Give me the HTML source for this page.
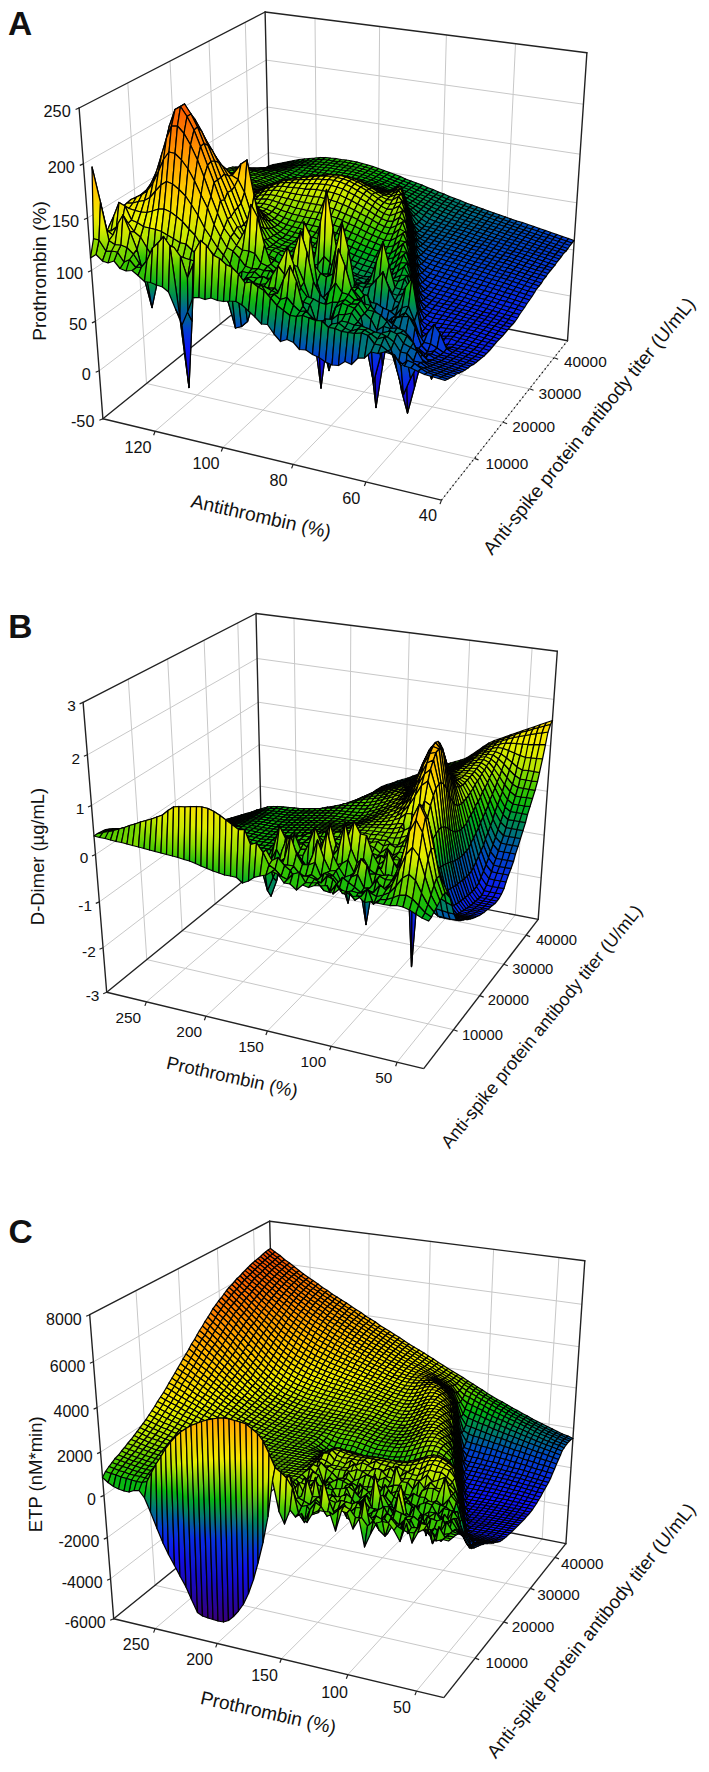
<!DOCTYPE html><html><head><meta charset="utf-8"><style>html,body{margin:0;padding:0;background:#fff;width:709px;height:1772px;overflow:hidden}svg{display:block}.au{fill:#120ed6}.av{fill:#120fd9}.aw{fill:#110fdd}.ax{fill:#1110e0}.ay{fill:#1110e3}.az{fill:#1111e6}.b0{fill:#1011e9}.b1{fill:#1012ec}.b2{fill:#1012ef}.b3{fill:#1013f3}.b4{fill:#0f13f6}.b5{fill:#0f14f9}.b6{fill:#0e16f8}.b7{fill:#0d1af4}.b8{fill:#0c1df1}.b9{fill:#0b21ed}.ba{fill:#0a24ea}.bb{fill:#0928e6}.bc{fill:#082be3}.bd{fill:#072fdf}.be{fill:#0632dc}.bf{fill:#0536d8}.bg{fill:#0439d5}.bh{fill:#033dd1}.bi{fill:#0240ce}.bj{fill:#0144ca}.bk{fill:#0048c4}.bl{fill:#004eba}.bm{fill:#0055af}.bn{fill:#005ba5}.bo{fill:#00619a}.bp{fill:#006890}.bq{fill:#006e85}.br{fill:#00747b}.bs{fill:#007b70}.bt{fill:#008166}.bu{fill:#00875c}.bv{fill:#008d52}.bw{fill:#009448}.bx{fill:#009a3e}.by{fill:#00a034}.bz{fill:#00a72a}.c0{fill:#00ad1f}.c1{fill:#00b315}.c2{fill:#08b711}.c3{fill:#12ba0e}.c4{fill:#1bbd0b}.c5{fill:#24c008}.c6{fill:#2ec305}.c7{fill:#37c602}.c8{fill:#43ca00}.c9{fill:#52cd00}.ca{fill:#60d100}.cb{fill:#6fd400}.cc{fill:#7dd800}.cd{fill:#8cdb00}.ce{fill:#9adf00}.cf{fill:#a8e200}.cg{fill:#b3e500}.ch{fill:#bae600}.ci{fill:#c0e700}.cj{fill:#c7e800}.ck{fill:#ceea00}.cl{fill:#d5eb00}.cm{fill:#dcec00}.cn{fill:#e2ed00}.co{fill:#e9ef00}.cp{fill:#f0f000}.cq{fill:#f1ed00}.cr{fill:#f2ea00}.cs{fill:#f3e800}.ct{fill:#f4e500}.cu{fill:#f5e200}.cv{fill:#f6df00}.cw{fill:#f7dc00}.cx{fill:#f8da00}.cy{fill:#f9d700}.cz{fill:#fad400}.d0{fill:#fcd100}.d1{fill:#fdce00}.d2{fill:#fecc00}.d3{fill:#ffc900}.d4{fill:#ffc600}.d5{fill:#ffc300}.d6{fill:#ffc000}.d7{fill:#ffbc00}.d8{fill:#ffb900}.d9{fill:#ffb600}.da{fill:#ffb300}.db{fill:#ffb000}.dc{fill:#ffad00}.dd{fill:#ffa900}.de{fill:#ffa600}.df{fill:#ffa300}.dg{fill:#ffa000}.dh{fill:#ff9d00}.di{fill:#ff9a00}.dj{fill:#ff9700}.dk{fill:#ff9300}.dl{fill:#ff9000}.dm{fill:#ff8d00}.dn{fill:#ff8a00}.do{fill:#ff8700}.dp{fill:#ff8400}.dq{fill:#fe8100}.dr{fill:#fe7e00}.ds{fill:#fe7b00}.dt{fill:#fd7800}.du{fill:#fd7500}.dv{fill:#fc7200}.dw{fill:#fc6f00}.dx{fill:#fc6c00}.dy{fill:#fb6900}.dz{fill:#fb6600}.e0{fill:#fb6300}.e1{fill:#fa6000}.e2{fill:#fa5d00}.e3{fill:#f95b00}.e4{fill:#f95800}.e5{fill:#f95500}.e6{fill:#f85200}.e7{fill:#f84f00}.e8{fill:#f84c00}</style></head><body><svg width="709" height="1772" viewBox="0 0 709 1772" font-family="Liberation Sans, sans-serif" fill="#111"><defs><linearGradient id="q17_20" x2="0" y2="1"><stop offset="0.00" stop-color="#3cc800"/><stop offset="1.00" stop-color="#00914c"/></linearGradient><linearGradient id="q18_21" x2="0" y2="1"><stop offset="0.00" stop-color="#76d600"/><stop offset="1.00" stop-color="#00aa24"/></linearGradient><linearGradient id="q16_19" x2="0" y2="1"><stop offset="0.00" stop-color="#16bb0d"/><stop offset="1.00" stop-color="#007875"/></linearGradient><linearGradient id="q19_22" x2="0" y2="1"><stop offset="0.00" stop-color="#afe400"/><stop offset="1.00" stop-color="#16bb0d"/></linearGradient><linearGradient id="q16_20" x2="0" y2="1"><stop offset="0.00" stop-color="#3cc800"/><stop offset="0.50" stop-color="#00aa24"/><stop offset="1.00" stop-color="#007875"/></linearGradient><linearGradient id="q17_22" x2="0" y2="1"><stop offset="0.00" stop-color="#afe400"/><stop offset="0.50" stop-color="#29c206"/><stop offset="1.00" stop-color="#00914c"/></linearGradient><linearGradient id="q15_19" x2="0" y2="1"><stop offset="0.00" stop-color="#16bb0d"/><stop offset="0.50" stop-color="#00914c"/><stop offset="1.00" stop-color="#005f9e"/></linearGradient><linearGradient id="q19_23" x2="0" y2="1"><stop offset="0.00" stop-color="#cae900"/><stop offset="0.50" stop-color="#75d600"/><stop offset="1.00" stop-color="#16bb0d"/></linearGradient><linearGradient id="q15_18" x2="0" y2="1"><stop offset="0.00" stop-color="#00aa24"/><stop offset="1.00" stop-color="#005f9e"/></linearGradient><linearGradient id="q18_22" x2="0" y2="1"><stop offset="0.00" stop-color="#afe400"/><stop offset="0.50" stop-color="#3cc800"/><stop offset="1.00" stop-color="#00aa24"/></linearGradient><linearGradient id="q15_20" x2="0" y2="1"><stop offset="0.00" stop-color="#3cc800"/><stop offset="0.50" stop-color="#009e38"/><stop offset="1.00" stop-color="#005f9e"/></linearGradient><linearGradient id="q22_26" x2="0" y2="1"><stop offset="0.00" stop-color="#f7de00"/><stop offset="0.50" stop-color="#e5ee00"/><stop offset="1.00" stop-color="#afe400"/></linearGradient><linearGradient id="q24_27" x2="0" y2="1"><stop offset="0.00" stop-color="#fbd300"/><stop offset="1.00" stop-color="#e5ee00"/></linearGradient><linearGradient id="q16_21" x2="0" y2="1"><stop offset="0.00" stop-color="#76d600"/><stop offset="0.50" stop-color="#04b513"/><stop offset="1.00" stop-color="#007875"/></linearGradient><linearGradient id="q14_18" x2="0" y2="1"><stop offset="0.00" stop-color="#00aa24"/><stop offset="0.50" stop-color="#007875"/><stop offset="1.00" stop-color="#0046c8"/></linearGradient><linearGradient id="q26_28" x2="0" y2="1"><stop offset="0.00" stop-color="#ffc800"/><stop offset="1.00" stop-color="#f7de00"/></linearGradient><linearGradient id="q27_31" x2="0" y2="1"><stop offset="0.00" stop-color="#ffa200"/><stop offset="0.50" stop-color="#ffbb00"/><stop offset="1.00" stop-color="#fbd300"/></linearGradient><linearGradient id="q26_30" x2="0" y2="1"><stop offset="0.00" stop-color="#ffaf00"/><stop offset="0.50" stop-color="#ffc800"/><stop offset="1.00" stop-color="#f7de00"/></linearGradient><linearGradient id="q29_32" x2="0" y2="1"><stop offset="0.00" stop-color="#ff9600"/><stop offset="1.00" stop-color="#ffbc00"/></linearGradient><linearGradient id="q25_28" x2="0" y2="1"><stop offset="0.00" stop-color="#ffc800"/><stop offset="1.00" stop-color="#f2e900"/></linearGradient><linearGradient id="q28_32" x2="0" y2="1"><stop offset="0.00" stop-color="#ff9600"/><stop offset="0.50" stop-color="#ffaf00"/><stop offset="1.00" stop-color="#ffc800"/></linearGradient><linearGradient id="q31_34" x2="0" y2="1"><stop offset="0.00" stop-color="#fe7e00"/><stop offset="1.00" stop-color="#ffa200"/></linearGradient><linearGradient id="q14_19" x2="0" y2="1"><stop offset="0.00" stop-color="#16bb0d"/><stop offset="0.50" stop-color="#008460"/><stop offset="1.00" stop-color="#0046c8"/></linearGradient><linearGradient id="q26_29" x2="0" y2="1"><stop offset="0.00" stop-color="#ffbc00"/><stop offset="1.00" stop-color="#f7de00"/></linearGradient><linearGradient id="q30_34" x2="0" y2="1"><stop offset="0.00" stop-color="#fe7e00"/><stop offset="0.50" stop-color="#ff9600"/><stop offset="1.00" stop-color="#ffaf00"/></linearGradient><linearGradient id="q32_36" x2="0" y2="1"><stop offset="0.00" stop-color="#fb6600"/><stop offset="0.50" stop-color="#fe7e00"/><stop offset="1.00" stop-color="#ff9600"/></linearGradient><linearGradient id="q31_35" x2="0" y2="1"><stop offset="0.00" stop-color="#fc7200"/><stop offset="0.50" stop-color="#ff8a00"/><stop offset="1.00" stop-color="#ffa200"/></linearGradient><linearGradient id="q13_17" x2="0" y2="1"><stop offset="0.00" stop-color="#00914c"/><stop offset="0.50" stop-color="#005f9e"/><stop offset="1.00" stop-color="#0438d6"/></linearGradient><linearGradient id="q23_30" x2="0" y2="1"><stop offset="0.00" stop-color="#ffaf00"/><stop offset="0.33" stop-color="#fecc00"/><stop offset="0.67" stop-color="#f4e600"/><stop offset="1.00" stop-color="#cae900"/></linearGradient><linearGradient id="q34_37" x2="0" y2="1"><stop offset="0.00" stop-color="#f95a00"/><stop offset="1.00" stop-color="#fe7e00"/></linearGradient><linearGradient id="q17_21" x2="0" y2="1"><stop offset="0.00" stop-color="#76d600"/><stop offset="0.50" stop-color="#16bb0d"/><stop offset="1.00" stop-color="#00914c"/></linearGradient><linearGradient id="q21_25" x2="0" y2="1"><stop offset="0.00" stop-color="#f2e900"/><stop offset="0.50" stop-color="#cae900"/><stop offset="1.00" stop-color="#76d600"/></linearGradient><linearGradient id="q32_35" x2="0" y2="1"><stop offset="0.00" stop-color="#fc7200"/><stop offset="1.00" stop-color="#ff9600"/></linearGradient><linearGradient id="q24_30" x2="0" y2="1"><stop offset="0.00" stop-color="#ffaf00"/><stop offset="0.50" stop-color="#fbd300"/><stop offset="1.00" stop-color="#e5ee00"/></linearGradient><linearGradient id="q28_31" x2="0" y2="1"><stop offset="0.00" stop-color="#ffa200"/><stop offset="1.00" stop-color="#ffc800"/></linearGradient><linearGradient id="q23_26" x2="0" y2="1"><stop offset="0.00" stop-color="#f7de00"/><stop offset="1.00" stop-color="#cae900"/></linearGradient><linearGradient id="q33_37" x2="0" y2="1"><stop offset="0.00" stop-color="#f95a00"/><stop offset="0.50" stop-color="#fc7200"/><stop offset="1.00" stop-color="#ff8a00"/></linearGradient><linearGradient id="q29_33" x2="0" y2="1"><stop offset="0.00" stop-color="#ff8a00"/><stop offset="0.50" stop-color="#ffa300"/><stop offset="1.00" stop-color="#ffbc00"/></linearGradient><linearGradient id="q33_36" x2="0" y2="1"><stop offset="0.00" stop-color="#fb6600"/><stop offset="1.00" stop-color="#ff8a00"/></linearGradient><linearGradient id="q23_31" x2="0" y2="1"><stop offset="0.00" stop-color="#ffa200"/><stop offset="0.33" stop-color="#ffc400"/><stop offset="0.67" stop-color="#f5e200"/><stop offset="1.00" stop-color="#cae900"/></linearGradient><linearGradient id="q22_27" x2="0" y2="1"><stop offset="0.00" stop-color="#fbd300"/><stop offset="0.50" stop-color="#f0ef00"/><stop offset="1.00" stop-color="#afe400"/></linearGradient><linearGradient id="q22_31" x2="0" y2="1"><stop offset="0.00" stop-color="#ffa200"/><stop offset="0.33" stop-color="#ffc800"/><stop offset="0.67" stop-color="#f2e900"/><stop offset="1.00" stop-color="#afe400"/></linearGradient><linearGradient id="q19_24" x2="0" y2="1"><stop offset="0.00" stop-color="#e5ee00"/><stop offset="0.50" stop-color="#92dd00"/><stop offset="1.00" stop-color="#16bb0d"/></linearGradient><linearGradient id="q27_30" x2="0" y2="1"><stop offset="0.00" stop-color="#ffaf00"/><stop offset="1.00" stop-color="#fbd300"/></linearGradient><linearGradient id="q25_29" x2="0" y2="1"><stop offset="0.00" stop-color="#ffbc00"/><stop offset="0.50" stop-color="#fbd300"/><stop offset="1.00" stop-color="#f2e900"/></linearGradient><linearGradient id="q21_27" x2="0" y2="1"><stop offset="0.00" stop-color="#fbd300"/><stop offset="0.50" stop-color="#e5ee00"/><stop offset="1.00" stop-color="#76d600"/></linearGradient><linearGradient id="q19_28" x2="0" y2="1"><stop offset="0.00" stop-color="#ffc800"/><stop offset="0.33" stop-color="#f2e900"/><stop offset="0.67" stop-color="#afe400"/><stop offset="1.00" stop-color="#16bb0d"/></linearGradient><linearGradient id="q22_25" x2="0" y2="1"><stop offset="0.00" stop-color="#f2e900"/><stop offset="1.00" stop-color="#afe400"/></linearGradient><linearGradient id="q18_24" x2="0" y2="1"><stop offset="0.00" stop-color="#e5ee00"/><stop offset="0.50" stop-color="#76d600"/><stop offset="1.00" stop-color="#00aa24"/></linearGradient><linearGradient id="q20_23" x2="0" y2="1"><stop offset="0.00" stop-color="#cae900"/><stop offset="1.00" stop-color="#3cc800"/></linearGradient><linearGradient id="q24_28" x2="0" y2="1"><stop offset="0.00" stop-color="#ffc800"/><stop offset="0.50" stop-color="#f7de00"/><stop offset="1.00" stop-color="#e5ee00"/></linearGradient><linearGradient id="q17_23" x2="0" y2="1"><stop offset="0.00" stop-color="#cae900"/><stop offset="0.50" stop-color="#3cc800"/><stop offset="1.00" stop-color="#00914c"/></linearGradient><linearGradient id="q23_25" x2="0" y2="1"><stop offset="0.00" stop-color="#f2e900"/><stop offset="1.00" stop-color="#cae900"/></linearGradient><linearGradient id="q13_16" x2="0" y2="1"><stop offset="0.00" stop-color="#007875"/><stop offset="1.00" stop-color="#0438d6"/></linearGradient><linearGradient id="q14_21" x2="0" y2="1"><stop offset="0.00" stop-color="#76d600"/><stop offset="0.33" stop-color="#0ab711"/><stop offset="0.67" stop-color="#008067"/><stop offset="1.00" stop-color="#0046c8"/></linearGradient><linearGradient id="q18_23" x2="0" y2="1"><stop offset="0.00" stop-color="#cae900"/><stop offset="0.50" stop-color="#59cf00"/><stop offset="1.00" stop-color="#00aa24"/></linearGradient><linearGradient id="q14_20" x2="0" y2="1"><stop offset="0.00" stop-color="#3cc800"/><stop offset="0.50" stop-color="#00914c"/><stop offset="1.00" stop-color="#0046c8"/></linearGradient><linearGradient id="q20_25" x2="0" y2="1"><stop offset="0.00" stop-color="#f2e900"/><stop offset="0.50" stop-color="#bde600"/><stop offset="1.00" stop-color="#3cc800"/></linearGradient><linearGradient id="q12_16" x2="0" y2="1"><stop offset="0.00" stop-color="#007875"/><stop offset="0.50" stop-color="#0046c8"/><stop offset="1.00" stop-color="#082ae4"/></linearGradient><linearGradient id="q20_22" x2="0" y2="1"><stop offset="0.00" stop-color="#afe400"/><stop offset="1.00" stop-color="#3cc800"/></linearGradient><linearGradient id="q17_25" x2="0" y2="1"><stop offset="0.00" stop-color="#f2e900"/><stop offset="0.33" stop-color="#b8e600"/><stop offset="0.67" stop-color="#30c404"/><stop offset="1.00" stop-color="#00914c"/></linearGradient><linearGradient id="q19_25" x2="0" y2="1"><stop offset="0.00" stop-color="#f2e900"/><stop offset="0.50" stop-color="#afe400"/><stop offset="1.00" stop-color="#16bb0d"/></linearGradient><linearGradient id="q13_20" x2="0" y2="1"><stop offset="0.00" stop-color="#3cc800"/><stop offset="0.33" stop-color="#00a231"/><stop offset="0.67" stop-color="#006790"/><stop offset="1.00" stop-color="#0438d6"/></linearGradient><linearGradient id="q18_25" x2="0" y2="1"><stop offset="0.00" stop-color="#f2e900"/><stop offset="0.33" stop-color="#c1e700"/><stop offset="0.67" stop-color="#4fcd00"/><stop offset="1.00" stop-color="#00aa24"/></linearGradient><linearGradient id="q13_19" x2="0" y2="1"><stop offset="0.00" stop-color="#16bb0d"/><stop offset="0.50" stop-color="#007875"/><stop offset="1.00" stop-color="#0438d6"/></linearGradient><linearGradient id="q11_15" x2="0" y2="1"><stop offset="0.00" stop-color="#005f9e"/><stop offset="0.50" stop-color="#0438d6"/><stop offset="1.00" stop-color="#0c1cf2"/></linearGradient><linearGradient id="q11_24" x2="0" y2="1"><stop offset="0.00" stop-color="#e5ee00"/><stop offset="0.20" stop-color="#8cdc00"/><stop offset="0.40" stop-color="#0fb90f"/><stop offset="0.60" stop-color="#007d6c"/><stop offset="0.80" stop-color="#0240ce"/><stop offset="1.00" stop-color="#0c1cf2"/></linearGradient><linearGradient id="q15_22" x2="0" y2="1"><stop offset="0.00" stop-color="#afe400"/><stop offset="0.33" stop-color="#30c404"/><stop offset="0.67" stop-color="#00993f"/><stop offset="1.00" stop-color="#005f9e"/></linearGradient><linearGradient id="q14_23" x2="0" y2="1"><stop offset="0.00" stop-color="#cae900"/><stop offset="0.33" stop-color="#3cc800"/><stop offset="0.67" stop-color="#00914c"/><stop offset="1.00" stop-color="#0046c8"/></linearGradient><linearGradient id="q5_18" x2="0" y2="1"><stop offset="0.00" stop-color="#00aa24"/><stop offset="0.20" stop-color="#00698e"/><stop offset="0.40" stop-color="#0535d9"/><stop offset="0.60" stop-color="#0f14f8"/><stop offset="0.80" stop-color="#120ed7"/><stop offset="1.00" stop-color="#1809b6"/></linearGradient><linearGradient id="q12_18" x2="0" y2="1"><stop offset="0.00" stop-color="#00aa24"/><stop offset="0.50" stop-color="#005f9e"/><stop offset="1.00" stop-color="#082ae4"/></linearGradient><linearGradient id="q5_22" x2="0" y2="1"><stop offset="0.00" stop-color="#afe400"/><stop offset="0.20" stop-color="#08b611"/><stop offset="0.40" stop-color="#006496"/><stop offset="0.60" stop-color="#0927e7"/><stop offset="0.80" stop-color="#1110e1"/><stop offset="1.00" stop-color="#1809b6"/></linearGradient><linearGradient id="q5_16" x2="0" y2="1"><stop offset="0.00" stop-color="#007875"/><stop offset="0.25" stop-color="#033cd2"/><stop offset="0.50" stop-color="#0f15f9"/><stop offset="0.75" stop-color="#120ed9"/><stop offset="1.00" stop-color="#1809b6"/></linearGradient><linearGradient id="q11_20" x2="0" y2="1"><stop offset="0.00" stop-color="#3cc800"/><stop offset="0.33" stop-color="#00914c"/><stop offset="0.67" stop-color="#0046c8"/><stop offset="1.00" stop-color="#0c1cf2"/></linearGradient><linearGradient id="q5_21" x2="0" y2="1"><stop offset="0.00" stop-color="#76d600"/><stop offset="0.20" stop-color="#00a52c"/><stop offset="0.40" stop-color="#0055af"/><stop offset="0.60" stop-color="#0b22ec"/><stop offset="0.80" stop-color="#110fde"/><stop offset="1.00" stop-color="#1809b6"/></linearGradient><linearGradient id="q11_18" x2="0" y2="1"><stop offset="0.00" stop-color="#00aa24"/><stop offset="0.33" stop-color="#007083"/><stop offset="0.67" stop-color="#033dd1"/><stop offset="1.00" stop-color="#0c1cf2"/></linearGradient><linearGradient id="q12_17" x2="0" y2="1"><stop offset="0.00" stop-color="#00914c"/><stop offset="0.50" stop-color="#0053b3"/><stop offset="1.00" stop-color="#082ae4"/></linearGradient><linearGradient id="q5_17" x2="0" y2="1"><stop offset="0.00" stop-color="#00914c"/><stop offset="0.25" stop-color="#0046c8"/><stop offset="0.50" stop-color="#0c1cf2"/><stop offset="0.75" stop-color="#120fdc"/><stop offset="1.00" stop-color="#1809b6"/></linearGradient><linearGradient id="q16_23" x2="0" y2="1"><stop offset="0.00" stop-color="#cae900"/><stop offset="0.33" stop-color="#62d100"/><stop offset="0.67" stop-color="#00b217"/><stop offset="1.00" stop-color="#007875"/></linearGradient><linearGradient id="q14_17" x2="0" y2="1"><stop offset="0.00" stop-color="#00914c"/><stop offset="1.00" stop-color="#0046c8"/></linearGradient><linearGradient id="q9_12" x2="0" y2="1"><stop offset="0.00" stop-color="#082ae4"/><stop offset="1.00" stop-color="#1011e8"/></linearGradient><linearGradient id="q7_11" x2="0" y2="1"><stop offset="0.00" stop-color="#0c1cf2"/><stop offset="0.50" stop-color="#1011e8"/><stop offset="1.00" stop-color="#130dd0"/></linearGradient><linearGradient id="q12_20" x2="0" y2="1"><stop offset="0.00" stop-color="#3cc800"/><stop offset="0.33" stop-color="#00993f"/><stop offset="0.67" stop-color="#0057ac"/><stop offset="1.00" stop-color="#082ae4"/></linearGradient><linearGradient id="q21_24" x2="0" y2="1"><stop offset="0.00" stop-color="#e5ee00"/><stop offset="1.00" stop-color="#76d600"/></linearGradient><linearGradient id="q9_16" x2="0" y2="1"><stop offset="0.00" stop-color="#007875"/><stop offset="0.33" stop-color="#0141cd"/><stop offset="0.67" stop-color="#0b21ed"/><stop offset="1.00" stop-color="#1011e8"/></linearGradient><linearGradient id="q10_18" x2="0" y2="1"><stop offset="0.00" stop-color="#00aa24"/><stop offset="0.33" stop-color="#006790"/><stop offset="0.67" stop-color="#0633db"/><stop offset="1.00" stop-color="#0f13f5"/></linearGradient><linearGradient id="q7_12" x2="0" y2="1"><stop offset="0.00" stop-color="#082ae4"/><stop offset="0.50" stop-color="#1012ef"/><stop offset="1.00" stop-color="#130dd0"/></linearGradient><linearGradient id="q4_15" x2="0" y2="1"><stop offset="0.00" stop-color="#005f9e"/><stop offset="0.25" stop-color="#072ee0"/><stop offset="0.50" stop-color="#1012ef"/><stop offset="0.75" stop-color="#130ccc"/><stop offset="1.00" stop-color="#1e07aa"/></linearGradient><linearGradient id="q4_14" x2="0" y2="1"><stop offset="0.00" stop-color="#0046c8"/><stop offset="0.25" stop-color="#0a23eb"/><stop offset="0.50" stop-color="#1011e8"/><stop offset="0.75" stop-color="#130cc9"/><stop offset="1.00" stop-color="#1e07aa"/></linearGradient><linearGradient id="q9_15" x2="0" y2="1"><stop offset="0.00" stop-color="#005f9e"/><stop offset="0.50" stop-color="#082ae4"/><stop offset="1.00" stop-color="#1011e8"/></linearGradient><linearGradient id="q4_16" x2="0" y2="1"><stop offset="0.00" stop-color="#007875"/><stop offset="0.25" stop-color="#0438d6"/><stop offset="0.50" stop-color="#0f13f5"/><stop offset="0.75" stop-color="#130dd0"/><stop offset="1.00" stop-color="#1e07aa"/></linearGradient><linearGradient id="q12_15" x2="0" y2="1"><stop offset="0.00" stop-color="#005f9e"/><stop offset="1.00" stop-color="#082ae4"/></linearGradient><linearGradient id="q13_18" x2="0" y2="1"><stop offset="0.00" stop-color="#00aa24"/><stop offset="0.50" stop-color="#006c89"/><stop offset="1.00" stop-color="#0438d6"/></linearGradient><linearGradient id="q15_23" x2="0" y2="1"><stop offset="0.00" stop-color="#cae900"/><stop offset="0.33" stop-color="#4fcd00"/><stop offset="0.67" stop-color="#00a231"/><stop offset="1.00" stop-color="#005f9e"/></linearGradient><linearGradient id="q8_15" x2="0" y2="1"><stop offset="0.00" stop-color="#005f9e"/><stop offset="0.33" stop-color="#0633db"/><stop offset="0.67" stop-color="#0f14f9"/><stop offset="1.00" stop-color="#120fdc"/></linearGradient><linearGradient id="q5_14" x2="0" y2="1"><stop offset="0.00" stop-color="#0046c8"/><stop offset="0.33" stop-color="#0c1cf2"/><stop offset="0.67" stop-color="#120fdc"/><stop offset="1.00" stop-color="#1809b6"/></linearGradient><linearGradient id="q11_16" x2="0" y2="1"><stop offset="0.00" stop-color="#007875"/><stop offset="0.50" stop-color="#023fcf"/><stop offset="1.00" stop-color="#0c1cf2"/></linearGradient><linearGradient id="q5_13" x2="0" y2="1"><stop offset="0.00" stop-color="#0438d6"/><stop offset="0.33" stop-color="#0f14f9"/><stop offset="0.67" stop-color="#120ed8"/><stop offset="1.00" stop-color="#1809b6"/></linearGradient><linearGradient id="q8_13" x2="0" y2="1"><stop offset="0.00" stop-color="#0438d6"/><stop offset="0.50" stop-color="#0f15f9"/><stop offset="1.00" stop-color="#120fdc"/></linearGradient><linearGradient id="q11_17" x2="0" y2="1"><stop offset="0.00" stop-color="#00914c"/><stop offset="0.50" stop-color="#0046c8"/><stop offset="1.00" stop-color="#0c1cf2"/></linearGradient><linearGradient id="q9_17" x2="0" y2="1"><stop offset="0.00" stop-color="#00914c"/><stop offset="0.33" stop-color="#004eba"/><stop offset="0.67" stop-color="#0a26e8"/><stop offset="1.00" stop-color="#1011e8"/></linearGradient><linearGradient id="q8_14" x2="0" y2="1"><stop offset="0.00" stop-color="#0046c8"/><stop offset="0.50" stop-color="#0c1cf2"/><stop offset="1.00" stop-color="#120fdc"/></linearGradient><linearGradient id="q10_15" x2="0" y2="1"><stop offset="0.00" stop-color="#005f9e"/><stop offset="0.50" stop-color="#0631dd"/><stop offset="1.00" stop-color="#0f13f5"/></linearGradient><linearGradient id="q23_28" x2="0" y2="1"><stop offset="0.00" stop-color="#ffc800"/><stop offset="0.50" stop-color="#f5e400"/><stop offset="1.00" stop-color="#cae900"/></linearGradient><linearGradient id="q24_29" x2="0" y2="1"><stop offset="0.00" stop-color="#ffbc00"/><stop offset="0.50" stop-color="#f9d900"/><stop offset="1.00" stop-color="#e5ee00"/></linearGradient><linearGradient id="q20_26" x2="0" y2="1"><stop offset="0.00" stop-color="#f7de00"/><stop offset="0.50" stop-color="#cae900"/><stop offset="1.00" stop-color="#3cc800"/></linearGradient><linearGradient id="q21_26" x2="0" y2="1"><stop offset="0.00" stop-color="#f7de00"/><stop offset="0.50" stop-color="#d8ec00"/><stop offset="1.00" stop-color="#76d600"/></linearGradient><linearGradient id="q5_23" x2="0" y2="1"><stop offset="0.00" stop-color="#cae900"/><stop offset="0.20" stop-color="#25c008"/><stop offset="0.40" stop-color="#00737d"/><stop offset="0.60" stop-color="#082de1"/><stop offset="0.80" stop-color="#1110e3"/><stop offset="1.00" stop-color="#1809b6"/></linearGradient><linearGradient id="q5_25" x2="0" y2="1"><stop offset="0.00" stop-color="#f2e900"/><stop offset="0.20" stop-color="#76d600"/><stop offset="0.40" stop-color="#00914c"/><stop offset="0.60" stop-color="#0438d6"/><stop offset="0.80" stop-color="#1011e8"/><stop offset="1.00" stop-color="#1809b6"/></linearGradient><linearGradient id="q16_22" x2="0" y2="1"><stop offset="0.00" stop-color="#afe400"/><stop offset="0.50" stop-color="#17bc0c"/><stop offset="1.00" stop-color="#007875"/></linearGradient><linearGradient id="q20_24" x2="0" y2="1"><stop offset="0.00" stop-color="#e5ee00"/><stop offset="0.50" stop-color="#afe400"/><stop offset="1.00" stop-color="#3cc800"/></linearGradient><linearGradient id="q19_26" x2="0" y2="1"><stop offset="0.00" stop-color="#f7de00"/><stop offset="0.33" stop-color="#dcec00"/><stop offset="0.67" stop-color="#89db00"/><stop offset="1.00" stop-color="#16bb0d"/></linearGradient><linearGradient id="q17_24" x2="0" y2="1"><stop offset="0.00" stop-color="#e5ee00"/><stop offset="0.33" stop-color="#9cdf00"/><stop offset="0.67" stop-color="#23c008"/><stop offset="1.00" stop-color="#00914c"/></linearGradient><linearGradient id="q13_21" x2="0" y2="1"><stop offset="0.00" stop-color="#76d600"/><stop offset="0.33" stop-color="#00b217"/><stop offset="0.67" stop-color="#007083"/><stop offset="1.00" stop-color="#0438d6"/></linearGradient><linearGradient id="q23_27" x2="0" y2="1"><stop offset="0.00" stop-color="#fbd300"/><stop offset="0.50" stop-color="#f2e900"/><stop offset="1.00" stop-color="#cae900"/></linearGradient><linearGradient id="q15_21" x2="0" y2="1"><stop offset="0.00" stop-color="#76d600"/><stop offset="0.50" stop-color="#00aa24"/><stop offset="1.00" stop-color="#005f9e"/></linearGradient><linearGradient id="q11_14" x2="0" y2="1"><stop offset="0.00" stop-color="#0046c8"/><stop offset="1.00" stop-color="#0c1cf2"/></linearGradient><linearGradient id="q12_19" x2="0" y2="1"><stop offset="0.00" stop-color="#16bb0d"/><stop offset="0.33" stop-color="#008959"/><stop offset="0.67" stop-color="#004eba"/><stop offset="1.00" stop-color="#082ae4"/></linearGradient><linearGradient id="q10_14" x2="0" y2="1"><stop offset="0.00" stop-color="#0046c8"/><stop offset="0.50" stop-color="#082ae4"/><stop offset="1.00" stop-color="#0f13f5"/></linearGradient><linearGradient id="q10_16" x2="0" y2="1"><stop offset="0.00" stop-color="#007875"/><stop offset="0.50" stop-color="#0438d6"/><stop offset="1.00" stop-color="#0f13f5"/></linearGradient><linearGradient id="q10_13" x2="0" y2="1"><stop offset="0.00" stop-color="#0438d6"/><stop offset="1.00" stop-color="#0f13f5"/></linearGradient><linearGradient id="q13_22" x2="0" y2="1"><stop offset="0.00" stop-color="#afe400"/><stop offset="0.33" stop-color="#17bc0c"/><stop offset="0.67" stop-color="#007875"/><stop offset="1.00" stop-color="#0438d6"/></linearGradient><linearGradient id="q9_25" x2="0" y2="1"><stop offset="0.00" stop-color="#f2e900"/><stop offset="0.20" stop-color="#a3e100"/><stop offset="0.40" stop-color="#07b612"/><stop offset="0.60" stop-color="#00698e"/><stop offset="0.80" stop-color="#082de1"/><stop offset="1.00" stop-color="#1011e8"/></linearGradient><linearGradient id="q8_26" x2="0" y2="1"><stop offset="0.00" stop-color="#f7de00"/><stop offset="0.20" stop-color="#bae600"/><stop offset="0.40" stop-color="#0fb90f"/><stop offset="0.60" stop-color="#006496"/><stop offset="0.80" stop-color="#0a25e9"/><stop offset="1.00" stop-color="#120fdc"/></linearGradient><linearGradient id="q6_27" x2="0" y2="1"><stop offset="0.00" stop-color="#fbd300"/><stop offset="0.20" stop-color="#c5e800"/><stop offset="0.40" stop-color="#08b611"/><stop offset="0.60" stop-color="#0050b7"/><stop offset="0.80" stop-color="#0f14f8"/><stop offset="1.00" stop-color="#140bc3"/></linearGradient><linearGradient id="q4_28" x2="0" y2="1"><stop offset="0.00" stop-color="#ffc800"/><stop offset="0.20" stop-color="#cfea00"/><stop offset="0.40" stop-color="#00b414"/><stop offset="0.60" stop-color="#0240ce"/><stop offset="0.80" stop-color="#1111e6"/><stop offset="1.00" stop-color="#1e07aa"/></linearGradient><linearGradient id="q3_29" x2="0" y2="1"><stop offset="0.00" stop-color="#ffbc00"/><stop offset="0.20" stop-color="#e0ed00"/><stop offset="0.40" stop-color="#07b612"/><stop offset="0.60" stop-color="#033ed0"/><stop offset="0.80" stop-color="#110fde"/><stop offset="1.00" stop-color="#24059d"/></linearGradient><linearGradient id="q1_29" x2="0" y2="1"><stop offset="0.00" stop-color="#ffbc00"/><stop offset="0.20" stop-color="#d5eb00"/><stop offset="0.40" stop-color="#00a52c"/><stop offset="0.60" stop-color="#082de1"/><stop offset="0.80" stop-color="#130cca"/><stop offset="1.00" stop-color="#310284"/></linearGradient><linearGradient id="q0_30" x2="0" y2="1"><stop offset="0.00" stop-color="#ffaf00"/><stop offset="0.20" stop-color="#e5ee00"/><stop offset="0.40" stop-color="#00aa24"/><stop offset="0.60" stop-color="#082ae4"/><stop offset="0.80" stop-color="#140bc3"/><stop offset="1.00" stop-color="#370078"/></linearGradient><linearGradient id="q0_31" x2="0" y2="1"><stop offset="0.00" stop-color="#ffa200"/><stop offset="0.20" stop-color="#f2ec00"/><stop offset="0.40" stop-color="#07b612"/><stop offset="0.60" stop-color="#0730de"/><stop offset="0.80" stop-color="#130bc5"/><stop offset="1.00" stop-color="#370078"/></linearGradient><linearGradient id="q1_31" x2="0" y2="1"><stop offset="0.00" stop-color="#ffa200"/><stop offset="0.20" stop-color="#f2e900"/><stop offset="0.40" stop-color="#16bb0d"/><stop offset="0.60" stop-color="#0438d6"/><stop offset="0.80" stop-color="#130dcf"/><stop offset="1.00" stop-color="#310284"/></linearGradient><linearGradient id="q3_31" x2="0" y2="1"><stop offset="0.00" stop-color="#ffa200"/><stop offset="0.20" stop-color="#f4e500"/><stop offset="0.40" stop-color="#34c603"/><stop offset="0.60" stop-color="#004bc0"/><stop offset="0.80" stop-color="#1110e3"/><stop offset="1.00" stop-color="#24059d"/></linearGradient><linearGradient id="q4_31" x2="0" y2="1"><stop offset="0.00" stop-color="#ffa200"/><stop offset="0.20" stop-color="#f5e300"/><stop offset="0.40" stop-color="#48cb00"/><stop offset="0.60" stop-color="#005aa7"/><stop offset="0.80" stop-color="#1012ee"/><stop offset="1.00" stop-color="#1e07aa"/></linearGradient><linearGradient id="q6_31" x2="0" y2="1"><stop offset="0.00" stop-color="#ffa200"/><stop offset="0.20" stop-color="#f7de00"/><stop offset="0.40" stop-color="#76d600"/><stop offset="0.60" stop-color="#007875"/><stop offset="0.80" stop-color="#0c1cf2"/><stop offset="1.00" stop-color="#140bc3"/></linearGradient><linearGradient id="q8_30" x2="0" y2="1"><stop offset="0.00" stop-color="#ffaf00"/><stop offset="0.20" stop-color="#f5e300"/><stop offset="0.40" stop-color="#81d900"/><stop offset="0.60" stop-color="#008c54"/><stop offset="0.80" stop-color="#0730de"/><stop offset="1.00" stop-color="#120fdc"/></linearGradient><linearGradient id="q17_19" x2="0" y2="1"><stop offset="0.00" stop-color="#16bb0d"/><stop offset="1.00" stop-color="#00914c"/></linearGradient><linearGradient id="q11_30" x2="0" y2="1"><stop offset="0.00" stop-color="#ffaf00"/><stop offset="0.20" stop-color="#f8dc00"/><stop offset="0.40" stop-color="#bae600"/><stop offset="0.60" stop-color="#07b612"/><stop offset="0.80" stop-color="#005aa7"/><stop offset="1.00" stop-color="#0c1cf2"/></linearGradient><linearGradient id="q14_29" x2="0" y2="1"><stop offset="0.00" stop-color="#ffbc00"/><stop offset="0.20" stop-color="#f7de00"/><stop offset="0.40" stop-color="#cae900"/><stop offset="0.60" stop-color="#3cc800"/><stop offset="0.80" stop-color="#00914c"/><stop offset="1.00" stop-color="#0046c8"/></linearGradient><linearGradient id="q18_27" x2="0" y2="1"><stop offset="0.00" stop-color="#fbd300"/><stop offset="0.33" stop-color="#e5ee00"/><stop offset="0.67" stop-color="#76d600"/><stop offset="1.00" stop-color="#00aa24"/></linearGradient><linearGradient id="q18_20" x2="0" y2="1"><stop offset="0.00" stop-color="#3cc800"/><stop offset="1.00" stop-color="#00aa24"/></linearGradient></defs><g stroke="#c8c8c8" stroke-width="1"><line x1="83.3" y1="163.9" x2="266.2" y2="60.1" /><line x1="266.2" y1="60.1" x2="583.4" y2="104.2" /><line x1="87.5" y1="218.0" x2="267.3" y2="107.0" /><line x1="267.3" y1="107.0" x2="580.0" y2="154.2" /><line x1="91.5" y1="270.5" x2="268.4" y2="152.7" /><line x1="268.4" y1="152.7" x2="576.8" y2="202.8" /><line x1="95.4" y1="321.4" x2="269.4" y2="197.1" /><line x1="269.4" y1="197.1" x2="573.6" y2="250.0" /><line x1="99.2" y1="370.8" x2="270.4" y2="240.5" /><line x1="270.4" y1="240.5" x2="570.5" y2="296.0" /><line x1="146.5" y1="383.5" x2="127.8" y2="82.8" /><line x1="146.5" y1="383.5" x2="474.5" y2="458.4" /><line x1="184.6" y1="352.8" x2="170.0" y2="61.1" /><line x1="184.6" y1="352.8" x2="503.1" y2="422.3" /><line x1="220.1" y1="324.2" x2="209.0" y2="40.9" /><line x1="220.1" y1="324.2" x2="529.5" y2="388.8" /><line x1="253.1" y1="297.5" x2="245.3" y2="22.2" /><line x1="253.1" y1="297.5" x2="554.1" y2="357.7" /><line x1="317.5" y1="291.8" x2="315.0" y2="18.3" /><line x1="155.1" y1="431.2" x2="317.5" y2="291.8" /><line x1="377.2" y1="303.5" x2="379.6" y2="26.5" /><line x1="222.8" y1="447.5" x2="377.2" y2="303.5" /><line x1="438.7" y1="315.5" x2="446.4" y2="34.9" /><line x1="293.1" y1="464.4" x2="438.7" y2="315.5" /><line x1="502.1" y1="327.9" x2="515.5" y2="43.6" /><line x1="365.9" y1="482.0" x2="502.1" y2="327.9" /></g><g stroke="#222" stroke-width="1.4" stroke-linecap="round"><line x1="79.1" y1="108.0" x2="265.1" y2="12.0" /><line x1="265.1" y1="12.0" x2="586.9" y2="52.7" /><line x1="265.1" y1="12.0" x2="271.4" y2="282.8" /><line x1="586.9" y1="52.7" x2="567.5" y2="340.7" /><line x1="102.9" y1="418.7" x2="271.4" y2="282.8" /><line x1="271.4" y1="282.8" x2="567.5" y2="340.7" /><line x1="79.1" y1="108.0" x2="102.9" y2="418.7" /></g><g transform="scale(.5)" stroke="#000" stroke-width="2.50" stroke-linejoin="round"><path class=bv d="M532 335l10-2 5-4-10 3zM526 338l10-3 6-2-10 2zM861 384l11 5 5-5-11-5zM872 389l11 4 5-5-11-4zM856 389l11 4 5-4-11-5zM867 393l11 5 5-5-11-4zM851 393l11 5 5-5-11-4zM846 398l11 5 5-5-11-5zM841 403l11 5 5-5-11-5zM836 408l11 5 5-5-11-5zM831 412l11 7 5-6-11-5zM821 419l11 10 5-5-11-8zM815 417l12 15 5-3-11-10zM728 553l12 0 6-5-12-5zM740 553l12 2 6-5-12-2zM709 551l12 5 7-3-13-4zM721 556l13 3 6-6-12 0zM734 559l12 1 6-5-12-2zM715 559l13 8 6-8-13-3zM722 591l12 6 6-24-12 2zM796 591l13-5 6-9-13 2zM690 656l13 6 6-12-13-5zM683 663l13 2 7-3-13-6z"/><path class=bw d="M542 333l10-3 6-3-11 2zM536 335l10-2 6-3-10 3zM850 380l11 4 5-5-11-4zM845 384l11 5 5-5-11-4zM840 389l11 4 5-4-11-5zM835 393l11 5 5-5-11-4zM830 398l11 5 5-5-11-5zM825 402l11 6 5-5-11-5zM820 406l11 6 5-4-11-6zM815 409l11 7 5-4-11-6zM734 543l12 5 6-10-12-4zM703 543l12 6 6-9-12-7zM715 549l13 4 6-10-13-3zM697 547l12 4 6-2-12-6zM764 558l13 1 6-9-13 2zM703 555l12 4 6-3-12-5zM728 567l12-7 6 0-12-1zM697 563l12 3 6-7-12-4zM709 566l13 0 6 1-13-8zM722 566l12 2 6-8-12 7zM809 557l12 23 5 10-12-39zM715 570l13 5 6-7-12-2zM802 579l13-2 6 3-12-23zM709 567l13 24 6-16-13-5zM601 633l12-3 7-21-13-5z"/><path class=bx d="M552 330l10-2 6-3-10 2zM546 333l10-2 6-3-10 2zM530 336l10-2 6-1-10 2zM839 375l11 5 5-5-11-5zM834 380l11 4 5-4-11-5zM829 384l11 5 5-5-11-4zM824 388l11 5 5-4-11-5zM819 392l11 6 5-5-11-5zM814 396l11 6 5-4-11-6zM809 399l11 7 5-4-11-6zM803 401l12 8 5-3-11-7zM809 408l12 11 5-3-11-7zM740 534l12 4 6-10-13-4zM709 533l12 7 6-10-12-5zM721 540l13 3 6-9-13-4zM691 538l12 5 6-10-12-3zM685 542l12 5 6-4-12-5zM770 552l13-2 6-14-13 5zM691 549l12 6 6-4-12-4zM777 559l12-3 6-13-12 7zM790 575l12 4 7-22-13 6zM728 575l12-2 6-6-12 1zM658 648l13-33 6-11-12 0z"/><path class=by d="M562 328l10-2 6-3-10 2zM556 331l11-2 5-3-10 2zM540 334l11-1 5-2-10 2zM508 339l10-2 6 0-10 2zM817 366l11 5 5-5-11-4zM828 371l11 4 5-5-11-4zM812 371l11 4 5-4-11-5zM823 375l11 5 5-5-11-4zM807 375l11 4 5-4-11-4zM818 379l11 5 5-4-11-5zM802 379l11 4 5-4-11-4zM813 383l11 5 5-4-11-5zM808 387l11 5 5-4-11-5zM803 390l11 6 5-4-11-5zM797 393l12 6 5-3-11-6zM804 402l11 15 6 2-12-11zM715 525l12 5 6-10-12-5zM727 530l13 4 5-10-12-4zM697 530l12 3 6-8-12-5zM764 540l12 1 6-12-12 1zM783 560l13 3 6-13-13 6zM664 639l13-10 7-23-13 9zM683 642l13 3 7-19-13 3z"/><path class=bz d="M572 326l11-2 5-3-10 2zM567 329l10-2 6-3-11 2zM551 333l10-2 6-2-11 2zM534 335l11-1 6-1-11 1zM545 334l10-1 6-2-10 2zM518 337l11-1 5-1-10 2zM502 338l10-1 6 0-10 2zM806 362l11 4 5-4-11-4zM801 366l11 5 5-5-11-4zM796 370l11 5 5-4-11-5zM791 374l11 5 5-4-11-5zM786 377l11 5 5-3-11-5zM797 382l11 5 5-4-11-4zM792 385l11 5 5-3-11-5zM792 394l11 7 6-2-12-6zM733 520l12 4 6-11-12-4zM703 520l12 5 6-10-12-5zM745 524l13 4 6-11-13-4zM685 523l12 7 6-10-12-6zM770 530l12-1 6-14-12 3zM776 541l13-5 6-16-13 9zM783 550l12-7 6-18-12 11zM808 533l12 22 5 11-11-40zM789 556l13-6 6-17-13 10zM654 556l12-2 6-7-12-22zM802 550l12 1 6 4-12-22zM796 563l13-6 5-6-12-1z"/><path class=c0 d="M583 324l10-1 6-4-11 2zM577 327l10-1 6-3-10 1zM561 331l10-1 6-3-10 2zM555 333l10-1 6-2-10 1zM539 335l10-1 6-1-10 1zM512 337l11-1 6 0-11 1zM795 358l11 4 5-4-10-5zM779 358l11 4 5-4-10-4zM790 362l11 4 5-4-11-4zM785 366l11 4 5-4-11-4zM780 369l11 5 5-4-11-4zM775 373l11 4 5-3-11-5zM780 380l12 5 5-3-11-5zM775 381l11 6 6-2-12-5zM781 387l11 7 5-1-11-6zM709 510l12 5 6-11-12-5zM751 513l13 4 5-11-12-4zM721 515l12 5 6-11-12-5zM691 514l12 6 6-10-12-6zM764 517l12 1 6-12-13 0zM655 519l12 3 6-5-12-5zM587 555l11-18 7-3-12-7zM595 596l12 8 7-11-13-18zM677 629l13 0 6-18-12-5z"/><path class=c1 d="M593 323l10-1 6-4-10 1zM587 326l11-1 5-3-10 1zM571 330l11-1 5-3-10 1zM582 329l10-1 6-3-11 1zM565 332l11-1 6-2-11 1zM549 334l11 0 5-2-10 1zM533 335l10 0 6-1-10 1zM506 336l11 0 6 0-11 1zM774 349l11 5 5-5-11-4zM785 354l10 4 6-5-11-4zM768 353l11 5 6-4-11-5zM763 357l11 5 5-4-11-5zM774 362l11 4 5-4-11-4zM758 361l11 4 5-3-11-5zM769 365l11 4 5-3-11-4zM764 368l11 5 5-4-11-4zM758 370l11 5 6-2-11-5zM769 375l11 5 6-3-11-4zM764 376l11 5 5-1-11-5zM770 381l11 6 5 0-11-6zM727 504l12 5 6-11-12-5zM697 504l12 6 6-11-12-5zM739 509l12 4 6-11-12-4zM776 518l12-3 6-17-12 8zM643 511l12 8 6-7-12-8zM782 529l13-9 6-17-13 12zM807 509l12 23 6 14-12-42zM795 543l13-10 6-7-13-1zM672 572l12-3 7-4-13-23zM488 588l13-2 6-21-12-9zM601 575l13 18 7 10-13-39zM506 607l12-21 7-8-12 0zM671 615l13-9 6-7-13 5z"/><path class=c2 d="M603 322l11-1 5-4-10 1zM598 325l10-1 6-3-11 1zM592 328l10 0 6-4-10 1zM576 331l10 0 6-3-10 1zM586 331l11 0 5-3-10 0zM560 334l10 0 6-3-11 1zM570 334l11 0 5-3-10 0zM543 335l11 0 6-1-11 0zM554 335l10 1 6-2-10 0zM537 336l11 1 6-2-11 0zM763 345l11 4 5-4-11-4zM758 349l10 4 6-4-11-4zM752 353l11 4 5-4-10-4zM747 357l11 4 5-4-11-4zM742 360l11 4 5-3-11-4zM753 364l11 4 5-3-11-4zM747 366l11 4 6-2-11-4zM753 372l11 4 5-1-11-5zM759 376l11 5 5 0-11-5zM745 498l12 4 6-11-12-5zM715 499l12 5 6-11-12-5zM685 498l12 6 6-10-12-6zM757 502l12 4 6-12-12-3zM769 506l13 0 6-15-13 3zM649 504l12 8 6-10-12-5zM612 509l12 2 7-5-12-5zM624 511l12 5 7-5-12-5zM550 517l12 28 7-30-13-9zM789 536l12-11 6-16-12 11zM801 525l13 1 5 6-12-23zM543 522l12 6 7 17-12-28zM501 586l12-8 7-9-13-4zM677 604l13-5 7-10-13-4z"/><path class=c3 d="M614 321l10-1 6-4-11 1zM624 320l11-1 5-4-10 1zM608 324l11 0 5-4-10 1zM619 324l10-1 6-4-11 1zM602 328l11 0 6-4-11 0zM613 328l11 0 5-5-10 1zM597 331l10 0 6-3-11 0zM607 331l11 1 6-4-11 0zM581 334l10 0 6-3-11 0zM591 334l11 1 5-4-10 0zM564 336l11 0 6-2-11 0zM602 335l10 1 6-4-11-1zM575 336l10 1 6-3-10 0zM548 337l10 1 6-2-10-1zM612 336l11 1 6-4-11-1zM585 337l11 2 6-4-11-1zM558 338l11 1 6-3-11 0zM531 337l11 1 6-1-11-1zM741 337l11 4 5-4-11-4zM596 339l11 2 5-5-10-1zM569 339l11 1 5-3-10-1zM542 338l11 2 5-2-10-1zM752 341l11 4 5-4-11-4zM607 341l10 1 6-5-11-1zM580 340l10 3 6-4-11-2zM736 341l11 4 5-4-11-4zM617 342l11 1 6-4-11-2zM590 343l11 2 6-4-11-2zM747 345l11 4 5-4-11-4zM601 345l11 2 5-5-10-1zM574 343l10 4 6-4-10-3zM731 345l10 4 6-4-11-4zM612 347l10 1 6-5-11-1zM584 347l11 3 6-5-11-2zM741 349l11 4 6-4-11-4zM622 348l11 2 6-5-11-2zM595 350l11 2 6-5-11-2zM725 349l11 4 5-4-10-4zM606 352l11 1 5-5-10-1zM579 350l10 4 6-4-11-3zM736 353l11 4 5-4-11-4zM617 353l10 1 6-4-11-2zM589 354l11 2 6-4-11-2zM627 354l11 2 6-5-11-1zM600 356l11 2 6-5-11-1zM720 353l11 3 5-3-11-4zM573 354l10 4 6-4-10-4zM638 356l11 1 6-4-11-2zM731 356l11 4 5-3-11-4zM583 358l11 2 6-4-11-2zM649 357l11 2 5-5-10-1zM622 359l10 1 6-4-11-2zM594 360l11 2 6-4-11-2zM714 357l11 3 6-4-11-3zM632 360l11 2 6-5-11-1zM725 360l11 3 6-3-11-4zM605 362l11 1 6-4-11-1zM578 361l10 3 6-4-11-2zM643 362l11 1 6-4-11-2zM736 363l11 3 6-2-11-4zM616 363l11 1 5-4-10-1zM720 363l11 2 5-2-11-3zM572 365l11 2 5-3-10-3zM731 365l11 3 5-2-11-3zM610 366l11 2 6-4-11-1zM742 368l11 4 5-2-11-4zM621 368l11 1 6-3-11-2zM593 368l11 1 6-3-11-1zM737 370l11 3 5-1-11-4zM748 373l11 3 5 0-11-4zM753 377l12 3 5 1-11-5zM765 380l11 5 5 2-11-6zM733 493l12 5 6-12-12-5zM703 494l12 5 6-11-12-6zM655 497l12 5 6-9-12-5zM637 498l12 6 6-7-12-6zM619 501l12 5 6-8-12-5zM569 515l12 9 6-10-12-8zM427 556l12 13 7-9-13-22zM513 578l12 0 7-11-12 2zM543 581l12 6 8 6-13-17zM541 596l13 15 7-12-13-11z"/><path class=c4 d="M635 319l10 0 6-4-11 0zM645 319l11 1 5-4-10-1zM656 320l10 2 6-5-11-1zM629 323l11 1 5-5-10 0zM640 324l10 1 6-5-11-1zM650 325l11 1 5-4-10-2zM624 328l10 0 6-4-11-1zM661 326l10 1 6-4-11-1zM634 328l11 1 5-4-10-1zM645 329l10 1 6-4-11-1zM618 332l11 1 5-5-10 0zM709 328l11 3 5-4-11-3zM655 330l11 2 5-5-10-1zM629 333l10 1 6-5-11-1zM720 331l10 3 6-4-11-3zM666 332l11 1 5-4-11-2zM639 334l11 1 5-5-10-1zM730 334l11 3 5-4-10-3zM704 333l10 2 6-4-11-3zM677 333l10 2 6-4-11-2zM650 335l10 1 6-4-11-2zM623 337l11 2 5-5-10-1zM714 335l11 3 5-4-10-3zM687 335l11 2 6-4-11-2zM660 336l11 2 6-5-11-1zM634 339l10 1 6-5-11-1zM725 338l11 3 5-4-11-3zM553 340l10 1 6-2-11-1zM525 338l11 2 6-2-11-1zM698 337l11 2 5-4-10-2zM671 338l11 2 5-5-10-2zM644 340l11 1 5-5-10-1zM709 339l11 3 5-4-11-3zM563 341l11 2 6-3-11-1zM536 340l11 1 6-1-11-2zM682 340l11 1 5-4-11-2zM655 341l11 2 5-5-11-2zM628 343l11 2 5-5-10-1zM720 342l11 3 5-4-11-3zM547 341l10 2 6-2-10-1zM693 341l11 2 5-4-11-2zM666 343l10 1 6-4-11-2zM639 345l10 1 6-5-11-1zM557 343l11 3 6-3-11-2zM704 343l10 3 6-4-11-3zM676 344l11 2 6-5-11-1zM649 346l11 2 6-5-11-2zM714 346l11 3 6-4-11-3zM568 346l11 4 5-3-10-4zM687 346l11 2 6-5-11-2zM660 348l11 1 5-5-10-1zM633 350l11 1 5-5-10-1zM551 346l11 3 6-3-11-3zM698 348l11 2 5-4-10-3zM671 349l11 2 5-5-11-2zM644 351l11 2 5-5-11-2zM709 350l11 3 5-4-11-3zM562 349l11 5 6-4-11-4zM682 351l11 2 5-5-11-2zM655 353l10 1 6-5-11-1zM693 353l11 2 5-5-11-2zM665 354l11 2 6-5-11-2zM556 352l11 5 6-3-11-5zM704 355l10 2 6-4-11-3zM567 357l11 4 5-3-10-4zM687 358l11 1 6-4-11-2zM660 359l11 2 5-5-11-2zM698 359l11 2 5-4-10-2zM709 361l11 2 5-3-11-3zM561 360l11 5 6-4-11-4zM682 362l11 2 5-5-11-1zM693 364l11 1 5-4-11-2zM555 363l11 4 6-2-11-5zM704 365l11 2 5-4-11-2zM676 366l11 2 6-4-11-2zM715 367l11 2 5-4-11-2zM566 367l11 3 6-3-11-2zM687 368l11 1 6-4-11-1zM659 368l11 2 6-4-11-1zM632 369l11 1 5-3-10-1zM726 369l11 1 5-2-11-3zM604 369l11 1 6-2-11-2zM698 369l11 1 6-3-11-2zM670 370l11 1 6-3-11-2zM643 370l11 1 5-3-11-1zM681 371l11 1 6-3-11-1zM654 371l11 1 5-2-11-2zM571 372l10 0 6-2-10 0zM692 372l11 1 6-3-11-1zM637 372l11 1 6-2-11-1zM731 373l11 2 6-2-11-3zM742 375l11 2 6-1-11-3zM748 379l11 2 6-1-12-3zM759 381l12 2 5 2-11-5zM751 486l12 5 6-11-12-5zM721 488l12 5 6-12-12-5zM691 488l12 6 6-12-12-5zM763 491l12 3 6-13-12-1zM661 488l12 5 6-10-12-5zM631 487l12 4 6-8-12-5zM775 494l13-3 5-16-12 6zM613 489l12 4 6-6-12-5zM583 487l12 5 6-7-12-2zM625 493l12 5 6-7-12-4zM607 497l12 4 6-8-12-4zM576 493l12 3 7-4-12-5zM782 506l12-8 6-17-12 10zM588 496l12 5 7-4-12-5zM570 498l12 5 6-7-12-3zM582 503l12 2 6-4-12-5zM788 515l13-12 5-16-12 11zM575 506l12 8 7-9-12-2zM795 520l12-11 6-5-12-1zM531 515l12 7 7-5-12-6zM540 541l13 11 6-8-12-1zM490 557l12-3 7-11-12 3zM521 554l12 2 7-15-12 0zM533 556l13 2 7-6-13-11zM502 554l12 2 7-2-12-11zM495 556l12 9 7-9-12-2zM507 565l13 4 6-16-12 3zM536 591l12-3 7-1-12-6z"/><path class=c5 d="M666 322l11 1 5-4-10-2zM677 323l11 1 5-4-11-1zM688 324l10 2 6-4-11-2zM698 326l11 2 5-4-10-2zM671 327l11 2 6-5-11-1zM682 329l11 2 5-5-10-2zM693 331l11 2 5-5-11-2zM488 335l10 1 6 0-10-1zM471 334l11 1 6 0-11-1zM519 339l11 2 6-1-11-2zM530 341l11 2 6-2-11-1zM541 343l10 3 6-3-10-2zM524 343l11 3 6-3-11-2zM535 346l10 2 6-2-10-3zM545 348l11 4 6-3-11-3zM539 351l11 4 6-3-11-4zM550 355l11 5 6-3-11-5zM544 357l11 6 6-3-11-5zM538 360l11 5 6-2-11-6zM549 365l11 4 6-2-11-4zM543 367l11 4 6-2-11-4zM620 372l11 0 6 0-11-1zM698 374l11 1 6-1-12-1zM737 377l11 2 5-2-11-2zM754 382l11 2 6-1-12-2zM595 476l12 3 7-8-12-3zM565 476l12 4 7-7-12-4zM697 477l12 5 6-12-12-5zM667 478l12 5 6-12-12-5zM739 481l12 5 6-11-12-5zM607 479l12 3 6-8-11-3zM577 480l12 3 6-7-11-3zM709 482l12 6 6-12-12-6zM679 483l12 5 6-11-12-6zM619 482l12 5 6-9-12-4zM589 483l12 2 6-6-12-3zM559 478l12 6 6-4-12-4zM571 484l12 3 6-4-12-3zM552 484l12 6 7-6-12-6zM564 490l12 3 7-6-12-3zM546 489l12 6 6-5-12-6zM558 495l12 3 6-5-12-3zM551 496l12 6 7-4-12-3zM801 503l12 1 5 8-12-25zM563 502l12 4 7-3-12-5zM544 501l12 5 7-4-12-6zM556 506l13 9 6-9-12-4zM538 511l12 6 6-11-12-5zM473 551l11-8 7-11-12-16zM535 532l12 11 7-5-12-10zM484 543l13 3 7-9-13-5zM497 546l12-3 7-6-12 0zM528 541l12 0 7 2-12-11zM509 543l12 11 7-13-12-4z"/><path class=c6 d="M465 334l10 2 7-1-11-1zM513 341l11 2 6-2-11-2zM496 340l11 2 6-1-10-2zM507 342l11 3 6-2-11-2zM518 345l11 3 6-2-11-3zM529 348l10 3 6-3-10-2zM522 350l11 3 6-2-10-3zM533 353l11 4 6-2-11-4zM527 356l11 4 6-3-11-4zM532 363l11 4 6-2-11-5zM526 365l11 4 6-2-11-4zM537 369l11 3 6-1-11-4zM575 372l11-1 6 1-11 0zM558 373l11-1 6 0-10 1zM664 373l11 0 6 1-11 0zM602 468l12 3 6-10-12-2zM572 469l12 4 6-8-12-4zM745 470l12 5 6-11-12-6zM614 471l11 3 7-9-12-4zM584 473l11 3 7-8-12-3zM715 470l12 6 6-12-12-6zM554 467l11 9 7-7-12-6zM685 471l12 6 6-12-12-6zM757 475l12 5 6-12-12-4zM655 473l12 5 6-12-12-4zM625 474l12 4 7-9-12-4zM727 476l12 5 6-11-12-6zM769 480l12 1 6-14-12 1zM547 471l12 7 6-2-11-9zM794 498l12-11 6-3-12-3zM539 494l12 2 7-1-12-6zM532 497l12 4 7-5-12-2zM526 501l12 10 6-10-12-4zM519 500l12 15 7-4-12-10zM264 541l12 10 7-17-11 1zM516 537l12 4 7-9-13-6zM414 546l13 10 6-18-12-9z"/><path class=c7 d="M458 336l11 2 6-2-10-2zM486 338l10 2 7-1-11-2zM469 338l11 2 6-2-11-2zM490 342l11 3 6-3-11-2zM501 345l11 3 6-3-11-3zM512 348l10 2 7-2-11-3zM495 348l11 2 6-2-11-3zM506 350l10 3 6-3-10-2zM489 351l10 3 7-4-11-2zM516 353l11 3 6-3-11-3zM499 354l11 2 6-3-10-3zM510 356l11 3 6-3-11-3zM493 357l11 3 6-4-11-2zM521 359l11 4 6-3-11-4zM504 360l11 2 6-3-11-3zM515 362l11 3 6-2-11-4zM519 367l11 4 7-2-11-4zM530 371l11 2 7-1-11-3zM625 371l11 1 6 1-11-1zM597 370l11 0 6 1-11 0zM552 373l11-2 6 1-11 1zM647 372l12-1 5 2-11 0zM715 376l11 1 5 0-11-1zM687 373l11 0 5 2-11-1zM726 377l11 2 6 0-12-2zM567 457l11 4 7-8-12-4zM578 461l12 4 6-9-11-3zM590 465l12 3 6-9-12-3zM560 463l12 6 6-8-11-4zM763 464l12 4 6-12-12-3zM632 465l12 4 6-11-12-4zM733 464l12 6 6-12-12-6zM703 465l12 5 6-12-12-6zM673 466l12 5 6-12-12-5zM781 481l12-6 6-17-12 9zM540 475l12 9 7-6-12-7zM788 491l12-10 6-15-13 9zM800 481l12 3 6 9-12-27zM534 479l12 10 6-5-12-9zM527 478l12 16 7-5-12-10zM240 537l12 5 7-23-11 5zM252 542l12-1 8-6-13-16zM460 528l13 23 6-35-13-14zM504 537l12 0 6-11-12-19zM402 538l12 8 7-17-12-8z"/><path class=c8 d="M452 339l11 1 6-2-11-2zM463 340l10 3 7-3-11-2zM446 342l10 2 7-4-11-1zM456 344l11 2 6-3-10-3zM450 348l11 2 6-4-11-2zM444 352l11 2 6-4-11-2zM455 354l10 2 7-3-11-3zM465 356l11 3 6-4-10-2zM431 360l11 2 6-4-11-2zM487 361l11 2 6-3-11-3zM442 362l11 2 6-4-11-2zM470 362l11 2 6-3-11-2zM498 363l11 1 6-2-11-2zM425 364l10 2 7-4-11-2zM453 364l10 2 7-4-11-2zM481 364l10 2 7-3-11-2zM509 364l10 3 7-2-11-3zM435 366l11 2 7-4-11-2zM491 366l11 1 7-3-11-1zM418 369l11 1 6-4-10-2zM446 368l11 2 6-4-10-2zM502 367l11 3 6-3-10-3zM429 370l11 2 6-4-11-2zM457 370l11 2 6-4-11-2zM485 369l11 1 6-3-11-1zM513 370l11 2 6-1-11-4zM608 370l11-1 6 2-11 0zM468 372l11 1 6-4-11-1zM496 370l11 2 6-2-11-3zM524 372l11 2 6-1-11-2zM451 374l10 2 7-4-11-2zM535 374l11-1 6 0-11 0zM507 372l11 2 6-2-11-2zM518 374l11 1 6-1-11-2zM416 379l11 2 6-4-11-2zM398 382l11 2 7-5-11-2zM409 384l11 2 7-5-11-2zM420 386l11 1 7-4-11-2zM754 382l12 3 5 0-11-1zM431 387l11 2 6-5-10-1zM413 390l11 2 7-5-11-1zM396 393l11 2 6-5-11-2zM407 395l11 2 6-5-11-2zM360 398l11 2 7-5-11-1zM418 397l11 1 6-4-11-2zM411 401l11 2 7-5-11-1zM364 404l11 2 7-4-11-2zM393 404l11 2 7-5-11-1zM375 406l11 3 7-5-11-2zM386 409l11 1 7-4-11-2zM339 412l11 1 7-4-11-2zM368 411l12 2 6-4-11-3zM332 416l11 2 7-5-11-1zM362 415l11 2 7-4-12-2zM325 421l11 0 7-3-11-2zM318 425l11 1 7-5-11 0zM573 449l12 4 6-10-12-4zM585 453l11 3 7-11-12-2zM555 450l12 7 6-8-12-5zM596 456l12 3 6-11-11-3zM608 459l12 2 6-10-12-3zM548 454l12 9 7-6-12-7zM650 458l11 4 7-12-12-5zM751 458l12 6 6-11-12-6zM620 461l12 4 6-11-12-3zM721 458l12 6 6-12-12-6zM691 459l12 6 6-13-12-5zM661 462l12 4 6-12-11-4zM542 456l12 11 6-4-12-9zM775 468l12-1 6-16-12 5zM520 484l12 13 7-3-12-16zM513 489l13 12 6-4-12-13zM259 519l13 16 7-8-12-19zM491 532l13 5 6-30-12-5zM421 529l12 9 8-8-13-20z"/><path class=bu d="M883 393l11 5 5-5-11-5zM878 398l11 5 5-5-11-5zM862 398l11 5 5-5-11-5zM873 403l11 5 5-5-11-5zM857 403l11 5 5-5-11-5zM852 408l11 6 5-6-11-5zM847 413l11 6 5-5-11-6zM826 416l11 8 5-5-11-7zM816 421l11 29 6-1-12-19zM784 587l12 4 6-12-12-4zM778 577l12 25 6-11-12-4z"/><path class=bt d="M894 398l11 4 5-5-11-4zM889 403l12 4 4-5-11-4zM884 408l12 4 5-5-12-4zM868 408l12 5 4-5-11-5zM880 413l11 5 5-6-12-4zM863 414l12 5 5-6-12-5zM858 419l11 6 6-6-12-5zM842 419l11 6 5-6-11-6zM837 424l11 7 5-6-11-6zM832 429l11 9 5-7-11-7zM827 432l11 12 5-6-11-9zM821 430l12 19 5-5-11-12zM790 602l13 5 6-21-13 5zM803 607l13-12 6 9-13-18z"/><path class=bs d="M905 402l12 5 4-6-11-4zM917 407l11 4 4-5-11-5zM901 407l11 5 5-5-12-5zM912 412l11 4 5-5-11-4zM896 412l11 5 5-5-11-5zM891 418l11 5 5-6-11-5zM875 419l11 5 5-6-11-5zM869 425l12 5 5-6-11-5zM853 425l11 6 5-6-11-6zM848 431l11 7 5-7-11-6zM822 442l11 23 6-3-12-12zM798 633l13-8 6-13-13 3zM805 633l13 0 6 7-13-15z"/><path class=br d="M928 411l11 4 5-5-12-4zM923 416l11 4 5-5-11-4zM907 417l11 4 5-5-11-4zM918 421l11 5 5-6-11-4zM902 423l11 4 5-6-11-4zM886 424l11 4 5-5-11-5zM897 428l11 5 5-6-11-4zM881 430l11 5 5-7-11-4zM864 431l12 5 5-6-12-5zM859 438l12 5 5-7-12-5zM843 438l11 7 5-7-11-7zM838 444l11 8 5-7-11-7zM823 450l11 29 6-2-12-14zM772 624l12-2 6-20-12-25zM784 622l13-12 6-3-13-5zM811 625l13 15 5 2-12-30zM792 636l13-3 6-8-13 8z"/><path class=bq d="M939 415l11 4 5-5-11-4zM950 419l11 4 5-5-11-4zM934 420l11 4 5-5-11-4zM945 424l12 4 4-5-11-4zM929 426l11 4 5-6-11-4zM913 427l11 4 5-5-11-5zM924 431l12 5 4-6-11-4zM908 433l11 4 5-6-11-4zM892 435l11 4 5-6-11-5zM903 439l12 4 4-6-11-4zM876 436l11 5 5-6-11-5zM887 441l11 4 5-6-11-4zM871 443l11 4 5-6-11-5zM854 445l11 4 6-6-12-5zM849 452l11 3 5-6-11-4zM833 449l11 8 5-5-11-8zM827 450l12 12 5-5-11-8zM824 464l11 31 6-3-12-16zM728 633l13-28 6 3-13-11zM785 635l13-2 6-18-13 16zM786 649l13 9 6-25-13 3z"/><path class=bp d="M961 423l11 4 5-5-11-4zM972 427l12 4 4-5-11-4zM957 428l11 4 4-5-11-4zM940 430l12 4 5-6-12-4zM952 434l11 4 5-6-11-4zM936 436l11 3 5-5-12-4zM947 439l11 4 5-5-11-4zM919 437l12 4 5-5-12-5zM931 441l11 4 5-6-11-3zM915 443l11 4 5-6-12-4zM898 445l12 4 5-6-12-4zM910 449l11 4 5-6-11-4zM882 447l11 4 5-6-11-4zM893 451l12 4 5-6-12-4zM865 449l12 4 5-6-11-4zM877 453l11 4 5-6-11-4zM860 455l12 4 5-6-12-4zM844 457l11 4 5-6-11-3zM855 461l12 4 5-6-12-4zM839 462l11 5 5-6-11-4zM833 465l12 8 5-6-11-5zM828 463l12 14 5-4-12-8zM829 476l12 16 5-4-12-9zM825 479l11 34 6-3-12-18zM779 651l13-15 6-3-13 2zM799 658l12 10 7-35-13 0z"/><path class=bo d="M984 431l11 4 5-5-12-4zM995 435l11 4 5-5-11-4zM968 432l11 4 5-5-12-4zM979 436l11 4 5-5-11-4zM963 438l11 4 5-6-11-4zM974 442l12 4 4-6-11-4zM958 443l12 4 4-5-11-4zM942 445l12 4 4-6-11-4zM954 449l11 4 5-6-12-4zM926 447l11 4 5-6-11-4zM937 451l12 4 5-6-12-4zM921 453l11 3 5-5-11-4zM932 456l12 4 5-5-12-4zM905 455l11 4 5-6-11-4zM916 459l12 3 4-6-11-3zM888 457l12 4 5-6-12-4zM900 461l11 3 5-5-11-4zM872 459l11 4 5-6-11-4zM883 463l12 4 5-6-12-4zM895 467l11 3 5-6-11-3zM867 465l11 4 5-6-11-4zM878 469l12 4 5-6-12-4zM850 467l11 4 6-6-12-4zM861 471l12 4 5-6-11-4zM845 473l11 4 5-6-11-4zM840 477l11 6 5-6-11-4zM834 479l12 9 5-5-11-6zM826 495l11 36 6-3-12-19z"/><path class=bn d="M1006 439l12 4 4-5-11-4zM990 440l12 4 4-5-11-4zM1002 444l11 4 5-5-12-4zM986 446l11 3 5-5-12-4zM997 449l12 4 4-5-11-4zM970 447l11 4 5-5-12-4zM981 451l12 4 4-6-11-3zM965 453l11 4 5-6-11-4zM976 457l12 3 5-5-12-4zM949 455l11 3 5-5-11-4zM960 458l12 4 4-5-11-4zM944 460l11 4 5-6-11-3zM955 464l12 4 5-6-12-4zM928 462l11 4 5-6-12-4zM939 466l11 4 5-6-11-4zM911 464l12 4 5-6-12-3zM923 468l11 4 5-6-11-4zM906 470l12 4 5-6-12-4zM918 474l11 4 5-6-11-4zM890 473l11 3 5-6-11-3zM901 476l12 4 5-6-12-4zM873 475l11 4 6-6-12-4zM884 479l12 4 5-7-11-3zM856 477l12 4 5-6-12-4zM868 481l11 4 5-6-11-4zM851 483l12 4 5-6-12-4zM846 488l11 6 6-7-12-4zM841 492l11 7 5-5-11-6zM835 495l12 10 5-6-11-7zM830 492l12 18 5-5-12-10z"/><path class=bm d="M1018 443l11 4 5-5-12-4zM1029 447l12 4 4-6-11-3zM1013 448l12 4 4-5-11-4zM1025 452l11 4 5-5-12-4zM1009 453l11 4 5-5-12-4zM1020 457l12 4 4-5-11-4zM993 455l11 4 5-6-12-4zM1004 459l11 4 5-6-11-4zM988 460l11 4 5-5-11-4zM999 464l12 4 4-5-11-4zM972 462l11 4 5-6-12-3zM983 466l12 4 4-6-11-4zM967 468l11 4 5-6-11-4zM978 472l12 4 5-6-12-4zM950 470l12 4 5-6-12-4zM962 474l12 4 4-6-11-4zM934 472l12 4 4-6-11-4zM946 476l11 4 5-6-12-4zM929 478l12 4 5-6-12-4zM941 482l11 4 5-6-11-4zM913 480l11 4 5-6-11-4zM924 484l12 4 5-6-12-4zM896 483l12 3 5-6-12-4zM908 486l11 4 5-6-11-4zM879 485l12 4 5-6-12-4zM891 489l11 3 6-6-12-3zM863 487l11 4 5-6-11-4zM874 491l12 4 5-6-12-4zM886 495l11 4 5-7-11-3zM857 494l12 3 5-6-11-4zM869 497l12 4 5-6-12-4zM852 499l12 5 5-7-12-3zM831 509l12 19 5-5-12-10zM827 512l11 37 6-3-12-19z"/><path class=bl d="M1041 451l11 4 4-6-11-4zM1052 455l11 3 5-5-12-4zM1036 456l12 4 4-5-11-4zM1048 460l11 4 4-6-11-3zM1032 461l11 4 5-5-12-4zM1015 463l12 4 5-6-12-4zM1027 467l11 3 5-5-11-4zM1011 468l11 4 5-5-12-4zM1022 472l12 4 4-6-11-3zM995 470l11 4 5-6-12-4zM1006 474l12 4 4-6-11-4zM990 476l11 3 5-5-11-4zM1001 479l12 4 5-5-12-4zM974 478l11 3 5-5-12-4zM985 481l12 4 4-6-11-3zM957 480l12 3 5-5-12-4zM969 483l11 4 5-6-11-3zM952 486l12 3 5-6-12-3zM964 489l12 4 4-6-11-4zM936 488l11 4 5-6-11-4zM947 492l12 3 5-6-12-3zM919 490l12 4 5-6-12-4zM931 494l11 4 5-6-11-4zM902 492l12 4 5-6-11-4zM914 496l12 4 5-6-12-4zM926 500l11 4 5-6-11-4zM897 499l12 3 5-6-12-4zM909 502l12 4 5-6-12-4zM881 501l11 4 5-6-11-4zM892 505l12 4 5-7-12-3zM864 504l11 4 6-7-12-4zM875 508l12 3 5-6-11-4zM847 505l11 5 6-6-12-5zM858 510l12 4 5-6-11-4zM842 510l11 7 5-7-11-5zM836 513l12 10 5-6-11-7zM828 530l11 38 6-3-12-20zM824 640l12 25 5 12-12-35z"/><path class=bk d="M1063 458l12 4 4-5-11-4zM1075 462l11 4 5-5-12-4zM1059 464l12 4 4-6-12-4zM1071 468l11 4 4-6-11-4zM1043 465l12 4 4-5-11-4zM1055 469l11 4 5-5-12-4zM1038 470l12 4 5-5-12-4zM1050 474l12 4 4-5-11-4zM1034 476l11 4 5-6-12-4zM1018 478l11 3 5-5-12-4zM1029 481l12 4 4-5-11-4zM1013 483l12 4 4-6-11-3zM1025 487l11 4 5-6-12-4zM997 485l11 4 5-6-12-4zM1008 489l12 4 5-6-12-4zM980 487l12 4 5-6-12-4zM992 491l12 4 4-6-11-4zM976 493l11 4 5-6-12-4zM987 497l12 4 5-6-12-4zM959 495l12 4 5-6-12-4zM971 499l11 4 5-6-11-4zM942 498l12 3 5-6-12-3zM954 501l12 4 5-6-12-4zM937 504l12 3 5-6-12-3zM949 507l12 4 5-6-12-4zM921 506l11 4 5-6-11-4zM932 510l12 4 5-7-12-3zM904 509l12 3 5-6-12-4zM916 512l11 4 5-6-11-4zM887 511l12 4 5-6-12-4zM899 515l12 4 5-7-12-3zM870 514l12 4 5-7-12-3zM882 518l12 4 5-7-12-4zM853 517l12 4 5-7-12-4zM865 521l12 4 5-7-12-4zM848 523l12 5 5-7-12-4zM832 527l12 19 5-5-12-10zM836 743l13 6 6-4-13-8z"/><path class=bj d="M1086 466l12 4 4-5-11-4zM1098 470l11 4 5-5-12-4zM1082 472l12 3 4-5-12-4zM1066 473l12 4 4-5-11-4zM1078 477l11 4 5-6-12-3zM1062 478l11 4 5-5-12-4zM1073 482l12 4 4-5-11-4zM1045 480l12 4 5-6-12-4zM1057 484l12 4 4-6-11-4zM1041 485l12 4 4-5-12-4zM1053 489l11 4 5-5-12-4zM1036 491l12 4 5-6-12-4zM1048 495l12 4 4-6-11-4zM1020 493l12 4 4-6-11-4zM1032 497l11 4 5-6-12-4zM1004 495l11 4 5-6-12-4zM1015 499l12 4 5-6-12-4zM999 501l12 4 4-6-11-4zM1011 505l11 3 5-5-12-4zM982 503l12 4 5-6-12-4zM994 507l12 4 5-6-12-4zM966 505l12 4 4-6-11-4zM978 509l11 4 5-6-12-4zM989 513l12 4 5-6-12-4zM961 511l12 4 5-6-12-4zM973 515l11 4 5-6-11-4zM944 514l12 3 5-6-12-4zM956 517l12 4 5-6-12-4zM927 516l12 4 5-6-12-4zM939 520l12 4 5-7-12-3zM911 519l11 3 5-6-11-4zM922 522l12 4 5-6-12-4zM894 522l11 3 6-6-12-4zM934 526l12 4 5-6-12-4zM905 525l12 4 5-7-11-3zM877 525l11 4 6-7-12-4zM917 529l12 4 5-7-12-4zM888 529l12 3 5-7-11-3zM860 528l11 4 6-7-12-4zM900 532l12 4 5-7-12-4zM871 532l12 4 5-7-11-4zM843 528l11 7 6-7-12-5zM854 535l12 5 5-8-11-4zM837 531l12 10 5-6-11-7zM829 547l11 38 6-2-12-21zM877 757l13 4 6-3-13-4z"/><path class=bi d="M1109 474l12 4 4-5-11-4zM1094 475l11 4 4-5-11-4zM1105 479l12 4 4-5-12-4zM1089 481l12 4 4-6-11-4zM1101 485l12 4 4-6-12-4zM1085 486l11 4 5-5-12-4zM1096 490l12 4 5-5-12-4zM1069 488l11 4 5-6-12-4zM1080 492l12 3 4-5-11-4zM1064 493l12 4 4-5-11-4zM1076 497l12 4 4-6-12-3zM1060 499l11 4 5-6-12-4zM1043 501l12 3 5-5-12-4zM1055 504l12 4 4-5-11-4zM1027 503l12 3 4-5-11-4zM1039 506l12 4 4-6-12-3zM1051 510l11 4 5-6-12-4zM1022 508l12 4 5-6-12-3zM1034 512l12 4 5-6-12-4zM1006 511l12 3 4-6-11-3zM1018 514l11 4 5-6-12-4zM1001 517l12 3 5-6-12-3zM1013 520l12 4 4-6-11-4zM984 519l12 4 5-6-12-4zM996 523l12 3 5-6-12-3zM968 521l12 4 4-6-11-4zM980 525l11 4 5-6-12-4zM951 524l12 3 5-6-12-4zM963 527l12 4 5-6-12-4zM975 531l12 4 4-6-11-4zM946 530l12 4 5-7-12-3zM958 534l12 3 5-6-12-4zM929 533l12 4 5-7-12-4zM941 537l12 3 5-6-12-4zM912 536l12 4 5-7-12-4zM883 536l12 4 5-8-12-3zM924 540l12 4 5-7-12-4zM895 540l12 3 5-7-12-4zM866 540l12 3 5-7-12-4zM907 543l12 4 5-7-12-4zM878 543l12 4 5-7-12-4zM849 541l12 6 5-7-12-5zM844 546l11 8 6-7-12-6zM838 549l12 11 5-6-11-8zM833 545l12 20 5-5-12-11zM830 564l11 38 6-2-12-21zM875 747l13 4 6-3-13-4zM869 750l14 4 5-3-13-4zM883 754l13 4 6-3-14-4z"/><path class=bh d="M1121 478l12 4 4-5-12-4zM1133 482l11 4 4-5-11-4zM1117 483l11 4 5-5-12-4zM1128 487l12 4 4-5-11-4zM1113 489l11 4 4-6-11-4zM1124 493l12 4 4-6-12-4zM1108 494l12 4 4-5-11-4zM1120 498l12 4 4-5-12-4zM1092 495l12 4 4-5-12-4zM1104 499l12 4 4-5-12-4zM1088 501l11 4 5-6-12-4zM1099 505l12 4 5-6-12-4zM1071 503l12 4 5-6-12-4zM1083 507l12 3 4-5-11-4zM1067 508l12 4 4-5-12-4zM1079 512l12 4 4-6-12-3zM1062 514l12 4 5-6-12-4zM1074 518l12 4 5-6-12-4zM1046 516l12 4 4-6-11-4zM1058 520l12 4 4-6-12-4zM1029 518l12 4 5-6-12-4zM1041 522l12 4 5-6-12-4zM1025 524l12 4 4-6-12-4zM1037 528l11 4 5-6-12-4zM1008 526l12 4 5-6-12-4zM1020 530l12 4 5-6-12-4zM991 529l12 4 5-7-12-3zM1003 533l12 3 5-6-12-4zM1015 536l12 4 5-6-12-4zM987 535l11 4 5-6-12-4zM998 539l12 4 5-7-12-3zM970 537l12 4 5-6-12-4zM982 541l12 4 4-6-11-4zM953 540l12 4 5-7-12-3zM965 544l12 4 5-7-12-4zM936 544l12 3 5-7-12-3zM948 547l12 4 5-7-12-4zM919 547l12 4 5-7-12-4zM890 547l12 4 5-8-12-3zM931 551l12 4 5-8-12-3zM861 547l12 4 5-8-12-3zM902 551l12 4 5-8-12-4zM873 551l11 4 6-8-12-4zM884 555l12 3 6-7-12-4zM855 554l12 4 6-7-12-4zM834 562l12 21 5-4-12-11zM831 582l11 39 6-3-12-22zM824 695l13 2 6-6-13-36zM881 744l13 4 6-3-13-4zM888 751l14 4 6-3-14-4z"/><path class=c9 d="M546 373l11-3 6 1-11 2zM490 373l11 2 6-3-11-2zM670 371l11 0 6 2-12 0zM501 375l11 1 6-2-11-2zM455 380l11 1 6-4-11-1zM483 377l11 1 7-3-11-2zM512 376l11 1 6-2-11-1zM466 381l11 0 6-4-11 0zM494 378l11 1 7-3-11-1zM448 384l11 1 7-4-11-1zM477 381l11 0 6-3-11-1zM459 385l11 0 7-4-11 0zM442 389l11 1 6-5-11-1zM453 390l11 0 6-5-11 0zM446 394l11 0 7-4-11 0zM457 394l11 1 7-5-11 0zM451 399l11 1 6-5-11-1zM433 404l11 0 7-5-11 0zM444 404l11 1 7-5-11-1zM426 408l11 0 7-4-11 0zM409 411l11 1 6-4-11-1zM437 408l12 1 6-4-11-1zM373 417l11 1 7-4-11-1zM402 415l11 0 7-3-11-1zM384 418l11-1 7-2-11-1zM336 421l11 3 8-5-12-1zM347 424l11-2 8-2-11-1zM329 426l11-1 7-1-11-3zM358 422l12 0 7-2-11 0zM304 434l10-7 8 2-11 1zM561 444l12 5 6-10-11-4zM543 441l12 9 6-6-12-7zM614 448l12 3 6-13-12-2zM626 451l12 3 6-12-12-4zM769 453l12 3 6-14-12 0zM638 454l12 4 6-13-12-3zM739 452l12 6 6-11-12-7zM709 452l12 6 6-12-12-7zM679 454l12 5 6-12-12-6zM799 458l12 6 6 11-12-31zM535 456l12 15 7-4-12-11zM793 475l13-9 5-2-12-6zM528 456l12 19 7-4-12-15zM228 522l12 15 8-13-13-20zM479 516l12 16 7-30-13-2zM389 526l13 12 7-17-13-10z"/><path class=cc d="M647 364l11-1 6 4-11 1zM721 370l11 3 5 4-11-3zM469 417l11-1 7-3-11 2zM451 416l11 1 7 0-11 0zM480 416l12-1 6-3-11 1zM574 424l11 4 7-12-12-4zM544 423l12 6 6-9-11-5zM585 428l12 3 6-13-11-2zM526 422l12 7 6-6-11-5zM597 431l12 3 6-13-12-3zM609 434l11 2 7-13-12-2zM751 430l12 7 5-10-12-7zM620 436l12 2 6-13-11-2zM733 433l12 7 6-10-12-8zM703 433l12 6 6-12-12-7zM674 436l11 5 6-13-11-5zM524 426l12 15 7 0-12-11zM793 451l12-7 6 0-12-10zM523 434l12 22 7 0-12-17zM192 509l13 13 7-20-14-22zM235 504l13 20 6-29-12-5zM365 518l13 8 6-26-12-12z"/><path class=ca d="M715 372l11 2 6 3-12-2zM505 379l11 0 7-2-11-1zM726 374l11 3 6 3-11-3zM737 377l12 3 5 2-11-2zM499 382l11 0 6-3-11 0zM481 386l11 0 7-4-11-1zM492 386l11-1 7-3-11 0zM468 395l11 1 7-5-11-1zM479 396l12-1 6-5-11 1zM462 400l11 1 6-5-11-1zM473 401l11 0 7-6-12 1zM455 405l11 1 7-5-11-1zM449 409l11 2 6-5-11-1zM431 412l11 0 7-3-12-1zM413 415l11-1 7-2-11 0zM442 412l11 2 7-3-11-2zM471 411l11-1 7-5-11 1zM406 416l11-2 7 0-11 1zM435 414l11 1 7-1-11-2zM370 422l11-3 7 0-11 1zM296 432l11-4 7-1-10 7zM568 435l11 4 6-11-11-4zM579 439l12 4 6-12-12-3zM549 437l12 7 7-9-12-6zM591 443l12 2 6-11-12-3zM603 445l11 3 6-12-11-2zM757 447l12 6 6-11-12-5zM656 445l12 5 6-14-12-4zM727 446l12 6 6-12-12-7zM536 441l12 13 7-4-12-9zM697 447l12 5 6-13-12-6zM668 450l11 4 6-13-11-5zM781 456l12-5 6-17-12 8zM787 467l12-9 6-14-12 7zM521 453l13 26 6-4-12-19zM205 522l11 4 7-24-11 0zM216 526l12-4 7-18-12-2zM248 524l11-5 8-11-13-13zM322 526l12-12 7-5-12-8zM378 526l11 0 7-15-12-11z"/><path class=cb d="M516 379l11-3 6-2-10 3zM510 382l11-3 6-3-11 3zM503 385l11-3 7-3-11 3zM497 390l11-3 6-5-11 3zM458 417l11 0 7-2-12 0zM556 429l12 6 6-11-12-4zM538 429l11 8 7-8-12-6zM531 430l12 11 6-4-11-8zM763 437l12 5 5-11-12-4zM632 438l12 4 6-14-12-3zM775 442l12 0 5-15-12 4zM745 440l12 7 6-10-12-7zM715 439l12 7 6-13-12-6zM685 441l12 6 6-14-12-5zM799 434l12 10 5 12-12-34zM530 439l12 17 6-2-12-13zM515 461l12 17 7 1-13-26zM508 465l12 19 7-6-12-17zM501 469l12 20 7-5-12-19zM494 477l13 17 6-5-12-20zM466 502l13 14 6-16-12-9zM447 510l13 18 6-26-12-7zM334 514l11-2 8-3-12 0zM428 510l13 20 6-20-12-15zM409 521l12 8 7-19-13-15z"/><path class=bg d="M1116 503l11 4 5-5-12-4zM1111 509l12 4 4-6-11-4zM1095 510l12 4 4-5-12-4zM1107 514l12 4 4-5-12-4zM1091 516l11 4 5-6-12-4zM1102 520l12 4 5-6-12-4zM1086 522l12 4 4-6-11-4zM1098 526l12 4 4-6-12-4zM1070 524l12 4 4-6-12-4zM1082 528l11 4 5-6-12-4zM1053 526l12 4 5-6-12-4zM1065 530l12 4 5-6-12-4zM1077 534l12 3 4-5-11-4zM1048 532l12 4 5-6-12-4zM1060 536l12 4 5-6-12-4zM1032 534l12 4 4-6-11-4zM1044 538l12 4 4-6-12-4zM1027 540l12 4 5-6-12-4zM1039 544l12 4 5-6-12-4zM1010 543l12 3 5-6-12-4zM1022 546l12 4 5-6-12-4zM994 545l12 4 4-6-12-4zM1006 549l12 4 4-7-12-3zM977 548l12 4 5-7-12-4zM989 552l12 3 5-6-12-4zM1001 555l12 4 5-6-12-4zM960 551l12 4 5-7-12-4zM972 555l12 4 5-7-12-4zM943 555l12 3 5-7-12-4zM984 559l12 3 5-7-12-3zM914 555l11 3 6-7-12-4zM955 558l12 4 5-7-12-4zM925 558l12 4 6-7-12-4zM896 558l12 4 6-7-12-4zM937 562l12 4 6-8-12-3zM867 558l12 4 5-7-11-4zM908 562l12 4 5-8-11-3zM879 562l12 4 5-8-12-3zM850 560l12 6 5-8-12-4zM891 566l12 4 5-8-12-4zM862 566l12 4 5-8-12-4zM845 565l11 8 6-7-12-6zM839 568l12 11 5-6-11-8zM835 579l12 21 5-4-12-11zM873 737l14 4 5-3-13-4zM887 741l13 4 6-3-14-4zM900 745l13 3 6-2-13-4zM894 748l14 4 5-4-13-3z"/><path class=cd d="M514 382l11-5 7-4-11 6zM508 387l11-5 6-5-11 5zM502 392l11-4 6-6-11 5zM495 399l11-5 7-6-11 4zM500 401l11-2 7-8-12 3zM493 408l12-2 6-7-11 2zM498 412l12 0 6-6-11 0zM510 412l11 2 6-7-11-1zM551 415l11 5 6-11-11-4zM521 414l12 4 6-8-12-3zM562 420l12 4 6-12-12-3zM533 418l11 5 7-8-12-5zM503 415l11 2 7-3-11-2zM514 417l12 5 7-4-12-4zM756 420l12 7 6-9-12-6zM281 430l11-4 7 4-10 6zM798 412l12 13 5 14-11-36zM768 427l12 4 6-13-12 0zM739 422l12 8 5-10-11-8zM519 421l12 9 7-1-12-7zM650 428l12 4 6-14-12-4zM721 427l12 6 6-11-12-7zM691 428l12 5 6-13-12-6zM662 432l12 4 6-13-12-5zM787 442l12-8 5-12-12 5zM181 516l11-7 6-29-11-3zM212 502l11 0 7-13-12-8zM223 502l12 2 7-14-12-1zM353 509l12 9 7-30-12-3zM396 511l13 10 6-26-12-4z"/><path class=cf d="M513 388l11-4 6-7-11 5zM518 391l11-2 6-8-11 3zM511 399l11-1 7-9-11 2zM767 390l12 4 6-6-12 1zM522 398l12 0 6-9-11 0zM534 398l11 3 7-10-12-2zM545 401l12 4 6-11-11-3zM557 405l11 4 7-12-12-3zM768 405l12 4 5-9-11-1zM750 404l12 8 6-7-12-8zM745 412l11 8 6-8-12-8zM786 418l12-6 6-9-12 3zM727 415l12 7 6-10-12-8zM668 418l12 5 6-14-12-5zM292 426l10-5 8 4-11 5zM273 427l11-6 8 5-11 4zM512 414l12 12 7 4-12-9zM516 423l12 33 7 0-12-22zM318 512l11-11 6-31-12-7zM329 501l12 8 6-32-12-7zM384 500l12 11 7-20-13-21zM415 495l13 15 7-15-13-20z"/><path class=cg d="M524 384l11-3 6-7-11 3zM529 389l11 0 6-9-11 1zM756 384l11 6 6-1-12-5zM762 393l12 6 5-5-12-4zM575 397l11 3 6-12-11-2zM586 400l12 3 6-13-12-2zM756 397l12 8 6-6-12-6zM598 403l11 2 6-14-11-1zM609 405l12 2 6-14-12-2zM621 407l12 2 6-15-12-1zM633 409l11 2 6-14-11-3zM733 404l12 8 5-8-11-8zM644 411l12 3 6-14-12-3zM715 408l12 7 6-11-12-7zM656 414l12 4 6-14-12-4zM697 414l12 6 6-12-12-7zM488 448l13 21 7-4-13-25zM482 454l12 23 7-8-13-21zM461 474l12 17 7-12-12-14z"/><path class=ch d="M535 381l11-1 7-7-12 1zM540 389l12 2 6-10-12-1zM552 391l11 3 6-11-11-2zM750 385l12 8 5-3-11-6zM563 394l12 3 6-11-12-3zM744 389l12 8 6-4-12-8zM739 396l11 8 6-7-12-8zM686 409l11 5 6-13-11-5zM302 421l11-7 8 6-11 5zM284 421l10-6 8 6-10 5zM265 432l10-17 9 6-11 6zM474 453l13 21 7 3-12-23zM281 474l13 22 5-40-12-3zM260 463l14 36 7-25-13-11zM468 465l12 14 7-5-13-21zM441 473l13 22 7-21-13-18z"/><path class=ce d="M506 394l12-3 6-7-11 4zM505 406l11 0 6-8-11 1zM516 406l11 1 7-9-12 0zM527 407l12 3 6-9-11-3zM568 409l12 3 6-12-11-3zM539 410l12 5 6-10-12-4zM580 412l12 4 6-13-12-3zM592 416l11 2 6-13-11-2zM762 412l12 6 6-9-12-4zM603 418l12 3 6-14-12-2zM774 418l12 0 6-12-12 3zM615 421l12 2 6-14-12-2zM627 423l11 2 6-14-11-2zM638 425l12 3 6-14-12-3zM709 420l12 7 6-12-12-7zM780 431l12-4 6-15-12 6zM680 423l11 5 6-14-11-5zM792 427l12-5 6 3-12-13zM254 495l13 13 7-9-14-36zM454 495l12 7 7-11-12-17zM341 509l12 0 7-24-13-8zM435 495l12 15 7-15-13-22z"/><path class=ci d="M546 380l12 1 6-9-11 1zM558 381l11 2 6-9-11-2zM569 383l12 3 6-11-12-1zM581 386l11 2 6-12-11-1zM592 388l12 2 6-12-12-2zM604 390l11 1 6-13-11 0zM727 388l12 8 5-7-11-8zM721 397l12 7 6-8-12-8zM662 400l12 4 6-14-12-4zM703 401l12 7 6-11-12-7zM674 404l12 5 6-13-12-6zM422 475l13 20 6-22-13-24zM372 488l12 12 6-30-12-12zM403 491l12 4 7-20-13-19z"/><path class=bf d="M1093 532l12 4 5-6-12-4zM1089 537l12 4 4-5-12-4zM1072 540l12 3 5-6-12-3zM1084 543l12 4 5-6-12-4zM1056 542l12 4 4-6-12-4zM1068 546l12 3 4-6-12-3zM1080 549l12 4 4-6-12-4zM1051 548l12 4 5-6-12-4zM1063 552l12 4 5-7-12-3zM1034 550l12 4 5-6-12-4zM1046 554l12 4 5-6-12-4zM1018 553l12 3 4-6-12-4zM1030 556l12 4 4-6-12-4zM1042 560l12 4 4-6-12-4zM1013 559l12 4 5-7-12-3zM1025 563l12 4 5-7-12-4zM996 562l12 4 5-7-12-4zM1008 566l12 4 5-7-12-4zM967 562l12 4 5-7-12-4zM979 566l12 4 5-8-12-3zM991 570l12 3 5-7-12-4zM949 566l13 4 5-8-12-4zM920 566l12 3 5-7-12-4zM962 570l12 3 5-7-12-4zM932 569l12 4 5-7-12-4zM903 570l12 3 5-7-12-4zM944 573l12 4 6-7-13-4zM874 570l12 3 5-7-12-4zM915 573l12 4 5-8-12-3zM886 573l12 4 5-7-12-4zM856 573l12 4 6-7-12-4zM898 577l12 4 5-8-12-3zM868 577l12 4 6-8-12-3zM851 579l12 5 5-7-12-4zM846 583l12 7 5-6-12-5zM840 585l12 11 6-6-12-7zM836 596l12 22 5-5-12-11zM832 604l11 38 6-5-12-22zM879 734l13 4 6-3-13-4zM892 738l14 4 5-3-13-4zM906 742l13 4 6-3-14-4z"/><path class=cj d="M733 381l11 8 6-4-12-7zM615 391l12 2 6-14-12-1zM627 393l12 1 6-13-12-2zM639 394l11 3 6-14-11-2zM709 390l12 7 6-9-12-7zM650 397l12 3 6-14-12-3zM692 396l11 5 6-11-12-6zM313 414l11-12 8 7-11 11zM294 415l11-9 8 8-11 7zM257 424l10-9 8 0-10 17z"/><path class=ck d="M697 384l12 6 6-9-12-7zM668 386l12 4 6-12-12-4zM680 390l12 6 5-12-11-6zM275 415l11-7 8 7-10 6zM218 453l10-22 8-5-10 24zM268 463l13 11 6-21-12-8zM448 456l13 18 7-9-13-27zM360 485l12 3 6-30-13-15z"/><path class=be d="M1075 556l12 3 5-6-12-4zM1058 558l13 4 4-6-12-4zM1071 562l12 4 4-7-12-3zM1054 564l12 4 5-6-13-4zM1066 568l12 4 5-6-12-4zM1037 567l12 4 5-7-12-4zM1049 571l12 4 5-7-12-4zM1020 570l12 4 5-7-12-4zM1032 574l12 4 5-7-12-4zM1003 573l12 4 5-7-12-4zM1015 577l12 4 5-7-12-4zM974 573l12 4 5-7-12-4zM986 577l12 4 5-8-12-3zM998 581l12 4 5-8-12-4zM956 577l13 4 5-8-12-3zM927 577l12 4 5-8-12-4zM969 581l12 4 5-8-12-4zM939 581l12 3 5-7-12-4zM910 581l12 3 5-7-12-4zM951 584l12 4 6-7-13-4zM880 581l12 3 6-7-12-4zM922 584l12 4 5-7-12-4zM892 584l13 4 5-7-12-4zM863 584l12 4 5-7-12-4zM905 588l12 4 5-8-12-3zM875 588l12 3 5-7-12-3zM887 591l12 4 6-7-13-4zM858 590l12 5 5-7-12-4zM852 596l12 5 6-6-12-5zM847 600l12 7 5-6-12-5zM841 602l12 11 6-6-12-7zM877 724l13 4 6-3-13-4zM890 728l14 4 5-4-13-3zM885 731l13 4 6-3-14-4zM898 735l13 4 6-3-13-4zM911 739l14 4 5-3-13-4z"/><path class=cr d="M350 396l10-26 7-19-10 35zM342 391l10-26 8 5-10 26zM316 393l10-21 8 10-10 20z"/><path class=cv d="M378 346l11-2 9 25-11 10zM308 385l10-20 8 7-10 21zM281 390l11-9 8-1-11 12z"/><path class=cx d="M389 344l12-8 8 26-11 7zM300 380l10-19 8 4-10 20z"/><path class=d1 d="M370 345l11-22 8 21-11 2z"/><path class=cz d="M401 336l11 1 8 26-11-1zM292 381l10-14 8-6-10 19z"/><path class=bd d="M1061 575l12 3 5-6-12-4zM1044 578l12 4 5-7-12-4zM1056 582l13 3 4-7-12-3zM1027 581l12 4 5-7-12-4zM1039 585l13 4 4-7-12-4zM1010 585l12 3 5-7-12-4zM1022 588l12 4 5-7-12-4zM981 585l12 3 5-7-12-4zM993 588l12 4 5-7-12-4zM1005 592l12 4 5-8-12-3zM963 588l13 4 5-7-12-4zM934 588l12 4 5-8-12-3zM976 592l12 4 5-8-12-3zM946 592l12 4 5-8-12-4zM917 592l12 3 5-7-12-4zM958 596l12 3 6-7-13-4zM929 595l12 4 5-7-12-4zM899 595l12 4 6-7-12-4zM941 599l12 4 5-7-12-4zM870 595l12 3 5-7-12-3zM911 599l13 3 5-7-12-3zM882 598l12 4 5-7-12-4zM894 602l12 3 5-6-12-4zM864 601l12 4 6-7-12-3zM876 605l12 3 6-6-12-4zM888 608l13 3 5-6-12-3zM859 607l12 4 5-6-12-4zM871 611l12 3 5-6-12-3zM853 613l12 5 6-7-12-4zM848 618l12 7 5-7-12-5zM842 621l12 10 6-6-12-7zM837 615l12 22 5-6-12-10zM832 626l12 38 6-7-12-18zM889 717l13 4 5-4-13-4zM883 721l13 4 6-4-13-4zM896 725l13 3 6-3-13-4zM909 728l13 4 6-3-13-4zM904 732l13 4 5-4-13-4zM917 736l13 4 6-4-14-4z"/><path class=co d="M324 402l10-20 8 9-10 18zM259 413l11-14 8 3-11 13z"/><path class=d5 d="M381 323l11-15 9 28-12 8zM428 322l12 8 8 18-12-2zM302 367l11-24 7-11-10 29z"/><path class=cn d="M305 406l11-13 8 9-11 12zM286 408l11-10 8 8-11 9zM428 449l13 24 7-17-13-30z"/><path class=d7 d="M392 308l12-1 8 30-11-1zM404 307l12 7 8 28-12-5z"/><path class=cm d="M267 415l11-13 8 6-11 7zM241 425l11-5 7-7-10 10zM469 422l13 32 6-6-12-34zM256 446l12 17 7-18-12-5zM462 433l12 20 8 1-13-32zM455 438l13 27 6-12-12-20z"/><path class=cq d="M297 398l11-13 8 8-11 13zM244 421l10-15 8-7-10 21zM236 426l11-14 7-6-10 15zM228 431l10-26 9 7-11 14z"/><path class=cl d="M249 423l10-10 8 2-10 9zM226 450l10-24 8-5-10 15z"/><path class=df d="M383 278l12-1 9 30-12 1zM395 277l12 9 9 28-12-7z"/><path class=cp d="M278 402l11-10 8 6-11 10zM252 420l10-21 8 0-11 14z"/><path class=d6 d="M416 314l12 8 8 24-12-4z"/><path class=bc d="M1052 589l12 4 5-8-13-3zM1034 592l13 4 5-7-13-4zM1047 596l12 4 5-7-12-4zM1017 596l13 4 4-8-12-4zM1030 600l12 4 5-8-13-4zM988 596l12 4 5-8-12-4zM1000 600l12 3 5-7-12-4zM1012 603l13 4 5-7-13-4zM970 599l13 4 5-7-12-4zM983 603l12 4 5-7-12-4zM953 603l12 4 5-8-12-3zM924 602l12 4 5-7-12-4zM965 607l13 3 5-7-13-4zM936 606l12 4 5-7-12-4zM906 605l12 4 6-7-13-3zM948 610l12 3 5-6-12-4zM918 609l12 3 6-6-12-4zM930 612l13 4 5-6-12-4zM901 611l12 4 5-6-12-4zM913 615l12 4 5-7-12-3zM883 614l12 4 6-7-13-3zM925 619l13 3 5-6-13-4zM895 618l13 3 5-6-12-4zM865 618l13 3 5-7-12-3zM908 621l12 3 5-5-12-4zM878 621l12 3 5-6-12-4zM890 624l12 3 6-6-13-3zM860 625l12 3 6-7-13-3zM902 627l13 3 5-6-12-3zM872 628l13 3 5-7-12-3zM885 631l12 3 5-7-12-3zM854 631l13 5 5-8-12-3zM887 705l13 4 5-4-12-8zM894 713l13 4 6-4-13-4zM907 717l13 4 6-4-13-4zM902 721l13 4 5-4-13-4zM915 725l13 4 5-4-13-4zM928 729l13 3 6-3-14-4zM922 732l14 4 5-4-13-3z"/><path class=ct d="M289 392l11-12 8 5-11 13zM262 399l11-5 8-4-11 9z"/><path class=cs d="M270 399l11-9 8 2-11 10z"/><path class=do d="M374 250l12-2 9 29-12 1z"/><path class=dd d="M407 286l12 13 9 23-12-8z"/><path class=dn d="M386 248l12 12 9 26-12-9z"/><path class=db d="M419 299l13 15 8 16-12-8z"/><path class=d4 d="M310 361l10-29 8 1-10 32z"/><path class=dv d="M366 228l11-3 9 23-12 2z"/><path class=dk d="M398 260l13 18 8 21-12-13z"/><path class=d8 d="M432 314l12 17 8 7-12-8z"/><path class=du d="M377 225l13 14 8 21-12-12z"/><path class=bb d="M1042 604l12 3 5-7-12-4zM1025 607l12 4 5-7-12-4zM1037 611l12 4 5-8-12-3zM995 607l12 4 5-8-12-3zM1007 611l13 4 5-8-13-4zM1020 615l12 3 5-7-12-4zM978 610l12 4 5-7-12-4zM990 614l12 4 5-7-12-4zM1002 618l13 4 5-7-13-4zM960 613l13 4 5-7-13-3zM973 617l12 4 5-7-12-4zM943 616l12 4 5-7-12-3zM985 621l12 4 5-7-12-4zM955 620l12 4 6-7-13-4zM967 624l13 3 5-6-12-4zM938 622l12 4 5-6-12-4zM950 626l12 4 5-6-12-4zM920 624l12 4 6-6-13-3zM932 628l13 4 5-6-12-4zM945 632l12 3 5-5-12-4zM915 630l12 4 5-6-12-4zM927 634l12 3 6-5-13-4zM897 634l12 3 6-7-13-3zM939 637l13 4 5-6-12-3zM867 636l12 2 6-7-13-3zM909 637l13 3 5-6-12-4zM879 638l12 2 6-6-12-3zM922 640l12 3 5-6-12-3zM849 637l12 7 6-8-13-5zM891 640l13 3 5-6-12-3zM934 643l13 4 5-6-13-4zM861 644l12 2 6-8-12-2zM904 643l12 3 6-6-13-3zM873 646l13 2 5-8-12-2zM916 646l13 3 5-6-12-3zM843 642l12 8 6-6-12-7zM886 648l12 2 6-7-13-3zM929 649l12 4 6-6-13-4zM898 650l13 2 5-6-12-3zM911 652l13 3 5-6-13-3zM838 639l12 18 5-7-12-8zM880 655l13 2 5-7-12-2zM924 655l12 4 5-6-12-4zM893 657l13 2 5-7-13-2zM906 659l12 4 6-8-13-3zM900 664l13 2 5-3-12-4zM895 672l12 1 6-7-13-2zM898 697l13 4 5-4-12-3zM893 697l12 8 6-4-13-4zM905 705l13 4 6-4-13-4zM918 709l13 4 6-4-13-4zM900 709l13 4 5-4-13-4zM913 713l13 4 5-4-13-4zM926 717l13 4 5-4-13-4zM920 721l13 4 6-4-13-4zM933 725l14 4 5-4-13-4z"/><path class=dg d="M411 278l13 22 8 14-13-15z"/><path class=e0 d="M357 215l12-7 8 17-11 3z"/><path class=dq d="M390 239l13 23 8 16-13-18z"/><path class=dy d="M339 251l11-32 7-4-10 33z"/><path class=dz d="M369 208l13 20 8 11-13-14z"/><path class=e3 d="M350 219l11-6 8-5-12 7z"/><path class=ba d="M1032 618l12 4 5-7-12-4zM1015 622l12 4 5-8-12-3zM1027 626l12 3 5-7-12-4zM997 625l13 4 5-7-13-4zM1010 629l12 3 5-6-12-4zM980 627l12 4 5-6-12-4zM992 631l13 4 5-6-13-4zM1005 635l12 4 5-7-12-3zM962 630l13 3 5-6-13-3zM975 633l12 4 5-6-12-4zM987 637l13 4 5-6-13-4zM957 635l13 4 5-6-13-3zM970 639l12 4 5-6-12-4zM982 643l13 4 5-6-13-4zM952 641l12 4 6-6-13-4zM964 645l13 4 5-6-12-4zM977 649l12 3 6-5-13-4zM947 647l12 4 5-6-12-4zM959 651l13 3 5-5-13-4zM972 654l12 4 5-6-12-3zM855 650l13 5 5-9-12-2zM941 653l13 3 5-5-12-4zM868 655l12 0 6-7-13-2zM954 656l13 4 5-6-13-3zM967 660l12 4 5-6-12-4zM850 657l12 5 6-7-13-5zM936 659l13 3 5-6-13-3zM862 662l13 1 5-8-12 0zM949 662l12 4 6-6-13-4zM875 663l12 2 6-8-13-2zM918 663l13 2 5-6-12-4zM961 666l13 4 5-6-12-4zM887 665l13-1 6-5-13-2zM931 665l12 3 6-6-13-3zM943 668l13 4 5-6-12-4zM913 666l12 5 6-6-13-2zM956 672l13 4 5-6-13-4zM882 672l13 0 5-8-13 1zM925 671l13 3 5-6-12-3zM938 674l13 4 5-6-13-4zM907 673l13 4 5-6-12-5zM951 678l13 4 5-6-13-4zM876 679l13-2 6-5-13 0zM920 677l13 3 5-6-13-3zM889 677l13 1 5-5-12-1zM933 680l12 4 6-6-13-4zM902 678l13 5 5-6-13-4zM945 684l13 4 6-6-13-4zM915 683l12 3 6-6-13-3zM883 691l13-3 6-10-13-1zM927 686l13 4 5-6-12-4zM896 688l13 1 6-6-13-5zM940 690l13 4 5-6-13-4zM909 689l13 3 5-6-12-3zM922 692l13 3 5-5-13-4zM891 695l13-1 5-5-13-1zM935 695l13 4 5-5-13-4zM904 694l12 3 6-5-13-3zM916 697l13 3 6-5-13-3zM929 700l13 4 6-5-13-4zM911 701l13 4 5-5-13-3zM924 705l13 4 5-5-13-4zM937 709l13 4 5-5-13-4zM950 713l13 3 5-4-13-4zM931 713l13 4 6-4-13-4zM944 717l13 4 6-5-13-3zM939 721l13 4 5-4-13-4z"/><path class=b9 d="M1022 632l13 4 4-7-12-3zM1017 639l13 4 5-7-13-4zM1000 641l12 4 5-6-12-4zM1012 645l13 4 5-6-13-4zM995 647l12 4 5-6-12-4zM1007 651l13 3 5-5-13-4zM989 652l13 4 5-5-12-4zM1002 656l13 4 5-6-13-3zM984 658l13 4 5-6-13-4zM997 662l13 4 5-6-13-4zM979 664l13 4 5-6-13-4zM992 668l13 4 5-6-13-4zM844 664l13 6 5-8-12-5zM974 670l13 4 5-6-13-4zM987 674l12 4 6-6-13-4zM869 673l13-1 5-7-12-2zM839 661l12 18 6-9-13-6zM969 676l13 4 5-6-13-4zM982 680l12 3 5-5-12-4zM964 682l12 3 6-5-13-4zM976 685l13 4 5-6-12-3zM958 688l13 3 5-6-12-3zM971 691l13 4 5-6-13-4zM953 694l13 3 5-6-13-3zM966 697l13 4 5-6-13-4zM948 699l12 4 6-6-13-3zM960 703l13 4 6-6-13-4zM942 704l13 4 5-5-12-4zM955 708l13 4 5-5-13-4z"/><path class=b8 d="M845 679l13 18 6-19-13 1zM870 697l13-6 6-14-13 2z"/><path class=b7 d="M858 697l12 0 6-18-12-1zM877 726l14-31 5-7-13 3z"/><path class=c0 d="M523 336l10-1 6 0-10 1z"/><path class=c2 d="M527 336l10 0 6-1-10 0z"/><path class=c3 d="M521 336l10 1 6-1-10 0z"/><path class=c4 d="M504 336l11 1 6-1-10 0z"/><path class=c4 d="M515 337l10 1 6-1-10-1z"/><path class=c5 d="M498 336l11 2 6-1-11-1z"/><path class=c5 d="M509 338l10 1 6-1-10-1z"/><path class=c6 d="M492 337l11 2 6-1-11-2z"/><path class=c6 d="M503 339l10 2 6-2-10-1z"/><path class=c7 d="M569 372l11-2 6 1-11 1z"/><path class=c7 d="M636 372l11 0 6 1-11 0z"/><path class=c8 d="M580 370l11-1 6 1-11 1z"/><path class=c8 d="M619 369l11 0 6 3-11-1z"/><path class=c9 d="M591 369l11-2 6 3-11 0z"/><path class=c2 d="M782 386l11 6 5 7-11-8z"/><path class=c8 d="M659 371l11 0 5 2-11 0z"/><path class=c9 d="M630 369l12 0 5 3-11 0z"/><path class=c9 d="M602 367l11-1 6 3-11 1z"/><path class=c1 d="M793 392l11 10 5 6-11-9z"/><path class=ca d="M574 369l11-3 6 3-11 1z"/><path class=c8 d="M698 373l11 1 6 2-12-1z"/><path class=c5 d="M765 384l12 1 5 1-11-3z"/><path class=c9 d="M642 369l11-1 6 3-12 1z"/><path class=ca d="M613 366l11 0 6 3-11 0z"/><path class=cb d="M585 366l11-1 6 2-11 2z"/><path class=c8 d="M709 374l11 1 6 2-11-1z"/><path class=ca d="M557 370l11-3 6 2-11 2z"/><path class=c5 d="M777 385l11-1 5 8-11-6z"/><path class=c9 d="M681 371l11-1 6 3-11 0z"/><path class=ca d="M653 368l11-1 6 4-11 0z"/><path class=cb d="M624 366l12-1 6 4-12 0z"/><path class=cb d="M596 365l11-2 6 3-11 1z"/><path class=cb d="M568 367l11-3 6 2-11 3z"/><path class=c4 d="M788 384l11 7 5 11-11-10z"/><path class=ca d="M540 374l11-4 6 0-11 3z"/><path class=ca d="M692 370l11 1 6 3-11-1z"/><path class=cb d="M664 367l11 0 6 4-11 0z"/><path class=cc d="M636 365l11-1 6 4-11 1z"/><path class=c8 d="M732 377l11 3 5 1-11-2z"/><path class=cc d="M607 363l11-1 6 4-11 0z"/><path class=c1 d="M799 391l11 17 5 9-11-15z"/><path class=cc d="M579 364l11-2 6 3-11 1z"/><path class=cb d="M551 370l11-4 6 1-11 3z"/><path class=ca d="M703 371l12 1 5 3-11-1z"/><path class=cb d="M675 367l11-1 6 4-11 1z"/><path class=bx d="M810 408l11 22 6 2-12-15z"/><path class=cd d="M618 362l12-1 6 4-12 1z"/><path class=cd d="M590 362l11-2 6 3-11 2z"/><path class=cd d="M562 366l11-4 6 2-11 3z"/><path class=cb d="M533 374l11-4 7 0-11 4z"/><path class=c7 d="M783 384l11-4 5 11-11-7z"/><path class=cc d="M686 366l12 1 5 4-11-1z"/><path class=cd d="M658 363l11-1 6 5-11 0z"/><path class=ce d="M630 361l11-2 6 5-11 1z"/><path class=ce d="M601 360l11-2 6 4-11 1z"/><path class=c6 d="M794 380l11 12 5 16-11-17z"/><path class=ce d="M573 362l11-2 6 2-11 2z"/><path class=cd d="M544 370l11-4 7 0-11 4z"/><path class=cc d="M698 367l11 1 6 4-12-1z"/><path class=ce d="M669 362l12-1 5 5-11 1z"/><path class=cf d="M641 359l11-1 6 5-11 1z"/><path fill="url(#q17_20)" d="M805 392l11 29 5 9-11-22z"/><path class=cf d="M612 358l12-1 6 4-12 1z"/><path class=cf d="M584 360l11-3 6 3-11 2z"/><path class=ce d="M555 366l12-4 6 0-11 4z"/><path class=cc d="M709 368l12 2 5 4-11-2z"/><path class=cc d="M527 376l11-5 6-1-11 4z"/><path class=c9 d="M777 385l12-6 5 1-11 4z"/><path class=ce d="M681 361l11 1 6 5-12-1z"/><path class=cf d="M652 358l11-1 6 5-11 1z"/><path class=c9 d="M749 380l11 3 6 2-12-3z"/><path class=cg d="M624 357l11-2 6 4-11 2z"/><path class=cg d="M595 357l11-1 6 2-11 2z"/><path class=cg d="M567 362l11-3 6 1-11 2z"/><path class=ca d="M789 379l11-2 5 15-11-12z"/><path class=ce d="M538 371l11-5 6 0-11 4z"/><path class=ce d="M692 362l11 1 6 5-11-1z"/><path class=c9 d="M760 383l12 2 5 0-11 0z"/><path class=cg d="M663 357l12-1 6 5-12 1z"/><path class=ch d="M635 355l11-1 6 4-11 1z"/><path class=cc d="M732 373l11 4 6 3-12-3z"/><path fill="url(#q18_21)" d="M800 377l11 26 5 18-11-29z"/><path class=ch d="M606 356l12-2 6 3-12 1z"/><path class=ch d="M578 359l11-3 6 1-11 3z"/><path class=cf d="M549 366l11-4 7 0-12 4z"/><path class=cf d="M703 363l12 2 6 5-12-2z"/><path class=ch d="M675 356l11 1 6 5-11-1z"/><path class=ci d="M646 354l12-1 5 4-11 1z"/><path class=cb d="M743 377l12 4 5 2-11-3z"/><path fill="url(#q16_19)" d="M811 403l11 39 5 8-11-29z"/><path class=ci d="M618 354l11-1 6 2-11 2z"/><path class=ci d="M589 356l11-1 6 1-11 1z"/><path class=ce d="M715 365l11 3 6 5-11-3z"/><path class=ch d="M560 362l11-3 7 0-11 3z"/><path class=cc d="M783 382l12-9 5 4-11 2z"/><path class=ch d="M686 357l12 1 5 5-11-1z"/><path class=cb d="M755 381l11 3 6 1-12-2z"/><path class=cj d="M658 353l11-1 6 4-12 1z"/><path class=cj d="M629 353l11-2 6 3-11 1z"/><path class=cj d="M600 355l11-2 7 1-12 2z"/><path class=cb d="M795 373l11 12 5 18-11-26z"/><path class=ci d="M571 359l12-2 6-1-11 3z"/><path class=cg d="M543 369l11-4 6-3-11 4z"/><path class=ch d="M698 358l11 2 6 5-12-2z"/><path class=cb d="M766 384l12 0 5-2-11 3z"/><path class=cj d="M669 352l11 0 6 5-11-1z"/><path class=ck d="M640 351l12-1 6 3-12 1z"/><path class=cd d="M738 373l11 4 6 4-12-4z"/><path class=ck d="M611 353l12-1 6 1-11 1z"/><path class=cj d="M583 357l11-1 6-1-11 1z"/><path class=ci d="M554 365l11-3 6-3-11 3z"/><path class=ch d="M709 360l12 4 5 4-11-3z"/><path class=cf d="M525 377l12-5 6-3-11 4z"/><path class=cd d="M778 384l12-6 5-5-12 9z"/><path class=cj d="M680 352l12 2 6 4-12-1z"/><path class=cl d="M652 350l11-1 6 3-11 1z"/><path fill="url(#q16_19)" d="M817 424l11 39 5 2-11-23z"/><path class=cl d="M623 352l11-1 6 0-11 2z"/><path class=ck d="M594 356l11-1 6-2-11 2z"/><path class=cg d="M721 364l11 4 6 5-12-5z"/><path class=cj d="M565 362l11-2 7-3-12 2z"/><path class=ce d="M790 378l11-5 5 12-11-12z"/><path class=ch d="M537 372l11-3 6-4-11 4z"/><path class=cj d="M692 354l11 2 6 4-11-2z"/><path class=cc d="M761 382l11 3 6-1-12 0z"/><path class=cl d="M663 349l12 1 5 2-11 0z"/><path class=cg d="M732 368l12 6 5 3-11-4z"/><path fill="url(#q19_22)" d="M801 373l12 30 4 21-11-39z"/><path class=cl d="M605 355l12-1 6-2-12 1z"/><path class=ck d="M576 360l12 0 6-4-11 1z"/><path class=ci d="M548 369l11-3 6-4-11 3z"/><path class=cf d="M519 382l11-5 7-5-12 5z"/><path class=cj d="M703 356l12 4 6 4-12-4z"/><path class=cd d="M772 385l12-2 6-5-12 6z"/><path class=cl d="M675 350l11 1 6 3-12-2z"/><path class=cm d="M646 350l11-1 6 0-11 1z"/><path class=cf d="M744 374l11 5 6 3-12-5z"/><path fill="url(#q16_20)" d="M813 403l10 47 5 13-11-39z"/><path class=cm d="M617 354l11-1 6-2-11 1z"/><path class=ck d="M588 360l11-1 6-4-11 1z"/><path class=ci d="M715 360l12 5 5 3-11-4z"/><path class=cj d="M559 366l11-1 6-5-11 2z"/><path class=ch d="M530 377l11-3 7-5-11 3z"/><path class=cf d="M784 383l12-9 5-1-11 5z"/><path class=cl d="M686 351l12 3 5 2-11-2z"/><path class=ce d="M755 379l12 6 5 0-11-3z"/><path class=cn d="M657 349l12 1 6 0-12-1z"/><path class=cm d="M628 353l12-1 6-2-12 1z"/><path class=cl d="M599 359l12 0 6-5-12 1z"/><path class=ce d="M796 374l11 13 6 16-12-30z"/><path class=ck d="M570 365l12 0 6-5-12 0z"/><path class=ci d="M541 374l12-1 6-7-11 3z"/><path class=cl d="M698 354l11 4 6 2-12-4z"/><path class=ce d="M767 385l12 1 5-3-12 2z"/><path class=cn d="M669 350l11 1 6 0-11-1z"/><path class=cn d="M640 352l11 0 6-3-11 1z"/><path class=ch d="M738 371l12 6 5 2-11-5z"/><path fill="url(#q17_22)" d="M807 387l11 45 5 18-10-47z"/><path class=cm d="M611 359l11 0 6-6-11 1z"/><path class=ck d="M582 365l11 1 6-7-11 1z"/><path class=cj d="M553 373l11-1 6-7-11 1z"/><path class=ck d="M709 358l12 5 6 2-12-5z"/><path class=cf d="M779 386l11-5 6-7-12 9z"/><path class=cn d="M680 351l12 3 6 0-12-3z"/><path class=cn d="M651 352l12 1 6-3-12-1z"/><path fill="url(#q15_19)" d="M818 432l11 44 5 3-11-29z"/><path class=cg d="M750 377l11 7 6 1-12-6z"/><path class=cm d="M622 359l12-1 6-6-12 1z"/><path class=cl d="M593 366l11 1 7-8-12 0z"/><path class=cj d="M721 363l11 7 6 1-11-6z"/><path class=cj d="M564 372l11 2 7-9-12 0z"/><path class=cg d="M790 381l12-3 5 9-11-13z"/><path class=cm d="M692 354l11 5 6-1-11-4z"/><path class=cf d="M761 384l12 5 6-3-12-1z"/><path class=co d="M663 353l11 2 6-4-11-1z"/><path class=cn d="M634 358l11 1 6-7-11 0z"/><path class=ci d="M732 370l12 6 6 1-12-6z"/><path fill="url(#q19_23)" d="M802 378l11 34 5 20-11-45z"/><path class=cl d="M604 367l12 0 6-8-11 0z"/><path class=cj d="M575 374l12 1 6-9-11-1z"/><path class=cm d="M703 359l12 5 6-1-12-5z"/><path class=cf d="M773 389l12-1 5-7-11 5z"/><path class=co d="M674 355l12 3 6-4-12-3z"/><path class=cn d="M645 359l12 0 6-6-12-1z"/><path class=ch d="M744 376l12 8 5 0-11-7z"/><path fill="url(#q16_20)" d="M813 412l11 52 5 12-11-44z"/><path class=cm d="M616 367l12 0 6-9-12 1z"/><path class=ck d="M587 375l11 1 6-9-11-1z"/><path class=cl d="M715 364l12 7 5-1-11-7z"/><path class=ch d="M785 388l12-7 5-3-12 3z"/><path class=cn d="M686 358l12 4 5-3-11-5z"/><path class=co d="M657 359l11 2 6-6-11-2z"/><path class=cm d="M628 367l11 1 6-9-11-1z"/><path class=cj d="M727 371l11 7 6-2-12-6z"/><path class=ck d="M598 376l12 2 6-11-12 0z"/><path class=cf d="M797 381l11 15 5 16-11-34z"/><path class=cm d="M698 362l11 6 6-4-12-5z"/><path class=cn d="M668 361l12 3 6-6-12-3z"/><path class=cn d="M639 368l12 1 6-10-12 0z"/><path class=ci d="M738 378l12 7 6-1-12-8z"/><path fill="url(#q17_22)" d="M808 396l11 49 5 19-11-52z"/><path class=ck d="M610 378l11 0 7-11-12 0z"/><path class=cl d="M709 368l12 6 6-3-12-7z"/><path class=cg d="M779 394l12-4 6-9-12 7z"/><path class=cn d="M680 364l12 5 6-7-12-4z"/><path class=cn d="M651 369l11 2 6-10-11-2z"/><path fill="url(#q15_19)" d="M819 445l11 47 5 3-11-31z"/><path class=ca d="M388 419l11-3 7 0-11 1z"/><path class=cl d="M621 378l12 1 6-11-11-1z"/><path class=cb d="M417 414l11-1 7 1-11 0z"/><path class=ck d="M721 374l12 7 5-3-11-7z"/><path class=ch d="M791 390l12-2 5 8-11-15z"/><path class=cm d="M692 369l11 5 6-6-11-6z"/><path class=cn d="M662 371l12 3 6-10-12-3z"/><path class=cl d="M633 379l12 2 6-12-12-1z"/><path class=cc d="M399 416l11-5 7 3-11 2z"/><path fill="url(#q19_23)" d="M803 388l11 36 5 21-11-49z"/><path class=cc d="M428 413l11 1 7 1-11-1z"/><path class=cl d="M703 374l12 7 6-7-12-6z"/><path class=cg d="M774 399l11 1 6-10-12 4z"/><path class=cm d="M674 374l12 4 6-9-12-5z"/><path class=cl d="M645 381l11 2 6-12-11-2z"/><path class=cc d="M381 419l10-6 8 3-11 3z"/><path fill="url(#q16_20)" d="M814 424l11 55 5 13-11-47z"/><path class=cd d="M410 411l11-3 7 5-11 1z"/><path class=ck d="M715 381l12 7 6-7-12-7z"/><path class=ch d="M785 400l12-7 6-5-12 2z"/><path class=cl d="M686 378l11 6 6-10-11-5z"/><path class=cb d="M362 424l11-6 8 1-11 3z"/><path class=cl d="M656 383l12 3 6-12-12-3z"/><path class=ce d="M391 413l11-7 8 5-11 5z"/><path class=ce d="M421 408l11 0 7 6-11-1z"/><path class=cf d="M797 393l12 15 5 16-11-36z"/><path class=cb d="M344 425l11-4 7 3-11 1z"/><path class=ce d="M373 418l11-10 7 5-10 6z"/><path class=cg d="M402 406l11-7 8 9-11 3z"/><path fill="url(#q17_22)" d="M809 408l11 51 5 20-11-55z"/><path class=ce d="M432 408l12 2 7 6-12-2z"/><path class=cd d="M462 417l11-1 7 0-11 1z"/><path class=cb d="M326 431l11-7 7 1-11 4z"/><path class=cg d="M780 409l12-3 5-13-12 7z"/><path class=cd d="M355 421l11-12 7 9-11 6z"/><path fill="url(#q15_18)" d="M820 459l11 50 5 4-11-34z"/><path class=cg d="M384 408l11-11 7 9-11 7z"/><path class=ch d="M413 399l12-1 7 10-11 0z"/><path class=ce d="M444 410l11 2 7 5-11-1z"/><path class=cg d="M792 406l12-3 5 5-12-15z"/><path class=cd d="M473 416l12-1 7 0-12 1z"/><path class=cd d="M337 424l10-8 8 5-11 4z"/><path class=ch d="M366 409l10-17 8 16-11 10z"/><path class=cj d="M395 397l11-10 7 12-11 7z"/><path fill="url(#q18_22)" d="M804 403l11 36 5 20-11-51z"/><path class=ch d="M425 398l11 2 8 10-12-2z"/><path class=ce d="M455 412l11-1 7 5-11 1z"/><path class=ce d="M485 415l11-1 7 1-11 0z"/><path class=cc d="M318 430l11-6 8 0-11 7z"/><path class=ch d="M347 416l10-30 9 23-11 12z"/><path class=cl d="M376 392l11-13 8 18-11 11z"/><path fill="url(#q15_20)" d="M815 439l11 56 5 14-11-50z"/><path class=cl d="M406 387l11-4 8 15-12 1z"/><path class=cd d="M299 430l11-5 8 5-11-2z"/><path class=ch d="M436 400l12 2 7 10-11-2z"/><path class=cf d="M466 411l12-2 7 6-12 1z"/><path class=cf d="M329 424l11-9 7 1-10 8z"/><path fill="url(#q22_26)" d="M357 386l10-35 9 41-10 17z"/><path class=co d="M387 379l11-10 8 18-11 10z"/><path class=cm d="M417 383l11 1 8 16-11-2z"/><path class=ci d="M448 402l11-2 7 11-11 1z"/><path class=ce d="M310 425l11-5 8 4-11 6z"/><path class=cg d="M478 409l11-2 7 7-11 1z"/><path class=ce d="M508 415l11 6 7 1-12-5z"/><path class=ck d="M340 415l10-19 7-10-10 30z"/><path fill="url(#q24_27)" d="M367 351l11-5 9 33-11 13z"/><path class=cr d="M398 369l11-7 8 21-11 4z"/><path fill="url(#q16_21)" d="M810 425l11 50 5 20-11-56z"/><path class=cm d="M428 384l12 3 8 15-12-2z"/><path class=cj d="M459 400l11-2 8 11-12 2z"/><path class=ch d="M489 407l12 0 7 8-12-1z"/><path class=ch d="M321 420l11-11 8 6-11 9z"/><path fill="url(#q14_18)" d="M821 475l11 52 5 4-11-36z"/><path class=cs d="M409 362l11 1 8 21-11-1z"/><path class=cm d="M440 387l12-1 7 14-11 2z"/><path class=ck d="M470 398l12-5 7 14-11 2z"/><path class=cg d="M501 407l11 7 7 7-11-6z"/><path class=cl d="M332 409l10-18 8 5-10 19z"/><path class=cy d="M360 370l10-25 8 1-11 5z"/><path fill="url(#q18_22)" d="M804 422l12 34 5 19-11-50z"/><path class=cs d="M420 363l12 4 8 20-12-3z"/><path class=cn d="M452 386l11-2 7 14-11 2z"/><path class=cl d="M482 393l11 0 8 14-12 0z"/><path fill="url(#q15_20)" d="M816 456l11 56 5 15-11-52z"/><path class=cs d="M432 367l12 1 8 18-12 1z"/><path class=cp d="M463 384l11-8 8 17-12 5z"/><path class=ck d="M493 393l12 9 7 12-11-7z"/><path fill="url(#q26_28)" d="M352 365l10-34 8 14-10 25z"/><path class=cz d="M412 337l12 5 8 25-12-4z"/><path class=cs d="M444 368l11-5 8 21-11 2z"/><path class=cq d="M474 376l12 1 7 16-11 0z"/><path class=ci d="M505 402l12 15 7 9-12-12z"/><path fill="url(#q24_27)" d="M334 382l10-30 8 13-10 26z"/><path fill="url(#q27_31)" d="M362 331l10-32 9 24-11 22z"/><path fill="url(#q16_21)" d="M811 444l11 49 5 19-11-56z"/><path class=cy d="M424 342l12 4 8 22-12-1z"/><path class=cu d="M455 363l12 1 7 12-11 8z"/><path class=cp d="M486 377l12 7 7 18-12-9z"/><path class=ce d="M517 417l13 22 6 2-12-15z"/><path fill="url(#q26_30)" d="M344 352l10-39 8 18-10 34z"/><path fill="url(#q14_18)" d="M822 493l11 52 5 4-11-37z"/><path fill="url(#q29_32)" d="M372 299l11-21 9 30-11 15z"/><path class=cz d="M436 346l12 2 7 15-11 5z"/><path class=cv d="M467 364l11-5 8 18-12-1z"/><path class=cm d="M498 384l12 24 7 9-12-15z"/><path fill="url(#q25_28)" d="M326 372l10-32 8 12-10 30z"/><path fill="url(#q28_32)" d="M354 313l10-38 8 24-10 32z"/><path fill="url(#q18_21)" d="M805 444l12 31 5 18-11-49z"/><path class=cz d="M448 348l11 2 8 14-12-1z"/><path class=cv d="M478 359l13 9 7 16-12-7z"/><path class=ch d="M510 408l13 26 7 5-13-22z"/><path fill="url(#q27_31)" d="M336 340l9-41 9 14-10 39z"/><path fill="url(#q31_34)" d="M364 275l10-25 9 28-11 21z"/><path fill="url(#q14_19)" d="M817 475l11 55 5 15-11-52z"/><path class=d0 d="M459 350l12-8 7 17-11 5z"/><path class=cs d="M491 368l12 14 7 26-12-24z"/><path fill="url(#q26_29)" d="M318 365l10-32 8 7-10 32z"/><path fill="url(#q30_34)" d="M345 299l10-41 9 17-10 38z"/><path class=d4 d="M440 330l12 8 7 12-11-2z"/><path class=d2 d="M471 342l11-14 9 40-13-9z"/><path fill="url(#q22_26)" d="M503 382l13 41 7 11-13-26z"/><path fill="url(#q28_32)" d="M328 333l9-42 8 8-9 41z"/><path fill="url(#q32_36)" d="M355 258l11-30 8 22-10 25z"/><path fill="url(#q16_20)" d="M811 464l12 46 5 20-11-55z"/><path class=d4 d="M452 338l12 13 7-9-12 8z"/><path fill="url(#q26_30)" d="M482 328l12-8 9 62-12-14z"/><path class=cm d="M234 436l10-15 8-1-11 5z"/><path fill="url(#q31_35)" d="M337 291l10-43 8 10-10 41z"/><path fill="url(#q13_17)" d="M823 510l11 52 5 6-11-38z"/><path class=d4 d="M464 351l12 8 6-31-11 14z"/><path fill="url(#q23_30)" d="M494 320l14 71 8 32-13-41z"/><path fill="url(#q29_32)" d="M320 332l10-40 7-1-9 42z"/><path fill="url(#q34_37)" d="M347 248l10-33 9 13-11 30z"/><path class=cv d="M273 394l11-5 8-8-11 9z"/><path fill="url(#q17_21)" d="M806 466l12 27 5 17-12-46z"/><path class=d5 d="M444 331l13 21 7-1-12-13z"/><path fill="url(#q26_30)" d="M476 359l13 26 5-65-12 8z"/><path fill="url(#q21_25)" d="M508 391l13 62 7 3-12-33z"/><path fill="url(#q32_35)" d="M330 292l9-41 8-3-10 43z"/><path class=ct d="M254 406l12 0 7-12-11 5z"/><path fill="url(#q14_19)" d="M818 493l11 54 5 15-11-52z"/><path class=cy d="M284 389l11-8 7-14-10 14z"/><path class=dc d="M424 300l13 25 7 6-12-17z"/><path class=d2 d="M457 352l12 21 7-14-12-8z"/><path fill="url(#q24_30)" d="M489 385l13 41 6-35-14-71z"/><path fill="url(#q29_32)" d="M313 343l10-33 7-18-10 40z"/><path class=cu d="M266 406l11-3 7-14-11 5z"/><path class=dl d="M403 262l13 29 8 9-13-22z"/><path class=d2 d="M295 381l11-15 7-23-11 24z"/><path class=d7 d="M437 325l12 23 8 4-13-21z"/><path class=cx d="M469 373l13 34 7-22-13-26z"/><path fill="url(#q21_25)" d="M502 426l13 35 6-8-13-62z"/><path fill="url(#q31_35)" d="M323 310l10-34 6-25-9 41z"/><path class=cs d="M247 412l11 5 8-11-12 0z"/><path class=dv d="M382 228l13 26 8 8-13-23z"/><path class=cw d="M277 403l12-2 6-20-11 8z"/><path fill="url(#q16_20)" d="M812 484l12 44 5 19-11-54z"/><path class=df d="M416 291l13 31 8 3-13-25z"/><path class=d2 d="M449 348l14 33 6-8-12-21z"/><path fill="url(#q28_31)" d="M306 366l11-23 6-33-10 33z"/><path fill="url(#q23_26)" d="M482 407l13 33 7-14-13-41z"/><path fill="url(#q33_37)" d="M333 276l10-24 7-33-11 32z"/><path class=cs d="M258 417l12 4 7-18-11 3z"/><path class=e2 d="M361 213l13 20 8-5-13-20z"/><path fill="url(#q13_17)" d="M824 528l11 51 5 6-11-38z"/><path class=dp d="M395 254l13 33 8 4-13-29z"/><path class=ci d="M211 469l11-7 6-31-10 22z"/><path class=cy d="M289 401l11-6 6-29-11 15z"/><path class=d9 d="M429 322l13 33 7-7-12-23z"/><path class=cv d="M463 381l13 33 6-7-13-34z"/><path fill="url(#q29_33)" d="M317 343l10-24 6-43-10 34z"/><path class=ct d="M238 405l12 7 8 5-11-5z"/><path class=dz d="M343 252l12 0 6-39-11 6z"/><path class=cs d="M270 421l12 3 7-23-12 2z"/><path class=dw d="M374 233l14 27 7-6-13-26z"/><path class=dh d="M408 287l14 36 7-1-13-31z"/><path fill="url(#q17_20)" d="M806 487l12 25 6 16-12-44z"/><path fill="url(#q22_26)" d="M222 462l11-8 5-49-10 26z"/><path class=d2 d="M442 355l13 30 8-4-14-33z"/><path fill="url(#q26_29)" d="M300 395l11-13 6-39-11 23z"/><path class=cn d="M476 414l12 34 7-8-13-33z"/><path fill="url(#q31_35)" d="M327 319l11-15 5-52-10 24z"/><path class=cq d="M250 412l13 28 7-19-12-4z"/><path fill="url(#q34_37)" d="M355 252l13 15 6-34-13-20z"/><path class=ci d="M201 445l13 16 8 1-11 7z"/><path fill="url(#q14_19)" d="M818 512l12 52 5 15-11-51z"/><path class=dq d="M388 260l13 33 7-6-13-33z"/><path class=ct d="M282 424l12 1 6-30-11 6z"/><path class=d9 d="M422 323l13 37 7-5-13-33z"/><path class=cu d="M455 385l14 37 7-8-13-33z"/><path fill="url(#q27_31)" d="M311 382l11-12 5-51-10 24z"/><path fill="url(#q23_26)" d="M233 454l11-9 6-33-12-7z"/><path fill="url(#q32_35)" d="M338 304l12 3 5-55-12 0z"/><path class=co d="M263 440l12 5 7-21-12-3z"/><path fill="url(#q33_36)" d="M368 267l13 23 7-30-14-27z"/><path class=di d="M401 293l14 38 7-8-14-36z"/><path class=ci d="M214 461l12 9 7-16-11 8z"/><path class=cv d="M294 425l11-3 6-40-11 13z"/><path class=d1 d="M435 360l14 40 6-15-13-30z"/><path fill="url(#q28_32)" d="M322 370l11-7 5-59-11 15z"/><path class=co d="M244 445l12 1 7-6-13-28z"/><path fill="url(#q31_35)" d="M350 307l13 13 5-53-13-15z"/><path fill="url(#q23_31)" d="M184 334l17 71 13 56-13-16z"/><path class=co d="M275 445l12 8 7-28-12-1z"/><path fill="url(#q31_35)" d="M381 290l14 30 6-27-13-33z"/><path class=c2 d="M636 516l12-10 7 13-12-8z"/><path fill="url(#q15_19)" d="M813 504l12 42 5 18-12-52z"/><path class=d9 d="M415 331l13 34 7-5-13-37z"/><path class=ct d="M449 400l13 33 7-11-14-37z"/><path fill="url(#q25_28)" d="M305 422l12-4 5-48-11 12z"/><path class=cl d="M226 470l10-23 8-2-11 9z"/><path fill="url(#q29_32)" d="M333 363l12 5 5-61-12-3z"/><path fill="url(#q30_34)" d="M363 320l13 18 5-48-13-23z"/><path fill="url(#q13_17)" d="M825 546l11 50 5 6-11-38z"/><path class=c3 d="M648 506l12-10 7 26-12-3z"/><path fill="url(#q22_27)" d="M201 405l17 76 8-11-12-9z"/><path fill="url(#q29_33)" d="M395 320l13 34 7-23-14-38z"/><path class=c2 d="M618 518l12-7 6 5-12-5z"/><path class=co d="M287 453l12 3 6-34-11 3z"/><path class=d1 d="M428 365l13 36 8-1-14-40z"/><path fill="url(#q26_29)" d="M317 418l11 0 5-55-11 7z"/><path class=co d="M236 447l10-17 10 16-12-1z"/><path fill="url(#q28_32)" d="M345 368l13 11 5-59-13-13z"/><path fill="url(#q22_31)" d="M187 477l11 3 3-75-17-71z"/><path class=c2 d="M660 496l13 25 6 10-12-9z"/><path fill="url(#q29_33)" d="M376 338l13 24 6-42-14-30z"/><path fill="url(#q19_24)" d="M630 511l11-67 7 62-12 10z"/><path fill="url(#q27_30)" d="M408 354l14 39 6-28-13-34z"/><path class=ch d="M218 481l12 8 6-42-10 23z"/><path class=cp d="M299 456l12 3 6-41-12 4z"/><path class=cs d="M441 401l14 37 7-5-13-33z"/><path fill="url(#q25_29)" d="M328 418l13 6 4-56-12-5z"/><path class=cn d="M246 430l14 33 8 0-12-17z"/><path fill="url(#q27_31)" d="M358 379l13 13 5-54-13-18z"/><path fill="url(#q21_27)" d="M198 480l14 22 6-21-17-76z"/><path fill="url(#q19_28)" d="M641 444l12-65 7 117-12 10z"/><path fill="url(#q14_18)" d="M819 532l12 50 5 14-11-50z"/><path fill="url(#q27_31)" d="M389 362l13 28 6-36-13-34z"/><path class=c2 d="M611 524l13 7 6-20-12 7z"/><path fill="url(#q25_29)" d="M422 393l13 33 6-25-13-36z"/><path class=cp d="M311 459l12 4 5-45-11 0z"/><path fill="url(#q22_25)" d="M230 489l12 1 4-60-10 17z"/><path fill="url(#q25_29)" d="M341 424l12 9 5-54-13-11z"/><path fill="url(#q19_28)" d="M653 379l13 78 7 64-13-25z"/><path fill="url(#q26_30)" d="M371 392l12 18 6-48-13-24z"/><path fill="url(#q18_24)" d="M624 531l12-2 5-85-11 67z"/><path fill="url(#q26_29)" d="M402 390l13 26 7-23-14-39z"/><path fill="url(#q20_23)" d="M294 496l12 19 5-56-12-3z"/><path fill="url(#q23_26)" d="M435 426l13 30 7-18-14-37z"/><path class=cb d="M499 483l12 1 8 16-12-6z"/><path fill="url(#q23_26)" d="M323 463l12 7 6-46-13-6z"/><path fill="url(#q22_25)" d="M242 490l12 5 6-32-14-33z"/><path fill="url(#q24_28)" d="M353 433l12 10 6-51-13-13z"/><path fill="url(#q17_23)" d="M666 457l13 73 6 12-12-21z"/><path fill="url(#q17_22)" d="M274 499l16 63 4-66-13-22z"/><path fill="url(#q25_29)" d="M383 410l13 21 6-41-13-28z"/><path fill="url(#q19_28)" d="M636 529l12-16 5-134-12 65z"/><path fill="url(#q15_19)" d="M814 526l11 40 6 16-12-50z"/><path fill="url(#q24_27)" d="M415 416l13 33 7-23-13-33z"/><path fill="url(#q20_23)" d="M306 515l12-3 5-49-12-4z"/><path class=cg d="M480 479l11-21 8 25-12-9z"/><path class=c9 d="M511 484l13 13 7 18-12-15z"/><path fill="url(#q23_25)" d="M335 470l12 7 6-44-12-9z"/><path fill="url(#q24_27)" d="M365 443l13 15 5-48-12-18z"/><path fill="url(#q13_16)" d="M825 566l12 49 5 6-11-39z"/><path fill="url(#q19_28)" d="M648 513l12 12 6-68-13-78z"/><path fill="url(#q24_27)" d="M396 431l13 25 6-40-13-26z"/><path fill="url(#q14_21)" d="M290 562l14 53 2-100-12-19z"/><path fill="url(#q14_19)" d="M617 567l13 32 6-70-12 2z"/><path fill="url(#q16_19)" d="M555 528l12 5 8 37-13-25z"/><path fill="url(#q21_27)" d="M491 458l11-49 9 75-12-1z"/><path class=c7 d="M524 497l12 17 7 8-12-7z"/><path fill="url(#q22_25)" d="M347 477l13 8 5-42-12-10z"/><path fill="url(#q18_23)" d="M660 525l12 22 7-17-13-73z"/><path fill="url(#q17_21)" d="M267 508l12 19 11 35-16-63z"/><path fill="url(#q23_26)" d="M378 458l12 12 6-39-13-21z"/><path fill="url(#q14_20)" d="M630 599l12-22 6-64-12 16z"/><path fill="url(#q23_26)" d="M409 456l13 19 6-26-13-33z"/><path fill="url(#q14_20)" d="M304 615l9-43 5-60-12 3z"/><path class=cf d="M473 491l12 9 6-42-11 21z"/><path class=c5 d="M536 514l12 7 7 7-12-6z"/><path fill="url(#q21_27)" d="M502 409l13 25 9 63-13-13z"/><path fill="url(#q16_20)" d="M642 577l12-21 6-31-12-12z"/><path fill="url(#q14_20)" d="M279 527l13 20 12 68-14-53z"/><path fill="url(#q22_25)" d="M390 470l13 21 6-35-13-25z"/><path fill="url(#q13_17)" d="M820 555l12 49 5 11-12-49z"/><path class=c4 d="M548 521l13 6 6 6-12-5z"/><path fill="url(#q21_27)" d="M485 500l13 2 4-93-11 49z"/><path fill="url(#q20_25)" d="M515 434l14 56 7 24-12-17z"/><path class=bx d="M759 556l12-8 6 11-13-1z"/><path fill="url(#q14_18)" d="M623 552l12-3 7 28-12 22z"/><path fill="url(#q14_20)" d="M292 547l11-12 10 37-9 43z"/><path class=c0 d="M592 543l12 6 7-5-13-7z"/><path fill="url(#q21_27)" d="M498 502l12 5 5-73-13-25z"/><path class=c8 d="M529 490l13 38 6-7-12-7z"/><path class=bx d="M771 548l12 12 6-4-12 3z"/><path class=c5 d="M272 535l11-1 9 13-13-20z"/><path class=bx d="M635 549l12-1 7 8-12 21z"/><path fill="url(#q17_20)" d="M740 560l13-37 6 33-13 4z"/><path fill="url(#q14_18)" d="M814 551l12 39 6 14-12-49z"/><path fill="url(#q17_22)" d="M303 535l10-29 9 20-9 46z"/><path fill="url(#q15_18)" d="M573 544l13 51 6-52-12-4z"/><path class=c5 d="M542 528l12 10 7-11-13-6z"/><path fill="url(#q20_25)" d="M510 507l12 19 7-36-14-56z"/><path fill="url(#q12_16)" d="M826 590l12 49 5 3-11-38z"/><path class=bz d="M647 548l13 0 6 6-12 2z"/><path fill="url(#q17_23)" d="M753 523l13-40 5 65-12 8z"/><path class=c6 d="M283 534l11-13 9 14-11 12z"/><path class=c3 d="M616 520l12 9 7 20-12 3z"/><path fill="url(#q15_18)" d="M586 595l12-18 6-28-12-6z"/><path class=c3 d="M554 538l12 7 7-1-12-17z"/><path class=c8 d="M522 526l13 6 7-4-13-38z"/><path class=cd d="M313 506l11-16 10 24-12 12z"/><path fill="url(#q17_23)" d="M766 483l12 47 5 30-12-12z"/><path fill="url(#q18_22)" d="M660 548l12-51 6 45-12 12z"/><path class=c2 d="M628 529l13 18 6 1-12 1z"/><path class=bz d="M734 568l12-1 7-44-13 37z"/><path fill="url(#q20_22)" d="M294 521l11-25 8 10-10 29z"/><path fill="url(#q17_25)" d="M598 577l10-133 8 76-12 29z"/><path fill="url(#q17_21)" d="M441 530l14 54 5-56-13-18z"/><path class=bx d="M703 553l12 17 7-4-13 0z"/><path class=cf d="M324 490l12-1 9 23-11 2z"/><path class=bz d="M778 530l12 45 6-12-13-3z"/><path fill="url(#q19_25)" d="M672 497l12-52 7 96-13 1z"/><path class=cb d="M357 513l12 3 9 10-13-8z"/><path class=c6 d="M276 551l13 12 5-42-11 13z"/><path class=c1 d="M641 547l12 7 7-6-13 0z"/><path fill="url(#q17_23)" d="M746 567l13-9 7-75-13 40z"/><path fill="url(#q20_25)" d="M608 444l13 29 7 56-12-9z"/><path fill="url(#q13_20)" d="M455 584l13 54 5-87-13-23z"/><path class=ch d="M305 496l11-10 8 4-11 16z"/><path class=c4 d="M547 543l12 1 7 1-12-7z"/><path class=cf d="M336 489l12 6 9 18-12-1z"/><path fill="url(#q18_25)" d="M684 445l13 55 6 53-12-12z"/><path class=ca d="M369 516l12 4 8 6-11 0z"/><path fill="url(#q18_23)" d="M759 558l13 3 6-31-12-47z"/><path fill="url(#q18_22)" d="M653 554l13-6 6-51-12 51z"/><path fill="url(#q19_22)" d="M289 563l12 2 4-69-11 25z"/><path fill="url(#q18_24)" d="M621 473l13 92 7-18-13-18z"/><path fill="url(#q17_20)" d="M433 538l13 22 9 24-14-54z"/><path fill="url(#q17_25)" d="M591 557l12-24 5-89-10 133z"/><path fill="url(#q13_19)" d="M468 638l11-41 5-54-11 8z"/><path class=cl d="M316 486l11-13 9 16-12 1z"/><path fill="url(#q17_22)" d="M697 500l12 67 6 3-12-17z"/><path class=ce d="M348 495l13 18 8 3-12-3z"/><path fill="url(#q17_20)" d="M772 561l12 26 6-12-12-45z"/><path fill="url(#q19_25)" d="M666 548l12-6 6-97-12 52z"/><path class=ca d="M381 520l13 3 8 15-13-12z"/><path fill="url(#q15_19)" d="M634 565l13 43 6-54-12-7z"/><path class=bz d="M740 573l13-14 6-1-13 9z"/><path fill="url(#q19_25)" d="M603 533l12 23 6-83-13-29z"/><path fill="url(#q18_23)" d="M301 565l12 5 3-84-11 10z"/><path fill="url(#q16_19)" d="M479 597l11-40 7-11-13-3z"/><path class=ck d="M327 473l13 19 8 3-12-6z"/><path fill="url(#q18_25)" d="M678 542l13 23 6-65-13-55z"/><path class=cb d="M361 513l14 43 6-36-12-4z"/><path fill="url(#q11_15)" d="M827 615l12 46 5 3-12-38z"/><path fill="url(#q15_19)" d="M647 608l12-16 7-44-13 6z"/><path class=c2 d="M753 559l13-15 6 17-13-3z"/><path class=c8 d="M394 523l12 8 8 15-12-8z"/><path fill="url(#q11_24)" d="M615 556l14 121 5-112-13-92z"/><path class=c5 d="M584 548l12-9 7-6-12 24z"/><path fill="url(#q18_24)" d="M313 570l12 4 2-101-11 13z"/><path fill="url(#q15_22)" d="M691 565l12 56 6-54-12-67z"/><path fill="url(#q14_23)" d="M340 492l20 145 1-124-13-18z"/><path fill="url(#q17_20)" d="M766 544l12 33 6 10-12-26z"/><path fill="url(#q16_19)" d="M659 592l13-20 6-30-12 6z"/><path class=ca d="M375 556l11-27 8-6-13-3z"/><path fill="url(#q5_18)" d="M629 677l13 99 5-168-13-43z"/><path class=c5 d="M406 531l13 29 8-4-13-10z"/><path class=bv d="M734 597l13 11 6-49-13 14z"/><path class=c6 d="M596 539l13-2 6 19-12-23z"/><path class=bz d="M471 568l12-3 7-8-11 40z"/><path fill="url(#q18_24)" d="M325 574l12 10 3-92-13-19z"/><path fill="url(#q12_18)" d="M703 621l12 50 7-80-13-24z"/><path fill="url(#q5_22)" d="M360 637l18 138-3-219-14-43z"/><path class=cd d="M386 529l11-29 9 31-12-8z"/><path fill="url(#q5_16)" d="M642 776l12-92 5-92-12 16z"/><path fill="url(#q12_16)" d="M822 604l11 42 6 15-12-46z"/><path fill="url(#q14_20)" d="M747 608l12 24 7-88-13 15z"/><path fill="url(#q11_20)" d="M609 537l12 43 8 97-14-121z"/><path class=c0 d="M451 563l13 9 7-4-12 10z"/><path fill="url(#q19_23)" d="M577 541l12-41 7 39-12 9z"/><path class=c3 d="M483 565l12-9 7-2-12 3z"/><path fill="url(#q12_16)" d="M715 671l13-38 6-36-12-6z"/><path class=c4 d="M514 556l12-3 7 3-12-2z"/><path fill="url(#q14_23)" d="M337 584l14 34 9 19-20-145z"/><path fill="url(#q15_18)" d="M684 569l13 16 6 36-12-56z"/><path class=bb d="M833 646l12 33 6 0-12-18z"/><path fill="url(#q5_21)" d="M378 775l6-133 2-113-11 27z"/><path fill="url(#q14_20)" d="M759 632l13-8 6-47-12-33z"/><path fill="url(#q11_18)" d="M654 684l11-98 7-14-13 20z"/><path fill="url(#q19_23)" d="M397 500l12 6 10 54-13-29z"/><path fill="url(#q5_18)" d="M621 580l13 35 8 161-13-99z"/><path class=bz d="M433 597l11-15 7-19-12 6z"/><path fill="url(#q20_25)" d="M589 500l12-38 8 75-13 2z"/><path class=c0 d="M464 572l12 14 7-21-12 3z"/><path class=c6 d="M558 555l12-1 7-13-12 7z"/><path class=c4 d="M526 553l13 8 7-3-13-2z"/><path fill="url(#q12_17)" d="M697 585l12 16 6 70-12-50z"/><path fill="url(#q5_16)" d="M351 618l13 32 14 125-18-138z"/><path class=bz d="M665 586l13-14 6-3-12 3z"/><path fill="url(#q14_23)" d="M384 642l5-139 8-3-11 29z"/><path fill="url(#q5_17)" d="M634 615l12-19 8 88-12 92z"/><path fill="url(#q17_23)" d="M409 506l13 14 11 77-14-37z"/><path class=bq d="M741 605l12 2 6 25-12-24z"/><path fill="url(#q13_17)" d="M816 595l12 26 5 25-11-42z"/><path fill="url(#q18_25)" d="M601 462l13 43 7 75-12-43z"/><path class=bz d="M444 582l13 24 7-34-13-9z"/><path fill="url(#q19_23)" d="M570 554l12-17 7-37-12 41z"/><path class=c1 d="M476 586l12 2 7-32-12 9z"/><path class=c5 d="M539 561l12-13 7 7-12 3z"/><path fill="url(#q12_17)" d="M709 601l13-13 6 45-13 38z"/><path fill="url(#q5_16)" d="M364 650l11-26 9 18-6 133z"/><path fill="url(#q11_15)" d="M828 621l12 48 5 10-12-33z"/><path fill="url(#q11_18)" d="M646 596l13-14 6 4-11 98z"/><path class=bp d="M753 607l13 9 6 8-13 8z"/><path class=cl d="M389 503l12-22 8 25-12-6z"/><path fill="url(#q16_23)" d="M614 505l13 59 7 51-13-35z"/><path fill="url(#q17_22)" d="M422 520l13 12 9 50-11 15z"/><path fill="url(#q21_25)" d="M582 537l13-4 6-71-12 38z"/><path fill="url(#q14_18)" d="M457 606l14 50 5-70-12-14z"/><path fill="url(#q14_17)" d="M722 588l13 3 6 14-13 28z"/><path fill="url(#q19_22)" d="M551 548l12-30 7 36-12 1z"/><path class=c4 d="M520 569l12-2 7-6-13-8z"/><path class=bv d="M797 610l14-35 5 20-13 12z"/><path class=by d="M690 579l13-3 6 25-12-16z"/><path fill="url(#q9_12)" d="M840 669l11 56 7-28-13-18z"/><path class=bp d="M766 616l12 5 6 1-12 2z"/><path class=c0 d="M659 582l12-7 7-3-13 14z"/><path fill="url(#q14_23)" d="M375 624l11-29 3-92-5 139z"/><path fill="url(#q16_19)" d="M627 564l13 25 6 7-12 19z"/><path class=cl d="M401 481l12 10 9 29-13-14z"/><path class=bt d="M735 591l12 35 6-19-12-2z"/><path fill="url(#q15_20)" d="M811 575l13-19 4 65-12-26z"/><path fill="url(#q19_25)" d="M595 533l13 31 6-59-13-43z"/><path fill="url(#q17_21)" d="M435 532l12 10 10 64-13-24z"/><path fill="url(#q19_24)" d="M563 518l12-25 7 44-12 17z"/><path fill="url(#q14_18)" d="M471 656l12-3 5-65-12-2z"/><path class=c6 d="M532 567l12-16 7-3-12 13z"/><path class=bz d="M703 576l13-2 6 14-13 13z"/><path fill="url(#q7_11)" d="M851 725l12 33 7-61-12 0z"/><path class=bq d="M778 621l13 10 6-21-13 12z"/><path class=c2 d="M671 575l13-11 6 15-12-7z"/><path fill="url(#q18_25)" d="M386 595l12 0 3-114-12 22z"/><path class=bx d="M640 589l12 12 7-19-13 14z"/><path fill="url(#q12_20)" d="M824 556l11 67 5 46-12-48z"/><path class=bp d="M747 626l12 25 7-35-13-9z"/><path class=ci d="M413 491l13 19 9 22-13-12z"/><path fill="url(#q17_23)" d="M608 564l13 39 6-39-13-59z"/><path fill="url(#q14_21)" d="M447 542l13 15 11 99-14-50z"/><path fill="url(#q21_24)" d="M575 493l13 38 7 2-13 4z"/><path fill="url(#q7_11)" d="M863 758l14-32 6-35-13 6z"/><path fill="url(#q14_18)" d="M483 653l12-10 6-57-13 2z"/><path class=cb d="M544 551l12-19 7-14-12 30z"/><path class=bz d="M716 574l12 16 7 1-13-3z"/><path fill="url(#q15_19)" d="M791 631l13-16 7-40-14 35z"/><path class=c2 d="M684 564l13 10 6 2-13 3z"/><path fill="url(#q9_16)" d="M835 623l12 66 4 36-11-56z"/><path class=bn d="M759 651l13-4 6-26-12-5z"/><path class=c1 d="M652 601l13-36 6 10-12 7z"/><path fill="url(#q18_25)" d="M398 595l12 4 3-108-12-10z"/><path fill="url(#q15_19)" d="M621 603l13 34 6-48-13-25z"/><path class=cg d="M426 510l13 7 8 25-12-10z"/><path class=c8 d="M588 531l13 44 7-11-13-31z"/><path fill="url(#q10_18)" d="M728 590l12 120 7-84-12-35z"/><path fill="url(#q14_20)" d="M460 557l13 2 10 94-12 3z"/><path fill="url(#q16_20)" d="M804 615l13-3 7-56-13 19z"/><path fill="url(#q21_24)" d="M556 532l13 17 6-56-12 25z"/><path fill="url(#q15_19)" d="M495 643l11-36 7-29-12 8z"/><path class=c5 d="M525 578l12-2 7-25-12 16z"/><path class=c2 d="M697 574l12 9 7-9-13 2z"/><path fill="url(#q7_12)" d="M847 689l12 11 4 58-12-33z"/><path class=bo d="M772 647l13-12 6-4-13-10z"/><path fill="url(#q19_24)" d="M665 565l12-67 7 66-13 11z"/><path class=bu d="M634 637l12-18 6-18-12-12z"/><path fill="url(#q18_24)" d="M410 599l12-3 4-86-13-19z"/><path fill="url(#q4_15)" d="M740 710l12 105 7-164-12-25z"/><path fill="url(#q15_20)" d="M817 612l12 30 6-19-11-67z"/><path class=ce d="M439 517l13 12 8 28-13-15z"/><path fill="url(#q19_24)" d="M569 549l13 30 6-48-13-38z"/><path fill="url(#q14_20)" d="M473 559l12 7 10 77-12 10z"/><path class=c8 d="M537 576l13 0 6-44-12 19z"/><path fill="url(#q7_12)" d="M859 700l13-6 5 32-14 32z"/><path class=c0 d="M709 583l13 15 6-8-12-16z"/><path fill="url(#q19_24)" d="M677 498l13 34 7 42-13-10z"/><path fill="url(#q12_16)" d="M829 642l12 35 6 12-12-66z"/><path fill="url(#q4_14)" d="M752 815l13-83 7-85-13 4z"/><path fill="url(#q15_18)" d="M614 593l13 5 7 39-13-34z"/><path fill="url(#q18_23)" d="M422 596l13 5 4-84-13-7z"/><path fill="url(#q9_12)" d="M872 694l13-3 6 4-14 31z"/><path fill="url(#q18_22)" d="M582 579l13 17 6-21-13-44z"/><path class=cc d="M452 529l12 6 9 24-13-2z"/><path fill="url(#q10_18)" d="M722 598l13 29 5 83-12-120z"/><path fill="url(#q18_22)" d="M550 576l13 17 6-44-13-17z"/><path fill="url(#q15_20)" d="M485 566l13 2 8 39-11 36z"/><path class=c3 d="M518 586l12-12 7 2-12 2z"/><path fill="url(#q18_22)" d="M690 532l13 45 6 6-12-9z"/><path class=bd d="M841 677l14-11 4 34-12-11z"/><path fill="url(#q9_15)" d="M765 732l14-81 6-16-13 12z"/><path fill="url(#q19_24)" d="M658 584l13-18 6-68-12 67z"/><path class=bb d="M885 691l13 6 6-3-13 1z"/><path fill="url(#q15_18)" d="M627 598l12 7 7 14-12 18z"/><path fill="url(#q4_16)" d="M735 627l12 31 5 157-12-105z"/><path fill="url(#q18_23)" d="M435 601l12 2 5-74-13-12z"/><path class=cb d="M464 535l13 13 8 18-12-7z"/><path fill="url(#q17_21)" d="M563 593l13 30 6-44-13-30z"/><path fill="url(#q17_20)" d="M498 568l12 1 8 17-12 21z"/><path class=c4 d="M530 574l13 7 7-5-13 0z"/><path fill="url(#q11_15)" d="M855 666l13-17 4 45-13 6z"/><path class=c1 d="M703 577l13 21 6 0-13-15z"/><path fill="url(#q19_24)" d="M671 566l13 19 6-53-13-34z"/><path class=by d="M639 605l13 4 6-25-12 35z"/><path fill="url(#q4_15)" d="M747 658l13-9 5 83-13 83z"/><path class=bz d="M607 604l13 5 7-11-13-5z"/><path fill="url(#q18_22)" d="M447 603l12-1 5-67-12-6z"/><path fill="url(#q12_15)" d="M868 649l12 18 5 24-13 3z"/><path fill="url(#q15_19)" d="M576 623l13 35 6-62-13-17z"/><path class=c9 d="M477 548l13 18 8 2-13-2z"/><path class=c6 d="M510 569l13 2 7 3-12 12z"/><path class=bx d="M716 598l13 10 6 19-13-29z"/><path fill="url(#q19_22)" d="M684 585l13 4 6-12-13-45z"/><path class=bh d="M836 665l12 20 7-19-14 11z"/><path fill="url(#q9_16)" d="M760 649l13-11 6 13-14 81z"/><path class=c2 d="M652 609l13-5 6-38-13 18z"/><path class=be d="M880 667l13 30 5 0-13-6z"/><path class=bw d="M620 609l13 38 6-42-12-7z"/><path fill="url(#q15_18)" d="M589 658l12-25 6-29-12-8z"/><path fill="url(#q14_18)" d="M729 608l12 3 6 47-12-31z"/><path fill="url(#q18_22)" d="M459 602l13 1 5-55-13-13z"/><path fill="url(#q17_21)" d="M555 587l12-28 9 64-13-30z"/><path class=c9 d="M490 566l13-2 7 5-12-1z"/><path class=c5 d="M523 571l13 20 7-10-13-7z"/><path class=c2 d="M697 589l12 11 7-2-13-21z"/><path class=bi d="M848 685l13 3 7-39-13 17z"/><path class=bp d="M773 638l13 11 6-13-13 15z"/><path class=c3 d="M665 604l12 0 7-19-13-19z"/><path fill="url(#q13_18)" d="M633 647l13 35 6-73-13-4z"/><path class=bo d="M818 633l12 22 6 10-12-25z"/><path fill="url(#q14_18)" d="M741 611l13 16 6 22-13 9z"/><path fill="url(#q15_23)" d="M567 559l13-27 9 126-13-35z"/><path fill="url(#q18_21)" d="M472 603l12 7 6-44-13-18z"/><path class=c8 d="M503 564l13 10 7-3-13-2z"/><path class=bi d="M861 688l13 8 6-29-12-18z"/><path class=c0 d="M709 600l13 1 7 7-13-10z"/><path class=bi d="M830 655l13 36 5-6-12-20z"/><path fill="url(#q13_18)" d="M646 682l12-34 7-44-13 5z"/><path class=br d="M754 627l13 14 6-3-13 11z"/><path fill="url(#q15_18)" d="M613 630l13 34 7-17-13-38z"/><path class=bf d="M874 696l13 9 6-8-13-30z"/><path fill="url(#q15_23)" d="M580 532l13 31 8 70-12 25z"/><path class=bz d="M722 601l13 19 6-9-12-3z"/><path fill="url(#q17_21)" d="M484 610l13 12 6-58-13 2z"/><path class=c5 d="M548 588l13 11 6-40-12 28z"/><path class=c7 d="M516 574l12 7 8 10-13-20z"/><path class=c1 d="M690 599l13 9 6-8-12-11z"/><path class=bf d="M843 691l12 13 6-16-13-3z"/><path class=bp d="M767 641l12 29 7-21-13-11z"/><path class=bn d="M626 664l13-16 7 34-13-35z"/><path class=bx d="M735 620l13 3 6 4-13-16z"/><path fill="url(#q13_16)" d="M811 668l13 27 6-40-12-22z"/><path fill="url(#q16_21)" d="M593 563l13 49 7 18-12 3z"/><path fill="url(#q19_23)" d="M561 599l13-4 6-63-13 27z"/><path fill="url(#q17_21)" d="M497 622l13 12 6-60-13-10z"/><path class=c5 d="M528 581l13 15 7-8-12 3z"/><path class=be d="M855 704l13-2 6-6-13-8z"/><path class=c1 d="M703 608l13 0 6-7-13-1z"/><path fill="url(#q11_15)" d="M779 670l13 52 7-64-13-9z"/><path fill="url(#q13_17)" d="M639 648l12-10 7 10-12 34z"/><path class=bv d="M748 623l13 7 6 11-13-14z"/><path fill="url(#q15_18)" d="M606 612l13 19 7 33-13-34z"/><path class=bd d="M868 702l13 8 6-5-13-9z"/><path fill="url(#q18_23)" d="M574 595l13 16 6-48-13-31z"/><path fill="url(#q16_20)" d="M510 634l13 14 5-67-12-7z"/><path class=bz d="M716 608l13 19 6-7-13-19z"/><path fill="url(#q8_15)" d="M792 722l11 59 8-113-12-10z"/><path class=c1 d="M684 606l12 5 7-3-13-9z"/><path class=be d="M837 697l13 11 5-4-12-13z"/><path class=br d="M761 630l13 13 5 27-12-29z"/><path class=bu d="M651 638l13 1 7-24-13 33z"/><path class=bc d="M881 710l13 3 6-4-13-4z"/><path class=bs d="M619 631l13 11 7 6-13 16z"/><path fill="url(#q18_21)" d="M587 611l13 12 6-11-13-49z"/><path class=bw d="M729 627l13 12 6-16-13-3z"/><path fill="url(#q5_14)" d="M803 781l12 45 9-131-13-27z"/><path class=c2 d="M554 611l13 10 7-26-13 4z"/><path fill="url(#q16_20)" d="M523 648l12 1 6-53-13-15z"/><path class=c1 d="M696 611l13 6 7-9-13 0z"/><path class=bd d="M850 708l13 0 5-6-13 2z"/><path fill="url(#q11_16)" d="M774 643l12 19 6 60-13-52z"/><path class=bq d="M632 642l13 45 6-49-12 10z"/><path fill="url(#q5_13)" d="M815 826l14-52 8-77-13-2z"/><path class=bu d="M742 639l12 22 7-31-13-7z"/><path class=by d="M600 623l12-1 7 9-13-19z"/><path class=c1 d="M567 621l13 10 7-20-13-16z"/><path fill="url(#q15_19)" d="M535 649l13 19 6-57-13-15z"/><path class=bd d="M863 708l13 5 5-3-13-8z"/><path class=bz d="M709 617l13 17 7-7-13-19z"/><path fill="url(#q8_15)" d="M786 662l13 20 4 99-11-59z"/><path fill="url(#q8_13)" d="M829 774l14-53 7-13-13-11z"/><path fill="url(#q11_17)" d="M645 687l13 54 6-102-13-1z"/><path class=bt d="M754 661l13-8 7-10-13-13z"/><path class=bw d="M612 622l13 14 7 6-13-11z"/><path class=bd d="M876 713l13 4 5-4-13-3z"/><path class=bz d="M580 631l13 2 7-10-13-12z"/><path fill="url(#q13_17)" d="M722 634l13 69 7-64-13-12z"/><path fill="url(#q14_18)" d="M548 668l13 15 6-62-13-10z"/><path fill="url(#q5_14)" d="M799 682l13 8 3 136-12-45z"/><path class=c0 d="M690 629l13-3 6-9-13-6z"/><path class=bd d="M843 721l14-12 6-1-13 0z"/><path class=bs d="M767 653l13 4 6 5-12-19z"/><path fill="url(#q11_17)" d="M658 741l13-51 6-61-13 10z"/><path fill="url(#q14_17)" d="M625 636l13 7 7 44-13-45z"/><path fill="url(#q9_17)" d="M735 703l12 62 7-104-12-22z"/><path fill="url(#q5_14)" d="M812 690l13 1 4 83-14 52z"/><path class=bz d="M593 633l12-2 7-9-12 1z"/><path fill="url(#q14_18)" d="M561 683l13-4 6-48-13-10z"/><path class=be d="M857 709l13 8 6-4-13-5z"/><path class=by d="M703 626l13 18 6-10-13-17z"/><path class=bq d="M780 657l14-1 5 26-13-20z"/><path fill="url(#q14_18)" d="M671 690l12-48 7-13-13 0z"/><path fill="url(#q11_17)" d="M638 643l13 19 7 79-13-54z"/><path fill="url(#q8_14)" d="M825 691l13 7 5 23-14 53z"/><path fill="url(#q9_16)" d="M747 765l14-53 6-59-13 8z"/><path class=by d="M605 631l13 5 7 0-13-14z"/><path class=bd d="M870 717l13 4 6-4-13-4z"/><path fill="url(#q15_18)" d="M574 679l13 6 6-52-13-2z"/><path fill="url(#q13_17)" d="M716 644l13 12 6 47-13-69z"/><path class=bo d="M794 656l13 5 5 29-13-8z"/><path class=bf d="M838 698l13 20 6-9-14 12z"/><path fill="url(#q13_16)" d="M761 712l13-39 6-16-13-4z"/><path fill="url(#q11_17)" d="M651 662l13-14 7 42-13 51z"/><path class=bx d="M618 636l13 5 7 2-13-7z"/><path fill="url(#q14_18)" d="M587 685l12 14 6-68-12 2z"/><path fill="url(#q9_16)" d="M729 656l13 25 5 84-12-62z"/><path class=bn d="M807 661l13 14 5 16-13-1z"/><path class=bx d="M696 645l13 5 7-6-13-18z"/><path class=bf d="M851 718l13 2 6-3-13-8z"/><path class=br d="M774 673l13-5 7-12-14 1z"/><path fill="url(#q14_17)" d="M664 648l13-2 6-4-12 48z"/><path class=bw d="M631 641l13 1 7 20-13-19z"/><path class=bl d="M820 675l12 22 6 1-13-7z"/><path fill="url(#q9_16)" d="M742 681l13-9 6 40-14 53z"/><path fill="url(#q14_18)" d="M599 699l13 1 6-64-13-5z"/><path class=be d="M864 720l13 4 6-3-13-4z"/><path class=bv d="M709 650l13 2 7 4-13-12z"/><path class=bs d="M787 668l14-2 6-5-13-5z"/><path class=bw d="M677 646l13 10 6-11-13-3z"/><path class=bi d="M832 697l13 13 6 8-13-20z"/><path class=bv d="M644 642l13 13 7-7-13 14z"/><path fill="url(#q13_16)" d="M755 672l13-7 6 8-13 39z"/><path fill="url(#q14_18)" d="M612 700l13 9 6-68-13-5z"/><path class=bt d="M722 652l14 5 6 24-13-25z"/><path class=br d="M801 666l13 6 6 3-13-14z"/><path class=bg d="M845 710l13 13 6-3-13-2z"/><path class=bs d="M768 665l13-3 6 6-13 5z"/><path class=bw d="M657 655l13 2 7-11-13 2z"/><path fill="url(#q13_18)" d="M625 709l13 6 6-73-13-1z"/><path class=bs d="M736 657l13 7 6 8-13 9z"/><path class=bp d="M814 672l13 14 5 11-12-22z"/><path class=bf d="M858 723l13 4 6-3-13-4z"/><path class=bv d="M703 662l13-4 6-6-13-2z"/><path class=bt d="M781 662l13 6 7-2-14 2z"/><path class=bw d="M670 657l13 6 7-7-13-10z"/><path fill="url(#q13_18)" d="M638 715l13 9 6-69-13-13z"/><path class=bl d="M827 686l12 29 6-5-13-13z"/><path class=bt d="M749 664l13 3 6-2-13 7z"/><path class=bf d="M871 727l14 4 5-3-13-4z"/><path class=bw d="M716 658l13 2 7-3-14-5z"/><path class=bs d="M794 668l13 19 7-15-13-6z"/><path class=bh d="M839 715l13 10 6-2-13-13z"/><path class=bu d="M762 667l13 7 6-12-13 3z"/><path fill="url(#q13_17)" d="M651 724l13 6 6-73-13-2z"/><path class=bv d="M729 660l13 8 7-4-13-7z"/><path class=bq d="M807 687l14 8 6-9-13-14z"/><path class=bv d="M696 665l13 2 7-9-13 4z"/><path class=bg d="M852 725l14 5 5-3-13-4z"/><path class=bt d="M775 674l13 10 6-16-13-6z"/><path fill="url(#q13_17)" d="M664 730l13 1 6-68-13-6z"/><path class=bn d="M821 695l13 7 5 13-12-29z"/><path class=bu d="M742 668l13 10 7-11-13-3z"/><path class=bg d="M866 730l13 4 6-3-14-4z"/><path class=bw d="M709 667l14-1 6-6-13-2z"/><path class=bq d="M788 684l13 20 6-17-13-19z"/><path fill="url(#q13_17)" d="M677 731l13-8 6-58-13-2z"/><path class=bj d="M834 702l13 22 5 1-13-10z"/><path class=bu d="M755 678l14-4 6 0-13-7z"/><path class=bv d="M723 666l13 5 6-3-13-8z"/><path class=bo d="M801 704l13 3 7-12-14-8z"/><path fill="url(#q13_17)" d="M690 723l13 6 6-62-13-2z"/><path class=bh d="M847 724l13 9 6-3-14-5z"/><path class=bs d="M769 674l13 25 6-15-13-10z"/><path class=bu d="M736 671l13 17 6-10-13-10z"/><path class=bn d="M814 707l13 15 7-20-13-7z"/><path class=bg d="M860 733l13 4 6-3-13-4z"/><path fill="url(#q13_17)" d="M703 729l13-13 7-50-14 1z"/><path fill="url(#q13_16)" d="M782 699l12 42 7-37-13-20z"/><path class=bk d="M827 722l14 3 6-1-13-22z"/><path class=bt d="M749 688l13 3 7-17-14 4z"/><path class=br d="M716 716l13 0 7-45-13-5z"/><path fill="url(#q10_15)" d="M794 741l13 48 7-82-13-3z"/><path class=bi d="M841 725l13 10 6-2-13-9z"/><path class=br d="M762 691l13 11 7-3-13-25z"/><path class=br d="M729 716l13-12 7-16-13-17z"/><path fill="url(#q10_15)" d="M807 789l14-32 6-35-13-15z"/><path class=bh d="M854 735l13 5 6-3-13-4z"/><path class=bn d="M775 702l14 8 5 31-12-42z"/><path class=bi d="M821 757l14-26 6-6-14-3z"/><path class=br d="M742 704l14 3 6-16-13-3z"/><path class=bh d="M867 740l14 4 6-3-14-4z"/><path fill="url(#q10_15)" d="M789 710l13 21 5 58-13-48z"/><path class=bj d="M835 731l13 5 6-1-13-10z"/><path class=br d="M756 707l13-3 6-2-13-11z"/><path fill="url(#q10_15)" d="M802 731l13-10 6 36-14 32z"/><path class=bi d="M848 736l13 7 6-3-13-5z"/><path class=bq d="M769 704l13 4 7 2-14-8z"/><path class=bk d="M815 721l14 6 6 4-14 26z"/><path class=bi d="M861 743l14 4 6-3-14-4z"/><path class=bo d="M782 708l14 12 6 11-13-21z"/><path class=bl d="M829 727l13 10 6-1-13-5z"/><path class=bm d="M796 720l13 12 6-11-13 10z"/><path class=bj d="M842 737l13 8 6-2-13-7z"/><path class=bm d="M809 732l13 4 7-9-14-6z"/><path class=bj d="M855 745l14 5 6-3-14-4z"/><path class=bl d="M822 736l14 7 6-6-13-10z"/><path class=bk d="M849 749l14 4 6-3-14-5z"/><path class=bj d="M863 753l14 4 6-3-14-4z"/></g><line x1="102.9" y1="418.7" x2="441.5" y2="500.1" stroke="#222" stroke-width="1.4"/><line x1="441.5" y1="500.1" x2="567.5" y2="340.7" stroke="#999" stroke-width="0.8"/><line x1="441.5" y1="500.1" x2="567.5" y2="340.7" stroke="#111" stroke-width="1.3" stroke-dasharray="1.3 3.2"/><g stroke="#222" stroke-width="1.2"><line x1="79.1" y1="108.0" x2="75.6" y2="109.5" /><line x1="83.3" y1="163.9" x2="79.8" y2="165.4" /><line x1="87.5" y1="218.0" x2="84.0" y2="219.5" /><line x1="91.5" y1="270.5" x2="88.0" y2="272.0" /><line x1="95.4" y1="321.4" x2="91.9" y2="322.9" /><line x1="99.2" y1="370.8" x2="95.7" y2="372.3" /><line x1="102.9" y1="418.7" x2="99.4" y2="420.2" /><line x1="155.1" y1="431.2" x2="153.6" y2="435.2" /><line x1="222.8" y1="447.5" x2="221.3" y2="451.5" /><line x1="293.1" y1="464.4" x2="291.6" y2="468.4" /><line x1="365.9" y1="482.0" x2="364.4" y2="486.0" /><line x1="441.5" y1="500.1" x2="440.0" y2="504.1" /><line x1="474.5" y1="458.4" x2="478.5" y2="459.9" /><line x1="503.1" y1="422.3" x2="507.1" y2="423.8" /><line x1="529.5" y1="388.8" x2="533.5" y2="390.3" /><line x1="554.1" y1="357.7" x2="558.1" y2="359.2" /></g><text x="8.0" y="35.2" font-size="33.5" text-anchor="start" font-weight="bold">A</text><text x="70.7" y="116.7" font-size="16.3" text-anchor="end" font-weight="normal">250</text><text x="74.9" y="172.6" font-size="16.3" text-anchor="end" font-weight="normal">200</text><text x="79.1" y="226.8" font-size="16.3" text-anchor="end" font-weight="normal">150</text><text x="83.1" y="279.3" font-size="16.3" text-anchor="end" font-weight="normal">100</text><text x="87.0" y="330.1" font-size="16.3" text-anchor="end" font-weight="normal">50</text><text x="90.8" y="379.5" font-size="16.3" text-anchor="end" font-weight="normal">0</text><text x="94.5" y="427.4" font-size="16.3" text-anchor="end" font-weight="normal">-50</text><text x="138.0" y="452.8" font-size="16.3" text-anchor="middle" font-weight="normal">120</text><text x="206.0" y="468.8" font-size="16.3" text-anchor="middle" font-weight="normal">100</text><text x="278.5" y="485.8" font-size="16.3" text-anchor="middle" font-weight="normal">80</text><text x="351.2" y="503.5" font-size="16.3" text-anchor="middle" font-weight="normal">60</text><text x="427.9" y="521.3" font-size="16.3" text-anchor="middle" font-weight="normal">40</text><text x="485.4" y="468.7" font-size="15.4" text-anchor="start" font-weight="normal">10000</text><text x="512.3" y="431.6" font-size="15.4" text-anchor="start" font-weight="normal">20000</text><text x="538.6" y="398.9" font-size="15.4" text-anchor="start" font-weight="normal">30000</text><text x="563.9" y="367.3" font-size="15.4" text-anchor="start" font-weight="normal">40000</text><text x="45.5" y="271.0" font-size="19.2" text-anchor="middle" font-weight="normal" transform="rotate(-90.00 45.5 271.0)">Prothrombin (%)</text><text x="190.0" y="507.0" font-size="19.2" text-anchor="start" font-weight="normal" transform="rotate(12.80 190.0 507.0)">Antithrombin (%)</text><text x="492.0" y="556.0" font-size="19.0" text-anchor="start" font-weight="normal" transform="rotate(-51.00 492.0 556.0)">Anti-spike protein antibody titer (U/mL)</text><g stroke="#c8c8c8" stroke-width="1"><line x1="87.4" y1="754.8" x2="257.1" y2="658.5" /><line x1="257.1" y1="658.5" x2="553.8" y2="699.4" /><line x1="91.5" y1="805.5" x2="258.2" y2="702.2" /><line x1="258.2" y1="702.2" x2="550.5" y2="746.0" /><line x1="95.5" y1="854.5" x2="259.2" y2="744.7" /><line x1="259.2" y1="744.7" x2="547.3" y2="791.3" /><line x1="99.3" y1="901.9" x2="260.2" y2="786.1" /><line x1="260.2" y1="786.1" x2="544.2" y2="835.2" /><line x1="103.0" y1="947.8" x2="261.2" y2="826.4" /><line x1="261.2" y1="826.4" x2="541.2" y2="877.9" /><line x1="146.8" y1="959.6" x2="128.3" y2="679.1" /><line x1="146.8" y1="959.6" x2="453.6" y2="1029.7" /><line x1="182.1" y1="930.8" x2="167.7" y2="658.9" /><line x1="182.1" y1="930.8" x2="479.7" y2="995.6" /><line x1="215.0" y1="904.0" x2="204.1" y2="640.2" /><line x1="215.0" y1="904.0" x2="503.8" y2="964.2" /><line x1="245.5" y1="879.1" x2="237.8" y2="622.9" /><line x1="245.5" y1="879.1" x2="526.1" y2="935.1" /><line x1="297.2" y1="872.4" x2="294.0" y2="618.3" /><line x1="146.4" y1="1001.9" x2="297.2" y2="872.4" /><line x1="349.4" y1="882.6" x2="350.8" y2="625.4" /><line x1="205.9" y1="1016.2" x2="349.4" y2="882.6" /><line x1="403.1" y1="893.0" x2="409.3" y2="632.7" /><line x1="267.4" y1="1031.0" x2="403.1" y2="893.0" /><line x1="458.4" y1="903.8" x2="469.7" y2="640.3" /><line x1="331.1" y1="1046.3" x2="458.4" y2="903.8" /><line x1="515.3" y1="914.9" x2="532.1" y2="648.1" /><line x1="397.1" y1="1062.2" x2="515.3" y2="914.9" /></g><g stroke="#222" stroke-width="1.4" stroke-linecap="round"><line x1="83.1" y1="702.4" x2="256.0" y2="613.5" /><line x1="256.0" y1="613.5" x2="557.3" y2="651.2" /><line x1="256.0" y1="613.5" x2="262.2" y2="865.6" /><line x1="557.3" y1="651.2" x2="538.2" y2="919.4" /><line x1="106.7" y1="992.3" x2="262.2" y2="865.6" /><line x1="262.2" y1="865.6" x2="538.2" y2="919.4" /><line x1="83.1" y1="702.4" x2="106.7" y2="992.3" /></g><g transform="scale(.5)" stroke="#000" stroke-width="2.50" stroke-linejoin="round"><path class=au d="M517 1641l9-2 5-3-9 1zM512 1645l9-2 5-4-9 2zM485 1665l10-2 5-4-9 2z"/><path class=aw d="M535 1638l10-1 5-4-9 1zM515 1654l9-1 5-4-9 1zM509 1658l10-1 5-4-9 1zM499 1666l9-1 5-4-9 1z"/><path class=ax d="M545 1637l9-2 5-4-9 2zM540 1641l9-2 5-4-9 2zM529 1649l10-2 5-4-10 2zM524 1653l9-2 6-4-10 2zM519 1657l9-2 5-4-9 2zM503 1669l9-1 6-4-10 1zM497 1673l10-1 5-4-9 1z"/><path class=b1 d="M577 1635l10-2 5-4-10 2zM562 1647l10-2 5-4-10 2zM541 1663l10-2 5-4-10 2zM509 1688l9-1 6-5-10 2zM503 1693l10-2 5-4-9 1z"/><path class=av d="M505 1655l10-1 5-4-10 1zM500 1659l9-1 6-4-10 1zM495 1663l9-1 5-4-9 1zM489 1668l10-2 5-4-9 1z"/><path class=b4 d="M611 1626l10-2 5-4-10 2zM586 1646l9-2 6-4-10 2zM575 1654l10-2 5-4-9 2zM570 1658l10-2 5-4-10 2zM544 1679l9-2 6-4-10 2zM538 1683l10-1 5-5-9 2zM527 1692l10-2 6-4-10 2zM516 1701l10-2 6-4-10 1z"/><path class=b5 d="M621 1624l9-2 5-4-9 2zM611 1632l9-2 5-4-9 2zM590 1648l10-2 5-4-10 2zM575 1660l10-2 5-4-10 2zM564 1669l10-2 5-4-10 1zM532 1695l10-2 5-5-10 2zM452 1691l11 5 6 18-10-4z"/><path class=az d="M548 1646l10-2 5-4-10 2zM543 1650l9-2 6-4-10 2zM532 1658l10-2 5-4-9 2zM511 1674l10-1 5-4-10 1zM506 1679l9-2 6-4-10 1zM500 1683l10-2 5-4-9 2z"/><path class=b6 d="M630 1622l10-2 5-4-10 2zM625 1626l10-2 5-4-10 2zM605 1642l10-2 5-4-10 2zM563 1675l10-1 6-5-10 2zM542 1693l10-2 5-4-10 1zM531 1702l10-2 5-5-10 2z"/><path class=b2 d="M582 1637l9-2 5-4-9 2zM572 1645l9-2 5-4-9 2zM566 1649l10-2 5-4-9 2zM561 1653l10-2 5-4-10 2zM524 1682l10-1 5-5-10 2zM518 1687l10-2 6-4-10 1z"/><path class=b7 d="M640 1620l10-2 5-4-10 2zM635 1624l10-2 5-4-10 2zM610 1644l10-2 5-4-10 2zM605 1648l10-1 5-5-10 2zM584 1665l10-2 5-4-10 2zM573 1674l10-2 6-4-10 1zM568 1678l10-2 5-4-10 2zM535 1704l10-1 6-5-10 2zM964 1790l11 2 5-8-12-3zM975 1792l12 2 4-8-11-2zM987 1794l11 3 5-9-12-2zM959 1795l12 2 4-5-11-2zM971 1797l11 3 5-6-12-2zM982 1800l12 2 4-5-11-3zM955 1799l11 3 5-5-12-2zM966 1802l12 2 4-4-11-3zM978 1804l12 3 4-5-12-2zM950 1803l12 3 4-4-11-3zM962 1806l12 2 4-4-12-2zM974 1808l11 3 5-4-12-3zM946 1807l12 3 4-4-12-3zM958 1810l11 2 5-4-12-2zM969 1812l12 2 4-3-11-3z"/><path class=b8 d="M650 1618l9-2 5-3-9 1zM645 1622l9-2 5-4-9 2zM635 1630l10-2 5-4-10 2zM620 1642l10-1 5-4-10 1zM615 1647l9-2 6-4-10 1zM594 1663l10-1 5-5-10 2zM589 1668l10-2 5-4-10 1zM578 1676l10-2 5-4-10 2zM968 1781l12 3 5-11-12-3zM980 1784l11 2 5-11-11-2zM991 1786l12 2 5-11-12-2zM941 1811l12 2 5-3-12-3zM953 1813l12 3 4-4-11-2zM965 1816l12 2 4-4-12-2zM937 1814l12 3 4-4-12-2zM949 1817l11 2 5-3-12-3zM960 1819l12 2 5-3-12-2z"/><path class=b0 d="M552 1648l10-1 5-4-9 1zM510 1681l10-1 5-4-10 1zM504 1686l10-2 6-4-10 1zM499 1690l10-2 5-4-10 2zM465 1716l10-1 6-5-10 2z"/><path class=b9 d="M659 1616l10-1 5-4-10 2zM654 1620l10-1 5-4-10 1zM645 1628l9-1 5-4-9 1zM635 1637l10-2 5-4-10 2zM624 1645l10-2 5-4-9 2zM593 1670l10-2 6-4-10 2zM953 1773l11 17 4-9-10-16zM948 1779l11 16 5-5-11-17zM944 1783l11 16 4-4-11-16zM939 1788l11 15 5-4-11-16zM935 1791l11 16 4-4-11-15zM930 1795l11 16 5-4-11-16zM932 1817l12 3 5-3-12-3zM944 1820l12 2 4-3-11-2zM956 1822l12 3 4-4-12-2zM928 1820l12 3 4-3-12-3zM940 1823l11 2 5-3-12-2zM951 1825l12 3 5-3-12-3z"/><path class=ay d="M528 1655l10-1 5-4-10 1z"/><path class=ba d="M669 1615l10-2 5-4-10 2zM645 1635l9-2 5-4-9 2zM629 1647l10-2 5-4-10 2zM603 1668l11-2 5-4-10 2zM598 1673l10-2 6-5-11 2zM973 1770l12 3 4-13-11-3zM985 1773l11 2 5-13-12-2zM996 1775l12 2 4-13-11-2zM958 1765l10 16 5-11-11-16zM926 1798l11 16 4-3-11-16zM921 1802l11 15 5-3-11-16zM923 1823l12 3 5-3-12-3zM935 1826l12 2 4-3-11-2zM947 1828l12 3 4-3-12-3zM918 1826l12 3 5-3-12-3zM930 1829l12 2 5-3-12-2zM942 1831l12 2 5-2-12-3z"/><path class=bb d="M679 1613l10-3 5-3-10 2zM664 1625l10-3 5-4-10 3zM649 1637l10-2 5-4-10 2zM639 1645l10-2 5-4-10 2zM629 1654l10-3 5-4-10 2zM619 1662l10-2 5-4-10 2zM614 1666l10-2 5-4-10 2zM608 1671l10-2 6-5-10 2zM603 1675l10-2 5-4-10 2zM592 1684l10-2 6-5-10 2zM917 1805l11 15 4-3-11-15zM912 1808l11 15 5-3-11-15zM914 1828l12 3 4-2-12-3zM926 1831l12 2 4-2-12-2zM938 1833l12 2 4-2-12-2z"/><path class=bc d="M689 1610l10-2 5-4-10 3zM684 1614l10-2 5-4-10 2zM410 1651l9 2 7 3-10-1zM634 1656l10-3 5-4-10 2zM629 1660l10-3 5-4-10 3zM592 1691l10-3 5-4-10 2zM978 1757l11 3 5-14-11-3zM989 1760l12 2 5-14-12-2zM1001 1762l11 2 5-14-11-2zM962 1754l11 16 5-13-11-15zM907 1811l11 15 5-3-11-15zM909 1829l12 3 5-1-12-3zM921 1832l12 2 5-1-12-2zM933 1834l12 3 5-2-12-2z"/><path class=bk d="M739 1590l10-7 5-4-10 7zM705 1618l11-7 4-4-10 7zM372 1652l10-1 6-3-10 0zM382 1651l10-1 6-3-10 1zM449 1649l10-3 7 23-10 2zM649 1665l11-7 5-4-11 6zM644 1669l10-6 6-5-11 7zM638 1674l11-7 5-4-10 6zM877 1790l11 28 5-1-11-29zM869 1823l11 11 5-1-12-11z"/><path class=bn d="M749 1583l10-6 5-4-10 6zM744 1587l11-6 4-4-10 6zM740 1591l10-6 5-4-11 6zM701 1624l10-6 5-4-10 5zM696 1628l10-6 5-4-10 6zM660 1658l10-6 5-4-10 6zM986 1689l11 13 5-16-11-12zM967 1690l10 26 4-13-10-25zM933 1702l10 40 4-7-9-40zM915 1718l10 43 4-4-10-42zM910 1721l10 43 5-3-10-43zM862 1799l11 23 5-2-11-24zM857 1802l12 21 4-1-11-23z"/><path class=bo d="M759 1577l11-4 4-4-10 4zM755 1581l10-4 5-4-11 4zM750 1585l10-4 5-4-10 4zM745 1589l11-4 4-4-10 4zM740 1593l11-4 5-4-11 4zM721 1609l10-4 5-4-10 4zM696 1630l11-4 5-4-11 4zM681 1643l10-4 5-4-10 4zM675 1648l11-4 5-5-10 4zM670 1652l11-4 5-4-11 4zM1002 1686l11 3 5-16-11-2zM1013 1689l12 2 5-16-12-2zM1025 1691l11 2 5-16-11-2zM938 1695l9 40 5-11-10-38zM905 1723l10 45 5-4-10-43zM852 1803l12 19 5 1-12-21z"/><path class=be d="M699 1613l10-4 5-4-10 4zM644 1659l10-4 6-4-11 3zM634 1667l10-3 5-5-10 4zM612 1685l11-4 5-4-10 4zM983 1743l11 3 5-13-12-3zM994 1746l12 2 4-13-11-2zM1006 1748l11 2 5-13-12-2zM967 1742l11 15 5-14-11-14zM943 1742l10 31 5-8-11-30zM938 1748l10 31 5-6-10-31zM934 1752l10 31 4-4-10-31zM929 1757l10 31 5-5-10-31zM925 1761l10 30 4-3-10-31zM898 1815l11 14 5-1-12-15zM900 1831l12 3 5-1-13-3zM912 1834l12 2 5-1-12-2zM924 1836l12 3 5-1-12-3z"/><path class=bq d="M770 1573l10-3 5-4-11 3zM765 1577l10-4 5-3-10 3zM760 1581l11-4 4-4-10 4zM717 1618l10-4 5-4-10 4zM712 1622l10-4 5-4-10 4zM696 1635l11-4 5-4-10 4zM691 1639l11-3 5-5-11 4zM452 1639l11-3 6 8-10 2zM430 1649l10-2 6-4-10 3zM991 1674l11 12 5-15-11-12zM947 1676l10 37 5-12-10-35z"/><path class=br d="M780 1570l10-4 5-4-10 4zM775 1573l11-3 4-4-10 4zM771 1577l10-3 5-4-11 3zM766 1581l10-3 5-4-10 3zM742 1602l10-3 5-5-10 4zM702 1636l11-5 5-3-11 3zM463 1636l10-3 6 8-10 3zM440 1647l11-3 6-4-11 3zM1007 1671l11 2 5-16-11-2zM1018 1673l12 2 4-16-11-2zM1030 1675l11 2 5-16-12-2zM976 1665l10 24 5-15-10-23z"/><path class=bi d="M719 1604l10-7 5-3-10 6zM675 1641l10-6 5-5-10 7zM670 1645l10-6 5-4-10 6zM639 1672l10-7 5-5-10 7zM977 1716l10 14 5-13-11-14zM892 1783l10 30 5-2-11-31zM887 1785l11 30 4-2-10-30zM878 1820l12 12 5 0-12-13zM885 1833l13 3 4-1-12-3zM898 1836l12 2 5 0-13-3zM910 1838l12 3 5-1-12-2z"/><path class=bt d="M790 1566l11-3 4-4-10 3zM786 1570l10-3 5-4-11 3zM781 1574l10-3 5-4-10 3zM776 1578l11-3 4-4-10 3zM762 1590l11-3 4-4-10 3zM752 1599l11-4 5-4-11 3zM748 1603l10-3 5-5-11 4zM723 1624l11-9 5-1-11 6zM483 1630l10-3 7 8-11 3zM996 1659l11 12 5-16-11-11zM851 1769l11 30 5-3-11-34zM845 1775l12 27 5-3-11-30zM840 1779l12 24 5-1-12-27z"/><path class=bu d="M801 1563l10-3 5-4-11 3zM796 1567l10-3 5-4-10 3zM791 1571l11-3 4-4-10 3zM787 1575l10-3 5-4-11 3zM782 1579l11-3 4-4-10 3zM773 1587l10-3 5-4-11 3zM748 1608l11-9 5-1-11 6zM1012 1655l11 2 5-16-12-2zM1023 1657l11 2 5-16-11-2zM1034 1659l12 2 5-16-12-2zM981 1651l10 23 5-15-10-21zM957 1656l10 34 4-12-10-33z"/><path class=bv d="M811 1560l10-4 5-4-10 4zM806 1564l11-4 4-4-10 4zM802 1568l10-4 5-4-11 4zM797 1572l11-4 4-4-10 4zM493 1627l11-3 6 8-10 3zM1001 1644l11 11 4-16-10-10zM961 1645l10 33 5-13-10-31z"/><path class=bx d="M821 1556l11-4 5-4-11 4zM817 1560l11-4 4-4-11 4zM812 1564l11-4 5-4-11 4zM808 1568l10-4 5-4-11 4zM794 1579l11-8 4-2-11 7zM764 1598l11-12 5-1-11 10zM729 1615l11-15 4 0-10 15zM514 1620l11-3 6 8-11 4zM1016 1639l12 2 5-16-12-2zM1028 1641l11 2 5-16-11-2zM1039 1643l12 2 4-16-11-2zM966 1634l10 31 5-14-10-28zM417 1659l10-2 7-2-11 2zM928 1653l10 42 4-9-9-40z"/><path class=by d="M832 1552l11-4 4-4-10 4zM828 1556l10-4 5-4-11 4zM823 1560l11-5 4-3-10 4zM818 1564l11-6 5-3-11 5zM789 1582l11-9 5-2-11 8zM784 1584l11-10 5-1-11 9zM1006 1629l10 10 5-16-11-9zM933 1646l9 40 5-10-10-38zM421 1659l11-1 6-3-11 2z"/><path class=c1 d="M853 1544l11-4 4-4-10 4zM849 1548l11-5 4-3-11 4zM825 1560l10-4 5-3-11 5zM820 1562l11-4 4-2-10 4zM740 1600l10-12 5 0-11 12zM1010 1614l11 9 5-15-11-9zM995 1610l11 19 4-15-10-18zM976 1611l10 27 4-14-10-25zM556 1613l11 1 6 8-11-1zM567 1614l11 1 6 7-11 0zM578 1615l11 1 5 7-10-1zM589 1616l10 1 6 6-11 0zM947 1621l10 35 4-11-10-33zM266 1659l11 2 7 0-10-1zM384 1666l10 0 7-2-11 1zM850 1716l11 40 5-7-10-46z"/><path class=bd d="M669 1632l11-3 5-4-11 3zM654 1645l11-3 5-5-11 3zM644 1653l10-3 6-4-11 3zM634 1662l10-3 5-5-10 3zM466 1669l10-3 7 26-10 2zM602 1688l10-3 6-4-11 3zM902 1813l12 15 4-2-11-15zM904 1830l13 3 4-1-12-3zM917 1833l12 2 4-1-12-2zM929 1835l12 3 4-1-12-3z"/><path class=c0 d="M838 1552l11-4 4-4-10 4zM829 1558l11-5 4-2-10 4zM1021 1623l12 2 4-15-11-2zM1033 1625l11 2 5-15-12-2zM1044 1627l11 2 5-16-11-1zM535 1614l11-1 6 8-11 2zM546 1613l10 0 6 8-10 0zM942 1629l10 37 5-10-10-35zM845 1728l11 34 5-6-11-40zM844 1836l13 6 6-8-13-9z"/><path class=c5 d="M885 1533l11-3 5-4-11 3zM719 1598l11-6 5-2-11 8zM226 1657l11 2 7 0-11-2zM320 1672l11 2 7-1-11-2zM353 1678l11 2 7-2-11-1zM364 1680l11 2 7-2-11-2zM387 1684l11 2 7-2-11-2zM420 1691l12 4 7-3-12-3zM581 1741l12 24 6-18-12-15zM617 1753l12 5 7 1-13-10zM556 1749l12 17 7-7-13-7zM611 1765l12 1 6-8-12-5zM623 1766l12-1 7 1-13-8zM648 1781l12 4 6-27-12-6zM617 1775l12-4 6-6-12 1zM629 1771l12 1 7 9-13-16zM747 1785l13-15 5 11-12-22zM666 1788l13-10 6 9-13-18zM780 1811l13 0 6-21-13 5zM793 1811l13 3 6-24-13 0z"/><path class=c7 d="M896 1530l11-3 4-4-10 3zM892 1533l11-2 4-4-11 3zM887 1537l11-3 5-3-11 2zM883 1540l11-3 4-3-11 3zM819 1563l11-3 4-2-11 3zM814 1564l11-3 5-1-11 3zM1020 1583l11 9 5-17-11-7zM965 1584l11 27 4-12-10-24zM730 1592l11-5 5-2-11 5zM927 1603l10 35 5-9-10-32zM923 1607l10 39 4-8-10-35zM918 1610l10 43 5-7-10-39zM914 1611l9 47 5-5-10-43zM699 1641l12 0 5-4-11-1zM694 1645l11 0 6-4-12 0zM218 1658l11 1 8 0-11-2zM688 1648l12 0 5-3-11 0zM595 1710l11 1 6-13-11 0zM751 1748l12-11 6-16-12 8zM794 1732l12 12 5-4-12-20z"/><path class=b3 d="M539 1676l10-1 5-5-10 2zM534 1681l10-2 5-4-10 1z"/><path class=c4 d="M870 1540l11-4 4-3-10 3zM866 1543l11-4 4-3-11 4zM817 1563l11-3 4-2-10 4zM750 1588l11-7 5-1-11 8zM1015 1599l11 9 5-16-11-9zM1000 1596l10 18 5-15-10-16zM980 1599l10 25 5-14-10-22zM956 1603l10 31 5-11-10-29zM233 1657l11 2 8 0-11-2zM284 1664l11 2 7-1-11-1zM266 1663l10 2 8-1-11-2zM396 1675l11 1 7-3-11-1zM407 1676l11 1 7-3-11-1zM418 1677l11 2 7-4-11-1zM400 1679l11 2 7-4-11-1zM423 1683l11 2 6-4-11-2zM434 1685l11 3 7-4-12-3zM445 1688l12 4 6-4-11-4zM432 1695l11 4 7-3-11-4zM690 1755l12-41 5-9-12 4zM672 1741l12 27 6-14-12-19zM593 1765l12-13 6 1-12-6zM666 1751l12 15 6 2-12-27zM660 1751l12 19 6-4-12-15zM605 1770l12 5 6-9-12-1zM741 1786l12 7 7-23-13 15zM760 1799l13 0 6-14-13 5zM767 1809l13 2 6-16-13 4zM837 1811l13 14 6-16-13-23z"/><path class=c8 d="M907 1527l11-3 4-4-11 3zM903 1531l11-4 4-3-11 3zM898 1534l11-3 5-4-11 4zM894 1537l11-3 4-3-11 3zM890 1540l11-3 4-3-11 3zM830 1560l11-3 4-2-11 3zM990 1576l10 20 5-13-11-19zM932 1597l10 32 5-8-10-30zM722 1631l11-1 5-7-11 2zM716 1637l12-2 5-5-11 1zM711 1641l11-1 6-5-12 2zM705 1645l12-1 5-4-11 1zM211 1659l10 0 8 0-11-1zM700 1648l11-1 6-3-12 1zM203 1663l11-2 7-2-10 0zM683 1651l11 0 6-3-12 0zM232 1659l11 0 7 2-10-1zM694 1651l12-1 5-3-11 1zM677 1654l11 0 6-3-11 0zM188 1672l11 3 7-10-11 2zM305 1666l11 0 8 7-11-2zM666 1692l12-2 5-10-11-2zM636 1683l12 14 6-17-12 6zM619 1699l11-7 6-9-11 9zM695 1709l12-4 6-10-12-4zM738 1710l12 9 6-8-12-5zM750 1719l12-8 6 1-12-1zM772 1780l13-12 6-18-13 19z"/><path class=bg d="M685 1630l10-6 5-4-10 6zM680 1634l10-5 5-5-10 6zM670 1642l10-5 5-4-10 5zM972 1729l11 14 4-13-10-14zM911 1771l10 31 5-4-11-30zM906 1774l11 31 4-3-10-31zM888 1818l12 13 4-1-11-13z"/><path class=c9 d="M918 1524l11-4 4-4-11 4zM914 1527l11-4 4-3-11 4zM909 1531l11-4 5-4-11 4zM885 1542l11-2 5-3-11 3zM825 1561l11-3 5-1-11 3zM1036 1575l11 2 5-17-12-2zM1047 1577l11 2 5-17-11-2zM1009 1569l11 14 5-15-11-13zM820 1563l11-3 5-2-11 3zM1058 1579l12 2 5-18-12-1zM970 1575l10 24 5-11-10-23zM937 1591l10 30 4-9-10-28zM727 1625l11-2 6-7-12 2zM733 1630l11-3 6-7-12 3zM728 1635l11-3 5-5-11 3zM722 1640l12-3 5-5-11 3zM717 1644l11-3 6-4-12 3zM711 1647l12-2 5-4-11 3zM214 1661l10-1 8-1-11 0zM243 1659l10 0 8 3-11-1zM195 1667l11-2 8-4-11 2zM706 1650l11-2 6-3-12 2zM206 1665l11-2 7-3-10 1zM688 1654l12 0 6-4-12 1zM671 1658l12 0 5-4-11 0zM199 1675l11 2 7-14-11 2zM683 1658l11-1 6-3-12 0zM210 1677l11 3 6-19-10 2zM666 1662l11 0 6-4-12 0zM677 1662l12 0 5-5-11 1zM660 1669l11-4 6-3-11 0zM338 1669l11 0 8 9-11-2zM654 1675l12-3 5-7-11 4zM660 1675l12 3 5-4-11-2zM672 1678l11 2 6-7-12 1zM654 1680l12 12 6-14-12-3zM678 1690l11-4 6-8-12 2zM672 1685l12 10 5-9-11 4zM732 1707l12-1 5-10-12-7zM702 1714l12-15 6-4-13 10zM744 1706l12 5 5-5-12-10zM756 1711l12 1 6-16-13 10zM726 1707l12 3 6-4-12 1zM768 1712l12 10 6-11-12-15zM780 1722l12-10 6-8-12 7zM792 1712l13 10 5-16-12-2zM787 1719l12 1 6 2-13-10zM757 1729l12-8 6 0-13-10zM781 1730l13 2 5-12-12-1zM786 1795l13-5 6-34-13 16z"/><path class=cb d="M929 1520l11-7 4-4-11 7zM925 1523l11-6 4-4-11 7zM920 1527l12-7 4-3-11 6zM916 1530l11-6 5-4-12 7zM912 1533l11-6 4-3-11 6zM887 1545l11-3 5-3-11 3zM878 1549l12-2 4-3-11 3zM863 1553l11-2 4-2-11 2zM827 1561l11-2 4-1-11 2zM946 1577l10 26 5-9-11-25zM755 1613l12-3 5-7-12 3zM750 1620l11-3 6-7-12 3zM751 1629l11-4 6-6-12 4zM745 1634l12-4 5-5-11 4zM740 1638l11-3 6-5-12 4zM734 1642l12-2 5-5-11 3zM729 1646l12-2 5-4-12 2zM712 1652l11-2 6-4-12 2zM723 1650l12-1 6-5-12 2zM286 1656l11-1 8 11-11-1zM706 1656l12-1 5-5-11 2zM297 1655l11 0 8 11-11 0zM718 1655l12-1 5-5-12 1zM701 1661l11-1 6-5-12 1zM712 1660l12 0 6-6-12 1zM695 1668l12-3 5-5-11 1zM707 1665l11 0 6-5-12 0zM731 1678l12 7 6-8-12 1zM773 1680l12 10 5-14-12-1zM743 1685l12-2 6-3-12-3zM785 1690l12-1 5-14-12 1zM755 1683l12 9 6-12-12 0zM725 1690l12-1 6-4-12-7zM767 1692l12-4 6 2-12-10zM737 1689l12 7 6-13-12 2zM779 1688l12 7 6-6-12 1zM791 1695l13-3 5-11-12 8z"/><path class=cd d="M940 1513l11-8 5-4-12 8zM936 1517l11-8 4-4-11 8zM932 1520l11-7 4-4-11 8zM927 1524l12-8 4-3-11 7zM1030 1551l10 7 5-18-11-6zM890 1547l11-4 4-3-11 4zM955 1562l10 22 5-9-10-21zM812 1567l11-3 5-2-11 3zM766 1599l11-3 5-6-11 3zM772 1603l11-3 5-7-11 3zM767 1610l11-4 5-6-11 3zM768 1619l11-4 5-6-11 4zM762 1625l12-4 5-6-11 4zM757 1630l12-3 5-6-12 4zM763 1633l12-2 5-7-11 3zM758 1638l12-1 5-6-12 2zM752 1643l12 0 6-6-12 1zM267 1651l11-3 8 8-11 1zM747 1649l12 0 5-6-12 0zM759 1649l12 0 5-7-12 1zM741 1654l12 1 6-6-12 0zM753 1655l12 1 6-7-12 0zM765 1656l12 1 6-8-12 0zM760 1664l12 1 5-8-12-1zM772 1665l12 1 5-9-12 0zM778 1675l12 1 6-11-12 1zM790 1676l12-1 6-14-12 4z"/><path class=cg d="M951 1505l12-8 4-4-11 8zM947 1509l11-8 5-4-12 8zM943 1513l11-8 4-4-11 8zM939 1516l11-7 4-4-11 8zM934 1520l12-7 4-4-11 7zM930 1524l11-6 5-5-12 7zM925 1528l12-6 4-4-11 6zM921 1531l11-5 5-4-12 6zM917 1535l11-5 4-4-11 5zM912 1538l12-4 4-4-11 5zM908 1541l11-3 5-4-12 4zM969 1540l10 16 5-10-11-14zM903 1544l12-2 4-4-11 3zM899 1546l11-1 5-3-12 2zM944 1548l11 14 5-8-11-11zM940 1554l10 15 5-7-11-14zM846 1559l12-4 4 0-11 3zM825 1567l12-5 4-2-11 4zM804 1577l11-4 5-3-11 3zM799 1582l11-4 5-5-11 4zM908 1569l10 41 5-3-11-34zM795 1596l12-6 5-7-12 6zM790 1602l11-5 6-7-12 6zM786 1618l11-6 6-8-12 7zM787 1628l12-6 5-10-12 8zM788 1640l12-4 5-12-12 8zM270 1648l11-4 8 2-11 2zM300 1643l11-2 8 13-11 1zM795 1647l12 0 5-20-12 9zM311 1641l11-3 8 16-11 0z"/><path class=ci d="M963 1497l11-7 4-4-11 7zM958 1501l12-6 4-5-11 7zM954 1505l12-6 4-4-12 6zM950 1509l11-5 5-5-12 6zM946 1513l11-5 4-4-11 5zM941 1518l12-5 4-5-11 5zM937 1522l11-5 5-4-12 5zM1024 1525l10 9 6-23-11-5zM978 1525l10 12 5-10-11-9zM935 1532l11-2 5-5-12 2zM958 1531l11 9 4-8-11-7zM930 1536l12 0 4-6-11 2zM953 1537l11 10 5-7-11-9zM926 1541l11 0 5-5-12 0zM937 1541l12 2 4-6-11-1zM921 1545l12 1 4-5-11 0zM933 1546l11 2 5-5-12-2zM917 1549l11 2 5-5-12-1zM928 1551l12 3 4-6-11-2zM890 1548l11 0 5-1-12 1zM901 1548l11 3 5-2-11-2zM912 1551l12 4 4-4-11-2zM908 1552l11 6 5-3-12-4zM837 1562l11-6 5-1-12 5zM910 1560l11 13 5-3-11-10zM801 1597l12-10 5-7-11 10zM793 1632l12-8 6-13-12 11z"/><path class=ck d="M974 1490l11-4 4-5-11 5zM970 1495l11-5 4-4-11 4zM966 1499l11-4 4-5-11 5zM961 1504l12-4 4-5-11 4zM964 1510l11-2 5-6-12 3zM1013 1516l11 9 5-19-12-5zM986 1510l11 8 5-10-11-5zM960 1515l11-2 4-5-11 2zM971 1513l11 5 4-8-11-2zM955 1520l12-1 4-6-11 2zM967 1519l11 6 4-7-11-5zM892 1545l12 6 4 1-11-4zM848 1556l12-9 5 2-12 6zM803 1604l12-13 5-11-12 15zM303 1638l11-4 8 4-11 3zM344 1628l11-6 8 24-11 3z"/><path class=cm d="M985 1486l12-5 4-4-12 4zM984 1497l11-2 5-7-12 3zM1040 1511l11 4 5-26-11-1zM1051 1515l11 1 6-27-12 0zM839 1559l11-13 5 0-12 11zM812 1627l12 1 6-36-12 18zM366 1622l11 1 9 26-11-2z"/><path class=bz d="M809 1569l11-7 5-2-11 6zM990 1624l11 20 5-15-11-19zM525 1617l10-3 6 9-10 2zM971 1623l10 28 5-13-10-27zM937 1638l10 38 5-10-10-37zM369 1665l11 0 7-1-11 0z"/><path class=cn d="M997 1481l11-4 4-4-11 4zM992 1486l12-4 4-5-11 4zM988 1491l12-3 4-6-12 4zM995 1495l11 2 5-11-11 2zM1006 1497l11 4 5-15-11 0zM1017 1501l12 5 4-19-11-1zM1029 1506l11 5 5-23-12-1zM1062 1516l11 1 6-28-11 0zM1073 1517l12 1 6-29-12 0zM809 1602l13-18 5-14-12 21zM811 1611l12-18 6-17-13 22zM325 1630l11-9 8 7-11 7z"/><path class=cp d="M1008 1477l11-4 4-4-11 4zM1011 1486l11 0 5-11-12 3zM336 1621l11-7 8 8-11 6z"/><path class=cq d="M1019 1473l12-4 4-4-12 4zM1015 1478l12-3 4-6-12 4zM1022 1486l11 1 5-14-11 2zM1033 1487l12 1 5-17-12 2zM818 1610l12-18 6-22-13 23zM347 1614l11-1 8 9-11 0zM428 1623l12 8 8 10-12-7z"/><path class=cl d="M981 1490l11-4 5-5-12 5zM977 1495l11-4 4-5-11 4zM973 1500l11-3 4-6-11 4zM968 1505l12-3 4-5-11 3zM980 1502l11 1 4-8-11 2zM991 1503l11 5 4-11-11-2zM1002 1508l11 8 4-15-11-4zM975 1508l11 2 5-7-11-1zM843 1557l12-11 5 1-12 9zM808 1595l12-15 5-9-12 16zM804 1612l12-14 6-14-13 18zM805 1624l13-14 5-17-12 18zM314 1634l11-4 8 5-11 3zM355 1622l11 0 9 25-12-1z"/><path class=ca d="M905 1534l11-4 4-3-11 4zM901 1537l11-4 4-3-11 4zM896 1540l11-4 5-3-11 4zM892 1542l11-3 4-3-11 4zM872 1549l11-2 4-2-11 2zM1025 1568l11 7 4-17-10-7zM994 1564l11 19 4-14-10-16zM975 1565l10 23 5-12-11-20zM941 1584l10 28 5-9-10-26zM744 1616l11-3 5-7-11 3zM738 1623l12-3 5-7-11 3zM744 1627l12-4 5-6-11 3zM739 1632l12-3 5-6-12 4zM734 1637l11-3 6-5-12 3zM728 1641l12-3 5-4-11 3zM723 1645l11-3 6-4-12 3zM717 1648l12-2 5-4-11 3zM700 1654l12-2 5-4-11 2zM694 1657l12-1 6-4-12 2zM689 1662l12-1 5-5-12 1zM671 1665l12-1 6-2-12 0zM683 1664l12 4 6-7-12 1zM666 1672l11 2 6-10-12 1zM677 1674l12-1 6-5-12-4zM689 1673l12-3 6-5-12 3zM683 1680l12-2 6-8-12 3zM749 1696l12 10 6-14-12-9zM761 1706l13-10 5-8-12 4zM774 1696l12 15 5-16-12-7zM786 1711l12-7 6-12-13 3zM714 1699l12 8 6 0-12-12z"/><path class=cr d="M1031 1469l11-4 4-4-11 4zM1027 1475l11-2 4-8-11 4zM1045 1488l11 1 5-20-11 2zM1056 1489l12 0 5-22-12 2zM358 1613l12 1 7 9-11-1zM370 1614l11-1 8 10-12 0zM416 1617l12 6 8 11-12-6z"/><path class=ct d="M1042 1465l12-3 4-5-12 4zM1050 1471l11-2 5-11-12 4z"/><path class=co d="M1004 1482l11-4 4-5-11 4zM1000 1488l11-2 4-8-11 4z"/><path class=cu d="M1054 1462l12-4 4-5-12 4zM1061 1469l12-2 4-12-11 3zM858 1530l12-14 4 7-12 9z"/><path class=c3 d="M826 1560l11-4 5-2-11 4zM1026 1608l11 2 5-16-11-2zM1037 1610l12 2 4-17-11-1zM1049 1612l11 1 5-16-12-2zM951 1612l10 33 5-11-10-31zM262 1660l11 2 7 0-10-2zM352 1670l11 1 7-2-11 0zM392 1671l11 1 7-3-11 0zM374 1672l11 1 7-2-11-1zM385 1673l11 2 7-3-11-1zM414 1673l11 1 6-4-11 0zM525 1709l12 4 6-2-12-8zM507 1712l12 2 6-5-11-2zM478 1710l11 3 7-3-12-3zM501 1716l11 2 7-4-12-2zM524 1713l12 17 6-10-12-5zM703 1782l13 4 6-1-13-11zM747 1808l13-9 6-9-13 3zM754 1806l13 3 6-10-13 0z"/><path class=cv d="M1066 1458l11-3 4-6-11 4zM1073 1467l11-1 5-14-12 3z"/><path class=cx d="M1077 1455l12-3 4-7-12 4zM848 1533l13-23 4 2-12 18zM838 1547l12-29 6-6-13 26z"/><path class=bw d="M774 1592l10-8 5-2-11 6zM769 1595l11-10 4-1-10 8zM734 1615l10-15 5 0-10 14zM504 1624l10-4 6 9-10 3zM986 1638l10 21 5-15-11-20zM446 1650l11-2 6-3-10 3zM372 1664l11-1 6 0-10 0zM923 1658l10 44 5-7-10-42zM919 1661l9 46 5-5-10-44z"/><path class=cs d="M1038 1473l12-2 4-9-12 3zM1068 1489l11 0 5-23-11 1zM1079 1489l12 0 5-25-12 2zM862 1532l12-9 5 7-12 6zM849 1602l12 9 6-20-11-29zM381 1613l12 0 7 10-11 0zM393 1613l11 1 8 10-12-1zM404 1614l12 3 8 11-12-4z"/><path class=cy d="M1089 1452l12-3 4-8-12 4zM843 1538l13-26 5-2-13 23z"/><path class=ce d="M923 1527l11-7 5-4-12 8zM919 1530l11-6 4-4-11 7zM914 1534l11-6 5-4-11 6zM910 1537l11-6 4-3-11 6zM905 1540l12-5 4-4-11 6zM1003 1541l11 14 5-15-11-12zM901 1543l11-5 5-3-12 5zM984 1546l10 18 5-11-11-16zM960 1554l10 21 5-10-11-18zM823 1564l12-2 4-2-11 2zM926 1570l11 21 4-7-11-19zM921 1573l11 24 5-6-11-21zM787 1584l12-2 5-5-12 3zM917 1574l10 29 5-6-11-24zM782 1590l12-3 5-5-12 2zM777 1596l11-3 6-6-12 3zM778 1606l12-4 5-6-12 4zM773 1613l11-4 6-7-12 4zM774 1621l12-3 5-7-12 4zM769 1627l11-3 6-6-12 3zM770 1637l11-2 6-7-12 3zM764 1643l12-1 5-7-11 2zM249 1655l10-4 8 0-11 3zM278 1648l11-2 8 9-11 1zM771 1649l12 0 5-9-12 2zM777 1657l12 0 6-10-12 2zM784 1666l12-1 5-11-12 3z"/><path class=cc d="M907 1536l12-6 4-3-11 6zM903 1539l11-5 5-4-12 6zM898 1542l12-5 4-3-11 5zM894 1544l11-4 5-3-12 5zM1040 1558l12 2 5-19-12-1zM1052 1560l11 2 5-19-11-2zM1014 1555l11 13 5-17-11-11zM1063 1562l12 1 4-18-11-2zM999 1553l10 16 5-14-11-14zM979 1556l11 20 4-12-10-18zM822 1563l11-2 5-2-11 2zM817 1565l11-3 5-1-11 2zM950 1569l11 25 4-10-10-22zM760 1606l12-3 5-7-11 3zM761 1617l12-4 5-7-11 4zM756 1623l12-4 5-6-12 4zM751 1635l12-2 6-6-12 3zM746 1640l12-2 5-5-12 2zM741 1644l11-1 6-5-12 2zM256 1654l11-3 8 6-11 1zM735 1649l12 0 5-6-11 1zM308 1655l11-1 8 13-11-1zM730 1654l11 0 6-5-12 0zM319 1654l11 0 8 15-11-2zM724 1660l12 1 5-7-11 0zM736 1661l12 1 5-7-12-1zM748 1662l12 2 5-8-12-1zM718 1665l12 1 6-5-12-1zM730 1666l12 3 6-7-12-1zM742 1669l12 0 6-5-12-2zM713 1672l12-2 5-4-12-1zM754 1669l12 2 6-6-12-1zM725 1670l12 8 5-9-12-3zM766 1671l12 4 6-9-12-1zM737 1678l12-1 5-8-12 0zM749 1677l12 3 5-9-12-2zM761 1680l12 0 5-5-12-4z"/><path class=cw d="M1084 1466l12-2 5-15-12 3zM870 1516l12-5 4 10-12 2zM853 1530l12-18 5 4-12 14zM833 1557l12-29 5-10-12 29z"/><path class=cj d="M957 1508l11-3 5-5-12 4zM953 1513l11-3 4-5-11 3zM948 1517l12-2 4-5-11 3zM997 1518l11 10 5-12-11-8zM982 1518l11 9 4-9-11-8zM944 1522l11-2 5-5-12 2zM939 1527l12-2 4-5-11 2zM951 1525l11 0 5-6-12 1zM962 1525l11 7 5-7-11-6zM946 1530l12 1 4-6-11 0zM942 1536l11 1 5-6-12-1zM897 1548l11 4 4-1-11-3zM853 1555l12-6 4 1-11 5zM904 1551l11 9 4-2-11-6zM906 1556l11 18 4-1-11-13zM817 1577l12-10 5-5-12 10zM812 1583l12-10 5-6-12 10zM807 1590l11-10 6-7-12 10zM797 1612l12-10 6-11-12 13zM799 1622l12-11 5-13-12 14zM800 1636l12-9 6-17-13 14zM292 1641l11-3 8 3-11 2zM333 1635l11-7 8 21-11 4z"/><path class=ch d="M1034 1534l11 6 6-25-11-4zM1045 1540l12 1 5-25-11-1zM1008 1528l11 12 5-15-11-9zM932 1526l12-4 4-5-11 5zM1057 1541l11 2 5-26-11-1zM1068 1543l11 2 6-27-12-1zM993 1527l10 14 5-13-11-10zM928 1530l11-3 5-5-12 4zM924 1534l11-2 4-5-11 3zM973 1532l11 14 4-9-10-12zM919 1538l11-2 5-4-11 2zM915 1542l11-1 4-5-11 2zM949 1543l11 11 4-7-11-10zM910 1545l11 0 5-4-11 1zM894 1548l12-1 4-2-11 1zM906 1547l11 2 4-4-11 0zM878 1551l12-3 4 0-11 2zM862 1555l12-4 4 0-11 3zM924 1555l11 5 5-6-12-3zM841 1560l12-5 5 0-12 4zM919 1558l11 7 5-5-11-5zM915 1560l11 10 4-5-11-7zM820 1570l12-5 5-3-12 5zM815 1573l12-5 5-3-12 5zM810 1578l12-6 5-4-12 5zM805 1583l12-6 5-5-12 6zM800 1589l12-6 5-6-12 6zM796 1604l12-9 5-8-12 10zM791 1611l12-7 5-9-12 9zM792 1620l12-8 5-10-12 10zM281 1644l11-3 8 2-11 3zM322 1638l11-3 8 18-11 1z"/><path class=cf d="M1019 1540l11 11 4-17-10-9zM988 1537l11 16 4-12-10-14zM896 1545l12-4 4-3-11 5zM892 1547l11-3 5-3-12 4zM964 1547l11 18 4-9-10-16zM819 1567l11-3 5-2-12 2zM935 1560l11 17 4-8-10-15zM814 1569l11-2 5-3-11 3zM930 1565l11 19 5-7-11-17zM809 1573l11-3 5-3-11 2zM794 1587l11-4 5-5-11 4zM912 1573l11 34 4-4-10-29zM788 1593l12-4 5-6-11 4zM783 1600l12-4 5-7-12 4zM784 1609l12-5 5-7-11 5zM779 1615l12-4 5-7-12 5zM780 1624l12-4 5-8-11 6zM775 1631l12-3 5-8-12 4zM781 1635l12-3 6-10-12 6zM776 1642l12-2 5-8-12 3zM259 1651l11-3 8 0-11 3zM289 1646l11-3 8 12-11 0zM783 1649l12-2 5-11-12 4zM789 1657l12-3 6-7-12 0z"/><path class=bl d="M386 1654l10-1 6-4-10 1zM459 1646l10-2 7 22-10 3zM363 1661l10-1 7-3-10 1zM347 1663l10 0 6-2-10 0zM981 1703l11 14 5-15-11-13zM962 1701l10 28 5-13-10-26zM872 1793l11 26 5-1-11-28zM864 1822l12 10 4 2-11-11z"/><path class=bj d="M439 1649l10 0 7 22-11-3zM992 1717l12 2 4-15-11-2zM1004 1719l11 2 5-15-12-2zM1015 1721l12 2 4-15-11-2zM957 1713l10 29 5-13-10-28zM882 1788l11 29 5-2-11-30zM873 1822l12 11 5-1-12-12zM880 1834l13 3 5-1-13-3zM893 1837l12 2 5-1-12-2zM905 1839l12 2 5 0-12-3z"/><path class=bm d="M396 1653l10-2 6-4-10 2zM469 1644l10-3 7 23-10 2zM357 1663l10-1 6-2-10 1zM997 1702l11 2 5-15-11-3zM1008 1704l12 2 5-15-12-2zM1020 1706l11 2 5-15-11-2zM928 1707l10 41 5-6-10-40zM924 1712l10 40 4-4-10-41zM919 1715l10 42 5-5-10-40zM867 1796l11 24 5-1-11-26z"/><path class=c6 d="M1031 1592l11 2 5-17-11-2zM1042 1594l11 1 5-16-11-2zM1005 1583l10 16 5-16-11-14zM1053 1595l12 2 5-16-12-2zM985 1588l10 22 5-14-10-20zM961 1594l10 29 5-12-11-27zM714 1599l11-5 5-2-11 6zM335 1674l11 2 7 2-11-2zM402 1686l11 3 7 2-11-3zM562 1752l13 7 6-18-12-10zM753 1759l12 22 6-22-12-7zM765 1781l13-12 6-9-13-1zM766 1790l13-5 6-17-13 12zM773 1799l13-4 6-23-13 13z"/><path class=bs d="M473 1633l10-3 6 8-10 3zM434 1650l10-3 7-3-11 3zM952 1666l10 35 5-11-10-34zM871 1743l11 45 5-3-11-47zM866 1749l11 41 5-2-11-45zM861 1756l11 37 5-3-11-41zM856 1762l11 34 5-3-11-37z"/><path class=bf d="M601 1689l11-4 5 1-10 4zM947 1735l11 30 4-11-10-30zM920 1764l10 31 5-4-10-30zM915 1768l11 30 4-3-10-31zM893 1817l11 13 5-1-11-14zM895 1832l12 3 5-1-12-3zM907 1835l12 2 5-1-12-2zM919 1837l13 2 4 0-12-3z"/><path class=c2 d="M599 1617l11 0 6 5-11 1zM248 1657l11 2 7 0-10-2zM359 1669l11 0 7-1-11-1zM341 1669l11 1 7-1-11-1zM399 1669l11 0 6-2-11 0zM543 1711l11-1 7-4-12 1zM517 1718l13 36 6-24-12-17zM559 1738l12-6 6-7-12-3zM702 1750l13 8 5 14-12-27zM831 1828l13 8 6-11-13-14z"/><path class=bp d="M971 1678l10 25 5-14-10-24zM942 1686l10 38 5-11-10-37z"/><path class=bh d="M987 1730l12 3 5-14-12-2zM999 1733l11 2 5-14-11-2zM1010 1735l12 2 5-14-12-2zM952 1724l10 30 5-12-10-29zM901 1777l11 31 5-3-11-31zM896 1780l11 31 5-3-11-31zM883 1819l12 13 5-1-12-13zM890 1832l12 3 5 0-12-3zM902 1835l13 3 4-1-12-2zM915 1838l12 2 5-1-13-2z"/><path class=cz d="M865 1512l12-10 5 9-12 5zM877 1502l12 9 4 14-11-14z"/><path class=d2 d="M861 1510l12-15 4 7-12 10z"/><path class=d3 d="M873 1495l12 2 4 14-12-9zM856 1512l12-20 5 3-12 15zM845 1528l13-27 5-7-13 24z"/><path class=d6 d="M868 1492l12-5 5 10-12-2z"/><path class=d4 d="M850 1518l13-24 5-2-12 20z"/><path class=d8 d="M863 1494l13-11 4 4-12 5zM858 1501l13-16 5-2-13 11z"/><path class=c0 d="M805 1571l10-7 5-2-11 7z"/><path class=c0 d="M800 1573l11-7 4-2-10 7z"/><path class=c1 d="M795 1574l11-7 5-1-11 7z"/><path class=bz d="M780 1585l11-9 4-2-11 10z"/><path class=c2 d="M791 1576l10-7 5-2-11 7z"/><path class=c3 d="M801 1569l11-4 5-2-11 4z"/><path class=b1 d="M459 1710l10 4 6 1-10 1z"/><path class=c0 d="M775 1586l11-9 5-1-11 9z"/><path class=b1 d="M469 1714l10-2 6 1-10 2z"/><path class=c2 d="M786 1577l11-7 4-1-10 7z"/><path class=bx d="M759 1599l11-12 5-1-11 12z"/><path class=c1 d="M770 1587l11-10 5 0-11 9z"/><path class=bv d="M743 1612l11-12 5-1-11 9z"/><path class=b5 d="M463 1696l10-2 6 18-10 2z"/><path class=c3 d="M781 1577l11-6 5-1-11 7z"/><path class=by d="M754 1600l11-13 5 0-11 12z"/><path class=c1 d="M765 1587l11-9 5-1-11 10z"/><path class=bv d="M739 1614l10-14 5 0-11 12z"/><path class=c4 d="M776 1578l11-6 5-1-11 6z"/><path class=bz d="M749 1600l11-12 5-1-11 13z"/><path class=b8 d="M493 1690l10-2 6 19-10 2z"/><path class=c6 d="M787 1572l11-3 5-2-11 4z"/><path class=c2 d="M760 1588l11-9 5-1-11 9z"/><path class=c8 d="M809 1566l11-3 5-2-11 3z"/><path class=c0 d="M744 1600l11-12 5 0-11 12z"/><path class=b8 d="M539 1701l11-1 5 1-10 2z"/><path class=ba d="M513 1686l10-2 6 19-10 2z"/><path class=bf d="M486 1664l10-3 7 27-10 2z"/><path class=c6 d="M782 1573l11-3 5-1-11 3z"/><path class=c3 d="M755 1588l11-8 5-1-11 9z"/><path class=bb d="M523 1684l10-3 6 20-10 2z"/><path class=bh d="M496 1661l10-3 7 28-10 2z"/><path class=c6 d="M766 1580l11-6 5-1-11 6z"/><path class=c9 d="M804 1567l11-3 5-1-11 3z"/><path class=bc d="M533 1681l11-2 6 21-11 1z"/><path class=bi d="M506 1658l11-2 6 28-10 2z"/><path class=bn d="M479 1641l10-3 7 23-10 3z"/><path class=bu d="M713 1631l11-17 5 1-11 13z"/><path class=ca d="M815 1564l12-3 4-1-11 3z"/><path class=bd d="M544 1679l10-2 6 21-10 2z"/><path class=bj d="M517 1656l10-3 6 28-10 3z"/><path class=bo d="M489 1638l11-3 6 23-10 3z"/><path class=bz d="M724 1614l10-15 6 1-11 15z"/><path class=c6 d="M761 1581l12-5 4-2-11 6z"/><path class=bs d="M697 1640l11-9 5 0-11 5z"/><path class=ca d="M800 1568l11-2 4-2-11 3z"/><path class=bk d="M527 1653l10-3 7 29-11 2z"/><path class=br d="M446 1643l11-3 6-4-11 3z"/><path class=bp d="M500 1635l10-3 7 24-11 2z"/><path class=c2 d="M734 1599l11-10 5-1-10 12z"/><path class=c8 d="M773 1576l11-3 4-2-11 3z"/><path class=bv d="M708 1631l10-19 6 2-11 17z"/><path class=cb d="M811 1566l11-3 5-2-12 3z"/><path class=bo d="M404 1656l10-2 6-3-10 2z"/><path class=bf d="M564 1675l11-1 6 20-11 2z"/><path class=c5 d="M745 1589l12-7 4-1-11 7z"/><path class=bl d="M537 1650l11-2 6 29-10 2z"/><path class=bs d="M457 1640l10-3 6-4-10 3z"/><path class=br d="M510 1632l10-3 7 24-10 3z"/><path class=c9 d="M784 1573l11-3 5-2-12 3z"/><path class=c0 d="M718 1612l11-14 5 1-10 15z"/><path class=bs d="M692 1645l10-17 6 3-11 9z"/><path class=bg d="M575 1674l10-2 6 19-10 3z"/><path class=bm d="M548 1648l10-2 6 29-10 2z"/><path class=ca d="M795 1570l11-3 5-1-11 2z"/><path class=bs d="M520 1629l11-4 6 25-10 3z"/><path class=bu d="M467 1637l10-3 6-4-10 3z"/><path class=c3 d="M729 1598l11-9 5 0-11 10z"/><path class=c8 d="M768 1577l11-2 5-2-11 3z"/><path class=bx d="M702 1628l11-18 5 2-10 19z"/><path class=bh d="M612 1685l10-5 6 1-11 5z"/><path class=bh d="M585 1672l11-1 5 18-10 2z"/><path class=cb d="M806 1567l11-2 5-2-11 3z"/><path class=bn d="M558 1646l11 0 6 28-11 1z"/><path class=bt d="M531 1625l10-2 7 25-11 2z"/><path class=bt d="M451 1644l10-3 6-4-10 3z"/><path class=bv d="M477 1634l10-3 6-4-10 3z"/><path class=ca d="M779 1575l11-3 5-2-11 3z"/><path class=c1 d="M713 1610l11-12 5 0-11 14z"/><path class=bj d="M596 1671l10-3 6 17-11 4z"/><path class=bu d="M686 1645l11-20 5 3-10 17z"/><path class=bo d="M569 1646l10-1 6 27-10 2z"/><path class=bu d="M541 1623l11-2 6 25-10 2z"/><path class=bu d="M461 1641l10-3 6-4-10 3z"/><path class=bw d="M487 1631l11-3 6-4-11 3z"/><path class=cb d="M790 1572l11-3 5-2-11 3z"/><path class=c4 d="M724 1598l11-8 5-1-11 9z"/><path class=bl d="M633 1674l11-6 5-1-11 7z"/><path class=bk d="M606 1668l11-3 5 15-10 5z"/><path class=c9 d="M763 1579l11-2 5-2-11 2z"/><path class=bz d="M697 1625l11-16 5 1-11 18z"/><path class=bo d="M579 1645l11 0 6 26-11 1z"/><path class=cc d="M801 1569l11-2 5-2-11 2z"/><path class=bv d="M552 1621l10 0 7 25-11 0z"/><path class=br d="M670 1657l11-16 5 4-10 8z"/><path class=bt d="M444 1647l11-3 6-3-10 3z"/><path class=bv d="M471 1638l10-3 6-4-10 3z"/><path class=by d="M498 1628l10-3 6-5-10 4z"/><path class=c7 d="M735 1590l11-5 6-2-12 6z"/><path class=bn d="M644 1668l10-6 6-1-11 6z"/><path class=ca d="M774 1577l11-3 5-2-11 3z"/><path class=c3 d="M708 1609l11-11 5 0-11 12z"/><path class=bm d="M617 1665l10-5 6 14-11 6z"/><path class=bp d="M590 1645l10-1 6 24-10 3z"/><path class=bv d="M681 1641l11-20 5 4-11 20z"/><path class=bv d="M562 1621l11 1 6 23-10 1z"/><path class=c8 d="M746 1585l12-3 5-3-11 4z"/><path class=bu d="M455 1644l10-3 6-3-10 3z"/><path class=bz d="M508 1625l11-4 6-4-11 3z"/><path class=bw d="M481 1635l11-3 6-4-11 3z"/><path class=bp d="M654 1662l11-9 5 4-10 4z"/><path class=cb d="M785 1574l11-2 5-3-11 3z"/><path class=bo d="M627 1660l11-5 6 13-11 6z"/><path class=bq d="M600 1644l11-2 6 23-11 3z"/><path class=c0 d="M692 1621l11-14 5 2-11 16z"/><path class=ca d="M758 1582l11-3 5-2-11 2z"/><path class=bw d="M573 1622l11 0 6 23-11 0z"/><path class=cc d="M796 1572l11-3 5-2-11 2z"/><path class=c0 d="M519 1621l10-2 6-5-10 3z"/><path class=bt d="M665 1653l11-19 5 7-11 16z"/><path class=bv d="M465 1641l10-2 6-4-10 3z"/><path class=by d="M492 1632l10-3 6-4-10 3z"/><path class=bq d="M638 1655l11-4 5 11-10 6z"/><path class=ci d="M874 1551l11-3 5 0-12 3z"/><path class=cb d="M769 1579l11-2 5-3-11 3z"/><path class=c4 d="M703 1607l11-8 5-1-11 11z"/><path class=bs d="M611 1642l11-2 5 20-10 5z"/><path class=bw d="M584 1622l10 1 6 21-10 1z"/><path class=cd d="M807 1569l12-2 4-3-11 3z"/><path class=by d="M676 1634l11-17 5 4-11 20z"/><path class=c9 d="M741 1587l11-2 6-3-12 3z"/><path class=c1 d="M529 1619l11-2 6-4-11 1z"/><path class=bu d="M449 1647l10-2 6-4-10 3z"/><path class=bz d="M502 1629l11-4 6-4-11 4z"/><path class=bw d="M475 1639l11-3 6-4-11 3z"/><path class=bs d="M649 1651l11-9 5 11-11 9z"/><path class=cc d="M780 1577l11-3 5-2-11 2z"/><path class=bt d="M622 1640l10-3 6 18-11 5z"/><path class=bx d="M594 1623l11 0 6 19-11 2z"/><path class=ci d="M858 1555l11-5 5 1-12 4z"/><path class=c2 d="M687 1617l11-10 5 0-11 14z"/><path class=ca d="M752 1585l12-2 5-4-11 3z"/><path class=c2 d="M540 1617l11 0 5-4-10 0z"/><path class=c0 d="M513 1625l10-2 6-4-10 2z"/><path class=bw d="M459 1645l10-3 6-3-10 2z"/><path class=by d="M486 1636l10-3 6-4-10 3z"/><path class=bw d="M660 1642l10-16 6 8-11 19z"/><path class=cd d="M791 1574l11-2 5-3-11 3z"/><path class=c8 d="M725 1594l11-3 5-4-11 5z"/><path class=bu d="M632 1637l11-3 6 17-11 4z"/><path class=cj d="M869 1550l12-4 4 2-11 3z"/><path class=by d="M605 1623l11-1 6 18-11 2z"/><path class=cb d="M764 1583l11-3 5-3-11 2z"/><path class=c5 d="M698 1607l11-6 5-2-11 8z"/><path class=ce d="M802 1572l12-3 5-2-12 2z"/><path class=c2 d="M551 1617l10 1 6-4-11-1z"/><path class=c0 d="M670 1626l11-12 6 3-11 17z"/><path class=c1 d="M523 1623l11-2 6-4-11 2z"/><path class=bx d="M469 1642l11-3 6-3-11 3z"/><path class=bz d="M496 1633l11-4 6-4-11 4z"/><path class=c9 d="M736 1591l11-3 5-3-11 2z"/><path class=ck d="M881 1546l11-1 5 3-12 0z"/><path class=bw d="M643 1634l11-5 6 13-11 9z"/><path class=cc d="M775 1580l11-2 5-4-11 3z"/><path class=c7 d="M709 1601l11-4 5-3-11 5z"/><path class=bz d="M616 1622l11-1 5 16-10 3z"/><path class=c4 d="M681 1614l11-7 6 0-11 10z"/><path class=c2 d="M561 1618l11 2 6-5-11-1z"/><path class=ca d="M747 1588l11-1 6-4-12 2z"/><path class=c2 d="M534 1621l11 1 6-5-11 0z"/><path class=bw d="M453 1648l10-3 6-3-10 3z"/><path class=c0 d="M507 1629l10-2 6-4-10 2z"/><path class=by d="M480 1639l10-3 6-3-10 3z"/><path class=bz d="M654 1629l11-10 5 7-10 16z"/><path class=cd d="M786 1578l11-3 5-3-11 2z"/><path class=c8 d="M720 1597l11-2 5-4-11 3z"/><path class=c0 d="M627 1621l11-1 5 14-11 3z"/><path class=cl d="M865 1549l11-6 5 3-12 4z"/><path class=c6 d="M692 1607l11-4 6-2-11 6z"/><path class=cb d="M758 1587l12-2 5-5-11 3z"/><path class=c3 d="M572 1620l11 1 6-5-11-1z"/><path class=c2 d="M545 1622l11 1 5-5-10-1z"/><path class=ce d="M797 1575l12-2 5-4-12 3z"/><path class=c1 d="M517 1627l11-1 6-5-11 2z"/><path class=c3 d="M665 1619l11-7 5 2-11 12z"/><path class=bx d="M463 1645l11-2 6-4-11 3z"/><path class=bz d="M490 1636l11-3 6-4-11 4z"/><path class=c9 d="M731 1595l11-2 5-5-11 3z"/><path class=c1 d="M638 1620l11-2 5 11-11 5z"/><path class=cm d="M876 1543l12-2 4 4-11 1z"/><path class=cc d="M770 1585l11-3 5-4-11 2z"/><path class=c7 d="M703 1603l12-2 5-4-11 4z"/><path class=c2 d="M610 1617l11 0 6 4-11 1z"/><path class=c3 d="M583 1621l11 0 5-4-10-1z"/><path class=c2 d="M556 1623l10 1 6-4-11-2z"/><path class=c5 d="M676 1612l11-4 5-1-11 7z"/><path class=ca d="M742 1593l11-1 5-5-11 1z"/><path class=c2 d="M528 1626l11 0 6-4-11-1z"/><path class=c0 d="M501 1633l10-2 6-4-10 2z"/><path class=by d="M474 1643l10-3 6-4-10 3z"/><path class=c3 d="M649 1618l11-3 5 4-11 10z"/><path class=cd d="M781 1582l11-2 5-5-11 3z"/><path class=c8 d="M715 1601l11-2 5-4-11 2z"/><path class=c3 d="M621 1617l11 0 6 3-11 1z"/><path class=c3 d="M594 1621l11 1 5-5-11 0z"/><path class=cm d="M860 1547l12-7 4 3-11 6z"/><path class=ck d="M899 1547l11 13 5 0-11-9z"/><path class=c6 d="M687 1608l11-2 5-3-11 4z"/><path class=cb d="M753 1592l12-2 5-5-12 2z"/><path class=c3 d="M566 1624l11 1 6-4-11-1z"/><path class=c2 d="M539 1626l11 1 6-4-11-1z"/><path class=bx d="M457 1648l10-2 7-3-11 2z"/><path class=c1 d="M511 1631l11-1 6-4-11 1z"/><path class=bz d="M484 1640l11-3 6-4-11 3z"/><path class=c5 d="M660 1615l11-3 5 0-11 7z"/><path class=ce d="M792 1580l12-3 5-4-12 2z"/><path class=c9 d="M726 1599l11-1 5-5-11 2z"/><path class=cj d="M832 1565l11-8 5-1-11 6z"/><path class=c4 d="M632 1617l11 0 6 1-11 2z"/><path class=co d="M872 1540l11-4 5 5-12 2z"/><path class=c4 d="M605 1622l11 0 5-5-11 0z"/><path class=cc d="M765 1590l11-3 5-5-11 3z"/><path class=c7 d="M698 1606l11-1 6-4-12 2z"/><path class=c3 d="M577 1625l11 1 6-5-11 0z"/><path class=c2 d="M550 1627l11 1 5-4-10-1z"/><path class=c6 d="M671 1612l11-1 5-3-11 4z"/><path class=c2 d="M522 1630l11 0 6-4-11 0z"/><path class=bz d="M467 1646l11-3 6-3-10 3z"/><path class=c1 d="M495 1637l10-2 6-4-10 2z"/><path class=ca d="M737 1598l11-1 5-5-11 1z"/><path class=co d="M883 1536l12 5 4 6-11-6z"/><path class=c5 d="M643 1617l11-1 6-1-11 3z"/><path class=cd d="M776 1587l11-3 5-4-11 2z"/><path class=c8 d="M709 1605l11 0 6-6-11 2z"/><path class=c4 d="M616 1622l11 0 5-5-11 0z"/><path class=c3 d="M588 1626l11 0 6-4-11-1z"/><path class=co d="M855 1546l12-10 5 4-12 7z"/><path class=c7 d="M682 1611l11 0 5-5-11 2z"/><path class=c3 d="M561 1628l10 2 6-5-11-1z"/><path class=cb d="M748 1597l11-1 6-6-12 2z"/><path class=cm d="M895 1541l11 15 4 4-11-13z"/><path class=c2 d="M533 1630l11 1 6-4-11-1z"/><path class=by d="M451 1651l10-2 6-3-10 2z"/><path class=c1 d="M505 1635l11-1 6-4-11 1z"/><path class=c0 d="M478 1643l11-3 6-3-11 3z"/><path class=c6 d="M654 1616l11 0 6-4-11 3z"/><path class=c9 d="M720 1605l12 0 5-7-11 1z"/><path class=c5 d="M627 1622l11-1 5-4-11 0z"/><path class=cq d="M867 1536l12-6 4 6-11 4z"/><path class=c4 d="M599 1626l11 0 6-4-11 0z"/><path class=c7 d="M693 1611l11 0 5-6-11 1z"/><path class=cc d="M759 1596l12-3 5-6-11 3z"/><path class=c3 d="M571 1630l11 0 6-4-11-1z"/><path class=c2 d="M544 1631l11 2 6-5-11-1z"/><path class=c2 d="M516 1634l11 0 6-4-11 0z"/><path class=bz d="M461 1649l11-3 6-3-11 3z"/><path class=c6 d="M665 1616l11 0 6-5-11 1z"/><path class=c1 d="M489 1640l10-2 6-3-10 2z"/><path class=ca d="M732 1605l11-1 5-7-11 1z"/><path class=cr d="M879 1530l12 2 4 9-12-5z"/><path class=c5 d="M638 1621l11 0 5-5-11 1z"/><path class=cd d="M771 1593l11-3 5-6-11 3z"/><path class=c8 d="M704 1611l11 0 5-6-11 0z"/><path class=c4 d="M610 1626l11 0 6-4-11 0z"/><path class=c3 d="M582 1630l11 1 6-5-11 0z"/><path class=c3 d="M555 1633l11 1 5-4-10-2z"/><path class=c7 d="M676 1616l11 0 6-5-11 0z"/><path class=cp d="M850 1546l12-14 5 4-12 10z"/><path class=ca d="M743 1604l11-2 5-6-11 1z"/><path class=c2 d="M527 1634l11 2 6-5-11-1z"/><path class=cp d="M891 1532l11 17 4 7-11-15z"/><path class=c2 d="M499 1638l11 0 6-4-11 1z"/><path class=c0 d="M472 1646l11-2 6-4-11 3z"/><path class=c6 d="M649 1621l11 0 5-5-11 0z"/><path class=c9 d="M715 1611l11 0 6-6-12 0z"/><path class=c5 d="M621 1626l11 0 6-5-11 1z"/><path class=c4 d="M593 1631l11 0 6-5-11 0z"/><path class=ck d="M902 1549l10 24 5 1-11-18z"/><path class=c7 d="M687 1616l12 1 5-6-11 0z"/><path class=cb d="M754 1602l12-3 5-6-12 3z"/><path class=c3 d="M566 1634l10 1 6-5-11 0z"/><path class=c2 d="M538 1636l11 1 6-4-11-2z"/><path class=bz d="M455 1651l11-2 6-3-11 3z"/><path class=c2 d="M510 1638l11 0 6-4-11 0z"/><path class=c1 d="M483 1644l10-2 6-4-10 2z"/><path class=c6 d="M660 1621l11 0 5-5-11 0z"/><path class=c9 d="M726 1611l12 0 5-7-11 1z"/><path class=cn d="M834 1562l12-15 4-1-11 13z"/><path class=c5 d="M632 1626l11 0 6-5-11 0z"/><path class=ct d="M874 1523l12-2 5 11-12-2z"/><path class=c4 d="M604 1631l11 0 6-5-11 0z"/><path class=c8 d="M699 1617l11 0 5-6-11 0z"/><path class=c3 d="M576 1635l11 0 6-4-11-1z"/><path class=c3 d="M549 1637l11 2 6-5-11-1z"/><path class=c7 d="M671 1621l11 1 5-6-11 0z"/><path class=c2 d="M521 1638l11 2 6-4-11-2z"/><path class=c0 d="M466 1649l10-2 7-3-11 2z"/><path class=c2 d="M493 1642l11 0 6-4-11 0z"/><path class=ca d="M738 1611l11-2 5-7-11 2z"/><path class=cr d="M846 1547l12-17 4 2-12 14z"/><path class=cs d="M886 1521l11 18 5 10-11-17z"/><path class=c6 d="M643 1626l11 0 6-5-11 0z"/><path class=c8 d="M710 1617l11 1 5-7-11 0z"/><path class=c5 d="M615 1631l11 0 6-5-11 0z"/><path class=c4 d="M587 1635l11 1 6-5-11 0z"/><path class=c7 d="M682 1622l11 1 6-6-12-1z"/><path class=c3 d="M560 1639l11 1 5-5-10-1z"/><path class=cn d="M897 1539l11 30 4 4-10-24z"/><path class=cb d="M749 1609l11-3 6-7-12 3z"/><path class=c3 d="M532 1640l11 1 6-4-11-1z"/><path class=c0 d="M449 1654l10-2 7-3-11 2z"/><path class=c2 d="M504 1642l11 1 6-5-11 0z"/><path class=c1 d="M476 1647l11-1 6-4-10 2z"/><path class=c6 d="M654 1626l11 0 6-5-11 0z"/><path class=c8 d="M721 1618l11 0 6-7-12 0z"/><path class=c5 d="M626 1631l11 0 6-5-11 0z"/><path class=cn d="M829 1567l12-16 5-4-12 15z"/><path class=c4 d="M598 1636l11 0 6-5-11 0z"/><path class=c7 d="M693 1623l11 1 6-7-11 0z"/><path class=c3 d="M571 1640l11 0 5-5-11 0z"/><path class=c3 d="M543 1641l11 2 6-4-11-2z"/><path class=c2 d="M515 1643l11 1 6-4-11-2z"/><path class=c1 d="M459 1652l11-1 6-4-10 2z"/><path class=c6 d="M665 1626l11 1 6-5-11-1z"/><path class=c2 d="M487 1646l11 0 6-4-11 0z"/><path class=c9 d="M732 1618l12-2 5-7-11 2z"/><path class=cr d="M841 1551l12-21 5 0-12 17z"/><path class=cv d="M882 1511l11 14 4 14-11-18z"/><path class=c5 d="M637 1631l11 0 6-5-11 0z"/><path class=c7 d="M704 1624l12 1 5-7-11-1z"/><path class=c4 d="M609 1636l12 0 5-5-11 0z"/><path class=c3 d="M582 1640l11 0 5-4-11-1z"/><path class=c3 d="M554 1643l11 1 6-4-11-1z"/><path class=c7 d="M676 1627l12 1 5-5-11-1z"/><path class=c0 d="M442 1657l11-2 6-3-10 2z"/><path class=c3 d="M526 1644l11 2 6-5-11-1z"/><path class=cq d="M893 1525l11 36 4 8-11-30z"/><path class=c2 d="M470 1651l11-1 6-4-11 1z"/><path class=c2 d="M498 1646l11 1 6-4-11-1z"/><path class=c6 d="M648 1631l12 1 5-6-11 0z"/><path class=c8 d="M716 1625l11 0 5-7-11 0z"/><path class=c5 d="M621 1636l11 0 5-5-11 0z"/><path class=cn d="M824 1573l12-17 5-5-12 16z"/><path class=c4 d="M593 1640l11 0 5-4-11 0z"/><path fill="url(#q21_24)" d="M904 1561l10 50 4-1-10-41z"/><path class=c7 d="M688 1628l11 2 5-6-11-1z"/><path class=c3 d="M565 1644l11 1 6-5-11 0z"/><path class=c3 d="M537 1646l11 2 6-5-11-2z"/><path class=c1 d="M453 1655l11-1 6-3-11 1z"/><path class=c3 d="M509 1647l11 1 6-4-11-1z"/><path class=c2 d="M481 1650l11-1 6-3-11 0z"/><path class=c6 d="M660 1632l11 0 5-5-11-1z"/><path class=cs d="M836 1556l12-23 5-3-12 21z"/><path class=c5 d="M632 1636l11 0 5-5-11 0z"/><path class=c4 d="M604 1640l11 1 6-5-12 0z"/><path class=c7 d="M699 1630l11 1 6-6-12-1z"/><path class=c3 d="M576 1645l11 0 6-5-11 0z"/><path class=c3 d="M548 1648l11 1 6-5-11-1z"/><path class=c6 d="M671 1632l11 2 6-6-12-1z"/><path class=c3 d="M520 1648l11 2 6-4-11-2z"/><path class=c2 d="M464 1654l11-1 6-3-11 1z"/><path class=c3 d="M492 1649l11 2 6-4-11-1z"/><path fill="url(#q24_27)" d="M889 1511l11 39 4 11-11-36z"/><path class=c6 d="M643 1636l11 0 6-4-12-1z"/><path class=c7 d="M710 1631l12 0 5-6-11 0z"/><path class=c5 d="M615 1641l11 0 6-5-11 0z"/><path class=c4 d="M587 1645l11 0 6-5-11 0z"/><path class=c7 d="M682 1634l11 1 6-5-11-2z"/><path fill="url(#q21_25)" d="M900 1550l9 58 5 3-10-50z"/><path class=c3 d="M559 1649l11 1 6-5-11-1z"/><path class=c3 d="M531 1650l11 2 6-4-11-2z"/><path class=c3 d="M503 1651l11 2 6-5-11-1z"/><path class=c2 d="M475 1653l10 0 7-4-11 1z"/><path class=c6 d="M654 1636l11 1 6-5-11 0z"/><path class=cs d="M831 1562l12-24 5-5-12 23z"/><path class=c5 d="M626 1641l11 0 6-5-11 0z"/><path fill="url(#q18_22)" d="M909 1608l10 53 4-3-9-47z"/><path class=c4 d="M598 1645l11 0 6-4-11-1z"/><path class=c7 d="M693 1635l12 1 5-5-11-1z"/><path class=c3 d="M570 1650l11 0 6-5-11 0z"/><path class=c3 d="M542 1652l11 2 6-5-11-1z"/><path class=c1 d="M429 1662l11-1 7-3-11 1z"/><path class=c3 d="M514 1653l11 2 6-5-11-2z"/><path class=c2 d="M457 1657l11 0 7-4-11 1z"/><path class=c3 d="M485 1653l11 2 7-4-11-2z"/><path class=c6 d="M665 1637l12 1 5-4-11-2z"/><path fill="url(#q25_28)" d="M885 1497l10 38 5 15-11-39z"/><path class=c6 d="M637 1641l11 0 6-5-11 0z"/><path class=c7 d="M705 1636l11 1 6-6-12 0z"/><path class=c5 d="M609 1645l11 0 6-4-11 0z"/><path class=c4 d="M581 1650l11 0 6-5-11 0z"/><path class=cm d="M813 1587l12-16 6-9-13 18z"/><path class=c3 d="M553 1654l11 0 6-4-11-1z"/><path class=c7 d="M677 1638l11 2 5-5-11-1z"/><path class=c3 d="M525 1655l11 2 6-5-11-2z"/><path fill="url(#q22_26)" d="M895 1535l10 68 4 5-9-58z"/><path class=c3 d="M468 1657l11 0 6-4-10 0z"/><path class=c3 d="M496 1655l11 2 7-4-11-2z"/><path class=c6 d="M648 1641l12 1 5-5-11-1z"/><path class=c5 d="M620 1645l11 0 6-4-11 0z"/><path class=cr d="M825 1571l13-24 5-9-12 24z"/><path class=c4 d="M592 1650l11 0 6-5-11 0z"/><path fill="url(#q19_22)" d="M905 1603l9 60 5-2-10-53z"/><path class=c7 d="M688 1640l11 1 6-5-12-1z"/><path class=c3 d="M564 1654l11 1 6-5-11 0z"/><path class=c3 d="M536 1657l11 1 6-4-11-2z"/><path class=c3 d="M507 1657l12 2 6-4-11-2z"/><path class=c3 d="M479 1657l11 2 6-4-11-2z"/><path class=c6 d="M660 1642l11 0 6-4-12-1z"/><path class=c6 d="M631 1645l12 1 5-5-11 0z"/><path fill="url(#q26_29)" d="M880 1487l11 33 4 15-10-38z"/><path fill="url(#q16_19)" d="M914 1663l10 49 4-5-9-46z"/><path class=c5 d="M603 1650l11 0 6-5-11 0z"/><path class=c4 d="M575 1655l11 0 6-5-11 0z"/><path class=c3 d="M547 1658l11 1 6-5-11 0z"/><path class=c7 d="M671 1642l11 1 6-3-11-2z"/><path class=c3 d="M519 1659l11 2 6-4-11-2z"/><path class=c3 d="M462 1660l11 1 6-4-11 0z"/><path class=c3 d="M490 1659l11 2 6-4-11-2z"/><path fill="url(#q22_27)" d="M891 1520l9 75 5 8-10-68z"/><path class=c6 d="M643 1646l11 0 6-4-12-1z"/><path class=c5 d="M614 1650l12 0 5-5-11 0z"/><path class=c4 d="M586 1655l11 0 6-5-11 0z"/><path class=c7 d="M682 1643l12 2 5-4-11-1z"/><path fill="url(#q19_23)" d="M900 1595l10 69 4-1-9-60z"/><path class=c3 d="M558 1659l11 1 6-5-11-1z"/><path class=c3 d="M530 1661l11 2 6-5-11-1z"/><path class=c3 d="M501 1661l11 3 7-5-12-2z"/><path class=c3 d="M473 1661l11 2 6-4-11-2z"/><path class=c7 d="M654 1646l11 0 6-4-11 0z"/><path class=c6 d="M626 1650l11 0 6-4-12-1z"/><path class=d6 d="M876 1483l11 24 4 13-11-33z"/><path fill="url(#q16_19)" d="M910 1664l9 51 5-3-10-49z"/><path class=c5 d="M597 1655l12 0 5-5-11 0z"/><path class=c4 d="M569 1660l11 0 6-5-11 0z"/><path class=c3 d="M541 1663l11 1 6-5-11-1z"/><path class=c3 d="M512 1664l12 2 6-5-11-2z"/><path class=c3 d="M484 1663l11 3 6-5-11-2z"/><path class=c7 d="M665 1646l12 1 5-4-11-1z"/><path fill="url(#q23_28)" d="M887 1507l9 78 4 10-9-75z"/><path class=c6 d="M637 1650l11 0 6-4-11 0z"/><path class=c5 d="M609 1655l11 0 6-5-12 0z"/><path class=c4 d="M580 1660l12 0 5-5-11 0z"/><path class=co d="M815 1591l12-21 6-13-13 23z"/><path class=c3 d="M552 1664l11 1 6-5-11-1z"/><path class=c7 d="M677 1647l11 1 6-3-12-2z"/><path fill="url(#q19_24)" d="M896 1585l9 77 5 2-10-69z"/><path class=c3 d="M524 1666l11 2 6-5-11-2z"/><path class=c3 d="M466 1665l12 2 6-4-11-2z"/><path class=c3 d="M495 1666l11 2 6-4-11-3z"/><path class=c7 d="M648 1650l12 0 5-4-11 0z"/><path class=c6 d="M620 1655l11 0 6-5-11 0z"/><path class=cv d="M827 1570l13-28 5-14-12 29z"/><path class=d8 d="M871 1485l11 14 5 8-11-24z"/><path class=c5 d="M592 1660l11 0 6-5-12 0z"/><path fill="url(#q16_19)" d="M905 1662l10 56 4-3-9-51z"/><path class=c4 d="M563 1665l11 0 6-5-11 0z"/><path class=c3 d="M535 1668l11 1 6-5-11-1z"/><path class=c3 d="M449 1668l11 1 6-4-11-1z"/><path class=c3 d="M506 1668l11 3 7-5-12-2z"/><path class=c3 d="M478 1667l11 3 6-4-11-3z"/><path class=c7 d="M660 1650l11 0 6-3-12-1z"/><path class=d2 d="M840 1542l13-29 5-12-13 27z"/><path class=c6 d="M631 1655l12-1 5-4-11 0z"/><path fill="url(#q24_29)" d="M882 1499l10 77 4 9-9-78z"/><path class=c5 d="M603 1660l11 0 6-5-11 0z"/><path class=c4 d="M574 1665l12 1 6-6-12 0z"/><path class=c3 d="M546 1669l11 1 6-5-11-1z"/><path class=c7 d="M671 1650l12 1 5-3-11-1z"/><path class=c3 d="M517 1671l12 2 6-5-11-2z"/><path class=c3 d="M489 1670l11 3 6-5-11-2z"/><path class=d8 d="M853 1513l13-20 5-8-13 16z"/><path fill="url(#q19_25)" d="M892 1576l8 84 5 2-9-77z"/><path class=c7 d="M643 1654l11 0 6-4-12 0z"/><path class=c6 d="M614 1660l11 0 6-5-11 0z"/><path class=ct d="M822 1584l12-26 6-16-13 28z"/><path class=c5 d="M586 1666l11 0 6-6-11 0z"/><path class=d9 d="M866 1493l12 5 4 1-11-14z"/><path fill="url(#q16_20)" d="M900 1660l10 61 5-3-10-56z"/><path class=c4 d="M557 1670l11 1 6-6-11 0z"/><path class=c3 d="M529 1673l11 1 6-5-11-1z"/><path class=c3 d="M500 1673l11 2 6-4-11-3z"/><path class=c3 d="M471 1671l11 3 7-4-11-3z"/><path class=c7 d="M654 1654l11 0 6-4-11 0z"/><path class=cz d="M834 1558l13-29 6-16-13 29z"/><path class=c6 d="M625 1660l12-1 6-5-12 1z"/><path fill="url(#q25_29)" d="M878 1498l9 70 5 8-10-77z"/><path class=c7 d="M261 1662l11 1 8 3-11-2z"/><path class=c5 d="M597 1666l11-1 6-5-11 0z"/><path class=c4 d="M568 1671l12 1 6-6-12-1z"/><path class=c3 d="M540 1674l11 1 6-5-11-1z"/><path class=c4 d="M454 1673l11 3 6-5-11-2z"/><path class=c3 d="M511 1675l11 3 7-5-12-2z"/><path class=c3 d="M482 1674l12 3 6-4-11-3z"/><path class=c8 d="M665 1654l12 0 6-3-12-1z"/><path class=d6 d="M847 1529l13-22 6-14-13 20z"/><path fill="url(#q20_25)" d="M887 1568l9 89 4 3-8-84z"/><path class=c7 d="M637 1659l11-1 6-4-11 0z"/><path class=c6 d="M608 1665l12 0 5-5-11 0z"/><path class=c7 d="M272 1663l11 1 8 4-11-2z"/><path class=cq d="M816 1598l13-22 5-18-12 26z"/><path class=c4 d="M580 1672l11 1 6-7-11 0z"/><path class=c3 d="M551 1675l11 1 6-5-11-1z"/><path class=d8 d="M860 1507l12-2 6-7-12-5z"/><path fill="url(#q16_20)" d="M896 1657l9 66 5-2-10-61z"/><path class=c3 d="M522 1678l12 1 6-5-11-1z"/><path class=c3 d="M465 1676l11 3 6-5-11-3z"/><path class=c3 d="M494 1677l11 3 6-5-11-2z"/><path class=ca d="M224 1660l11-2 8 1-11 0z"/><path class=c8 d="M648 1658l12 0 5-4-11 0z"/><path class=c9 d="M253 1659l11-1 8 5-11-1z"/><path class=c6 d="M620 1665l11-1 6-5-12 1z"/><path class=cw d="M829 1576l13-27 5-20-13 29z"/><path fill="url(#q25_29)" d="M872 1505l10 60 5 3-9-70z"/><path class=c5 d="M591 1673l11-1 6-7-11 1z"/><path class=c8 d="M283 1664l11 1 8 4-11-1z"/><path class=c4 d="M562 1676l12-3 6-1-12-1z"/><path class=c3 d="M534 1679l11 1 6-5-11-1z"/><path class=c3 d="M505 1680l11 3 6-5-11-3z"/><path class=c3 d="M476 1679l11 3 7-5-12-3z"/><path class=c8 d="M660 1658l11 0 6-4-12 0z"/><path class=ca d="M235 1658l11-2 7 3-10 0z"/><path class=d3 d="M842 1549l12-23 6-19-13 22z"/><path fill="url(#q20_26)" d="M882 1565l9 89 5 3-9-89z"/><path class=c7 d="M631 1664l11-2 6-4-11 1z"/><path class=ca d="M264 1658l11-1 8 7-11-1z"/><path class=c6 d="M602 1672l12-4 6-3-12 0z"/><path class=c4 d="M574 1673l11 8 6-8-11-1z"/><path class=ca d="M217 1663l10-2 8-3-11 2z"/><path class=c3 d="M545 1680l11 1 6-5-11-1z"/><path class=c8 d="M294 1665l11 1 8 5-11-2z"/><path class=c3 d="M516 1683l11 1 7-5-12-1z"/><path class=c3 d="M487 1682l12 3 6-5-11-3z"/><path class=d6 d="M854 1526l13-6 5-15-12 2z"/><path fill="url(#q16_21)" d="M891 1654l10 70 4-1-9-66z"/><path class=c6 d="M324 1673l11 1 7 2-11-2z"/><path class=c8 d="M642 1662l12 0 6-4-12 0z"/><path class=cb d="M246 1656l10-2 8 4-11 1z"/><path class=c7 d="M614 1668l11-2 6-2-11 1z"/><path class=ct d="M823 1593l13-23 6-21-13 27z"/><path class=c5 d="M585 1681l11-9 6 0-11 1z"/><path class=ca d="M275 1657l11-1 8 9-11-1z"/><path fill="url(#q26_29)" d="M867 1520l11 48 4-3-10-60z"/><path fill="url(#q14_17)" d="M901 1724l10 47 4-3-10-45z"/><path class=c4 d="M556 1681l12 5 6-13-12 3z"/><path class=c3 d="M527 1684l12 2 6-6-11-1z"/><path class=c3 d="M470 1683l11 3 6-4-11-3z"/><path class=c3 d="M499 1685l11 3 6-5-11-3z"/><path class=cb d="M227 1661l11-3 8-2-11 2z"/><path class=c8 d="M654 1662l12 0 5-4-11 0z"/><path class=cz d="M836 1570l13-22 5-22-12 23z"/><path class=c7 d="M625 1666l12 2 5-6-11 2z"/><path fill="url(#q21_26)" d="M878 1568l9 86 4 0-9-89z"/><path class=c6 d="M596 1672l12 0 6-4-12 4z"/><path class=c4 d="M568 1686l11 0 6-5-11-8z"/><path class=c3 d="M539 1686l11 1 6-6-11-1z"/><path class=c3 d="M510 1688l11 2 6-6-11-1z"/><path class=c3 d="M481 1686l11 4 7-5-12-3z"/><path class=d3 d="M849 1548l12-9 6-19-13 6z"/><path class=c8 d="M316 1666l11 1 8 7-11-1z"/><path fill="url(#q17_21)" d="M887 1654l9 72 5-2-10-70z"/><path class=cd d="M238 1658l11-3 7-1-10 2z"/><path class=c8 d="M637 1668l11-4 6-2-12 0z"/><path class=c6 d="M346 1676l11 2 7 2-11-2z"/><path class=c7 d="M608 1672l11 2 6-8-11 2z"/><path class=c4 d="M579 1686l11-3 6-11-11 9z"/><path fill="url(#q26_29)" d="M861 1539l11 38 6-9-11-48z"/><path fill="url(#q14_17)" d="M896 1726l10 48 5-3-10-47z"/><path class=ca d="M221 1680l11 3 6-25-11 3z"/><path class=c3 d="M521 1690l11 1 7-5-12-2z"/><path class=c3 d="M492 1690l11 3 7-5-11-3z"/><path class=c8 d="M648 1664l12 5 6-7-12 0z"/><path class=c8 d="M327 1667l11 2 8 7-11-2z"/><path class=c7 d="M619 1674l12-2 6-4-12-2z"/><path class=cv d="M830 1592l13-21 6-23-13 22z"/><path class=c6 d="M357 1678l11 2 7 2-11-2z"/><path fill="url(#q21_26)" d="M872 1577l10 78 5-1-9-86z"/><path class=c6 d="M590 1683l12-5 6-6-12 0z"/><path class=c3 d="M532 1691l12 1 6-5-11-1z"/><path class=c3 d="M503 1693l12 2 6-5-11-2z"/><path class=ca d="M232 1683l11 2 6-30-11 3z"/><path class=cz d="M843 1571l13-9 5-23-12 9z"/><path fill="url(#q17_21)" d="M882 1655l9 73 5-2-9-72z"/><path class=c8 d="M631 1672l11 1 6-9-11 4z"/><path class=c6 d="M368 1680l11 1 8 3-12-2z"/><path class=c6 d="M602 1678l11 3 6-7-11-2z"/><path class=c4 d="M544 1692l11-3 6-1-11-1z"/><path class=c3 d="M515 1695l11 1 6-5-11-1z"/><path class=cx d="M856 1562l11 29 5-14-11-38z"/><path fill="url(#q14_17)" d="M891 1728l10 49 5-3-10-48z"/><path class=c8 d="M642 1673l12 2 6-6-12-5z"/><path class=cb d="M243 1685l11 3 5-37-10 4z"/><path class=c9 d="M349 1669l11 0 8 11-11-2z"/><path class=c7 d="M613 1681l12-7 6-2-12 2z"/><path fill="url(#q22_26)" d="M824 1628l12 10 7-67-13 21z"/><path class=c6 d="M379 1681l12 2 7 3-11-2z"/><path class=c5 d="M584 1696l12-10 6-8-12 5z"/><path fill="url(#q21_26)" d="M867 1591l10 69 5-5-10-78z"/><path class=c4 d="M439 1692l11 4 7-4-12-4z"/><path class=c3 d="M526 1696l12 2 6-6-12-1z"/><path class=cc d="M330 1654l11-1 8 16-11 0z"/><path fill="url(#q22_27)" d="M836 1638l13-36 7-40-13 9z"/><path class=c8 d="M625 1674l11-2 6 1-11-1z"/><path class=cb d="M254 1688l11 3 5-43-11 3z"/><path fill="url(#q17_21)" d="M877 1660l9 71 5-3-9-73z"/><path class=c9 d="M360 1669l12 0 7 12-11-1z"/><path class=c6 d="M596 1686l11-1 6-4-11-3z"/><path class=c6 d="M391 1683l11 3 7 2-11-2z"/><path class=c3 d="M538 1698l11 9 6-18-11 3z"/><path fill="url(#q16_23)" d="M807 1647l9 103 8-122-12-1z"/><path class=c4 d="M450 1696l11 4 7-4-11-4z"/><path class=c3 d="M509 1700l11 2 6-6-11-1z"/><path fill="url(#q14_17)" d="M886 1731l10 49 5-3-10-49z"/><path class=c8 d="M636 1672l12 11 6-8-12-2z"/><path class=cd d="M341 1653l11-4 8 20-11 0z"/><path class=c7 d="M607 1685l12 0 6-11-12 7z"/><path class=cc d="M265 1691l12 3 4-50-11 4z"/><path class=c9 d="M372 1669l11 2 8 12-12-2z"/><path fill="url(#q5_23)" d="M816 1750l7 183 13-295-12-10z"/><path fill="url(#q21_25)" d="M861 1611l11 57 5-8-10-69z"/><path class=c3 d="M549 1707l12-1 6-20-12 3z"/><path class=c3 d="M520 1702l11 1 7-5-12-2z"/><path class=c3 d="M461 1700l12 4 6-5-11-3z"/><path class=ce d="M352 1649l11-3 9 23-12 0z"/><path fill="url(#q5_25)" d="M823 1933l17-203 9-128-13 36z"/><path fill="url(#q17_21)" d="M872 1668l9 66 5-3-9-71z"/><path class=c5 d="M590 1694l11 1 6-10-11 1z"/><path class=c9 d="M383 1671l11 2 8 13-11-3z"/><path fill="url(#q20_23)" d="M277 1694l11 3 4-56-11 3z"/><path class=c2 d="M531 1703l12 8 6-4-11-9z"/><path class=c3 d="M473 1704l11 3 7-4-12-4z"/><path fill="url(#q16_22)" d="M801 1654l12 9 3 87-9-103z"/><path fill="url(#q17_25)" d="M840 1730l15-94 6-25-12-9z"/><path fill="url(#q14_17)" d="M881 1734l11 49 4-3-10-49z"/><path class=c8 d="M630 1677l12 9 6-3-12-11z"/><path class=cf d="M363 1646l12 1 8 24-11-2z"/><path class=c6 d="M601 1695l12 2 6-12-12 0z"/><path class=c9 d="M394 1673l12 3 7 13-11-3z"/><path fill="url(#q5_21)" d="M813 1663l12 17-2 253-7-183z"/><path fill="url(#q20_23)" d="M288 1697l11 3 4-62-11 3z"/><path class=c3 d="M514 1707l11 2 6-6-11-1z"/><path fill="url(#q21_24)" d="M855 1636l11 42 6-10-11-57z"/><path class=c7 d="M613 1697l12-5 5-15-11 8z"/><path fill="url(#q5_23)" d="M825 1680l13-32 2 82-17 203z"/><path class=cf d="M375 1647l11 2 8 24-11-2z"/><path class=c6 d="M584 1693l11-5 6 7-11-1z"/><path fill="url(#q17_21)" d="M866 1678l10 60 5-4-9-66z"/><path class=c9 d="M406 1676l11 3 8 13-12-3z"/><path class=c4 d="M554 1710l12-19 6 2-11 13z"/><path fill="url(#q20_23)" d="M299 1700l11 3 4-69-11 4z"/><path class=c3 d="M496 1710l11 2 7-5-12-2z"/><path class=ce d="M796 1665l12-4 5 2-12-9z"/><path fill="url(#q14_17)" d="M876 1738l11 47 5-2-11-49z"/><path class=c7 d="M595 1688l12 0 6 9-12-2z"/><path class=cf d="M386 1649l11 1 9 26-12-3z"/><path class=c9 d="M417 1679l12 3 7 14-11-4z"/><path class=c4 d="M537 1713l11-22 6 19-11 1z"/><path class=c5 d="M448 1700l11 4 7 3-11-4z"/><path class=ce d="M808 1661l12-6 5 25-12-17z"/><path fill="url(#q20_24)" d="M310 1703l12 3 3-76-11 4z"/><path class=ce d="M850 1651l11 39 5-12-11-42z"/><path class=c7 d="M607 1688l12 11 6-7-12 5z"/><path class=c9 d="M577 1686l12-18 6 20-11 5z"/><path class=cf d="M397 1650l12 2 8 27-11-3z"/><path fill="url(#q17_21)" d="M861 1690l10 53 5-5-10-60z"/><path fill="url(#q19_23)" d="M548 1691l11-39 7 39-12 19z"/><path class=c8 d="M429 1682l11 4 8 14-12-4z"/><path fill="url(#q20_24)" d="M322 1706l11 3 3-88-11 9z"/><path class=ch d="M833 1652l11 16 6-17-12-3z"/><path class=cm d="M377 1623l12 0 8 27-11-1z"/><path class=c9 d="M589 1668l12 30 6-10-12 0z"/><path class=cf d="M409 1652l12 2 8 28-12-3z"/><path class=cc d="M559 1652l12 25 6 9-11 5z"/><path class=c8 d="M440 1686l12 5 7 13-11-4z"/><path class=c4 d="M530 1715l12 5 6-29-11 22z"/><path class=cf d="M802 1675l13-4 5-16-12 6z"/><path class=c8 d="M660 1697l12-12 6 5-12 2z"/><path fill="url(#q20_25)" d="M333 1709l12 3 2-98-11 7z"/><path class=c8 d="M601 1698l11 0 7 1-12-11z"/><path class=cm d="M389 1623l11 0 9 29-12-2z"/><path class=ca d="M571 1677l12 31 6-40-12 18z"/><path class=cg d="M815 1671l12 0 6-19-13 3z"/><path class=ce d="M421 1654l11 4 8 28-11-4z"/><path fill="url(#q19_23)" d="M542 1720l11-21 6-47-11 39z"/><path class=c7 d="M452 1691l12 5 7 12-12-4z"/><path fill="url(#q17_20)" d="M856 1703l10 46 5-6-10-53z"/><path fill="url(#q20_25)" d="M345 1712l11 3 2-102-11 1z"/><path class=c8 d="M612 1698l12-1 6-5-11 7z"/><path class=c8 d="M583 1708l12 2 6-12-12-30z"/><path class=cm d="M400 1623l12 1 9 30-12-2z"/><path fill="url(#q19_23)" d="M553 1699l12 23 6-45-12-25z"/><path class=ce d="M432 1658l12 6 8 27-12-5z"/><path class=c7 d="M464 1696l11 4 7 12-11-4z"/><path class=cd d="M797 1689l12-8 6-10-13 4z"/><path class=ca d="M839 1685l11 31 6-13-12-35z"/><path fill="url(#q20_25)" d="M356 1715l12 4 2-105-12-1z"/><path class=c6 d="M565 1722l12 3 6-17-12-31z"/><path class=cm d="M412 1624l12 4 8 30-11-4z"/><path class=c4 d="M536 1730l11-2 6-29-11 21z"/><path class=cd d="M444 1664l12 6 8 26-12-5z"/><path class=ce d="M809 1681l12 5 6-15-12 0z"/><path class=c7 d="M475 1700l12 4 7 11-12-3z"/><path class=c9 d="M666 1689l12 17 6-11-12-10z"/><path class=ca d="M636 1689l12-6 6 11-12 10z"/><path class=c9 d="M606 1711l12-24 6 10-12 1z"/><path fill="url(#q19_25)" d="M368 1719l11 3 2-109-11 1z"/><path class=cc d="M821 1686l12 14 6-15-12-14z"/><path class=c3 d="M547 1728l12 10 6-16-12-23z"/><path class=cm d="M424 1628l12 6 8 30-12-6z"/><path fill="url(#q17_20)" d="M678 1706l12 49 5-46-11-14z"/><path class=cc d="M456 1670l12 6 7 24-11-4z"/><path class=c6 d="M487 1704l12 4 7 9-12-2z"/><path fill="url(#q20_24)" d="M648 1683l12-36 6 42-12 5z"/><path fill="url(#q20_23)" d="M618 1687l12-33 6 35-12 8z"/><path class=c8 d="M833 1700l12 28 5-12-11-31z"/><path fill="url(#q19_26)" d="M379 1722l12 5 2-114-12 0z"/><path class=c5 d="M588 1706l13 35 5-30-11-1z"/><path class=cl d="M436 1634l12 7 8 29-12-6z"/><path fill="url(#q15_19)" d="M530 1754l12 38 5-64-11 2z"/><path class=cc d="M468 1676l11 6 8 22-12-4z"/><path class=cc d="M804 1692l12 2 5-8-12-5z"/><path fill="url(#q20_24)" d="M660 1647l12 42 6 17-12-17z"/><path class=ce d="M630 1654l12 32 6-3-12 6z"/><path fill="url(#q17_21)" d="M601 1741l11 16 6-70-12 24z"/><path fill="url(#q19_26)" d="M391 1727l11 5 2-118-11-1z"/><path class=c5 d="M571 1732l11-17 6-9-11 19z"/><path class=ca d="M816 1694l12 19 5-13-12-14z"/><path fill="url(#q15_19)" d="M542 1792l11-30 6-24-12-10z"/><path class=ck d="M448 1641l12 8 8 27-12-6z"/><path fill="url(#q17_21)" d="M672 1689l12 32 6 34-12-49z"/><path class=cb d="M479 1682l12 7 8 19-12-4z"/><path fill="url(#q20_24)" d="M642 1686l12 24 6-63-12 36z"/><path fill="url(#q17_23)" d="M612 1757l12-22 6-81-12 33z"/><path class=c6 d="M828 1713l11 25 6-10-12-28z"/><path class=c5 d="M582 1715l12 18 7 8-13-35z"/><path fill="url(#q19_26)" d="M402 1732l12 5 2-120-12-3z"/><path fill="url(#q17_22)" d="M684 1721l12-49 6 42-12 41z"/><path fill="url(#q17_21)" d="M553 1762l11-61 7 31-12 6z"/><path fill="url(#q15_19)" d="M523 1737l12 44 7 11-12-38z"/><path class=cj d="M460 1649l12 8 7 25-11-6z"/><path class=ca d="M491 1689l12 12 8 15-12-8z"/><path class=cb d="M798 1704l12 2 6-12-12-2z"/><path fill="url(#q20_24)" d="M654 1710l12 1 6-22-12-42z"/><path fill="url(#q18_23)" d="M624 1735l12 9 6-58-12-32z"/><path class=c2 d="M594 1733l12-10 6 34-11-16z"/><path fill="url(#q20_24)" d="M696 1672l12-30 6 57-12 15z"/><path fill="url(#q19_23)" d="M564 1701l11-28 7 42-11 17z"/><path fill="url(#q19_26)" d="M414 1737l12 5 2-119-12-6z"/><path class=bu d="M535 1781l11-26 7 7-11 30z"/><path class=cp d="M440 1631l12 9 8 9-12-8z"/><path class=c9 d="M810 1706l12 18 6-11-12-19z"/><path class=ch d="M472 1657l12 10 7 22-12-7z"/><path class=ca d="M666 1711l12-15 6 25-12-32z"/><path fill="url(#q17_21)" d="M636 1744l12 25 6-59-12-24z"/><path fill="url(#q20_24)" d="M708 1642l13 26 5 39-12-8z"/><path class=c2 d="M606 1723l12 16 6-4-12 22z"/><path fill="url(#q19_23)" d="M575 1673l12 21 7 39-12-18z"/><path fill="url(#q19_25)" d="M426 1742l12 4 2-115-12-8z"/><path fill="url(#q17_21)" d="M546 1755l12-31 6-23-11 61z"/><path fill="url(#q20_24)" d="M678 1696l12-52 6 28-12 49z"/><path class=co d="M452 1640l12 9 8 8-12-8z"/><path fill="url(#q16_19)" d="M516 1750l12-20 7 51-12-44z"/><path class=cf d="M484 1667l12 21 7 13-12-12z"/><path fill="url(#q17_20)" d="M648 1769l12-34 6-24-12-1z"/><path class=ce d="M721 1668l12 3 5 39-12-3z"/><path class=bz d="M834 1748l11 27 6-6-12-31z"/><path class=c4 d="M618 1739l12-25 6 30-12-9z"/><path class=c8 d="M587 1694l13 21 6 8-12 10z"/><path class=c8 d="M762 1711l13 10 5 1-12-10z"/><path fill="url(#q21_24)" d="M690 1644l12 53 6-55-12 30z"/><path class=cb d="M558 1724l11-7 6-44-11 28z"/><path fill="url(#q19_25)" d="M438 1746l11 4 3-110-12-9z"/><path fill="url(#q16_20)" d="M528 1730l11-9 7 34-11 26z"/><path class=cm d="M464 1649l13 10 7 8-12-10z"/><path fill="url(#q18_22)" d="M496 1688l12 1 8 61-13-49z"/><path class=c8 d="M660 1735l12-5 6-34-12 15z"/><path fill="url(#q20_23)" d="M733 1671l12 36 5 12-12-9z"/><path fill="url(#q17_21)" d="M630 1714l12-14 6 69-12-25z"/><path class=c8 d="M775 1721l12-2 5-7-12 10z"/><path class=c6 d="M600 1715l12 23 6 1-12-16z"/><path fill="url(#q20_24)" d="M702 1697l12 29 7-58-13-26z"/><path class=cf d="M569 1717l12-46 6 23-12-21z"/><path class=c4 d="M817 1734l11 20 6-6-12-24z"/><path class=c5 d="M539 1721l12 15 7-12-12 31z"/><path fill="url(#q19_25)" d="M449 1750l12 2 3-103-12-9z"/><path fill="url(#q18_22)" d="M508 1689l13 25 7 16-12 20z"/><path class=ck d="M477 1659l12 0 7 29-12-21z"/><path fill="url(#q20_24)" d="M672 1730l12-3 6-83-12 52z"/><path class=c9 d="M745 1707l12 22 5-18-12 8z"/><path fill="url(#q17_24)" d="M642 1700l12-39 6 74-12 34z"/><path fill="url(#q20_23)" d="M714 1726l13-9 6-46-12-3z"/><path class=c7 d="M612 1738l12-24 6 0-12 25z"/><path class=bz d="M828 1754l12 25 5-4-11-27z"/><path class=ce d="M581 1671l12 37 7 7-13-21z"/><path fill="url(#q20_24)" d="M684 1727l12-7 6-23-12-53z"/><path class=c7 d="M551 1736l12-6 6-13-11 7z"/><path class=ca d="M521 1714l11-14 7 21-11 9z"/><path fill="url(#q19_24)" d="M461 1752l12 3 4-96-13-10z"/><path class=ci d="M489 1659l12 30 7 0-12-1z"/><path class=c7 d="M799 1720l12 20 6-6-12-12z"/><path fill="url(#q19_24)" d="M654 1661l12 50 6 19-12 5z"/><path fill="url(#q19_23)" d="M727 1717l12 22 6-32-12-36z"/><path class=cd d="M624 1714l11-34 7 20-12 14z"/><path class=c8 d="M593 1708l12 21 7 9-12-23z"/><path class=c9 d="M696 1720l12 25 6-19-12-29z"/><path fill="url(#q20_23)" d="M563 1730l12 0 6-59-12 46z"/><path class=c9 d="M532 1700l12 21 7 15-12-15z"/><path class=c4 d="M811 1740l12 15 5-1-11-20z"/><path class=cf d="M501 1689l12-3 8 28-13-25z"/><path fill="url(#q18_24)" d="M473 1755l12 11 4-107-12 0z"/><path class=c8 d="M666 1711l12 24 6-8-12 3z"/><path class=c7 d="M739 1739l12 9 6-19-12-22z"/><path fill="url(#q21_24)" d="M635 1680l13 37 6-56-12 39z"/><path fill="url(#q18_21)" d="M708 1745l12 27 7-55-13 9z"/><path class=c8 d="M605 1729l12 1 7-16-12 24z"/><path class=c0 d="M823 1755l12 18 5 6-12-25z"/><path fill="url(#q20_23)" d="M575 1730l12 2 6-24-12-37z"/><path class=c9 d="M544 1721l12-6 7 15-12 6z"/><path class=c6 d="M678 1735l12 19 6-34-12 7z"/><path class=ce d="M513 1686l13 19 6-5-11 14z"/><path fill="url(#q18_24)" d="M485 1766l12-4 4-73-12-30z"/><path fill="url(#q20_24)" d="M648 1717l12 25 6-31-12-50z"/><path fill="url(#q13_21)" d="M720 1772l12 77 7-110-12-22z"/><path class=bv d="M835 1773l12 18 5 12-12-24z"/><path class=cc d="M617 1730l13-5 5-45-11 34z"/><path class=bk d="M876 1832l12 3 5 2-13-3z"/><path class=c8 d="M587 1732l12 15 6-18-12-21z"/><path class=ca d="M763 1737l13-38 5 31-12-9z"/><path class=c5 d="M690 1754l12-4 6-5-12-25z"/><path class=c9 d="M556 1715l13 16 6-1-12 0z"/><path class=cc d="M526 1705l12 25 6-9-12-21z"/><path fill="url(#q18_23)" d="M497 1762l11-7 5-69-12 3z"/><path class=c5 d="M806 1744l12 7 5 4-12-15z"/><path class=c8 d="M660 1742l12-1 6-6-12-24z"/><path class=br d="M847 1791l12 16 5 15-12-19z"/><path fill="url(#q13_19)" d="M732 1849l13-76 6-25-12-9z"/><path class=bk d="M888 1835l12 3 5 1-12-2z"/><path fill="url(#q19_23)" d="M630 1725l12 29 6-37-13-37z"/><path class=ca d="M776 1699l12 27 6 6-13-2z"/><path class=c6 d="M599 1747l12 6 6-23-12-1z"/><path class=c8 d="M569 1731l12 10 6-9-12-2z"/><path class=c2 d="M818 1751l12 6 5 16-12-18z"/><path class=ca d="M538 1730l12 9 6-24-12 6z"/><path class=bp d="M859 1807l12 10 5 15-12-10z"/><path fill="url(#q19_23)" d="M508 1755l12-3 6-47-13-19z"/><path class=bk d="M900 1838l13 2 4 1-12-2z"/><path class=c5 d="M745 1773l13-39 5 3-12 11z"/><path class=c7 d="M642 1754l12-9 6-3-12-25z"/><path class=c8 d="M788 1726l12 20 6-2-12-12z"/><path fill="url(#q13_19)" d="M715 1758l12 6 5 85-12-77z"/><path class=c7 d="M611 1753l12-4 7-24-13 5z"/><path class=c0 d="M830 1757l13 8 4 26-12-18z"/><path class=bo d="M871 1817l13 4 4 14-12-3z"/><path fill="url(#q16_19)" d="M684 1768l12 38 6-56-12 4z"/><path class=c8 d="M550 1739l12 13 7-21-13-16z"/><path class=c9 d="M758 1734l12 20 6-55-13 38z"/><path class=c9 d="M520 1752l12-2 6-20-12-25z"/><path class=c6 d="M800 1746l13-3 5 8-12-7z"/><path class=c6 d="M654 1745l12 6 6-10-12 1z"/><path fill="url(#q13_20)" d="M727 1764l12-16 6 25-13 76z"/><path class=by d="M843 1765l12 10 4 32-12-16z"/><path class=bn d="M884 1821l12 4 4 13-12-3z"/><path class=c6 d="M623 1749l13 10 6-5-12-29z"/><path fill="url(#q19_22)" d="M770 1754l12 3 6-31-12-27z"/><path fill="url(#q16_20)" d="M696 1806l13-60 6 12-13-8z"/><path class=c8 d="M532 1750l12-7 6-4-12-9z"/><path class=c7 d="M813 1743l13-10 4 24-12-6z"/><path class=bv d="M855 1775l12 11 4 31-12-10z"/><path class=bn d="M896 1825l12 3 5 12-13-2z"/><path class=c5 d="M739 1748l13 0 6-14-13 39z"/><path class=c5 d="M636 1759l12-12 6-2-12 9z"/><path class=c7 d="M782 1757l13-8 5-3-12-20z"/><path fill="url(#q19_22)" d="M709 1746l13-28 5 46-12-6z"/><path class=c5 d="M605 1752l12 1 6-4-12 4z"/><path class=c8 d="M826 1733l13-11 4 43-13-8z"/><path class=c5 d="M575 1759l11-11 7 17-12-24z"/><path class=bu d="M867 1786l13 10 4 25-13-4z"/><path class=c7 d="M544 1743l12 6 6 3-12-13z"/><path class=bz d="M678 1766l13 9 5 31-12-38z"/><path class=c7 d="M752 1748l12 3 6 3-12-20z"/><path class=c6 d="M648 1747l12 4 6 0-12-6z"/><path class=c8 d="M795 1749l13-14 5 8-13 3z"/><path fill="url(#q19_22)" d="M722 1718l12 13 5 17-12 16z"/><path fill="url(#q18_22)" d="M839 1722l12 0 4 53-12-10z"/><path class=bt d="M880 1796l12 8 4 21-12-4z"/><path class=c6 d="M586 1748l13-3 6 7-12 13z"/><path class=c6 d="M764 1751l13-1 5 7-12-3z"/><path fill="url(#q16_20)" d="M691 1775l12-21 6-8-13 60z"/><path class=cc d="M808 1735l13-30 5 28-13 10z"/><path fill="url(#q18_22)" d="M851 1722l13 15 3 49-12-11z"/><path class=c7 d="M734 1731l12 42 6-25-13 0z"/><path class=bs d="M892 1804l12 7 4 17-12-3z"/><path class=c5 d="M629 1758l13 8 6-19-12 12z"/><path class=c7 d="M777 1750l12 3 6-4-13 8z"/><path class=c6 d="M599 1745l12 20 6-12-12-1z"/><path class=c9 d="M703 1754l12-5 7-31-13 28z"/><path class=c5 d="M568 1766l12 2 6-20-11 11z"/><path fill="url(#q21_25)" d="M821 1705l14-35 4 52-13 11z"/><path fill="url(#q17_21)" d="M864 1737l12 23 4 36-13-10z"/><path class=c3 d="M672 1770l13-15 6 20-13-9z"/><path class=c6 d="M746 1773l13-21 5-1-12-3z"/><path class=c6 d="M642 1766l12-14 6-1-12-4z"/><path class=c9 d="M789 1753l13-21 6 3-13 14z"/><path fill="url(#q19_22)" d="M715 1749l13 27 6-45-12-13z"/><path fill="url(#q21_26)" d="M835 1670l13-15 3 67-12 0z"/><path class=c0 d="M876 1760l12 21 4 23-12-8z"/><path class=c5 d="M580 1768l13 12 6-35-13 3z"/><path class=c5 d="M685 1755l12 10 6-11-12 21z"/><path class=c7 d="M759 1752l12 7 6-9-13 1z"/><path fill="url(#q21_24)" d="M802 1732l14-43 5 16-13 30z"/><path class=c6 d="M654 1752l12 6 6 12-12-19z"/><path class=c5 d="M728 1776l12 0 6-3-12-42z"/><path fill="url(#q21_26)" d="M848 1655l13 21 3 61-13-15z"/><path class=by d="M888 1781l12 14 4 16-12-7z"/><path class=c5 d="M593 1780l12-10 6-5-12-20z"/><path class=c7 d="M771 1759l13 1 5-7-12-3z"/><path class=c6 d="M697 1765l12 9 6-25-12 5z"/><path fill="url(#q23_27)" d="M816 1689l14-52 5 33-14 35z"/><path class=c5 d="M666 1758l13 18 6-21-13 15z"/><path fill="url(#q20_25)" d="M861 1676l11 43 4 41-12-23z"/><path class=c5 d="M740 1776l13-17 6-7-13 21z"/><path class=c5 d="M635 1765l13 16 6-29-12 14z"/><path class=ca d="M784 1760l13-22 5-6-13 21z"/><path class=c4 d="M709 1774l13 11 6-9-13-27z"/><path fill="url(#q25_28)" d="M830 1637l14-25 4 43-13 15z"/><path fill="url(#q19_22)" d="M872 1719l12 41 4 21-12-21z"/><path class=c4 d="M679 1776l12 12 6-23-12-10z"/><path class=ci d="M797 1738l14-47 5-2-14 43z"/><path class=c3 d="M722 1785l12-5 6-4-12 0z"/><path fill="url(#q25_28)" d="M844 1612l12 26 5 38-13-21z"/><path class=c3 d="M884 1760l11 25 5 10-12-14z"/><path class=c3 d="M691 1788l12-6 6-8-12-9z"/><path fill="url(#q24_27)" d="M811 1691l14-56 5 2-14 52z"/><path class=c5 d="M660 1785l12-16 7 7-13-18z"/><path fill="url(#q22_27)" d="M856 1638l12 59 4 22-11-43z"/><path class=c4 d="M734 1780l13 5 6-26-13 17z"/><path class=c9 d="M778 1769l13-19 6-12-13 22z"/><path class=d2 d="M825 1635l14-27 5 4-14 25z"/><path fill="url(#q20_24)" d="M868 1697l11 55 5 8-12-41z"/><path class=c3 d="M672 1769l13 18 6 1-12-12z"/><path class=c4 d="M641 1772l13-1 6 14-12-4z"/><path fill="url(#q21_24)" d="M791 1750l14-39 6-20-14 47z"/><path class=c3 d="M716 1786l12 0 6-6-12 5z"/><path class=d3 d="M839 1608l12 27 5 3-12-26z"/><path class=c7 d="M879 1752l11 34 5-1-11-25z"/><path class=c3 d="M685 1787l12-4 6-1-12 6z"/><path class=c5 d="M760 1770l12 10 6-11-13 12z"/><path fill="url(#q23_27)" d="M805 1711l14-48 6-28-14 56z"/><path class=c5 d="M654 1771l12 17 6-19-12 16z"/><path fill="url(#q24_27)" d="M851 1635l11 63 6-1-12-59z"/><path class=c3 d="M728 1786l13 0 6-1-13-5z"/><path class=c3 d="M697 1783l13 17 6-14-13-4z"/><path fill="url(#q26_29)" d="M819 1663l13-23 7-32-14 27z"/><path fill="url(#q21_24)" d="M862 1698l11 59 6-5-11-55z"/><path fill="url(#q20_23)" d="M785 1768l13-27 7-30-14 39z"/><path class=c2 d="M710 1800l12-7 6-7-12 0z"/><path class=d1 d="M832 1640l13 25 6-30-12-27z"/><path class=c8 d="M873 1757l12 35 5-6-11-34z"/><path class=c5 d="M679 1778l12 5 6 0-12 4z"/><path class=c5 d="M753 1793l13-3 6-10-12-10z"/><path fill="url(#q22_26)" d="M798 1741l14-32 7-46-14 48z"/><path class=c4 d="M722 1793l13-16 6 9-13 0z"/><path fill="url(#q23_27)" d="M845 1665l11 54 6-21-11-63z"/><path class=c4 d="M691 1783l13 10 6 7-13-17z"/><path fill="url(#q24_27)" d="M812 1709l13-14 7-55-13 23z"/><path fill="url(#q21_24)" d="M856 1719l12 52 5-14-11-59z"/><path class=c4 d="M735 1777l12 31 6-15-12-7z"/><path class=ca d="M779 1785l13-13 6-31-13 27z"/><path class=c3 d="M704 1793l12-1 6 1-12 7z"/><path fill="url(#q24_27)" d="M825 1695l13 18 7-48-13-25z"/><path class=c7 d="M868 1771l12 31 5-10-12-35z"/><path fill="url(#q20_24)" d="M792 1772l13-16 7-47-14 32z"/><path class=c4 d="M716 1792l13 13 6-28-13 16z"/><path fill="url(#q22_26)" d="M838 1713l12 40 6-34-11-54z"/><path fill="url(#q21_25)" d="M805 1756l13-7 7-54-13 14z"/><path fill="url(#q20_23)" d="M850 1753l12 37 6-19-12-52z"/><path class=c3 d="M729 1805l13-2 5 5-12-31z"/><path fill="url(#q21_25)" d="M818 1749l13 12 7-48-13-18z"/><path class=c5 d="M862 1790l12 23 6-11-12-31z"/><path class=c3 d="M742 1803l12 3 6-7-13 9z"/><path fill="url(#q20_24)" d="M831 1761l12 25 7-33-12-40z"/><path class=cb d="M799 1790l13 0 6-41-13 7z"/><path class=c8 d="M843 1786l13 23 6-19-12-37z"/><path class=cb d="M812 1790l13 8 6-37-13-12z"/><path class=c3 d="M856 1809l12 15 6-11-12-23z"/><path class=c8 d="M825 1798l12 13 6-25-12-25z"/><path class=c5 d="M806 1814l13 6 6-22-13-8z"/><path class=c2 d="M850 1825l13 9 5-10-12-15z"/><path class=c4 d="M819 1820l12 8 6-17-12-13z"/></g><line x1="106.7" y1="992.3" x2="423.7" y2="1068.6" stroke="#222" stroke-width="1.4"/><line x1="423.7" y1="1068.6" x2="538.2" y2="919.4" stroke="#222" stroke-width="1.4"/><g stroke="#222" stroke-width="1.2"><line x1="83.1" y1="702.4" x2="79.6" y2="703.9" /><line x1="87.4" y1="754.8" x2="83.9" y2="756.3" /><line x1="91.5" y1="805.5" x2="88.0" y2="807.0" /><line x1="95.5" y1="854.5" x2="92.0" y2="856.0" /><line x1="99.3" y1="901.9" x2="95.8" y2="903.4" /><line x1="103.0" y1="947.8" x2="99.5" y2="949.3" /><line x1="106.7" y1="992.3" x2="103.2" y2="993.8" /><line x1="146.4" y1="1001.9" x2="144.9" y2="1005.9" /><line x1="205.9" y1="1016.2" x2="204.4" y2="1020.2" /><line x1="267.4" y1="1031.0" x2="265.9" y2="1035.0" /><line x1="331.1" y1="1046.3" x2="329.6" y2="1050.3" /><line x1="397.1" y1="1062.2" x2="395.6" y2="1066.2" /><line x1="453.6" y1="1029.7" x2="457.6" y2="1031.2" /><line x1="479.7" y1="995.6" x2="483.7" y2="997.1" /><line x1="503.8" y1="964.2" x2="507.8" y2="965.7" /><line x1="526.1" y1="935.1" x2="530.1" y2="936.6" /></g><text x="8.2" y="638.0" font-size="33.5" text-anchor="start" font-weight="bold">B</text><text x="75.8" y="711.2" font-size="15.4" text-anchor="end" font-weight="normal">3</text><text x="80.1" y="763.6" font-size="15.4" text-anchor="end" font-weight="normal">2</text><text x="84.2" y="814.3" font-size="15.4" text-anchor="end" font-weight="normal">1</text><text x="88.2" y="863.3" font-size="15.4" text-anchor="end" font-weight="normal">0</text><text x="92.0" y="910.7" font-size="15.4" text-anchor="end" font-weight="normal">-1</text><text x="95.7" y="956.6" font-size="15.4" text-anchor="end" font-weight="normal">-2</text><text x="99.4" y="1001.1" font-size="15.4" text-anchor="end" font-weight="normal">-3</text><text x="128.3" y="1023.3" font-size="15.4" text-anchor="middle" font-weight="normal">250</text><text x="189.2" y="1037.2" font-size="15.4" text-anchor="middle" font-weight="normal">200</text><text x="251.1" y="1052.1" font-size="15.4" text-anchor="middle" font-weight="normal">150</text><text x="313.4" y="1067.4" font-size="15.4" text-anchor="middle" font-weight="normal">100</text><text x="383.7" y="1083.3" font-size="15.4" text-anchor="middle" font-weight="normal">50</text><text x="461.9" y="1040.4" font-size="14.8" text-anchor="start" font-weight="normal">10000</text><text x="487.8" y="1005.0" font-size="14.8" text-anchor="start" font-weight="normal">20000</text><text x="512.2" y="974.3" font-size="14.8" text-anchor="start" font-weight="normal">30000</text><text x="535.9" y="944.8" font-size="14.8" text-anchor="start" font-weight="normal">40000</text><text x="43.8" y="856.5" font-size="18.4" text-anchor="middle" font-weight="normal" transform="rotate(-90.00 43.8 856.5)">D-Dimer (µg/mL)</text><text x="165.5" y="1068.5" font-size="18.4" text-anchor="start" font-weight="normal" transform="rotate(12.60 165.5 1068.5)">Prothrombin (%)</text><text x="449.5" y="1149.5" font-size="18.0" text-anchor="start" font-weight="normal" transform="rotate(-50.90 449.5 1149.5)">Anti-spike protein antibody titer (U/mL)</text><g stroke="#c8c8c8" stroke-width="1"><line x1="93.4" y1="1361.8" x2="270.7" y2="1261.9" /><line x1="270.7" y1="1261.9" x2="581.9" y2="1304.3" /><line x1="97.1" y1="1407.6" x2="271.6" y2="1301.6" /><line x1="271.6" y1="1301.6" x2="579.1" y2="1346.7" /><line x1="100.6" y1="1452.1" x2="272.6" y2="1340.5" /><line x1="272.6" y1="1340.5" x2="576.3" y2="1388.0" /><line x1="104.0" y1="1495.4" x2="273.5" y2="1378.4" /><line x1="273.5" y1="1378.4" x2="573.6" y2="1428.3" /><line x1="107.3" y1="1537.6" x2="274.5" y2="1415.5" /><line x1="274.5" y1="1415.5" x2="571.0" y2="1467.7" /><line x1="110.6" y1="1578.7" x2="275.4" y2="1451.7" /><line x1="275.4" y1="1451.7" x2="568.4" y2="1506.1" /><line x1="155.0" y1="1585.3" x2="136.0" y2="1290.7" /><line x1="155.0" y1="1585.3" x2="475.1" y2="1658.1" /><line x1="193.1" y1="1554.5" x2="178.3" y2="1268.7" /><line x1="193.1" y1="1554.5" x2="503.8" y2="1621.9" /><line x1="228.5" y1="1525.8" x2="217.4" y2="1248.4" /><line x1="228.5" y1="1525.8" x2="530.4" y2="1588.4" /><line x1="261.6" y1="1499.1" x2="253.6" y2="1229.6" /><line x1="261.6" y1="1499.1" x2="555.0" y2="1557.4" /><line x1="313.0" y1="1494.4" x2="309.5" y2="1226.2" /><line x1="155.1" y1="1628.6" x2="313.0" y2="1494.4" /><line x1="367.9" y1="1505.1" x2="369.0" y2="1233.7" /><line x1="217.2" y1="1643.4" x2="367.9" y2="1505.1" /><line x1="424.3" y1="1516.0" x2="430.3" y2="1241.4" /><line x1="281.4" y1="1658.8" x2="424.3" y2="1516.0" /><line x1="482.4" y1="1527.4" x2="493.6" y2="1249.3" /><line x1="347.8" y1="1674.7" x2="482.4" y2="1527.4" /><line x1="542.2" y1="1539.0" x2="558.9" y2="1257.6" /><line x1="416.5" y1="1691.1" x2="542.2" y2="1539.0" /></g><g stroke="#222" stroke-width="1.4" stroke-linecap="round"><line x1="89.7" y1="1314.7" x2="269.7" y2="1221.2" /><line x1="269.7" y1="1221.2" x2="584.8" y2="1260.8" /><line x1="269.7" y1="1221.2" x2="276.2" y2="1487.2" /><line x1="584.8" y1="1260.8" x2="565.9" y2="1543.6" /><line x1="113.7" y1="1618.7" x2="276.2" y2="1487.2" /><line x1="276.2" y1="1487.2" x2="565.9" y2="1543.6" /><line x1="89.7" y1="1314.7" x2="113.7" y2="1618.7" /></g><g transform="scale(.5)" stroke="#000" stroke-width="2.50" stroke-linejoin="round"><path class=e8 d="M536 2500l9 8 5-4-9-7zM531 2504l9 8 5-4-9-8z"/><path class=e6 d="M545 2508l10 7 5-4-10-7zM540 2512l10 7 5-4-10-7zM516 2517l9 8 5-5-9-7zM510 2522l10 7 5-4-9-8z"/><path class=e4 d="M555 2515l9 8 5-4-9-8zM550 2519l9 8 5-4-9-8zM525 2525l10 7 5-4-10-8zM520 2529l10 8 5-5-10-7zM495 2536l10 8 5-5-10-8z"/><path class=e2 d="M564 2523l10 7 5-4-10-7zM559 2527l10 7 5-4-10-7zM535 2532l9 8 5-5-9-7zM530 2537l9 8 5-5-9-8zM505 2544l9 8 6-5-10-8zM480 2552l9 8 5-5-9-9z"/><path class=e7 d="M526 2508l9 8 5-4-9-8zM521 2513l9 7 5-4-9-8z"/><path class=e0 d="M574 2530l9 7 5-4-9-7zM569 2534l9 8 5-5-9-7zM544 2540l10 8 5-5-10-8zM539 2545l10 8 5-5-10-8zM520 2547l9 8 5-5-9-8zM514 2552l10 8 5-5-9-8zM494 2555l10 8 5-6-9-8zM489 2560l10 9 5-6-10-8zM469 2563l10 9 5-6-10-9z"/><path class=e5 d="M535 2516l10 8 5-5-10-7zM530 2520l10 8 5-4-10-8zM505 2526l10 8 5-5-10-7zM500 2531l10 8 5-5-10-8z"/><path class=dy d="M583 2537l10 8 5-4-10-8zM578 2542l10 7 5-4-10-8zM554 2548l10 7 5-4-10-8zM549 2553l10 7 5-5-10-7zM529 2555l10 8 5-5-10-8zM524 2560l10 8 5-5-10-8zM504 2563l10 8 5-5-10-9zM479 2572l10 9 5-6-10-9zM458 2575l10 9 6-6-10-9z"/><path class=dw d="M593 2545l9 7 5-4-9-7zM588 2549l9 7 5-4-9-7zM564 2555l9 8 5-5-9-7zM559 2560l9 8 5-5-9-8zM539 2563l10 8 5-5-10-8zM514 2571l10 9 5-6-10-8zM494 2575l10 8 5-6-10-8zM468 2584l10 9 5-6-9-9zM448 2588l10 9 5-7-10-9z"/><path class=e3 d="M545 2524l9 7 5-4-9-8zM540 2528l9 7 5-4-9-7zM515 2534l10 8 5-5-10-8zM510 2539l10 8 5-5-10-8zM490 2541l10 8 5-5-10-8zM485 2546l9 9 6-6-10-8z"/><path class=du d="M602 2552l10 7 5-4-10-7zM597 2556l10 7 5-4-10-7zM573 2563l10 7 5-5-10-7zM568 2568l10 7 5-5-10-7zM549 2571l9 8 5-6-9-7zM524 2580l9 8 6-6-10-8zM504 2583l10 9 5-6-10-9zM483 2587l10 9 6-7-10-8zM458 2597l10 9 5-6-10-10zM437 2602l10 9 5-7-9-9z"/><path class=e1 d="M554 2531l10 8 5-5-10-7zM549 2535l10 8 5-4-10-8zM525 2542l9 8 5-5-9-8zM500 2549l9 8 5-5-9-8zM474 2557l10 9 5-6-9-8z"/><path class=dt d="M612 2559l9 7 5-5-9-6zM593 2560l9 8 5-5-10-7zM588 2565l9 7 5-4-9-8zM563 2573l10 8 5-6-10-7zM544 2577l9 8 5-6-9-8zM519 2586l9 9 5-7-9-8zM499 2589l9 10 6-7-10-9zM478 2593l10 9 5-6-10-9zM452 2604l10 9 6-7-10-9zM432 2609l10 10 5-8-10-9z"/><path class=dz d="M564 2539l9 7 5-4-9-8zM559 2543l10 8 4-5-9-7zM534 2550l10 8 5-5-10-8zM509 2557l10 9 5-6-10-8zM484 2566l10 9 5-6-10-9zM464 2569l10 9 5-6-10-9z"/><path class=dr d="M621 2566l10 6 5-4-10-7zM597 2572l10 8 5-5-10-7zM573 2581l10 8 5-6-10-8zM553 2585l10 8 5-6-10-8zM533 2588l10 9 5-6-9-9zM508 2599l10 9 5-7-9-9zM488 2602l10 10 5-7-10-9zM468 2606l10 10 5-7-10-9zM447 2611l10 9 5-7-10-9zM426 2617l10 10 6-8-10-10z"/><path class=dx d="M573 2546l10 7 5-4-10-7zM569 2551l9 7 5-5-10-7zM544 2558l10 8 5-6-10-7zM519 2566l10 8 5-6-10-8zM499 2569l10 8 5-6-10-8zM474 2578l9 9 6-6-10-9zM453 2581l10 9 5-6-10-9z"/><path class=dp d="M631 2572l9 7 5-4-9-7zM626 2577l10 6 4-4-9-7zM607 2580l10 6 4-5-9-6zM602 2585l10 7 5-6-10-6zM583 2589l9 7 5-6-9-7zM563 2593l10 8 5-7-10-7zM543 2597l10 8 5-6-10-8zM523 2601l10 9 5-7-10-8zM503 2605l10 10 5-7-10-9zM478 2616l10 10 5-7-10-10zM457 2620l10 10 5-7-10-10zM436 2627l10 9 6-8-10-9z"/><path class=ds d="M607 2563l10 7 4-4-9-7zM602 2568l10 7 5-5-10-7zM583 2570l9 8 5-6-9-7zM578 2575l10 8 4-5-9-8zM558 2579l10 8 5-6-10-8zM539 2582l9 9 5-6-9-8zM514 2592l9 9 5-6-9-9zM493 2596l10 9 5-6-9-10zM473 2600l10 9 5-7-10-9z"/><path class=dv d="M583 2553l10 7 4-4-9-7zM578 2558l10 7 5-5-10-7zM554 2566l9 7 5-5-9-8zM534 2568l10 9 5-6-10-8zM529 2574l10 8 5-5-10-9zM509 2577l10 9 5-6-10-9zM489 2581l10 8 5-6-10-8zM463 2590l10 10 5-7-10-9zM443 2595l9 9 6-7-10-9z"/><path class=dn d="M640 2579l10 6 5-4-10-6zM636 2583l9 7 5-5-10-6zM617 2586l9 7 5-5-10-7zM612 2592l9 7 5-6-9-7zM592 2596l10 7 5-6-10-7zM573 2601l9 7 5-6-9-8zM553 2605l10 9 5-7-10-8zM533 2610l10 9 5-7-10-9zM513 2615l10 9 5-7-10-9zM493 2619l10 10 5-7-10-10zM472 2623l10 10 6-7-10-10zM452 2628l10 10 5-8-10-10zM431 2635l10 9 5-8-10-9z"/><path class=dq d="M617 2570l9 7 5-5-10-6zM612 2575l9 6 5-4-9-7zM592 2578l10 7 5-5-10-8zM588 2583l9 7 5-5-10-7zM568 2587l10 7 5-5-10-8zM548 2591l10 8 5-6-10-8zM528 2595l10 8 5-6-10-9zM483 2609l10 10 5-7-10-10zM462 2613l10 10 6-7-10-10zM442 2619l10 9 5-8-10-9zM421 2626l10 9 5-8-10-10z"/><path class=dm d="M650 2585l10 7 4-4-9-7zM631 2588l10 7 4-5-9-7zM626 2593l10 7 5-5-10-7zM607 2597l10 7 4-5-9-7zM587 2602l10 7 5-6-10-7zM568 2607l10 8 4-7-9-7zM548 2612l10 9 5-7-10-9zM528 2617l10 9 5-7-10-9zM508 2622l10 9 5-7-10-9zM488 2626l10 10 5-7-10-10zM467 2630l10 10 5-7-10-10zM446 2636l11 10 5-8-10-10zM410 2643l10 9 6-8-10-10z"/><path class=dk d="M660 2592l9 6 5-4-10-6zM655 2596l10 7 4-5-9-6zM636 2600l9 6 5-5-9-6zM617 2604l9 7 5-6-10-6zM597 2609l10 8 5-7-10-7zM578 2615l9 8 5-7-10-8zM558 2621l10 8 5-7-10-8zM523 2624l10 9 5-7-10-9zM503 2629l10 10 5-8-10-9zM441 2644l10 10 6-8-11-10zM420 2652l10 10 6-9-10-9zM405 2652l10 9 5-9-10-9z"/><path class=di d="M669 2598l10 6 4-4-9-6zM665 2603l9 6 5-5-10-6zM645 2606l10 7 5-5-10-7zM641 2612l9 6 5-5-10-7zM626 2611l10 7 5-6-10-7zM621 2617l10 7 5-6-10-7zM607 2617l10 7 4-7-9-7zM587 2623l10 7 5-7-10-7zM553 2628l10 8 5-7-10-8zM533 2633l10 10 5-8-10-9zM513 2639l10 9 5-7-10-10zM492 2643l10 10 6-7-10-10zM472 2648l10 11 5-8-10-11zM451 2654l10 11 6-9-10-10zM415 2661l10 9 5-8-10-10z"/><path class=dl d="M645 2590l10 6 5-4-10-7zM641 2595l9 6 5-5-10-6zM621 2599l10 6 5-5-10-7zM602 2603l10 7 5-6-10-7zM582 2608l10 8 5-7-10-7zM563 2614l10 8 5-7-10-8zM543 2619l10 9 5-7-10-9zM482 2633l10 10 6-7-10-10zM462 2638l10 10 5-8-10-10zM426 2644l10 9 5-9-10-9z"/><path class=do d="M621 2581l10 7 5-5-10-6zM597 2590l10 7 5-5-10-7zM578 2594l9 8 5-6-9-7zM558 2599l10 8 5-6-10-8zM538 2603l10 9 5-7-10-8zM518 2608l10 9 5-7-10-9zM498 2612l10 10 5-7-10-10zM416 2634l10 10 5-9-10-9z"/><path class=dh d="M679 2604l9 7 5-5-10-6zM660 2608l9 6 5-5-9-6zM655 2613l10 6 4-5-9-6zM636 2618l10 6 4-6-9-6zM602 2623l10 7 5-6-10-7zM582 2630l10 8 5-8-10-7zM568 2629l9 8 5-7-9-8zM548 2635l10 9 5-8-10-8zM528 2641l10 9 5-7-10-10zM487 2651l10 10 5-8-10-10zM430 2662l11 9 5-8-10-10zM394 2670l10 8 6-8-11-9z"/><path class=df d="M688 2611l10 6 5-4-10-7zM684 2615l9 7 5-5-10-6zM665 2619l9 6 5-5-10-6zM646 2624l9 7 5-6-10-7zM626 2630l10 7 5-7-10-6zM612 2630l9 7 5-7-9-6zM592 2638l10 7 5-7-10-8zM577 2637l10 8 5-7-10-8zM558 2644l9 9 5-8-9-9zM543 2643l10 9 5-8-10-9zM523 2648l10 10 5-8-10-9zM502 2653l10 11 5-8-9-10zM482 2659l10 10 5-8-10-10zM461 2665l10 10 6-8-10-11zM441 2671l10 10 5-8-10-10zM404 2678l10 9 6-8-10-9zM389 2679l10 8 5-9-10-8z"/><path class=dd d="M698 2617l10 6 4-4-9-6zM693 2622l10 6 5-5-10-6zM689 2627l9 6 5-5-10-6zM674 2625l10 7 5-5-10-7zM670 2631l9 6 5-5-10-7zM650 2637l10 6 5-6-10-6zM636 2637l10 6 4-6-9-7zM602 2645l10 7 5-7-10-7zM587 2645l10 8 5-8-10-7zM553 2652l9 9 5-8-9-9zM533 2658l9 10 6-8-10-10zM456 2673l10 10 5-8-10-10zM435 2680l10 10 6-9-10-10zM399 2687l10 9 5-9-10-9zM383 2688l10 9 6-10-10-8z"/><path class=dg d="M674 2609l10 6 4-4-9-7zM669 2614l10 6 5-5-10-6zM650 2618l10 7 5-6-10-6zM631 2624l10 6 5-6-10-6zM617 2624l9 6 5-6-10-7zM597 2630l10 8 5-8-10-7zM563 2636l9 9 5-8-9-8zM508 2646l9 10 6-8-10-9zM467 2656l10 11 5-8-10-11zM446 2663l10 10 5-8-10-11zM425 2670l10 10 6-9-11-9zM410 2670l10 9 5-9-10-9z"/><path class=dj d="M650 2601l10 7 5-5-10-7zM631 2605l10 7 4-6-9-6zM612 2610l9 7 5-6-9-7zM592 2616l10 7 5-6-10-8zM573 2622l9 8 5-7-9-8zM538 2626l10 9 5-7-10-9zM518 2631l10 10 5-8-10-9zM498 2636l10 10 5-7-10-10zM477 2640l10 11 5-8-10-10zM457 2646l10 10 5-8-10-10zM436 2653l10 10 5-9-10-10zM399 2661l11 9 5-9-10-9z"/><path class=dc d="M708 2623l9 7 5-5-10-6zM684 2632l10 6 4-5-9-6zM665 2637l10 6 4-6-9-6zM646 2643l9 7 5-7-10-6zM631 2644l10 6 5-7-10-6zM617 2645l9 6 5-7-10-7zM582 2653l10 8 5-8-10-8zM567 2653l10 8 5-8-10-8zM548 2660l9 9 5-8-9-9zM512 2664l10 10 5-8-10-10zM492 2669l10 11 5-9-10-10zM471 2675l10 10 6-8-10-10zM451 2681l10 10 5-8-10-10zM414 2687l10 9 6-8-10-9zM378 2698l10 8 5-9-10-9z"/><path class=da d="M717 2630l10 6 4-4-9-7zM713 2634l9 6 5-4-10-6zM694 2638l9 6 5-5-10-6zM689 2643l10 7 4-6-9-6zM675 2643l9 6 5-6-10-6zM655 2650l10 6 5-7-10-6zM641 2650l10 7 4-7-9-7zM607 2660l10 7 4-8-9-7zM592 2661l10 7 5-8-10-7zM577 2661l10 8 5-8-10-8zM542 2668l10 9 5-8-9-9zM522 2674l10 10 5-8-10-10zM445 2690l10 10 6-9-10-10zM424 2696l10 10 6-8-10-10zM372 2708l10 8 6-10-10-8z"/><path class=d9 d="M727 2636l10 6 4-4-10-6zM708 2639l10 6 4-5-9-6zM703 2644l10 6 5-5-10-6zM684 2649l10 6 5-5-10-7zM670 2649l10 6 4-6-9-6zM651 2657l9 6 5-7-10-6zM636 2658l10 6 5-7-10-7zM621 2659l10 6 5-7-10-7zM572 2669l10 8 5-8-10-8zM557 2669l10 9 5-9-10-8zM502 2680l10 10 5-8-10-11zM481 2685l10 11 6-8-10-11zM461 2691l10 11 5-8-10-11zM440 2698l10 10 5-8-10-10zM403 2705l10 9 6-9-10-9zM388 2706l10 9 5-10-10-8z"/><path class=db d="M703 2628l10 6 4-4-9-7zM698 2633l10 6 5-5-10-6zM679 2637l10 6 5-5-10-6zM660 2643l10 6 5-6-10-6zM626 2651l10 7 5-8-10-6zM612 2652l9 7 5-8-9-6zM597 2653l10 7 5-8-10-7zM562 2661l10 8 5-8-10-8zM527 2666l10 10 5-8-9-10zM507 2671l10 11 5-8-10-10zM487 2677l10 11 5-8-10-11zM466 2683l10 11 5-9-10-10zM430 2688l10 10 5-8-10-10zM409 2696l10 9 5-9-10-9zM393 2697l10 8 6-9-10-9z"/><path class=de d="M679 2620l10 7 4-5-9-7zM660 2625l10 6 4-6-9-6zM655 2631l10 6 5-6-10-6zM641 2630l9 7 5-6-9-7zM621 2637l10 7 5-7-10-7zM607 2638l10 7 4-8-9-7zM572 2645l10 8 5-8-10-8zM538 2650l10 10 5-8-10-9zM517 2656l10 10 6-8-10-10zM497 2661l10 10 5-7-10-11zM477 2667l10 10 5-8-10-10zM420 2679l10 9 5-8-10-10z"/><path class=d7 d="M737 2642l9 7 5-5-10-6zM732 2647l10 6 4-4-9-7zM713 2650l10 6 4-5-9-6zM709 2656l9 6 5-6-10-6zM694 2655l10 6 5-5-10-6zM675 2662l10 6 4-7-9-6zM660 2663l10 6 5-7-10-6zM582 2677l10 8 5-9-10-7zM567 2678l10 8 5-9-10-8zM532 2684l10 10 5-9-10-9zM512 2690l10 10 5-8-10-10zM434 2706l11 10 5-8-10-10zM413 2714l11 9 5-9-10-9zM398 2715l10 8 5-9-10-9z"/><path class=d5 d="M746 2649l10 6 4-4-9-7zM742 2653l9 6 5-4-10-6zM737 2658l10 6 4-5-9-6zM718 2662l10 6 5-6-10-6zM699 2667l10 6 5-6-10-6zM685 2668l10 6 4-7-10-6zM665 2676l10 6 5-7-10-6zM651 2678l10 5 4-7-9-6zM636 2680l10 5 5-7-10-6zM622 2682l9 6 5-8-10-7zM607 2683l10 7 5-8-10-7zM592 2685l10 7 5-9-10-7zM577 2686l10 8 5-9-10-8zM562 2686l10 9 5-9-10-8zM527 2692l10 10 5-8-10-10zM507 2698l10 11 5-9-10-10zM486 2704l10 11 6-9-11-10zM465 2710l11 10 5-8-10-10zM445 2716l10 9 5-7-10-10zM408 2723l10 9 6-9-11-9z"/><path class=d8 d="M722 2640l10 7 5-5-10-6zM718 2645l9 6 5-4-10-7zM699 2650l10 6 4-6-10-6zM680 2655l9 6 5-6-10-6zM665 2656l10 6 5-7-10-6zM646 2664l10 6 4-7-9-6zM631 2665l10 7 5-8-10-6zM617 2667l9 6 5-8-10-6zM602 2668l10 7 5-8-10-7zM587 2669l10 7 5-8-10-7zM552 2677l10 9 5-8-10-9zM537 2676l10 9 5-8-10-9zM517 2682l10 10 5-8-10-10zM497 2688l10 10 5-8-10-10zM476 2694l10 10 5-8-10-11zM455 2700l10 10 6-8-10-11zM419 2705l10 9 5-8-10-10zM382 2716l10 8 6-9-10-9zM366 2718l11 7 5-9-10-8z"/><path class=d4 d="M756 2655l10 6 4-4-10-6zM751 2659l10 6 5-4-10-6zM733 2662l9 6 5-4-10-6zM728 2668l10 6 4-6-9-6zM714 2667l9 6 5-5-10-6zM709 2673l10 6 4-6-9-6zM695 2674l9 5 5-6-10-6zM680 2675l10 5 5-6-10-6zM557 2695l10 8 5-8-10-9zM542 2694l10 9 5-8-10-10zM522 2700l10 10 5-8-10-10zM502 2706l10 11 5-8-10-11zM424 2723l10 9 5-8-10-10zM387 2733l10 8 5-9-10-8zM371 2735l10 7 6-9-10-8zM355 2737l10 7 6-9-10-8z"/><path class=d2 d="M766 2661l9 6 5-4-10-6zM761 2665l10 6 4-4-9-6zM757 2670l9 6 5-5-10-6zM738 2674l10 5 4-5-10-6zM733 2679l10 6 5-6-10-5zM719 2679l10 6 4-6-10-6zM700 2686l9 5 5-6-10-6zM685 2687l10 6 5-7-10-6zM670 2689l10 5 5-7-10-5zM656 2691l10 6 4-8-9-6zM641 2694l10 5 5-8-10-6zM626 2696l10 6 5-8-10-6zM567 2703l10 8 5-9-10-7zM552 2703l10 8 5-8-10-8zM517 2709l10 9 5-8-10-10zM496 2715l10 10 6-8-10-11zM476 2720l10 10 5-7-10-11zM455 2725l10 10 5-7-10-10zM434 2732l10 9 5-8-10-9zM397 2741l10 8 6-9-11-8zM381 2742l10 8 6-9-10-8zM365 2744l11 7 5-9-10-7zM350 2746l10 7 5-9-10-7z"/><path class=d1 d="M775 2667l10 6 4-4-9-6zM752 2674l10 6 4-4-9-6zM748 2679l9 6 5-5-10-6zM729 2685l9 5 5-5-10-6zM714 2685l10 6 5-6-10-6zM695 2693l10 5 4-7-9-5zM680 2694l10 6 5-7-10-6zM666 2697l10 5 4-8-10-5zM651 2699l10 6 5-8-10-6zM612 2699l10 6 4-9-9-6zM597 2701l10 6 5-8-10-7zM582 2702l10 8 5-9-10-7zM532 2710l10 10 5-9-10-9zM512 2717l10 10 5-9-10-9zM491 2723l10 10 5-8-10-10zM470 2728l10 10 6-8-10-10zM449 2733l10 10 6-8-10-10zM428 2740l10 9 6-8-10-9zM413 2740l10 9 5-9-10-8zM376 2751l10 7 5-8-10-8zM360 2753l10 7 6-9-11-7z"/><path class=d6 d="M727 2651l10 7 5-5-10-6zM723 2656l10 6 4-4-10-7zM704 2661l10 6 4-5-9-6zM689 2661l10 6 5-6-10-6zM670 2669l10 6 5-7-10-6zM656 2670l9 6 5-7-10-6zM641 2672l10 6 5-8-10-6zM626 2673l10 7 5-8-10-7zM612 2675l10 7 4-9-9-6zM597 2676l10 7 5-8-10-7zM547 2685l10 10 5-9-10-9zM491 2696l11 10 5-8-10-10zM471 2702l10 10 5-8-10-10zM450 2708l10 10 5-8-10-10zM429 2714l10 10 6-8-11-10zM392 2724l10 8 6-9-10-8zM377 2725l10 8 5-9-10-8zM361 2727l10 8 6-10-11-7z"/><path class=cz d="M785 2673l10 6 4-4-10-6zM780 2677l10 6 5-4-10-6zM776 2682l10 6 4-5-10-6zM757 2685l10 6 5-5-10-6zM753 2690l10 6 4-5-10-6zM738 2690l10 6 5-6-10-5zM734 2696l10 5 4-5-10-6zM719 2697l10 5 5-6-10-5zM705 2698l10 5 4-6-10-6zM661 2705l10 5 5-8-10-5zM646 2707l10 6 5-8-10-6zM631 2711l10 5 5-9-10-5zM542 2720l10 8 5-8-10-9zM506 2725l10 10 6-8-10-10zM486 2730l10 10 5-7-10-10zM423 2749l10 8 5-8-10-9zM386 2758l10 8 5-9-10-7zM370 2760l10 7 6-9-10-7zM354 2763l10 6 6-9-10-7zM338 2766l11 6 5-9-10-7z"/><path class=cy d="M795 2679l9 6 5-3-10-7zM772 2686l9 6 5-4-10-6zM767 2691l10 6 4-5-9-6zM748 2696l10 5 5-5-10-6zM729 2702l10 5 5-6-10-5zM715 2703l9 5 5-6-10-5zM700 2705l10 5 5-7-10-5zM685 2707l10 5 5-7-10-5zM671 2710l10 5 4-8-9-5zM656 2713l10 5 5-8-10-5zM617 2714l10 5 4-8-9-6zM602 2716l10 6 5-8-10-7zM587 2718l10 7 5-9-10-6zM572 2719l10 8 5-9-10-7zM557 2720l10 8 5-9-10-8zM522 2727l10 9 5-8-10-10zM501 2733l10 9 5-7-10-10zM480 2738l11 9 5-7-10-10zM459 2743l11 9 5-7-10-10zM438 2749l11 9 5-8-10-9zM417 2757l10 8 6-8-10-8zM401 2757l11 8 5-8-10-8z"/><path class=d0 d="M771 2671l9 6 5-4-10-6zM766 2676l10 6 4-5-9-6zM762 2680l10 6 4-4-10-6zM743 2685l10 5 4-5-9-6zM724 2691l10 5 4-6-9-5zM709 2691l10 6 5-6-10-6zM690 2700l10 5 5-7-10-5zM676 2702l9 5 5-7-10-6zM636 2702l10 5 5-8-10-5zM622 2705l9 6 5-9-10-6zM607 2707l10 7 5-9-10-6zM592 2710l10 6 5-9-10-6zM577 2711l10 7 5-8-10-8zM562 2711l10 8 5-8-10-8zM547 2711l10 9 5-9-10-8zM527 2718l10 10 5-8-10-10zM465 2735l10 10 5-7-10-10zM444 2741l10 9 5-7-10-10zM407 2749l10 8 6-8-10-9zM391 2750l10 7 6-8-10-8zM344 2756l10 7 6-10-10-7z"/><path class=d3 d="M747 2664l10 6 4-5-10-6zM742 2668l10 6 5-4-10-6zM723 2673l10 6 5-5-10-6zM704 2679l10 6 5-6-10-6zM690 2680l10 6 4-7-9-5zM675 2682l10 5 5-7-10-5zM661 2683l9 6 5-7-10-6zM646 2685l10 6 5-8-10-5zM631 2688l10 6 5-9-10-5zM617 2690l9 6 5-8-9-6zM602 2692l10 7 5-9-10-7zM587 2694l10 7 5-9-10-7zM572 2695l10 7 5-8-10-8zM537 2702l10 9 5-8-10-9zM481 2712l10 11 5-8-10-11zM460 2718l10 10 6-8-11-10zM439 2724l10 9 6-8-10-9zM418 2732l10 8 6-8-10-9zM402 2732l11 8 5-8-10-9z"/><path class=cw d="M804 2685l10 6 4-3-9-6zM800 2689l10 6 4-4-10-6zM796 2693l9 6 5-4-10-6zM777 2697l10 5 4-4-10-6zM772 2702l10 5 5-5-10-5zM753 2707l10 5 5-5-10-6zM734 2713l10 6 5-6-10-6zM720 2715l10 5 4-7-10-5zM705 2717l10 5 5-7-10-5zM691 2719l9 5 5-7-10-5zM676 2722l10 5 5-8-10-4zM651 2721l10 5 5-8-10-5zM636 2724l10 5 5-8-10-5zM597 2725l10 6 5-9-10-6zM582 2727l10 6 5-8-10-7zM567 2728l10 7 5-8-10-8zM532 2736l10 9 5-8-10-9zM491 2747l10 10 5-7-10-10zM470 2752l10 9 5-7-10-9zM449 2758l10 9 5-8-10-9zM427 2765l11 8 5-7-10-9zM412 2765l10 8 5-8-10-8zM375 2776l10 7 5-9-10-7zM359 2779l10 6 6-9-11-7z"/><path class=cv d="M814 2691l10 7 4-4-10-6zM791 2698l10 6 4-5-9-6zM787 2702l10 6 4-4-10-6zM782 2707l10 6 5-5-10-6zM768 2707l10 5 4-5-10-5zM763 2712l10 6 5-6-10-5zM749 2713l10 5 4-6-10-5zM744 2719l10 5 5-6-10-5zM730 2720l10 5 4-6-10-6zM715 2722l10 4 5-6-10-5zM700 2724l10 4 5-6-10-5zM686 2727l10 4 4-7-9-5zM661 2726l10 4 5-8-10-4zM646 2729l10 5 5-8-10-5zM622 2728l10 5 4-9-9-5zM607 2731l10 5 5-8-10-6zM592 2733l10 6 5-8-10-6zM577 2735l10 7 5-9-10-6zM562 2736l10 8 5-9-10-7zM547 2737l10 8 5-9-10-8zM511 2742l10 10 6-8-11-9zM464 2759l10 9 6-7-10-9zM443 2766l10 8 6-7-10-9zM406 2773l10 8 6-8-10-8zM390 2774l10 8 6-9-10-7zM343 2781l10 7 6-9-10-7zM327 2785l10 6 6-10-10-6z"/><path class=cx d="M790 2683l10 6 4-4-9-6zM786 2688l10 5 4-4-10-6zM781 2692l10 6 5-5-10-5zM763 2696l9 6 5-5-10-6zM758 2701l10 6 4-5-9-6zM744 2701l9 6 5-6-10-5zM739 2707l10 6 4-6-9-6zM724 2708l10 5 5-6-10-5zM710 2710l10 5 4-7-9-5zM695 2712l10 5 5-7-10-5zM681 2715l10 4 4-7-10-5zM666 2718l10 4 5-7-10-5zM641 2716l10 5 5-8-10-6zM627 2719l9 5 5-8-10-5zM612 2722l10 6 5-9-10-5zM552 2728l10 8 5-8-10-8zM537 2728l10 9 5-9-10-8zM516 2735l11 9 5-8-10-9zM496 2740l10 10 5-8-10-9zM475 2745l10 9 6-7-11-9zM454 2750l10 9 6-7-11-9zM433 2757l10 9 6-8-11-9zM396 2766l10 7 6-8-11-8zM380 2767l10 7 6-8-10-8zM364 2769l11 7 5-9-10-7zM349 2772l10 7 5-10-10-6zM333 2775l10 6 6-9-11-6z"/><path class=ct d="M824 2698l10 6 4-4-10-6zM820 2701l9 6 5-3-10-6zM815 2705l10 6 4-4-9-6zM811 2709l10 6 4-4-10-6zM792 2713l10 5 4-4-9-6zM788 2718l10 5 4-5-10-5zM769 2723l10 5 4-5-10-5zM750 2730l9 4 5-5-10-5zM735 2731l10 5 5-6-10-5zM720 2733l10 5 5-7-10-5zM706 2736l10 4 4-7-10-5zM691 2739l10 4 5-7-10-5zM666 2738l10 4 5-8-10-4zM641 2738l10 4 5-8-10-5zM627 2741l10 5 4-8-9-5zM602 2739l10 6 5-9-10-5zM587 2742l10 6 5-9-10-6zM572 2744l10 6 5-8-10-7zM557 2745l10 7 5-8-10-8zM521 2752l10 8 6-7-10-9zM501 2757l10 9 5-7-10-9zM480 2761l10 9 5-7-10-9zM453 2774l10 8 6-7-10-8zM416 2781l10 7 6-8-10-7zM321 2794l10 6 6-9-10-6z"/><path class=cs d="M834 2704l9 6 5-4-10-6zM806 2714l10 5 5-4-10-6zM802 2718l10 5 4-4-10-5zM798 2723l9 5 5-5-10-5zM783 2723l10 5 5-5-10-5zM779 2728l10 5 4-5-10-5zM764 2729l10 5 5-6-10-5zM759 2734l10 5 5-5-10-5zM745 2736l10 4 4-6-9-4zM730 2738l10 4 5-6-10-5zM716 2740l10 4 4-6-10-5zM701 2743l10 4 5-7-10-4zM676 2742l10 4 5-7-10-5zM651 2742l10 4 5-8-10-4zM661 2746l10 4 5-8-10-4zM637 2746l10 4 4-8-10-4zM612 2745l10 5 5-9-10-5zM597 2748l10 5 5-8-10-6zM552 2753l10 7 5-8-10-7zM537 2753l10 8 5-8-10-8zM516 2759l10 8 5-7-10-8zM495 2763l10 9 6-6-10-9zM474 2768l11 9 5-7-10-9zM469 2775l10 8 6-6-11-9zM448 2781l10 8 5-7-10-8zM432 2780l10 8 6-7-10-8zM411 2789l10 6 5-7-10-7zM395 2790l10 6 6-7-11-7zM379 2792l10 6 6-8-10-7zM363 2794l10 6 6-8-10-7zM347 2797l10 6 6-9-10-6zM331 2800l11 6 5-9-10-6zM315 2803l11 6 5-9-10-6z"/><path class=cu d="M810 2695l10 6 4-3-10-7zM805 2699l10 6 5-4-10-6zM801 2704l10 5 4-4-10-6zM797 2708l9 6 5-5-10-5zM778 2712l10 6 4-5-10-6zM773 2718l10 5 5-5-10-6zM759 2718l10 5 4-5-10-6zM754 2724l10 5 5-6-10-5zM740 2725l10 5 4-6-10-5zM725 2726l10 5 5-6-10-5zM710 2728l10 5 5-7-10-4zM696 2731l10 5 4-8-10-4zM671 2730l10 4 5-7-10-5zM681 2734l10 5 5-8-10-4zM656 2734l10 4 5-8-10-4zM632 2733l9 5 5-9-10-5zM617 2736l10 5 5-8-10-5zM542 2745l10 8 5-8-10-8zM527 2744l10 9 5-8-10-9zM506 2750l10 9 5-7-10-10zM485 2754l10 9 6-6-10-10zM459 2767l10 8 5-7-10-9zM438 2773l10 8 5-7-10-8zM422 2773l10 7 6-7-11-8zM400 2782l11 7 5-8-10-8zM385 2783l10 7 5-8-10-8zM369 2785l10 7 6-9-10-7zM353 2788l10 6 6-9-10-6zM337 2791l10 6 6-9-10-7z"/><path class=cq d="M843 2710l10 6 4-4-9-6zM839 2713l10 6 4-3-10-6zM835 2717l10 6 4-4-10-6zM830 2721l10 6 5-4-10-6zM826 2725l10 5 4-3-10-6zM822 2728l10 5 4-3-10-5zM817 2733l10 4 5-4-10-5zM803 2733l10 4 4-4-10-5zM798 2738l10 4 5-5-10-4zM784 2738l10 5 4-5-9-5zM779 2744l10 5 5-6-10-5zM765 2745l10 5 4-6-10-5zM750 2747l10 4 5-6-10-5zM736 2749l10 4 4-6-10-5zM721 2751l10 4 5-6-10-5zM706 2754l10 4 5-7-10-4zM681 2754l10 4 5-8-10-4zM656 2754l10 4 5-8-10-4zM632 2754l10 4 5-8-10-4zM666 2758l10 3 5-7-10-4zM642 2758l10 4 4-8-9-4zM617 2758l10 4 5-8-10-4zM592 2756l10 6 5-9-10-5zM577 2759l10 6 5-9-10-6zM562 2760l10 7 5-8-10-7zM547 2761l10 7 5-8-10-7zM526 2767l10 8 5-7-10-8zM505 2772l11 8 5-6-10-8zM485 2777l10 8 5-7-10-8zM458 2789l10 7 6-6-11-8zM437 2795l10 7 5-7-10-7zM421 2795l10 7 6-7-11-7zM384 2806l10 6 5-8-10-6zM368 2809l10 6 6-9-11-6zM352 2811l10 6 6-8-11-6zM310 2812l10 6 6-9-11-6z"/><path class=co d="M853 2716l10 6 4-4-10-6zM849 2719l10 6 4-3-10-6zM845 2723l9 6 5-4-10-6zM840 2727l10 6 4-4-9-6zM836 2730l10 5 4-2-10-6zM832 2733l10 5 4-3-10-5zM837 2741l10 4 5-2-10-5zM833 2745l10 3 4-3-10-4zM818 2746l11 3 4-4-10-4zM829 2749l10 2 4-3-10-3zM814 2751l10 3 5-5-11-3zM824 2754l10 1 5-4-10-2zM799 2753l11 3 4-5-10-4zM834 2755l10 2 5-4-10-2zM810 2756l10 3 4-5-10-3zM785 2754l10 4 4-5-10-4zM844 2757l10 1 5-2-10-3zM770 2756l10 4 5-6-10-4zM840 2761l10 0 4-3-10-1zM756 2757l10 5 4-6-10-5zM850 2761l10 0 5-1-11-2zM741 2759l10 5 5-7-10-4zM860 2761l11 3 4 0-10-4zM751 2764l10 4 5-6-10-5zM726 2762l10 4 5-7-10-4zM846 2765l10 0 4-4-10 0zM736 2766l10 4 5-6-10-5zM856 2765l10 0 5-1-11-3zM711 2765l10 4 5-7-10-4zM686 2765l10 3 5-7-10-3zM662 2766l10 3 4-8-10-3zM637 2766l10 4 5-8-10-4zM612 2766l10 5 5-9-10-4zM866 2765l11 4 4 0-10-5zM696 2768l11 4 4-7-10-4zM841 2771l11-2 4-4-10 0zM672 2769l10 3 4-7-10-4zM597 2770l10 4 5-8-10-4zM572 2767l10 6 5-8-10-6zM872 2771l10 5 5 0-10-7zM847 2775l11-2 4-5-10 1zM536 2775l10 7 5-7-10-7zM868 2774l10 4 4-2-10-5zM853 2780l10-1 5-5-10-1zM863 2779l11 2 4-3-10-4zM516 2780l10 8 5-6-10-8zM848 2788l11-3 4-6-10 1zM859 2785l10 1 5-5-11-2zM869 2786l11 4 4-3-10-6zM495 2785l10 8 5-7-10-8zM489 2791l10 8 6-6-10-8zM468 2796l10 7 6-6-10-7zM447 2802l10 7 6-7-11-7zM425 2809l11 7 5-7-10-7zM410 2811l10 6 5-8-10-6zM394 2812l10 6 6-7-11-7zM378 2815l10 5 6-8-10-6zM362 2817l10 6 6-8-10-6zM346 2820l10 5 6-8-10-6zM330 2823l10 6 6-9-10-6z"/><path class=cr d="M829 2707l10 6 4-3-9-6zM825 2711l10 6 4-4-10-6zM821 2715l9 6 5-4-10-6zM816 2719l10 6 4-4-9-6zM812 2723l10 5 4-3-10-6zM807 2728l10 5 5-5-10-5zM793 2728l10 5 4-5-9-5zM789 2733l9 5 5-5-10-5zM774 2734l10 4 5-5-10-5zM769 2739l10 5 5-6-10-4zM755 2740l10 5 4-6-10-5zM740 2742l10 5 5-7-10-4zM726 2744l10 5 4-7-10-4zM711 2747l10 4 5-7-10-4zM686 2746l10 4 5-7-10-4zM696 2750l10 4 5-7-10-4zM671 2750l10 4 5-8-10-4zM647 2750l9 4 5-8-10-4zM622 2750l10 4 5-8-10-5zM607 2753l10 5 5-8-10-5zM582 2750l10 6 5-8-10-6zM567 2752l10 7 5-9-10-6zM531 2760l10 8 6-7-10-8zM511 2766l10 8 5-7-10-8zM490 2770l10 8 5-6-10-9zM463 2782l11 8 5-7-10-8zM442 2788l10 7 6-6-10-8zM426 2788l11 7 5-7-10-8zM405 2796l10 7 6-8-10-6zM389 2798l10 6 6-8-10-6zM373 2800l11 6 5-8-10-6zM357 2803l11 6 5-9-10-6zM342 2806l10 5 5-8-10-6zM326 2809l10 5 6-8-11-6z"/><path class=cn d="M863 2722l10 6 4-3-10-7zM859 2725l10 6 4-3-10-6zM854 2729l10 6 5-4-10-6zM850 2733l10 5 4-3-10-6zM846 2735l10 6 4-3-10-5zM842 2738l10 5 4-2-10-6zM847 2745l10 4 5-1-10-5zM843 2748l10 3 4-2-10-4zM839 2751l10 2 4-2-10-3zM849 2753l10 3 4-1-10-4zM859 2756l10 3 4 0-10-4zM820 2759l10 1 4-5-10-1zM795 2758l10 4 5-6-11-3zM854 2758l11 2 4-1-10-3zM830 2760l10 1 4-4-10-2zM865 2760l10 4 4 0-10-5zM805 2762l10 3 5-6-10-3zM780 2760l10 4 5-6-10-4zM815 2765l10 1 5-6-10-1zM790 2764l10 4 5-6-10-4zM766 2762l10 4 4-6-10-4zM825 2766l10 0 5-5-10-1zM776 2766l10 4 4-6-10-4zM835 2766l11-1 4-4-10 0zM871 2764l10 5 4 1-10-6zM761 2768l10 4 5-6-10-4zM831 2773l10-2 5-6-11 1zM746 2770l10 4 5-6-10-4zM721 2769l10 3 5-6-10-4zM647 2770l10 3 5-7-10-4zM622 2771l10 3 5-8-10-4zM731 2772l11 4 4-6-10-4zM707 2772l10 4 4-7-10-4zM682 2772l10 4 4-8-10-3zM657 2773l10 4 5-8-10-3zM632 2774l10 4 5-8-10-4zM607 2774l10 5 5-8-10-5zM582 2773l10 5 5-8-10-5zM692 2776l10 3 5-7-11-4zM837 2778l10-3 5-6-11 2zM567 2775l10 5 5-7-10-6zM551 2775l10 7 6-7-10-7zM843 2783l10-3 5-7-11 2zM878 2778l10 8 5-1-11-9zM531 2782l10 7 5-7-10-7zM874 2781l10 6 4-1-10-8zM510 2786l10 8 6-6-10-8zM854 2793l11-1 4-6-10-1zM865 2792l10 2 5-4-11-4zM860 2798l11 1 4-5-10-2zM484 2797l10 7 5-5-10-8zM463 2802l10 7 5-6-10-7zM441 2809l10 6 6-6-10-7zM420 2817l10 6 6-7-11-7zM404 2818l10 6 6-7-10-6zM388 2820l10 6 6-8-10-6zM372 2823l10 5 6-8-10-5zM356 2825l10 6 6-8-10-6zM314 2827l10 5 6-9-10-5zM340 2829l10 5 6-9-10-5zM298 2830l10 5 6-8-10-6z"/><path class=cl d="M873 2728l10 6 4-3-10-6zM869 2731l9 7 5-4-10-6zM864 2735l10 6 4-3-9-7zM860 2738l10 6 4-3-10-6zM862 2748l9 5 5-1-10-5zM863 2755l10 4 4 0-10-5zM869 2759l10 5 4 1-10-6zM875 2764l10 6 4 1-10-7zM881 2769l10 8 4 2-10-9zM796 2774l10 3 5-6-11-3zM806 2777l10 2 5-7-10-1zM781 2776l10 4 5-6-10-4zM816 2779l10 0 5-6-10-1zM791 2780l10 3 5-6-10-3zM766 2778l11 4 4-6-10-4zM752 2780l10 4 4-6-10-4zM627 2782l10 4 5-8-10-4zM822 2787l10-1 5-8-11 1zM602 2782l10 5 5-8-10-5zM737 2783l10 3 5-6-10-4zM712 2782l10 4 5-7-10-3zM687 2783l10 3 5-7-10-3zM662 2784l10 3 5-7-10-3zM637 2786l10 3 5-8-10-3zM612 2787l10 3 5-8-10-3zM587 2785l10 5 5-8-10-4zM722 2786l10 3 5-6-10-4zM697 2786l10 3 5-7-10-3zM672 2787l10 3 5-7-10-3zM571 2788l11 5 5-8-10-5zM828 2793l10-2 5-8-11 3zM556 2789l10 5 5-6-10-6zM541 2789l10 6 5-6-10-7zM884 2787l10 10 5-1-11-10zM833 2799l11-3 4-8-10 3zM536 2795l10 6 5-6-10-6zM520 2794l10 7 6-6-10-7zM839 2804l11-4 4-7-10 3zM515 2800l10 6 5-5-10-7zM845 2808l11-3 4-7-10 2zM494 2804l10 7 6-6-11-6zM877 2807l10 7 5-2-11-8zM473 2809l10 7 6-6-11-7zM872 2812l11 5 4-3-10-7zM847 2820l10-3 5-7-11 2zM467 2815l10 7 6-6-10-7zM857 2817l11 0 4-5-10-2zM868 2817l11 3 4-3-11-5zM853 2824l10-1 5-6-11 0zM446 2822l10 5 6-6-11-6zM863 2823l11 2 5-5-11-3zM430 2823l10 5 6-6-10-6zM424 2829l11 6 5-7-10-5zM408 2831l11 5 5-7-10-5zM393 2833l10 5 5-7-10-5zM377 2836l10 5 6-8-11-5zM334 2837l10 5 6-8-10-5zM361 2839l10 5 6-8-11-5zM318 2841l10 5 6-9-10-5zM302 2844l10 5 6-8-10-6z"/><path class=ck d="M883 2734l9 6 4-3-9-6zM878 2738l10 6 4-4-9-6zM874 2741l10 6 4-3-10-6zM870 2744l10 6 4-3-10-6zM866 2747l10 5 4-2-10-6zM867 2754l10 5 4 0-10-6zM873 2759l10 6 4 1-10-7zM879 2764l10 7 4 1-10-7zM887 2776l10 10 4 1-10-10zM801 2783l11 3 4-7-10-2zM777 2782l10 4 4-6-10-4zM812 2786l10 1 4-8-10 0zM787 2786l10 3 4-6-10-3zM762 2784l10 4 5-6-11-4zM772 2788l10 4 5-6-10-4zM747 2786l10 4 5-6-10-4zM647 2789l10 3 5-8-10-3zM757 2790l10 4 5-6-10-4zM622 2790l10 3 5-7-10-4zM817 2794l11-1 4-7-10 1zM597 2790l10 4 5-7-10-5zM732 2789l10 4 5-7-10-3zM707 2789l10 3 5-6-10-4zM682 2790l10 3 5-7-10-3zM888 2786l11 10 4 1-10-12zM657 2792l10 3 5-8-10-3zM632 2793l10 3 5-7-10-3zM582 2793l10 4 5-7-10-5zM742 2793l10 3 5-6-10-4zM717 2792l10 4 5-7-10-3zM692 2793l10 3 5-7-10-3zM667 2795l10 3 5-8-10-3zM566 2794l10 5 6-6-11-5zM551 2795l10 6 5-7-10-5zM829 2807l10-3 5-8-11 3zM530 2801l11 6 5-6-10-6zM886 2801l10 10 4-1-10-11zM835 2812l10-4 5-8-11 4zM510 2805l10 7 5-6-10-6zM881 2804l11 8 4-1-10-10zM504 2811l10 6 6-5-10-7zM841 2816l10-4 5-7-11 3zM489 2810l10 7 5-6-10-7zM483 2816l10 6 6-5-10-7zM462 2821l10 6 5-5-10-7zM879 2820l10 8 4-2-10-9zM456 2827l10 6 6-6-10-6zM874 2825l11 6 4-3-10-8zM848 2832l11-3 4-6-10 1zM440 2828l10 6 6-7-10-5zM859 2829l11 1 4-5-11-2zM870 2830l10 4 5-3-11-6zM419 2836l10 5 6-6-11-6zM854 2837l11-2 5-5-11-1zM403 2838l10 5 6-7-11-5zM865 2835l11 3 4-4-10-4zM387 2841l10 5 6-8-10-5zM344 2842l11 5 6-8-11-5zM371 2844l10 5 6-8-10-5zM328 2846l11 4 5-8-10-5zM286 2847l10 5 6-8-10-5zM312 2849l10 5 6-8-10-5zM859 2940l12 4 5-12-12-4z"/><path class=ci d="M892 2740l10 6 4-3-10-6zM888 2744l10 6 4-4-10-6zM884 2747l10 6 4-3-10-6zM880 2750l10 6 4-3-10-6zM881 2759l10 6 5-1-10-6zM889 2771l10 9 4 1-10-9zM891 2777l10 10 4 3-10-11zM893 2785l10 12 4 6-10-17zM792 2796l11 3 4-7-10-3zM803 2799l10 2 4-7-10-2zM777 2798l11 4 4-6-10-4zM813 2801l10 0 5-8-11 1zM788 2802l10 3 5-6-11-3zM763 2800l10 3 4-5-10-4zM627 2801l10 3 5-8-10-3zM602 2801l10 4 5-7-10-4zM773 2803l10 5 5-6-11-4zM662 2802l10 3 5-7-10-3zM637 2804l10 3 5-8-10-3zM612 2805l10 3 5-7-10-3zM748 2802l10 4 5-6-11-4zM586 2804l10 4 6-7-10-4zM722 2802l11 3 4-6-10-3zM697 2803l10 3 5-7-10-3zM672 2805l10 2 5-7-10-2zM647 2807l10 2 5-7-10-3zM758 2806l10 3 5-6-10-3zM819 2808l10-1 4-8-10 2zM571 2806l10 4 5-6-10-5zM733 2805l10 4 5-7-11-3zM707 2806l11 3 4-7-10-3zM682 2807l10 3 5-7-10-3zM556 2806l10 5 5-5-10-5zM718 2809l10 3 5-7-11-3zM824 2814l11-2 4-8-10 3zM535 2812l10 6 6-6-10-5zM514 2817l10 6 6-5-10-6zM887 2814l11 11 4-1-10-12zM509 2823l10 5 5-5-10-6zM831 2832l11-4 5-8-11 4zM488 2827l10 6 5-5-10-6zM837 2836l11-4 5-8-11 4zM482 2833l10 5 6-5-10-6zM466 2833l11 5 5-5-10-6zM885 2831l10 10 4-2-10-11zM461 2839l10 5 6-6-11-5zM880 2834l11 9 4-2-10-10zM445 2840l10 5 6-6-11-5zM439 2846l10 5 6-6-10-5zM423 2848l10 5 6-7-10-5zM407 2850l10 5 6-7-10-5zM845 2852l11-3 4-7-10 2zM365 2852l10 4 6-7-10-5zM391 2853l10 4 6-7-10-4zM349 2855l10 5 6-8-10-5zM375 2856l10 4 6-7-10-4zM306 2857l11 5 5-8-10-5zM333 2858l10 5 6-8-10-5zM290 2860l10 5 6-8-10-5zM274 2863l10 5 6-8-10-5zM851 2856l11-2 4-6-10 1zM873 2856l10 6 5-3-11-7zM857 2861l11 0 5-5-11-2zM868 2861l11 4 4-3-10-6zM863 2867l11 2 5-4-11-4z"/><path class=ch d="M902 2746l10 6 4-3-10-6zM898 2750l10 6 4-4-10-6zM894 2753l10 6 4-3-10-6zM890 2756l10 6 4-3-10-6zM886 2758l10 6 4-2-10-6zM887 2766l10 7 4-1-10-7zM798 2805l10 3 5-7-10-2zM894 2797l10 13 4 9-9-23zM808 2808l11 0 4-7-10 0zM783 2808l10 3 5-6-10-3zM622 2808l10 3 5-7-10-3zM596 2808l11 4 5-7-10-4zM768 2809l10 4 5-5-10-5zM657 2809l10 3 5-7-10-3zM632 2811l10 3 5-7-10-3zM607 2812l10 3 5-7-10-3zM581 2810l10 4 5-6-10-4zM743 2809l10 3 5-6-10-4zM692 2810l11 3 4-7-10-3zM667 2812l10 2 5-7-10-2zM642 2814l10 2 5-7-10-2zM753 2812l10 3 5-6-10-3zM566 2811l10 5 5-6-10-4zM814 2815l10-1 5-7-10 1zM728 2812l10 3 5-6-10-4zM703 2813l10 3 5-7-11-3zM677 2814l10 3 5-7-10-3zM551 2812l10 5 5-6-10-5zM738 2815l10 3 5-6-10-3zM713 2816l10 3 5-7-10-3zM820 2822l10-2 5-8-11 2zM545 2818l10 5 6-6-10-5zM892 2812l10 12 4 2-10-15zM530 2818l10 5 5-5-10-6zM826 2827l10-3 5-8-11 4zM524 2823l11 5 5-5-10-5zM519 2828l10 5 6-5-11-5zM503 2828l11 5 5-5-10-5zM889 2828l10 11 5-1-11-12zM498 2833l10 5 6-5-11-5zM492 2838l11 5 5-5-10-5zM477 2838l10 5 5-5-10-5zM833 2844l10-4 5-8-11 4zM471 2844l10 5 6-6-10-5zM455 2845l10 5 6-6-10-5zM839 2848l11-4 4-7-11 3zM449 2851l11 4 5-5-10-5zM433 2853l11 4 5-6-10-5zM882 2848l10 9 5-2-11-10zM417 2855l11 4 5-6-10-5zM401 2857l11 5 5-7-10-5zM840 2860l11-4 5-7-11 3zM359 2860l10 4 6-8-10-4zM385 2860l11 5 5-8-10-4zM877 2852l11 7 4-2-10-9zM317 2862l10 4 6-8-11-4zM343 2863l10 4 6-7-10-5zM369 2864l11 4 5-8-10-4zM300 2865l11 4 6-7-11-5zM327 2866l10 5 6-8-10-5zM284 2868l10 5 6-8-10-5zM268 2871l10 5 6-8-10-5zM846 2863l11-2 5-7-11 2zM853 2868l10-1 5-6-11 0zM874 2869l11 7 5-3-11-8zM848 2876l11-2 4-7-10 1zM859 2874l11 1 4-6-11-2zM870 2875l10 4 5-3-11-7zM836 2951l12-7 5-13-12 8zM842 2960l12-10 5-10-11 4zM854 2950l11 14 6-20-12-4zM865 2964l12-4 5-16-11 0zM877 2960l12-5 5-1-12-10z"/><path class=cf d="M912 2752l10 6 4-3-10-6zM908 2756l10 6 4-4-10-6zM904 2759l10 8 4-5-10-6zM900 2762l10 8 4-3-10-8zM897 2773l10 10 4 2-10-13zM799 2821l10 1 5-7-10-1zM774 2820l10 4 5-6-11-5zM612 2821l10 3 5-6-10-3zM784 2824l10 3 5-6-10-3zM647 2823l10 2 5-6-10-3zM622 2824l10 2 5-6-10-2zM596 2824l10 3 6-6-11-3zM794 2827l11 2 4-7-10-1zM769 2826l10 4 5-6-10-4zM657 2825l10 3 5-7-10-2zM632 2826l10 3 5-6-10-3zM606 2827l11 3 5-6-10-3zM581 2826l10 3 5-5-10-4zM744 2824l10 4 5-6-11-4zM805 2829l10 0 5-7-11 0zM718 2825l10 3 5-7-10-2zM693 2826l10 3 5-7-10-2zM667 2828l11 2 5-6-11-3zM642 2829l10 2 5-6-10-2zM754 2828l10 4 5-6-10-4zM566 2827l10 4 5-5-10-4zM728 2828l11 3 5-7-11-3zM703 2829l10 2 5-6-10-3zM678 2830l10 3 5-7-10-2zM550 2828l10 5 6-6-11-4zM739 2831l10 3 5-6-10-4zM713 2831l11 3 4-6-10-3zM560 2833l10 4 6-6-10-4zM810 2836l11-1 5-8-11 2zM545 2833l10 5 5-5-10-5zM539 2838l11 5 5-5-10-5zM816 2842l11-2 4-8-10 3zM524 2838l10 5 5-5-10-5zM518 2843l11 5 5-5-10-5zM822 2848l11-4 4-8-10 4zM513 2848l10 4 6-4-11-5zM891 2843l10 11 4 0-10-13zM497 2848l10 5 6-5-10-5zM491 2853l11 5 5-5-10-5zM476 2854l10 5 5-6-10-4zM486 2859l10 4 6-5-11-5zM470 2860l10 4 6-5-10-5zM829 2864l11-4 5-8-11 4zM888 2859l10 11 5-1-11-12zM448 2867l11 4 5-6-10-4zM432 2869l11 4 5-6-10-4zM416 2872l10 4 6-7-10-3zM347 2875l10 3 6-7-10-4zM831 2875l11-4 4-8-11 5zM304 2877l11 4 6-7-10-5zM400 2875l10 4 6-7-10-4zM262 2879l10 4 6-7-10-5zM331 2878l10 4 6-7-10-4zM288 2880l10 5 6-8-10-4zM357 2878l11 4 6-7-11-4zM315 2881l10 4 6-7-10-4zM272 2883l10 5 6-8-10-4zM837 2880l11-4 5-8-11 3zM843 2885l11-3 5-8-11 2zM880 2879l11 9 5-3-11-9zM876 2885l11 6 4-3-11-9zM849 2893l11-2 5-9-11 0zM860 2891l11 1 5-7-11-3zM871 2892l11 5 5-6-11-6zM631 2921l11-4 5-11-10 10zM669 2920l11 3 5-8-11-5zM680 2923l11 5 5-12-11-1zM691 2928l11-7 5-3-11-2zM637 2922l11 10 5-10-11-5zM702 2921l11 9 5-9-11-3zM697 2936l11-8 5 2-11-9zM768 2942l12-6 5-1-11-4zM780 2936l11 11 5-14-11 2zM752 2936l11 5 5 1-11-5zM813 2944l12 5 5-14-12 8zM831 2961l11-1 6-16-12 7zM883 2978l12-5 5-3-11-15z"/><path class=ce d="M922 2758l10 7 4-3-10-7zM918 2762l10 7 4-4-10-7zM914 2767l10 8 4-6-10-7zM901 2772l10 13 4 0-10-14zM899 2780l10 17 4 7-10-23zM779 2830l11 3 4-6-10-3zM617 2830l10 2 5-6-10-2zM591 2829l10 4 5-6-10-3zM790 2833l10 3 5-7-11-2zM764 2832l11 4 4-6-10-4zM652 2831l10 3 5-6-10-3zM627 2832l10 3 5-6-10-3zM601 2833l10 3 6-6-11-3zM576 2831l10 4 5-6-10-3zM800 2836l10 0 5-7-10 0zM688 2833l10 2 5-6-10-3zM662 2834l11 2 5-6-11-2zM637 2835l10 2 5-6-10-2zM611 2836l11 2 5-6-10-2zM749 2834l10 4 5-6-10-4zM586 2835l10 3 5-5-10-4zM724 2834l10 3 5-6-11-3zM698 2835l10 2 5-6-10-2zM673 2836l10 3 5-6-10-3zM647 2837l10 3 5-6-10-3zM570 2837l11 3 5-5-10-4zM734 2837l10 3 5-6-10-3zM708 2837l11 3 5-6-11-3zM683 2839l10 2 5-6-10-2zM555 2838l10 4 5-5-10-4zM806 2843l10-1 5-7-11 1zM719 2840l10 3 5-6-10-3zM693 2841l10 2 5-6-10-2zM565 2842l10 4 6-6-11-3zM550 2843l10 4 5-5-10-4zM534 2843l10 4 6-4-11-5zM812 2850l10-2 5-8-11 2zM544 2847l10 4 6-4-10-4zM895 2841l10 13 4 11-10-26zM529 2848l10 4 5-5-10-4zM817 2855l11-3 5-8-11 4zM523 2852l10 5 6-5-10-4zM507 2853l11 4 5-5-10-4zM518 2857l10 4 5-4-10-5zM823 2860l11-4 5-8-11 4zM502 2858l10 4 6-5-11-4zM892 2857l11 12 4 3-10-17zM496 2863l10 4 6-5-10-4zM825 2871l10-3 5-8-11 4zM459 2871l10 4 6-6-11-4zM443 2873l10 4 6-6-11-4zM426 2876l11 3 6-6-11-4zM453 2877l10 3 6-5-10-4zM384 2879l10 3 6-7-10-3zM410 2879l11 3 5-6-10-4zM341 2882l11 3 5-7-10-3zM890 2873l10 11 5-1-11-12zM298 2885l11 4 6-8-11-4zM255 2887l11 4 6-8-10-4zM394 2882l10 3 6-6-10-4zM325 2885l10 4 6-7-10-4zM282 2888l10 4 6-7-10-5zM378 2885l10 4 6-7-10-3zM309 2889l10 4 6-8-10-4zM266 2891l10 4 6-7-10-5zM885 2876l11 9 4-1-10-11zM832 2889l11-4 5-9-11 4zM838 2896l11-3 5-11-11 3zM855 2902l11 0 5-10-11-1zM866 2902l11 3 5-8-11-5zM626 2927l11-5 5-5-11 4zM664 2930l11 2 5-9-11-3zM686 2935l11 1 5-15-11 7zM708 2928l11 16 5-19-11 5zM719 2944l11-3 5-11-11-5zM691 2941l11 2 6-15-11 8zM730 2941l11 1 5-5-11-7zM702 2943l12-4 5 5-11-16zM741 2942l11-6 5 1-11 0zM791 2947l11 5 5-11-11-8zM763 2941l11 12 6-17-12 6zM802 2952l11-8 5-1-11-2zM808 2958l12-1 5-8-12-5zM820 2957l11 4 5-10-11-2zM838 2962l11 15 5-27-12 10zM849 2977l12-12 4-1-11-14zM861 2965l11 11 5-16-12 4zM872 2976l11 2 6-23-12 5z"/><path class=cc d="M932 2765l10 6 4-3-10-6zM928 2769l10 6 4-4-10-6zM924 2775l9 6 5-6-10-6zM903 2781l10 23 4 2-10-23zM780 2846l11 2 4-6-10-2zM791 2848l10 2 5-7-11-1zM765 2848l10 4 5-6-10-4zM775 2852l11 3 5-7-11-2zM637 2849l10 2 5-5-10-3zM611 2849l11 3 5-6-11-2zM750 2849l10 5 5-6-10-4zM647 2851l10 3 6-6-11-2zM622 2852l10 2 5-5-10-3zM596 2852l10 3 5-6-10-2zM735 2851l10 4 5-6-11-3zM796 2856l11 0 5-6-11 0zM683 2852l11 3 5-6-11-2zM657 2854l11 2 5-6-10-2zM632 2854l10 3 5-6-10-2zM606 2855l10 2 6-5-11-3zM580 2854l11 3 5-5-10-3zM745 2855l10 4 5-5-10-5zM719 2854l11 3 5-6-11-3zM694 2855l10 2 5-6-10-2zM668 2856l10 2 5-6-10-2zM642 2857l10 2 5-5-10-3zM616 2857l11 3 5-6-10-2zM591 2857l10 3 5-5-10-3zM565 2855l10 4 5-5-10-3zM730 2857l10 3 5-5-10-4zM704 2857l10 2 5-5-10-3zM678 2858l11 3 5-6-11-3zM652 2859l11 3 5-6-11-2zM627 2860l10 2 5-5-10-3zM601 2860l10 2 5-5-10-2zM575 2859l10 3 6-5-11-3zM802 2863l11-1 4-7-10 1zM714 2859l11 3 5-5-11-3zM689 2861l10 2 5-6-10-2zM585 2862l11 2 5-4-10-3zM559 2860l11 3 5-4-10-4zM699 2863l10 2 5-6-10-2zM570 2863l10 3 5-4-10-3zM554 2864l10 4 6-5-11-3zM808 2869l11-2 4-7-10 2zM538 2865l10 4 6-5-10-3zM564 2868l11 3 5-5-10-3zM548 2869l11 3 5-4-10-4zM533 2870l10 4 5-5-10-4zM814 2874l11-3 4-7-10 3zM543 2874l10 3 6-5-11-3zM527 2875l10 3 6-4-10-4zM511 2876l11 3 5-4-10-4zM537 2878l11 3 5-4-10-3zM894 2871l11 12 4 7-11-20zM522 2879l10 4 5-5-10-3zM506 2880l10 4 6-5-11-3zM815 2886l11-3 5-8-11 4zM516 2884l10 3 6-4-10-4zM500 2885l10 4 6-5-10-4zM510 2889l11 3 5-5-10-3zM821 2892l11-3 5-9-11 3zM329 2896l10 3 6-7-10-3zM286 2899l10 4 7-7-11-4zM356 2896l10 3 6-7-10-3zM243 2902l10 5 6-8-10-4zM313 2900l10 3 6-7-10-3zM270 2903l10 4 6-8-10-4zM296 2903l11 4 6-7-10-4zM827 2899l11-3 5-11-11 4zM253 2907l10 4 7-8-11-4zM323 2903l10 3 6-7-10-3zM419 2897l11 3 5-6-10-2zM376 2902l11 2 6-6-11-3zM403 2901l10 2 6-6-10-2zM430 2900l10 3 6-6-11-3zM387 2904l10 3 6-6-10-3zM413 2903l11 3 6-6-11-3zM440 2903l10 3 6-6-10-3zM877 2905l11 7 5-7-11-8zM850 2914l12-2 4-10-11 0zM862 2912l11 2 4-9-11-3zM609 2934l11-1 6-6-11 3zM604 2939l11 0 5-6-11 1zM587 2942l11 1 6-4-11-1zM598 2943l11 1 6-5-11 0zM571 2944l11 2 5-4-10-2zM582 2946l11 2 5-5-11-1zM554 2947l11 2 6-5-11-1zM593 2948l11 1 5-5-11-1zM565 2949l11 1 6-4-11-2zM686 2956l11-12 5-1-11-2zM604 2949l11 11 5-24-11 8zM549 2951l11 2 5-4-11-2zM576 2950l11 2 6-4-11-2zM587 2952l11 2 6-5-11-1zM560 2953l10 2 6-5-11-1zM570 2955l11 2 6-5-11-2zM786 2957l11-2 5-3-11-5zM581 2957l11 2 6-5-11-2zM769 2955l12 11 5-9-12-4zM537 2961l11 1 6-4-11-2zM520 2963l11 1 6-3-11-2zM576 2961l11 2 5-4-11-2zM531 2964l11 2 6-4-11-1zM542 2966l11 2 6-4-11-2zM570 2966l11 2 6-5-11-2zM815 2965l11 13 5-17-11-4zM900 2970l11 12 5 9-11-27zM844 2982l12-6 5-11-12 12z"/><path class=cb d="M942 2771l9 6 4-3-9-6zM938 2775l9 6 4-4-9-6zM919 2781l10 9 4-9-9-6zM786 2855l10 1 5-6-10-2zM760 2854l11 3 4-5-10-4zM771 2857l10 3 5-5-11-3zM781 2860l11 2 4-6-10-1zM755 2859l11 4 5-6-11-3zM792 2862l10 1 5-7-11 0zM740 2860l11 4 4-5-10-4zM663 2862l10 3 5-7-10-2zM637 2862l10 3 5-6-10-2zM611 2862l10 3 6-5-11-3zM725 2862l10 4 5-6-10-3zM673 2865l11 3 5-7-11-3zM647 2865l11 3 5-6-11-3zM621 2865l11 2 5-5-10-2zM596 2864l10 3 5-5-10-2zM735 2866l11 4 5-6-11-4zM797 2869l11 0 5-7-11 1zM709 2865l11 3 5-6-11-3zM684 2868l10 2 5-7-10-2zM658 2868l10 4 5-7-10-3zM632 2867l10 3 5-5-10-3zM606 2867l10 2 5-4-10-3zM580 2866l10 3 6-5-11-2zM720 2868l10 4 5-6-10-4zM694 2870l10 2 5-7-10-2zM616 2869l11 3 5-5-11-2zM590 2869l11 3 5-5-10-3zM704 2872l11 3 5-7-11-3zM627 2872l10 4 5-6-10-3zM601 2872l10 2 5-5-10-2zM575 2871l10 3 5-5-10-3zM803 2875l11-1 5-7-11 2zM611 2874l10 2 6-4-11-3zM585 2874l10 2 6-4-11-3zM559 2872l10 3 6-4-11-3zM595 2876l11 3 5-5-10-2zM569 2875l10 3 6-4-10-3zM606 2879l10 2 5-5-10-2zM579 2878l11 3 5-5-10-2zM553 2877l11 3 5-5-10-3zM809 2881l11-2 5-8-11 3zM590 2881l10 2 6-4-11-3zM564 2880l10 2 5-4-10-3zM600 2883l11 2 5-4-10-2zM548 2881l10 3 6-4-11-3zM574 2882l10 3 6-4-11-3zM532 2883l10 3 6-5-11-3zM584 2885l11 2 5-4-10-2zM558 2884l11 3 5-5-10-2zM595 2887l10 2 6-4-11-2zM542 2886l11 3 5-5-10-3zM569 2887l10 2 5-4-10-3zM526 2887l11 3 5-4-10-3zM553 2889l10 2 6-4-11-3zM579 2889l11 3 5-5-11-2zM810 2894l11-2 5-9-11 3zM537 2890l10 3 6-4-11-3zM563 2891l11 3 5-5-10-2zM521 2892l10 3 6-5-11-3zM547 2893l11 2 5-4-10-2zM574 2894l10 2 6-4-11-3zM505 2894l10 3 6-5-11-3zM531 2895l11 2 5-4-10-3zM558 2895l10 3 6-4-11-3zM542 2897l10 3 6-5-11-2zM568 2898l11 2 5-4-10-2zM280 2907l10 4 6-8-10-4zM237 2910l10 4 6-7-10-5zM526 2899l10 3 6-5-11-2zM307 2907l10 3 6-7-10-3zM552 2900l11 2 5-4-10-3zM579 2900l10 2 6-4-11-2zM263 2911l11 4 6-8-10-4zM290 2911l11 3 6-7-11-4zM247 2914l10 4 6-7-10-4zM536 2902l11 2 5-4-10-3zM563 2902l10 2 6-4-11-2zM317 2910l10 3 6-7-10-3zM467 2903l10 3 6-5-11-3zM833 2908l11-3 5-12-11 3zM370 2908l11 3 6-7-11-2zM520 2904l10 2 6-4-10-3zM547 2904l10 2 6-4-11-2zM573 2904l11 2 5-4-10-2zM397 2907l10 2 6-6-10-2zM424 2906l10 2 6-5-10-3zM450 2906l11 2 6-5-11-3zM354 2912l10 3 6-7-10-3zM477 2906l11 3 5-5-10-3zM530 2906l11 3 6-5-11-2zM584 2906l10 2 6-4-11-2zM557 2906l11 2 5-4-10-2zM407 2909l11 3 6-6-11-3zM461 2908l10 3 6-5-10-3zM364 2915l11 2 6-6-11-3zM488 2909l10 2 6-5-11-2zM594 2908l11 2 5-4-10-2zM541 2909l10 2 6-5-10-2zM568 2908l10 2 6-4-11-2zM471 2911l11 2 6-4-11-3zM839 2917l11-3 5-12-11 3zM498 2911l11 2 5-4-10-3zM631 2910l11-2 5-2-10 2zM551 2911l11 2 6-5-11-2zM578 2910l11 2 5-4-10-2zM482 2913l10 3 6-5-10-2zM535 2913l11 2 5-4-10-2zM589 2912l10 2 6-4-11-2zM562 2913l11 2 5-5-10-2zM626 2914l11-2 5-4-11 2zM599 2914l11 2 5-4-10-2zM546 2915l10 2 6-4-11-2zM573 2915l10 1 6-4-11-2zM873 2914l11 5 4-7-11-7zM610 2916l11 2 5-4-11-2zM530 2918l10 1 6-4-11-2zM583 2916l11 2 5-4-10-2zM556 2917l11 2 6-4-11-2zM621 2918l10-2 6-4-11 2zM513 2920l11 2 6-4-11-2zM594 2918l11 2 5-4-11-2zM540 2919l11 2 5-4-10-2zM567 2919l11 2 5-5-10-1zM868 2921l11 3 5-5-11-5zM605 2920l10 2 6-4-11-2zM551 2921l10 2 6-4-11-2zM578 2921l10 1 6-4-11-2zM852 2924l11-1 5-2-11 0zM508 2925l10 1 6-4-11-2zM615 2922l11-2 5-4-10 2zM534 2924l11 1 6-4-11-2zM588 2922l11 2 6-4-11-2zM561 2923l11 2 6-4-11-2zM518 2926l11 2 5-4-10-2zM599 2924l11 2 5-4-10-2zM545 2925l11 2 5-4-10-2zM572 2925l11 1 5-4-10-1zM610 2926l10-1 6-5-11 2zM529 2928l10 2 6-5-11-1zM583 2926l10 2 6-4-11-2zM556 2927l10 2 6-4-11-2zM539 2930l11 1 6-4-11-2zM593 2928l11 2 6-4-11-2zM566 2929l11 1 6-4-11-1zM523 2933l11 1 5-4-10-2zM604 2930l11 0 5-5-10 1zM550 2931l11 2 5-4-10-2zM577 2930l11 2 5-4-10-2zM507 2935l10 2 6-4-11-2zM534 2934l10 2 6-5-11-1zM588 2932l11 2 5-4-11-2zM561 2933l11 2 5-5-11-1zM599 2934l10 0 6-4-11 0zM544 2936l11 1 6-4-11-2zM572 2935l10 1 6-4-11-2zM501 2940l10 2 6-5-10-2zM582 2936l11 2 6-4-11-2zM555 2937l11 2 6-4-11-2zM539 2940l10 1 6-4-11-1zM593 2938l11 1 5-5-10 0zM566 2939l11 1 5-4-10-1zM522 2943l11 1 6-4-11-2zM549 2941l11 2 6-4-11-2zM577 2940l10 2 6-4-11-2zM560 2943l11 1 6-4-11-1zM664 2945l11 12 5-18-11-1zM527 2949l11 1 6-4-11-2zM675 2957l11-1 5-15-11-2zM681 2958l11-1 5-13-11 12zM488 2960l10 1 6-4-10-1zM598 2954l11 7 6-1-11-11zM692 2957l11 8 5-4-11-17zM498 2961l11 1 6-4-11-1zM609 2961l11 0 5-17-10 16zM509 2962l11 1 6-4-11-1zM592 2959l12 15 5-13-11-7zM742 2953l11 15 5-8-11-6zM725 2973l11 1 6-21-11-3zM615 2976l10-9 6-6-11 0zM581 2968l11 6 6 0-11-11zM798 2970l11 18 6-23-12-2zM575 2972l11 13 6-11-11-6zM569 2973l12 17 5-5-11-13z"/><path class=c9 d="M951 2777l10 6 4-3-10-6zM947 2781l10 6 4-4-10-6zM943 2787l10 6 4-6-10-6zM929 2790l10 5 4-8-10-6zM911 2785l10 19 4-6-10-13zM767 2877l10 2 5-6-10-2zM777 2879l11 2 5-6-11-2zM663 2881l10 4 5-9-10-4zM751 2880l11 3 5-6-11-3zM762 2883l10 2 5-6-10-2zM736 2882l10 4 5-6-10-4zM710 2883l10 3 5-8-10-3zM772 2885l11 2 5-6-11-2zM632 2880l10 8 5-6-10-6zM720 2886l11 4 5-8-11-4zM783 2887l11 1 4-7-10 0zM626 2885l11 7 5-4-10-8zM789 2895l11 0 4-7-10 0zM621 2889l11 6 5-3-11-7zM800 2895l10-1 5-8-11 2zM616 2893l10 4 6-2-11-6zM806 2903l10-1 5-10-11 2zM621 2900l11 3 5-1-11-5zM632 2903l10 3 6 1-11-5zM267 2922l11 3 6-7-10-3zM224 2925l10 4 7-8-11-4zM294 2922l11 3 6-8-10-3zM828 2920l11-3 5-12-11 3zM251 2925l10 4 6-7-10-4zM278 2925l10 4 6-7-10-4zM234 2929l11 4 6-8-10-4zM305 2925l10 3 6-8-10-3zM261 2929l10 3 7-7-11-3zM331 2923l11 2 6-6-10-3zM288 2929l10 3 7-7-11-3zM835 2926l11-3 4-9-11 3zM325 2930l11 2 6-7-11-2zM346 2934l10 2 6-6-10-2zM373 2932l10 2 6-7-10-2zM356 2936l11 2 6-6-11-2zM383 2934l11 1 6-6-11-2zM365 2947l10 1 6-1-10-2zM375 2948l10 0 7 0-11-1zM402 2950l11 1 6-5-10-1zM413 2951l11 2 6-5-11-2zM424 2953l10 1 6-4-10-2zM670 2964l11-6 5-2-11 1zM653 2964l11 0 6 0-11-10zM703 2965l11 7 5-15-11 4zM648 2974l11-7 5-3-11 0zM604 2974l11 2 5-15-11 0zM681 2987l11-16 6-2-12-7zM625 2967l12 25 5-16-11-15zM809 2988l12 3 5-13-11-13zM793 2982l11 4 5 2-11-18zM777 2979l11 15 5-12-11 5zM902 2991l11 13 5 3-11-19zM897 2999l11 22 5-17-11-13zM671 3033l11-20 6-6-12 11zM682 3013l12 23 5-10-11-19z"/><path class=c8 d="M961 2783l10 7 4-3-10-7zM957 2787l10 6 4-3-10-7zM939 2795l10 6 4-8-10-6zM673 2885l11 3 5-10-11-2zM647 2882l11 7 5-8-10-6zM684 2888l10 2 5-10-10-2zM746 2886l11 4 5-7-11-3zM694 2890l11 2 5-9-11-3zM642 2888l11 8 5-7-11-7zM757 2890l11 2 4-7-10-2zM731 2890l10 4 5-8-10-4zM705 2892l10 4 5-10-10-3zM768 2892l10 1 5-6-11-2zM778 2893l11 2 5-7-11-1zM632 2895l10 7 6-2-11-8zM784 2903l11 1 5-9-11 0zM795 2904l11-1 4-9-10 1zM626 2897l11 5 5 0-10-7zM811 2913l11-2 5-12-11 3zM218 2933l10 4 6-8-10-4zM245 2933l10 3 6-7-10-4zM271 2932l11 4 6-7-10-4zM228 2937l10 4 7-8-11-4zM298 2932l11 2 6-6-10-3zM255 2936l10 4 6-8-10-3zM282 2936l10 3 6-7-10-3zM309 2934l10 3 6-7-10-2zM292 2939l10 2 7-7-11-2zM830 2931l11-4 5-4-11 3zM340 2941l10 1 6-6-10-2zM323 2945l10 0 7-4-11-2zM344 2946l10 1 7-3-11-2zM698 2969l11 15 5-12-11-7zM748 2973l11 13 5-10-11-8zM731 2987l11-4 6-10-12 1zM742 2983l12 7 5-4-11-13zM821 2991l11 12 6-41-12 16zM788 2994l11 6 5-14-11-4zM771 2993l12 14 5-13-11-15zM868 3005l12 5 5 1-12-10zM880 3010l12 4 5-15-12 12zM603 3013l11-2 6-2-12-7z"/><path class=c6 d="M971 2790l10 6 4-3-10-6zM967 2793l10 6 4-3-10-6zM963 2799l10 6 4-6-10-6zM949 2801l10 6 4-8-10-6zM935 2806l10 5 4-10-10-6zM668 2895l11 4 5-11-11-3zM679 2899l10 1 5-10-10-2zM653 2896l10 7 5-8-10-6zM689 2900l11 2 5-10-11-2zM726 2900l11 4 4-10-10-4zM700 2902l10 3 5-9-10-4zM737 2904l10 3 5-9-11-4zM710 2905l11 4 5-9-11-4zM747 2907l11 2 5-9-11-2zM642 2902l11 6 5-1-10-7zM758 2909l10 2 5-10-10-1zM768 2911l11 2 5-10-11-2zM779 2913l11 1 5-10-11-1zM790 2914l11 0 5-11-11 1zM807 2924l10-1 5-12-11 2zM813 2931l11-2 4-9-11 3zM222 2947l10 3 6-9-10-4zM232 2950l10 4 7-10-11-3zM259 2948l10 3 7-8-11-3zM269 2951l11 2 6-7-10-3zM280 2953l10 3 6-8-10-2zM290 2956l10 2 7-8-11-2zM653 2987l12 2 5-6-11-16zM665 2989l11-6 5 4-11-4zM875 3031l12-14 5-3-12-4zM807 3017l11 17 6-22-12-8zM858 3024l12 2 5 5-11-21zM882 3034l11 9 6-23-12-3zM792 3057l12-12 5-5-11 10z"/><path class=cm d="M856 2741l10 6 4-3-10-6zM852 2743l10 5 4-1-10-6zM857 2749l10 5 4-1-9-5zM853 2751l10 4 4-1-10-5zM800 2768l11 3 4-6-10-3zM811 2771l10 1 4-6-10-1zM786 2770l10 4 4-6-10-4zM821 2772l10 1 4-7-10 0zM771 2772l10 4 5-6-10-4zM756 2774l10 4 5-6-10-4zM877 2769l10 7 4 1-10-8zM826 2779l11-1 4-7-10 2zM742 2776l10 4 4-6-10-4zM717 2776l10 3 4-7-10-3zM667 2777l10 3 5-8-10-3zM642 2778l10 3 5-8-10-3zM617 2779l10 3 5-8-10-3zM592 2778l10 4 5-8-10-4zM727 2779l10 4 5-7-11-4zM702 2779l10 3 5-6-10-4zM677 2780l10 3 5-7-10-4zM652 2781l10 3 5-7-10-4zM882 2776l11 9 4 1-10-10zM577 2780l10 5 5-7-10-5zM832 2786l11-3 4-8-10 3zM561 2782l10 6 6-8-10-5zM546 2782l10 7 5-7-10-7zM838 2791l10-3 5-8-10 3zM526 2788l10 7 5-6-10-7zM844 2796l10-3 5-8-11 3zM880 2790l10 9 4-2-10-10zM505 2793l10 7 5-6-10-8zM875 2794l11 7 4-2-10-9zM850 2800l10-2 5-6-11 1zM499 2799l11 6 5-5-10-7zM871 2799l10 5 5-3-11-7zM856 2805l10-1 5-5-11-1zM478 2803l11 7 5-6-10-7zM866 2804l11 3 4-3-10-5zM851 2812l11-2 4-6-10 1zM862 2810l10 2 5-5-11-3zM457 2809l10 6 6-6-10-7zM451 2815l11 6 5-6-10-6zM436 2816l10 6 5-7-10-6zM414 2824l10 5 6-6-10-6zM398 2826l10 5 6-7-10-6zM382 2828l11 5 5-7-10-6zM366 2831l11 5 5-8-10-5zM324 2832l10 5 6-8-10-6zM350 2834l11 5 5-8-10-6zM308 2835l10 6 6-9-10-5zM292 2839l10 5 6-9-10-5z"/><path class=c5 d="M981 2796l10 6 4-3-10-6zM977 2799l10 6 4-3-10-6zM973 2805l10 5 4-5-10-6zM959 2807l10 5 4-7-10-6zM945 2811l10 5 4-9-10-6zM921 2804l9 14 5-12-10-8zM663 2903l11 4 5-8-11-4zM674 2907l10 1 5-8-10-1zM648 2900l10 7 5-4-10-7zM684 2908l11 1 5-7-11-2zM721 2909l11 4 5-9-11-4zM695 2909l10 2 5-6-10-3zM679 2910l11 1 5-2-11-1zM690 2911l10 2 5-2-10-2zM785 2923l11 1 5-10-11 0zM796 2924l11 0 4-11-10 1zM899 2921l11 20 4 12-10-37zM808 2934l11-1 5-4-11 2zM242 2954l11 3 6-9-10-4zM253 2957l10 3 6-9-10-3zM263 2960l10 3 7-10-11-2zM273 2963l11 2 6-9-10-3zM284 2965l10-2 6-5-10-2zM748 3001l12 5 5-7-11-9zM698 2994l12 25 5-12-11-6zM710 3019l11-13 6-7-12 8zM597 3027l12 18 5-34-11 2zM609 3045l11-26 5 10-11-18zM728 3028l11 11 6-15-12 7zM746 3041l11 6 6-8-12-8zM897 3073l13-14 4-1-11-17zM905 3063l12 5 4 1-11-10z"/><path class=c3 d="M991 2802l10 5 4-3-10-5zM987 2805l10 6 4-4-10-5zM983 2810l10 6 4-5-10-6zM955 2816l10 5 4-9-10-5zM930 2818l11 5 4-12-10-5zM727 2920l10 3 5-7-10-3zM737 2923l11 2 5-6-11-3zM748 2925l11 2 4-7-10-1zM722 2921l10 3 5-1-10-3zM759 2927l10 2 5-7-11-2zM732 2924l11 2 5-1-11-2zM769 2929l11 1 5-7-11-1zM754 2928l10 2 5-1-10-2zM764 2930l11 2 5-2-11-1zM216 2965l11 8 5-23-10-3zM870 3078l12 4 6-13-13 9z"/><path class=ca d="M933 2781l10 6 4-6-9-6zM915 2785l10 13 4-8-10-9zM907 2783l10 23 4-2-10-19zM766 2863l10 3 5-6-10-3zM776 2866l11 2 5-6-11-2zM751 2864l10 4 5-5-11-4zM787 2868l10 1 5-6-10-1zM761 2868l11 3 4-5-10-3zM772 2871l10 2 5-5-11-2zM746 2870l10 4 5-6-10-4zM782 2873l11 2 4-6-10-1zM668 2872l10 4 6-8-11-3zM642 2870l11 5 5-7-11-3zM756 2874l11 3 5-6-11-3zM730 2872l11 4 5-6-11-4zM793 2875l10 0 5-6-11 0zM678 2876l11 2 5-8-10-2zM653 2875l10 6 5-9-10-4zM741 2876l10 4 5-6-10-4zM715 2875l10 3 5-6-10-4zM689 2878l10 2 5-8-10-2zM637 2876l10 6 6-7-11-5zM725 2878l11 4 5-6-11-4zM699 2880l11 3 5-8-11-3zM788 2881l10 0 5-6-10 0zM621 2876l11 4 5-4-10-4zM798 2881l11 0 5-7-11 1zM616 2881l10 4 6-5-11-4zM794 2888l10 0 5-7-11 0zM804 2888l11-2 5-7-11 2zM611 2885l10 4 5-4-10-4zM605 2889l11 4 5-4-10-4zM590 2892l10 2 5-5-10-2zM600 2894l10 2 6-3-11-4zM610 2896l11 4 5-3-10-4zM584 2896l11 2 5-4-10-2zM816 2902l11-3 5-10-11 3zM595 2898l10 2 5-4-10-2zM605 2900l11 3 5-3-11-4zM616 2903l10 2 6-2-11-3zM589 2902l11 2 5-4-10-2zM822 2911l11-3 5-12-11 3zM274 2915l10 3 6-7-10-4zM230 2917l11 4 6-7-10-4zM301 2914l10 3 6-7-10-3zM626 2905l11 3 5-2-10-3zM600 2904l10 2 6-3-11-3zM257 2918l10 4 7-7-11-4zM327 2913l11 3 6-7-11-3zM284 2918l10 4 7-8-11-3zM241 2921l10 4 6-7-10-4zM637 2908l10-2 6 0-11 0zM610 2906l11 2 5-3-10-2zM311 2917l10 3 6-7-10-3zM893 2905l11 11 4 0-11-15zM621 2908l10 2 6-2-11-3zM348 2919l10 2 6-6-10-3zM605 2910l10 2 6-4-11-2zM888 2912l11 9 5-5-11-11zM615 2912l11 2 5-4-10-2zM846 2923l11-2 5-9-12 2zM884 2919l10 8 5-6-11-9zM389 2927l11 2 6-6-11-2zM879 2924l11 7 4-4-10-8zM427 2927l10 2 6-5-10-2zM410 2931l11 2 6-6-11-2zM437 2929l11 2 6-5-11-2zM421 2933l10 2 6-6-10-2zM448 2931l10 2 6-5-10-2zM496 2934l11 1 5-4-10-2zM490 2939l11 1 6-5-11-1zM407 2950l10 1 7 2-11-2zM445 2956l11 1 6-4-11-2zM456 2957l10 1 6-4-10-1zM648 2967l11-13 5-9-11-8zM466 2958l11 1 6-4-11-1zM659 2954l11 10 5-7-11-12zM631 2946l11 20 6 1-11-33zM477 2959l11 1 6-4-11-1zM714 2972l11 1 6-23-12 7zM686 2962l12 7 5-4-11-8zM753 2968l11 8 5-21-11 5zM764 2976l11-1 6-9-12-11zM587 2963l11 11 6 0-12-15zM736 2974l12-1 5-5-11-15zM782 2987l11-5 5-12-11 0zM832 3003l12-21 5-5-11-15zM839 2994l11 1 6-19-12 6zM850 2995l12 12 5-30-11-1zM862 3007l11-6 6-17-12-7z"/><path class=c2 d="M1001 2807l10 6 4-3-10-6zM997 2811l10 5 4-3-10-6zM993 2816l10 5 4-5-10-5zM979 2818l10 5 4-7-10-6zM965 2821l10 6 4-9-10-6zM941 2823l10 5 4-12-10-5zM227 2973l10 5 5-24-10-4zM237 2978l11 4 5-25-11-3zM258 2984l10-3 5-18-10-3zM268 2981l10 0 6-16-11-2zM278 2981l11 15 5-33-10 2zM908 3021l11 25 5-8-11-34z"/><path class=cj d="M876 2752l10 6 4-2-10-6zM871 2753l10 6 5-1-10-6zM877 2759l10 7 4-1-10-6zM883 2765l10 7 4 1-10-7zM885 2770l10 9 4 1-10-9zM797 2789l10 3 5-6-11-3zM807 2792l10 2 5-7-10-1zM782 2792l10 4 5-7-10-3zM767 2794l10 4 5-6-10-4zM607 2794l10 4 5-8-10-3zM642 2796l10 3 5-7-10-3zM752 2796l11 4 4-6-10-4zM617 2798l10 3 5-8-10-3zM592 2797l10 4 5-7-10-4zM727 2796l10 3 5-6-10-4zM702 2796l10 3 5-7-10-3zM677 2798l10 2 5-7-10-3zM652 2799l10 3 5-7-10-3zM823 2801l10-2 5-8-10 2zM576 2799l10 5 6-7-10-4zM737 2799l11 3 4-6-10-3zM712 2799l10 3 5-6-10-4zM687 2800l10 3 5-7-10-3zM561 2801l10 5 5-7-10-5zM546 2801l10 5 5-5-10-6zM890 2799l10 11 4 0-10-13zM541 2807l10 5 5-6-10-5zM525 2806l10 6 6-5-11-6zM520 2812l10 6 5-6-10-6zM830 2820l11-4 4-8-10 4zM499 2817l10 6 5-6-10-6zM836 2824l11-4 4-8-10 4zM493 2822l10 6 6-5-10-6zM883 2817l10 9 5-1-11-11zM477 2822l11 5 5-5-10-6zM842 2828l11-4 4-7-10 3zM472 2827l10 6 6-6-11-5zM450 2834l11 5 5-6-10-6zM435 2835l10 5 5-6-10-6zM843 2840l11-3 5-8-11 3zM429 2841l10 5 6-6-10-5zM876 2838l10 7 5-2-11-9zM413 2843l10 5 6-7-10-5zM850 2844l10-2 5-7-11 2zM397 2846l10 4 6-7-10-5zM860 2842l11 1 5-5-11-3zM355 2847l10 5 6-8-10-5zM381 2849l10 4 6-7-10-5zM871 2843l11 5 4-3-10-7zM339 2850l10 5 6-8-11-5zM296 2852l10 5 6-8-10-5zM322 2854l11 4 6-8-11-4zM856 2849l10-1 5-5-11-1zM280 2855l10 5 6-8-10-5zM866 2848l11 4 5-4-11-5zM862 2854l11 2 4-4-11-4zM848 2944l11-4 5-12-11 3zM871 2944l11 0 5-8-11-4zM882 2944l12 10 5-13-12-5z"/><path class=cd d="M910 2770l9 11 5-6-10-8zM905 2771l10 14 4-4-9-11zM775 2836l10 4 5-7-11-3zM785 2840l10 2 5-6-10-3zM759 2838l11 4 5-6-11-4zM622 2838l10 3 5-6-10-3zM596 2838l10 3 5-5-10-3zM795 2842l11 1 4-7-10 0zM770 2842l10 4 5-6-10-4zM657 2840l11 2 5-6-11-2zM632 2841l10 2 5-6-10-2zM606 2841l10 3 6-6-11-2zM581 2840l10 4 5-6-10-3zM744 2840l11 4 4-6-10-4zM668 2842l10 2 5-5-10-3zM642 2843l10 3 5-6-10-3zM755 2844l10 4 5-6-11-4zM616 2844l11 2 5-5-10-3zM591 2844l10 3 5-6-10-3zM729 2843l10 3 5-6-10-3zM703 2843l11 3 5-6-11-3zM678 2844l10 3 5-6-10-2zM652 2846l11 2 5-6-11-2zM627 2846l10 3 5-6-10-2zM601 2847l10 2 5-5-10-3zM575 2846l11 3 5-5-10-4zM739 2846l11 3 5-5-11-4zM801 2850l11 0 4-8-10 1zM714 2846l10 2 5-5-10-3zM688 2847l11 2 4-6-10-2zM663 2848l10 2 5-6-10-2zM586 2849l10 3 5-5-10-3zM560 2847l10 4 5-5-10-4zM724 2848l11 3 4-5-10-3zM699 2849l10 2 5-5-11-3zM673 2850l10 2 5-5-10-3zM570 2851l10 3 6-5-11-3zM709 2851l10 3 5-6-10-2zM554 2851l11 4 5-4-10-4zM807 2856l10-1 5-7-10 2zM539 2852l10 4 5-5-10-4zM549 2856l10 4 6-5-11-4zM533 2857l11 4 5-5-10-4zM813 2862l10-2 5-8-11 3zM544 2861l10 3 5-4-10-4zM528 2861l10 4 6-4-11-4zM512 2862l10 4 6-5-10-4zM819 2867l10-3 5-8-11 4zM522 2866l11 4 5-5-10-4zM506 2867l11 4 5-5-10-4zM517 2871l10 4 6-5-11-4zM501 2872l10 4 6-5-11-4zM820 2879l11-4 4-7-10 3zM479 2878l11 4 5-5-10-4zM490 2882l10 3 6-5-11-3zM826 2883l11-3 5-9-11 4zM335 2889l10 3 7-7-11-3zM292 2892l11 4 6-7-11-4zM362 2889l10 3 6-7-10-3zM249 2895l10 4 7-8-11-4zM319 2893l10 3 6-7-10-4zM276 2895l10 4 6-7-10-4zM303 2896l10 4 6-7-10-4zM259 2899l11 4 6-8-10-4zM887 2891l10 10 5-3-11-10zM844 2905l11-3 5-11-11 2zM882 2897l11 8 4-4-10-10zM631 2916l11-5 5-5-10 6zM626 2920l11-4 5-5-11 5zM620 2925l11-4 6-5-11 4zM615 2930l11-3 5-6-11 4zM675 2932l11 3 5-7-11-5zM648 2932l10 0 6-2-11-8zM620 2933l11 9 6-20-11 5zM658 2932l11 6 6-6-11-2zM669 2938l11 1 6-4-11-3zM680 2939l11 2 6-5-11-1zM653 2937l11 8 5-7-11-6zM725 2943l11 7 5-8-11-1zM697 2944l11 17 6-22-12 4zM615 2960l10-16 6 2-11-10zM736 2950l11 4 5-18-11 6zM774 2953l12 4 5-10-11-11zM747 2954l11 6 5-19-11-5zM719 2957l12-7 5 0-11-7zM758 2960l11-5 5-2-11-12zM731 2950l11 3 5 1-11-4zM797 2955l11 3 5-14-11 8zM803 2963l12 2 5-8-12 1zM826 2978l12-16 4-2-11 1zM856 2976l11 1 5-1-11-11zM895 2973l12 15 4-6-11-12zM867 2977l12 7 4-6-11-2z"/><path class=c1 d="M1011 2813l10 6 4-3-10-6zM1007 2816l10 6 4-3-10-6zM1003 2821l10 6 4-5-10-6zM989 2823l10 5 4-7-10-5zM975 2827l10 5 4-9-10-5zM951 2828l10 4 4-11-10-5zM926 2828l10 8 5-13-11-5zM248 2982l10 2 5-24-10-3zM914 3058l12 15 4 7-11-20z"/><path class=cp d="M827 2737l10 4 5-3-10-5zM813 2737l10 4 4-4-10-4zM823 2741l10 4 4-4-10-4zM808 2742l10 4 5-5-10-4zM794 2743l10 4 4-5-10-4zM804 2747l10 4 4-5-10-4zM789 2749l10 4 5-6-10-4zM775 2750l10 4 4-5-10-5zM760 2751l10 5 5-6-10-5zM746 2753l10 4 4-6-10-4zM731 2755l10 4 5-6-10-4zM716 2758l10 4 5-7-10-4zM691 2758l10 3 5-7-10-4zM701 2761l10 4 5-7-10-4zM676 2761l10 4 5-7-10-4zM652 2762l10 4 4-8-10-4zM627 2762l10 4 5-8-10-4zM602 2762l10 4 5-8-10-5zM587 2765l10 5 5-8-10-6zM852 2769l10-1 4-3-10 0zM557 2768l10 7 5-8-10-7zM862 2768l10 3 5-2-11-4zM541 2768l10 7 6-7-10-7zM858 2773l10 1 4-3-10-3zM521 2774l10 8 5-7-10-8zM500 2778l10 8 6-6-11-8zM479 2783l10 8 6-6-10-8zM474 2790l10 7 5-6-10-8zM452 2795l11 7 5-6-10-7zM431 2802l10 7 6-7-10-7zM415 2803l10 6 6-7-10-7zM399 2804l11 7 5-8-10-7zM336 2814l10 6 6-9-10-5zM320 2818l10 5 6-9-10-5zM304 2821l10 6 6-9-10-6z"/><path class=c7 d="M953 2793l10 6 4-6-10-6zM925 2798l10 8 4-11-10-5zM658 2889l10 6 5-10-10-4zM741 2894l11 4 5-8-11-4zM715 2896l11 4 5-10-11-4zM637 2892l11 8 5-4-11-8zM752 2898l11 2 5-8-11-2zM763 2900l10 1 5-8-10-1zM773 2901l11 2 5-8-11-2zM637 2902l11 5 5 1-11-6zM648 2907l10 0 5 3-10-2zM801 2914l10-1 5-11-10 1zM817 2923l11-3 5-12-11 3zM824 2929l11-3 4-9-11 3zM211 2943l11 4 6-10-10-4zM238 2941l11 3 6-8-10-3zM265 2940l11 3 6-7-11-4zM894 2927l11 11 5 3-11-20zM249 2944l10 4 6-8-10-4zM276 2943l10 3 6-7-10-3zM302 2941l11 2 6-6-10-3zM286 2946l10 2 6-7-10-2zM890 2931l11 9 4-2-11-11zM313 2943l10 2 6-6-10-2zM296 2948l11 2 6-7-11-2zM307 2950l10-2 6-3-10-2zM642 2976l11 11 6-20-11 7zM737 2984l11 17 6-11-12-7zM804 2986l12 12 5-7-12-3zM760 3006l11-13 6-14-12 20zM732 2989l11 12 5 0-11-17zM799 3000l12-4 5 2-12-12zM715 3007l12-8 5-10-11 8zM727 2999l11 16 5-14-11-12zM833 3013l12-1 5-17-11-1zM805 3008l12-7 5 6-11-11zM845 3012l12-10 5 5-12-12zM892 3014l11 9 5-2-11-22zM864 3010l11 21 5-21-12-5zM614 3011l11 18 6-31-11 11zM710 3025l12-7 5-18-11 21zM846 3031l12-7 6-14-12-5zM625 3029l12-4 5-16-11-11zM887 3017l12 3 4 3-11-9zM722 3018l11 13 6-16-12-15zM890 3075l12 3 5-4-12-3zM885 3079l12 3 5-4-12-3z"/><path class=bz d="M1021 2819l10 5 4-3-10-5zM1017 2822l10 6 4-4-10-5zM1013 2827l10 5 4-4-10-6zM1009 2833l10 5 4-6-10-5zM995 2837l10 4 4-8-10-5zM936 2836l10 4 5-12-10-5zM971 2837l10 5 4-10-10-5z"/><path class=cg d="M896 2764l9 7 5-1-10-8zM891 2765l10 7 4-1-9-7zM893 2772l10 9 4 2-10-10zM895 2779l10 11 4 7-10-17zM793 2811l11 3 4-6-10-3zM804 2814l10 1 5-7-11 0zM778 2813l11 5 4-7-10-3zM617 2815l10 3 5-7-10-3zM591 2814l10 4 6-6-11-4zM789 2818l10 3 5-7-11-3zM763 2815l11 5 4-7-10-4zM652 2816l10 3 5-7-10-3zM627 2818l10 2 5-6-10-3zM601 2818l11 3 5-6-10-3zM576 2816l10 4 5-6-10-4zM687 2817l11 3 5-7-11-3zM662 2819l10 2 5-7-10-2zM637 2820l10 3 5-7-10-2zM748 2818l11 4 4-7-10-3zM586 2820l10 4 5-6-10-4zM561 2817l10 5 5-6-10-5zM809 2822l11 0 4-8-10 1zM723 2819l10 2 5-6-10-3zM698 2820l10 2 5-6-10-3zM672 2821l11 3 4-7-10-3zM759 2822l10 4 5-6-11-5zM571 2822l10 4 5-6-10-4zM733 2821l11 3 4-6-10-3zM708 2822l10 3 5-6-10-3zM683 2824l10 2 5-6-11-3zM555 2823l11 4 5-5-10-5zM540 2823l10 5 5-5-10-5zM815 2829l11-2 4-7-10 2zM535 2828l10 5 5-5-10-5zM821 2835l10-3 5-8-10 3zM893 2826l11 12 4 7-10-20zM529 2833l10 5 6-5-10-5zM514 2833l10 5 5-5-10-5zM827 2840l10-4 5-8-11 4zM508 2838l10 5 6-5-10-5zM503 2843l10 5 5-5-10-5zM487 2843l10 5 6-5-11-5zM828 2852l11-4 4-8-10 4zM481 2849l10 4 6-5-10-5zM465 2850l11 4 5-5-10-5zM886 2845l11 10 4-1-10-11zM834 2856l11-4 5-8-11 4zM460 2855l10 5 6-6-11-4zM444 2857l10 4 6-6-11-4zM412 2862l10 4 6-7-11-4zM353 2867l10 4 6-7-10-4zM835 2868l11-5 5-7-11 4zM380 2868l10 4 6-7-11-5zM311 2869l10 5 6-8-10-4zM337 2871l10 4 6-8-10-4zM363 2871l11 4 6-7-11-4zM294 2873l10 4 7-8-11-4zM883 2862l11 9 4-1-10-11zM321 2874l10 4 6-7-10-5zM278 2876l10 4 6-7-10-5zM842 2871l11-3 4-7-11 2zM879 2865l11 8 4-2-11-9zM854 2882l11 0 5-7-11-1zM865 2882l11 3 4-6-10-4zM825 2949l11 2 5-12-11-4zM889 2955l11 15 5-6-11-10z"/><path class=by d="M1031 2824l10 6 4-3-10-6zM1027 2828l10 5 4-3-10-6zM1023 2832l10 5 4-4-10-5zM1019 2838l11 5 3-6-10-5zM1005 2841l10 5 4-8-10-5zM946 2840l10 5 5-13-10-4zM981 2842l10 4 4-9-10-5zM922 2834l10 16 4-14-10-8zM956 2845l10 4 5-12-10-5z"/><path class=bx d="M1041 2830l10 5 4-3-10-5zM1037 2833l10 5 4-3-10-5zM1033 2837l11 6 3-5-10-5zM1015 2846l11 5 4-8-11-5zM991 2846l10 5 4-10-10-4zM966 2849l11 4 4-11-10-5zM918 2833l9 28 5-11-10-16z"/><path class=bv d="M1051 2835l10 5 4-2-10-6zM1057 2844l11 5 3-3-10-6zM1054 2848l10 5 4-4-11-5zM1040 2848l10 5 4-5-10-5zM942 2854l10 4 4-13-10-5zM1011 2855l10 5 5-9-11-5zM952 2858l10 4 4-13-10-4zM987 2858l10 4 4-11-10-5z"/><path class=bu d="M1061 2840l10 6 4-3-10-5zM1050 2853l10 5 4-5-10-5zM1036 2856l10 4 4-7-10-5zM1021 2860l11 4 4-8-10-5zM962 2862l10 4 5-13-11-4zM997 2862l10 4 4-11-10-4z"/><path class=bt d="M1071 2846l10 5 4-3-10-5zM1068 2849l10 5 3-3-10-5zM1064 2853l10 5 4-4-10-5zM1060 2858l10 5 4-5-10-5zM1046 2860l10 5 4-7-10-5zM1056 2865l10 5 4-7-10-5zM927 2861l10 7 5-14-10-4zM1032 2864l10 5 4-9-10-4zM972 2866l10 4 5-12-10-5zM1007 2866l10 4 4-10-10-5z"/><path class=c4 d="M969 2812l10 6 4-8-10-5zM917 2806l9 22 4-10-9-14zM913 2804l9 30 4-6-9-22zM658 2907l11 3 5-3-11-4zM669 2910l10 0 5-2-10-1zM732 2913l10 3 5-9-10-3zM705 2911l11 5 5-7-11-4zM742 2916l11 3 5-10-11-2zM716 2916l11 4 5-7-11-4zM753 2919l10 1 5-9-10-2zM763 2920l11 2 5-9-11-2zM711 2917l11 4 5-1-11-4zM774 2922l11 1 5-9-11-1zM791 2931l11 0 5-7-11 0zM786 2933l11 1 5-3-11 0zM205 2955l11 10 6-18-11-4zM878 3063l12-9 6-11-12 2zM781 3053l11 4 6-7-12-13zM758 3060l12 12 5-5-11-28zM910 3059l11 10 5 4-12-15zM864 3064l11 14 5-13-11-9zM858 3069l12 9 5 0-11-14z"/><path class=bs d="M1081 2851l10 5 4-3-10-5zM1078 2854l10 5 3-3-10-5zM1074 2858l10 5 4-4-10-5zM1070 2863l10 5 4-5-10-5zM1066 2870l11 4 3-6-10-5zM937 2868l10 4 5-14-10-4zM1042 2869l10 4 4-8-10-5zM982 2870l11 4 4-12-10-4zM1017 2870l11 4 4-10-11-4zM993 2874l10 3 4-11-10-4zM921 3059l11 26 4 6-11-22z"/><path class=bw d="M1047 2838l10 6 4-4-10-5zM1044 2843l10 5 3-4-10-6zM1030 2843l10 5 4-5-11-6zM1026 2851l10 5 4-8-10-5zM932 2850l10 4 4-14-10-4zM1001 2851l10 4 4-9-10-5zM977 2853l10 5 4-12-10-4z"/><path class=br d="M1091 2856l11 5 3-3-10-5zM1088 2859l10 5 4-3-11-5zM1084 2863l10 5 4-4-10-5zM1080 2868l11 4 3-4-10-5zM1077 2874l10 5 4-7-11-4zM947 2872l11 3 4-13-10-4zM1052 2873l10 4 4-7-10-5zM923 2866l10 17 4-15-10-7zM1062 2877l11 5 4-8-11-4zM958 2875l10 4 4-13-10-4zM1028 2874l10 4 4-9-10-5zM1038 2878l10 4 4-9-10-4zM1003 2877l10 4 4-11-10-4z"/><path class=bq d="M1102 2861l10 5 3-3-10-5zM1098 2864l10 5 4-3-10-5zM1094 2868l11 4 3-3-10-5zM1091 2872l10 5 4-5-11-4zM1087 2879l10 4 4-6-10-5zM1073 2882l10 4 4-7-10-5zM968 2879l10 3 4-12-10-4zM1048 2882l10 4 4-9-10-4zM978 2882l10 4 5-12-11-4zM1013 2881l10 4 5-11-11-4zM919 2863l9 32 5-12-10-17z"/><path class=c0 d="M999 2828l10 5 4-6-10-6zM985 2832l10 5 4-9-10-5zM961 2832l10 5 4-10-10-6z"/><path class=bp d="M1112 2866l10 4 3-2-10-5zM1108 2869l10 4 4-3-10-4zM1105 2872l10 5 3-4-10-4zM1101 2877l10 5 4-5-10-5zM1097 2883l10 4 4-5-10-5zM933 2883l10 3 4-14-10-4zM1083 2886l10 4 4-7-10-4zM1058 2886l11 4 4-8-11-5zM988 2886l11 3 4-12-10-3zM1023 2885l11 4 4-11-10-4zM1034 2889l10 3 4-10-10-4z"/><path class=bo d="M1122 2870l10 5 4-3-11-4zM1118 2873l11 5 3-3-10-5zM1115 2877l10 4 4-3-11-5zM1111 2882l11 4 3-5-10-4zM1107 2887l11 4 4-5-11-4zM943 2886l10 3 5-14-11-3zM1093 2890l11 4 3-7-10-4zM953 2889l10 3 5-13-10-4zM1069 2890l10 4 4-8-10-4zM999 2889l10 4 4-12-10-4zM1079 2894l10 4 4-8-10-4zM1044 2892l10 4 4-10-10-4zM1009 2893l10 3 4-11-10-4z"/><path class=bn d="M1132 2875l10 4 4-2-10-5zM1129 2878l10 4 3-3-10-4zM1125 2881l10 5 4-4-10-4zM1122 2886l10 4 3-4-10-5zM1118 2891l10 5 4-6-10-4zM1104 2894l10 4 4-7-11-4zM963 2892l11 3 4-13-10-3zM974 2895l10 3 4-12-10-4zM1089 2898l11 4 4-8-11-4zM1054 2896l11 4 4-10-11-4zM1019 2896l10 4 5-11-11-4zM1065 2900l10 4 4-10-10-4zM1029 2900l11 3 4-11-10-3z"/><path class=bm d="M928 2895l11 4 4-13-10-3zM1114 2898l10 4 4-6-10-5zM984 2898l10 3 5-12-11-3zM1100 2902l10 4 4-8-10-4zM994 2901l10 4 5-12-10-4zM1075 2904l10 3 4-9-10-4zM1040 2903l10 4 4-11-10-4zM936 3091l12 5 4-2-11-2z"/><path class=bl d="M939 2899l10 3 4-13-10-3zM949 2902l10 3 4-13-10-3zM1110 2906l11 4 3-8-10-4zM1004 2905l11 3 4-12-10-3zM1085 2907l11 4 4-9-11-4zM1050 2907l10 3 5-10-11-4zM1015 2908l10 3 4-11-10-4zM1096 2911l10 4 4-9-10-4zM1060 2910l11 4 4-10-10-4zM941 3092l11 2 5-2-12-2z"/><path class=bk d="M924 2898l10 13 5-12-11-4zM959 2905l10 3 5-13-11-3zM969 2908l11 2 4-12-10-3zM1025 2911l11 3 4-11-11-3zM1106 2915l11 4 4-9-11-4zM1071 2914l10 3 4-10-10-3zM1036 2914l10 4 4-11-10-4zM945 3090l12 2 4-2-11-2z"/><path class=bi d="M934 2911l10 3 5-12-10-3zM944 2914l11 2 4-11-10-3zM955 2916l10 3 4-11-10-3zM1011 2919l10 3 4-11-10-3zM1021 2922l10 3 5-11-11-3zM1102 2924l11 4 4-9-11-4zM1067 2924l10 4 4-11-10-3zM1077 2928l11 3 4-10-11-4zM954 3086l12 3 4-2-11-2z"/><path class=bj d="M980 2910l10 3 4-12-10-3zM921 2890l9 31 4-10-10-13zM990 2913l10 3 4-11-10-4zM1000 2916l11 3 4-11-11-3zM1081 2917l11 4 4-10-11-4zM1046 2918l10 3 4-11-10-3zM1092 2921l10 3 4-9-10-4zM1056 2921l11 3 4-10-11-4zM950 3088l11 2 5-1-12-3z"/><path class=bg d="M930 2921l10 3 4-10-10-3zM940 2924l10 2 5-10-11-2zM996 2927l10 3 5-11-11-3zM1006 2930l11 3 4-11-10-3zM1052 2931l11 4 4-11-11-3zM1017 2933l10 3 4-11-10-3zM1063 2935l10 3 4-10-10-4zM1073 2938l11 3 4-10-11-3zM936 3082l11 3 4 0-11-6z"/><path class=bh d="M965 2919l10 3 5-12-11-2zM975 2922l11 2 4-11-10-3zM986 2924l10 3 4-11-10-3zM1031 2925l11 3 4-10-10-4zM1042 2928l10 3 4-10-10-3zM1088 2931l10 3 4-10-10-3zM1098 2934l11 4 4-10-11-4zM959 3085l11 2 5 0-12-2zM942 3091l12-5 5-1-12 0z"/><path class=bf d="M950 2926l11 3 4-10-10-3zM926 2922l10 10 4-8-10-3zM961 2929l10 2 4-9-10-3zM971 2931l10 3 5-10-11-2zM981 2934l11 2 4-9-10-3zM922 2914l10 26 4-8-10-10zM1027 2936l11 2 4-10-11-3zM1038 2938l10 3 4-10-10-3zM1084 2941l10 3 4-10-10-3zM1094 2944l11 3 4-9-11-4zM940 3079l11 6 5-3-11-2zM951 3085l12 0 4-1-11-2zM963 3085l12 2 4-1-12-2z"/><path class=be d="M936 2932l10 2 4-8-10-2zM946 2934l10 2 5-7-11-3zM956 2936l11 3 4-8-10-2zM992 2936l10 3 4-9-10-3zM1002 2939l11 3 4-9-11-3zM1048 2941l10 3 5-9-11-4zM1013 2942l10 2 4-8-10-3zM1058 2944l11 3 4-9-10-3zM1069 2947l10 3 5-9-11-3zM945 3080l11 2 4 0-11-2zM956 3082l11 2 5 0-12-2zM967 3084l12 2 4 0-11-2z"/><path class=bd d="M932 2940l10 2 4-8-10-2zM967 2939l10 2 4-7-10-3zM942 2942l10 2 4-8-10-2zM977 2941l11 3 4-8-11-2zM1023 2944l10 3 5-9-11-2zM988 2944l10 2 4-7-10-3zM1033 2947l11 3 4-9-10-3zM998 2946l10 3 5-7-11-3zM1079 2950l11 4 4-10-10-3zM1044 2950l10 3 4-9-10-3zM1090 2954l11 3 4-10-11-3z"/><path class=bc d="M952 2944l11 3 4-8-11-3zM927 2944l11 6 4-8-10-2zM963 2947l10 2 4-8-10-2zM973 2949l10 3 5-8-11-3zM1008 2949l11 3 4-8-10-2zM1054 2953l11 3 4-9-11-3zM983 2952l11 2 4-8-10-2zM1019 2952l10 3 4-8-10-3zM924 2938l9 20 5-8-11-6zM1065 2956l10 3 4-9-10-3zM1029 2955l11 2 4-7-11-3zM994 2954l10 3 4-8-10-3zM1075 2959l11 3 4-8-11-4zM1040 2957l10 3 4-7-10-3zM938 3077l11 3 4-1-11-2zM949 3080l11 2 5-1-12-2zM960 3082l12 2 4-1-11-2zM972 3084l11 2 4 0-11-3z"/><path class=bb d="M938 2950l10 2 4-8-10-2zM948 2952l10 3 5-8-11-3zM958 2955l11 2 4-8-10-2zM969 2957l10 2 4-7-10-3zM1004 2957l11 2 4-7-11-3zM1086 2962l11 3 4-8-11-3zM1050 2960l11 3 4-7-11-3zM979 2959l11 3 4-8-11-2zM1015 2959l10 3 4-7-10-3zM1061 2963l10 3 4-7-10-3zM1025 2962l11 3 4-8-11-2zM1071 2966l11 3 4-7-11-3zM942 3077l11 2 4 0-11-2zM953 3079l12 2 4 0-12-2zM965 3081l11 2 4 0-11-2zM976 3083l11 3 4-1-11-2z"/><path class=ba d="M933 2958l11 2 4-8-10-2zM944 2960l10 2 4-7-10-3zM954 2962l11 3 4-8-11-2zM990 2962l10 2 4-7-10-3zM965 2965l10 2 4-8-10-2zM1036 2965l10 3 4-8-10-3zM1000 2964l11 3 4-8-11-2zM1082 2969l11 3 4-7-11-3zM1046 2968l11 3 4-8-11-3zM975 2967l10 2 5-7-11-3zM1011 2967l10 3 4-8-10-3zM1057 2971l10 2 4-7-10-3zM1021 2970l11 2 4-7-11-3zM1067 2973l11 3 4-7-11-3zM921 2948l10 35 4-7-10-15zM935 3074l11 3 5-1-12-2zM946 3077l11 2 5-1-11-2zM957 3079l12 2 4-1-11-2zM969 3081l11 2 4-1-11-2zM980 3083l11 2 5-1-12-2z"/><path class=b9 d="M929 2964l10 4 5-8-11-2zM939 2968l11 2 4-8-10-2zM950 2970l10 2 5-7-11-3zM985 2969l11 3 4-8-10-2zM925 2961l10 15 4-8-10-4zM960 2972l11 3 4-8-10-2zM1032 2972l10 3 4-7-10-3zM996 2972l10 2 5-7-11-3zM1078 2976l11 3 4-7-11-3zM1042 2975l11 3 4-7-11-3zM1006 2974l11 3 4-7-10-3zM1053 2978l10 3 4-8-10-2zM1017 2977l11 3 4-8-11-2zM1063 2981l11 3 4-8-11-3z"/><path class=b8 d="M935 2976l11 2 4-8-11-2zM971 2975l10 2 4-8-10-2zM946 2978l10 2 4-8-10-2zM981 2977l11 2 4-7-11-3zM956 2980l11 2 4-7-11-3zM1028 2980l10 2 4-7-10-3zM992 2979l10 3 4-8-10-2zM1074 2984l11 2 4-7-11-3zM1038 2982l11 3 4-7-11-3zM1002 2982l11 2 4-7-11-3zM1049 2985l10 3 4-7-10-3zM1013 2984l10 3 5-7-11-3zM1059 2988l11 3 4-7-11-3zM1023 2987l11 2 4-7-10-2zM923 2971l10 27 4-6-10-10zM939 3074l12 2 4-2-11-2zM951 3076l11 2 4-2-11-2zM989 3080l11 3 4-3-11-2zM962 3078l11 2 4-2-11-2zM973 3080l11 2 5-2-12-2zM984 3082l12 2 4-1-11-3z"/><path class=b7 d="M931 2983l10 2 5-7-11-2zM967 2982l10 2 4-7-10-2zM941 2985l11 2 4-7-10-2zM977 2984l11 2 4-7-11-2zM952 2987l10 2 5-7-11-2zM988 2986l10 3 4-7-10-3zM1070 2991l11 3 4-8-11-2zM1034 2989l11 3 4-7-11-3zM998 2989l11 2 4-7-11-2zM1045 2992l10 3 4-7-10-3zM1009 2991l10 3 4-7-10-3zM1055 2995l11 3 4-7-11-3zM1019 2994l11 2 4-7-11-2zM1066 2998l11 2 4-6-11-3zM937 3068l11 2 4-3-11-2zM948 3070l11 2 4-3-11-2zM959 3072l11 2 5-3-12-2zM933 3068l11 4 4-2-11-2zM970 3074l11 2 5-3-11-2zM944 3072l11 2 4-2-11-2zM981 3076l12 2 4-3-11-2zM955 3074l11 2 4-2-11-2zM993 3078l11 2 4-3-11-2zM966 3076l11 2 4-2-11-2zM977 3078l12 2 4-2-12-2z"/><path class=b6 d="M927 2982l10 10 4-7-10-2zM962 2989l11 2 4-7-10-2zM937 2992l10 2 5-7-11-2zM973 2991l10 2 5-7-11-2zM947 2994l11 2 4-7-10-2zM983 2993l11 3 4-7-10-3zM958 2996l11 2 4-7-11-2zM1030 2996l11 3 4-7-11-3zM994 2996l11 2 4-7-11-2zM1041 2999l10 3 4-7-10-3zM969 2998l10 2 4-7-10-2zM1005 2998l10 2 4-6-10-3zM1051 3002l11 2 4-6-11-3zM979 3000l11 2 4-6-11-3zM1015 3000l11 3 4-7-11-2zM1062 3004l11 3 4-7-11-2zM1026 3003l11 2 4-6-11-3zM1037 3005l10 3 4-6-10-3zM925 2991l10 20 4-5-11-6zM928 3045l11 11 4-3-11-3zM935 3060l11 2 4-4-11-2zM972 3062l11 2 4-4-11-2zM946 3062l11 2 4-4-11-2zM983 3064l11 2 4-4-11-2zM957 3064l11 1 4-3-11-2zM994 3066l11 2 4-4-11-2zM930 3058l11 7 5-3-11-2zM968 3065l11 2 4-3-11-2zM1005 3068l11 2 5-4-12-2zM941 3065l11 2 5-3-11-2zM979 3067l11 2 4-3-11-2zM952 3067l11 2 5-4-11-1zM990 3069l11 3 4-4-11-2zM963 3069l12 2 4-4-11-2zM1001 3072l11 2 4-4-11-2zM975 3071l11 2 4-4-11-2zM986 3073l11 2 4-3-11-3zM997 3075l11 2 4-3-11-2z"/><path class=b5 d="M933 2998l10 2 4-6-10-2zM943 3000l11 2 4-6-11-2zM954 3002l10 2 5-6-11-2zM990 3002l10 2 5-6-11-2zM928 3000l11 6 4-6-10-2zM964 3004l11 2 4-6-10-2zM1000 3004l11 3 4-7-10-2zM1047 3008l11 2 4-6-11-2zM975 3006l11 2 4-6-11-2zM1011 3007l11 2 4-6-11-3zM1058 3010l11 3 4-6-11-3zM950 3008l10 1 4-5-10-2zM1022 3009l11 2 4-6-11-2zM986 3008l10 2 4-6-10-2zM960 3009l11 2 4-5-11-2zM1033 3011l10 3 4-6-10-3zM996 3010l11 2 4-5-11-3zM1043 3014l11 2 4-6-11-2zM971 3011l10 2 5-5-11-2zM1007 3012l11 3 4-6-11-2zM1054 3016l11 3 4-6-11-3zM981 3013l11 2 4-5-10-2zM1018 3015l11 2 4-6-11-2zM1029 3017l10 2 4-5-10-3zM926 3009l11 14 4-5-11-3zM1000 3048l11 2 4-4-11-2zM937 3047l11 2 4-4-11-2zM974 3049l11 1 4-4-11-1zM1011 3050l11 2 4-4-11-2zM948 3049l11 2 4-4-11-2zM1022 3052l11 2 4-4-11-2zM985 3050l11 2 4-4-11-2zM959 3051l11 1 4-3-11-2zM996 3052l11 2 4-4-11-2zM932 3050l11 3 5-4-11-2zM970 3052l11 2 4-4-11-1zM1007 3054l11 2 4-4-11-2zM943 3053l11 1 5-3-11-2zM1018 3056l11 2 4-4-11-2zM981 3054l11 2 4-4-11-2zM954 3054l11 2 5-4-11-1zM992 3056l11 2 4-4-11-2zM965 3056l11 2 5-4-11-2zM1003 3058l11 2 4-4-11-2zM939 3056l11 2 4-4-11-1zM976 3058l11 2 5-4-11-2zM1014 3060l11 2 4-4-11-2zM950 3058l11 2 4-4-11-2zM987 3060l11 2 5-4-11-2zM961 3060l11 2 4-4-11-2zM998 3062l11 2 5-4-11-2zM1009 3064l12 2 4-4-11-2z"/><path class=b4 d="M939 3006l11 2 4-6-11-2zM935 3011l10 2 5-5-11-2zM945 3013l11 2 4-6-10-1zM956 3015l11 1 4-5-11-2zM992 3015l11 2 4-5-11-2zM930 3015l11 3 4-5-10-2zM1039 3019l11 3 4-6-11-2zM967 3016l10 2 4-5-10-2zM1003 3017l11 3 4-5-11-3zM941 3018l11 2 4-5-11-2zM1050 3022l11 2 4-5-11-3zM977 3018l11 2 4-5-11-2zM1014 3020l10 2 5-5-11-2zM952 3020l10 1 5-5-11-1zM1024 3022l11 2 4-5-10-2zM988 3020l11 2 4-5-11-2zM962 3021l11 2 4-5-10-2zM1035 3024l11 3 4-5-11-3zM999 3022l11 2 4-4-11-3zM937 3023l10 2 5-5-11-2zM1046 3027l11 2 4-5-11-2zM973 3023l11 2 4-5-11-2zM1010 3024l10 3 4-5-10-2zM947 3025l11 1 4-5-10-1zM1020 3027l11 2 4-5-11-2zM984 3025l11 2 4-5-11-2zM958 3026l11 2 4-5-11-2zM1031 3029l11 2 4-4-11-3zM995 3027l10 2 5-5-11-2zM932 3028l11 1 4-4-10-2zM1042 3031l11 2 4-4-11-2zM969 3028l11 2 4-5-11-2zM1005 3029l11 2 4-4-10-3zM943 3029l11 2 4-5-11-1zM980 3030l11 2 4-5-11-2zM1016 3031l11 2 4-4-11-2zM954 3031l11 2 4-5-11-2zM1027 3033l11 3 4-5-11-2zM991 3032l10 2 4-5-10-2zM928 3025l11 9 4-5-11-1zM1038 3036l11 2 4-5-11-2zM965 3033l11 1 4-4-11-2zM1001 3034l11 2 4-5-11-2zM939 3034l11 1 4-4-11-2zM976 3034l10 2 5-4-11-2zM1012 3036l11 2 4-5-11-2zM950 3035l10 2 5-4-11-2zM1023 3038l11 2 4-4-11-3zM986 3036l11 2 4-4-10-2zM960 3037l11 2 5-5-11-1zM1034 3040l11 2 4-4-11-2zM997 3038l11 2 4-4-11-2zM935 3038l10 1 5-4-11-1zM971 3039l11 1 4-4-10-2zM1008 3040l11 2 4-4-11-2zM945 3039l11 2 4-4-10-2zM1019 3042l11 2 4-4-11-2zM982 3040l11 2 4-4-11-2zM956 3041l11 2 4-4-11-2zM1030 3044l11 2 4-4-11-2zM993 3042l11 2 4-4-11-2zM930 3038l11 5 4-4-10-1zM967 3043l11 2 4-5-11-1zM1004 3044l11 2 4-4-11-2zM941 3043l11 2 4-4-11-2zM978 3045l11 1 4-4-11-2zM1015 3046l11 2 4-4-11-2zM952 3045l11 2 4-4-11-2zM1026 3048l11 2 4-4-11-2zM989 3046l11 2 4-4-11-2zM963 3047l11 2 4-4-11-2z"/><path fill="url(#q18_21)" d="M909 2797l9 36 4 1-9-30z"/><path fill="url(#q18_22)" d="M905 2790l9 36 4 7-9-36z"/><path fill="url(#q16_19)" d="M914 2826l9 40 4-5-9-28z"/><path fill="url(#q19_23)" d="M901 2787l9 28 4 11-9-36z"/><path fill="url(#q16_21)" d="M910 2815l9 48 4 3-9-40z"/><path class=cg d="M897 2786l10 17 3 12-9-28z"/><path fill="url(#q17_22)" d="M907 2803l9 48 3 12-9-48z"/><path fill="url(#q14_18)" d="M916 2851l8 47 4-3-9-32z"/><path fill="url(#q18_23)" d="M903 2797l9 38 4 16-9-48z"/><path fill="url(#q14_20)" d="M912 2835l9 55 3 8-8-47z"/><path fill="url(#q20_23)" d="M899 2796l9 23 4 16-9-38z"/><path fill="url(#q15_21)" d="M908 2819l9 56 4 15-9-55z"/><path fill="url(#q13_17)" d="M917 2875l9 47 4-1-9-31z"/><path fill="url(#q17_22)" d="M904 2810l9 47 4 18-9-56z"/><path fill="url(#q13_19)" d="M913 2857l9 57 4 8-9-47z"/><path fill="url(#q19_23)" d="M900 2810l10 29 3 18-9-47z"/><path fill="url(#q14_20)" d="M910 2839l8 60 4 15-9-57z"/><path fill="url(#q12_16)" d="M918 2899l9 45 5-4-10-26z"/><path class=cf d="M896 2811l10 15 4 13-10-29z"/><path fill="url(#q16_22)" d="M906 2826l9 55 3 18-8-60z"/><path fill="url(#q12_18)" d="M915 2881l9 57 3 6-9-45z"/><path fill="url(#q18_22)" d="M902 2824l9 37 4 20-9-55z"/><path fill="url(#q13_19)" d="M911 2861l9 63 4 14-9-57z"/><path fill="url(#q11_14)" d="M920 2924l9 40 4-6-9-20z"/><path fill="url(#q19_22)" d="M898 2825l10 20 3 16-9-37z"/><path fill="url(#q14_21)" d="M908 2845l8 60 4 19-9-63z"/><path fill="url(#q11_16)" d="M916 2905l9 56 4 3-9-40z"/><path fill="url(#q16_22)" d="M904 2838l9 46 3 21-8-60z"/><path fill="url(#q12_18)" d="M913 2884l8 64 4 13-9-56z"/><path fill="url(#q18_22)" d="M899 2839l10 26 4 19-9-46z"/><path fill="url(#q13_20)" d="M909 2865l9 64 3 19-8-64z"/><path fill="url(#q11_15)" d="M918 2929l9 53 4 1-10-35z"/><path fill="url(#q15_21)" d="M905 2854l9 53 4 22-9-64z"/><path fill="url(#q11_17)" d="M914 2907l9 64 4 11-9-53z"/><path fill="url(#q17_22)" d="M901 2854l10 32 3 21-9-53z"/><path fill="url(#q12_19)" d="M911 2886l8 67 4 18-9-64z"/><path fill="url(#q10_14)" d="M919 2953l9 47 5-2-10-27z"/><path class=cb d="M897 2855l10 17 4 14-10-32z"/><path fill="url(#q14_21)" d="M907 2872l9 58 3 23-8-67z"/><path fill="url(#q10_16)" d="M916 2930l9 61 3 9-9-47z"/><path fill="url(#q16_21)" d="M903 2869l9 39 4 22-9-58z"/><path fill="url(#q12_18)" d="M912 2908l9 66 4 17-9-61z"/><path fill="url(#q10_13)" d="M921 2974l9 41 5-4-10-20z"/><path fill="url(#q18_22)" d="M898 2870l11 20 3 18-9-39z"/><path fill="url(#q13_20)" d="M909 2890l9 62 3 22-9-66z"/><path fill="url(#q10_15)" d="M918 2952l8 57 4 6-9-41z"/><path fill="url(#q15_21)" d="M905 2883l9 47 4 22-9-62z"/><path fill="url(#q11_18)" d="M914 2930l9 64 3 15-8-57z"/><path class=b7 d="M923 2994l9 34 5-5-11-14z"/><path fill="url(#q18_21)" d="M900 2884l10 26 4 20-9-47z"/><path fill="url(#q13_19)" d="M910 2910l9 64 4 20-9-64z"/><path fill="url(#q10_15)" d="M919 2974l9 51 4 3-9-34z"/><path class=ca d="M896 2885l10 13 4 12-10-26z"/><path fill="url(#q15_21)" d="M906 2898l10 53 3 23-9-64z"/><path class=c5 d="M663 2910l11-1 5 1-10 0z"/><path fill="url(#q11_17)" d="M916 2951l9 62 3 12-9-51z"/><path class=c6 d="M674 2909l10-1 6 3-11-1z"/><path class=cc d="M891 2888l11 10 4 0-10-13z"/><path class=b6 d="M925 3013l10 25 4-4-11-9z"/><path fill="url(#q17_21)" d="M902 2898l10 32 4 21-10-53z"/><path class=c6 d="M684 2908l11 1 5 4-10-2z"/><path class=c7 d="M658 2907l11-2 5 4-11 1z"/><path fill="url(#q12_19)" d="M912 2930l9 64 4 19-9-62z"/><path class=c6 d="M695 2909l11 4 5 4-11-4z"/><path class=c8 d="M669 2905l10-2 5 5-10 1z"/><path class=c9 d="M642 2906l11 0 5 1-10 0z"/><path fill="url(#q10_14)" d="M921 2994l9 44 5 0-10-25z"/><path class=c6 d="M706 2913l10 4 6 4-11-4z"/><path class=c9 d="M679 2903l11 1 5 5-11-1z"/><path class=c8 d="M897 2901l11 15 4 14-10-32z"/><path class=ca d="M653 2906l10-4 6 3-11 2z"/><path class=c5 d="M716 2917l11 4 5 3-10-3z"/><path fill="url(#q14_20)" d="M908 2916l9 56 4 22-9-64z"/><path class=c9 d="M690 2904l11 3 5 6-11-4z"/><path class=cb d="M663 2902l11-3 5 4-10 2z"/><path fill="url(#q10_16)" d="M917 2972l9 57 4 9-9-44z"/><path class=c5 d="M727 2921l11 2 5 3-11-2z"/><path class=c8 d="M701 2907l10 5 5 5-10-4z"/><path class=cc d="M674 2899l11 0 5 5-11-1z"/><path class=cb d="M647 2906l11-4 5 0-10 4z"/><path class=b6 d="M926 3029l11 18 4-4-11-5z"/><path class=c5 d="M738 2923l11 2 5 3-11-2z"/><path class=c8 d="M711 2912l11 3 5 6-11-4z"/><path fill="url(#q16_20)" d="M904 2916l10 37 3 19-9-56z"/><path class=cc d="M685 2899l10 3 6 5-11-3z"/><path class=cd d="M658 2902l11-5 5 2-11 3z"/><path class=c5 d="M749 2925l11 1 4 4-10-2z"/><path class=c8 d="M722 2915l11 2 5 6-11-2z"/><path fill="url(#q11_18)" d="M914 2953l9 61 3 15-9-57z"/><path class=cb d="M695 2902l11 5 5 5-10-5z"/><path class=ce d="M669 2897l10-1 6 3-11 0z"/><path class=cc d="M642 2908l11-5 5-1-11 4z"/><path class=c5 d="M760 2926l10 2 5 4-11-2z"/><path fill="url(#q10_13)" d="M923 3014l9 36 5-3-11-18z"/><path class=c8 d="M733 2917l11 2 5 6-11-2z"/><path class=cb d="M706 2907l11 3 5 5-11-3z"/><path class=ce d="M679 2896l11 4 5 2-10-3z"/><path class=c5 d="M770 2928l11 2 5 3-11-1z"/><path class=ce d="M653 2903l10-5 6-1-11 5z"/><path class=c8 d="M744 2919l11 2 5 5-11-1z"/><path class=cb d="M717 2910l11 2 5 5-11-2z"/><path fill="url(#q13_19)" d="M910 2941l9 55 4 18-9-61z"/><path class=ce d="M690 2900l11 4 5 3-11-5z"/><path class=c5 d="M781 2930l11 1 5 3-11-1z"/><path class=cg d="M663 2898l11-2 5 0-10 1z"/><path class=cd d="M637 2912l10-6 6-3-11 5z"/><path class=c8 d="M755 2921l10 1 5 6-10-2z"/><path fill="url(#q10_15)" d="M919 2996l9 49 4 5-9-36z"/><path class=cb d="M728 2912l11 2 5 5-11-2z"/><path class=cd d="M701 2904l11 4 5 2-11-3z"/><path class=c6 d="M792 2931l11 0 5 3-11 0z"/><path class=cg d="M674 2896l11 4 5 0-11-4z"/><path class=c8 d="M765 2922l11 2 5 6-11-2z"/><path class=cf d="M647 2906l11-5 5-3-10 5z"/><path class=cb d="M739 2914l11 2 5 5-11-2z"/><path class=c6 d="M803 2931l11 0 5 2-11 1z"/><path class=cd d="M712 2908l11 2 5 2-11-2z"/><path fill="url(#q15_20)" d="M905 2938l10 41 4 17-9-55z"/><path class=cg d="M685 2900l11 4 5 0-11-4z"/><path class=c8 d="M776 2924l11 2 5 5-11-1z"/><path class=ch d="M658 2901l11-2 5-3-11 2z"/><path class=cb d="M750 2916l11 2 4 4-10-1z"/><path class=c7 d="M814 2931l11-1 5 1-11 2z"/><path class=cd d="M723 2910l11 2 5 2-11-2z"/><path fill="url(#q11_17)" d="M915 2979l9 54 4 12-9-49z"/><path class=cf d="M696 2904l11 4 5 0-11-4z"/><path class=c8 d="M787 2926l11 1 5 4-11 0z"/><path class=ch d="M669 2899l11 3 5-2-11-4z"/><path class=cf d="M642 2911l11-7 5-3-11 5z"/><path class=cb d="M761 2918l10 1 5 5-11-2z"/><path class=c9 d="M825 2930l11-3 5 0-11 4z"/><path class=b8 d="M924 3033l11 27 4-4-11-11z"/><path class=cd d="M734 2912l11 1 5 3-11-2z"/><path class=c9 d="M798 2927l11 0 5 4-11 0z"/><path class=cf d="M707 2908l11 2 5 0-11-2z"/><path class=cg d="M680 2902l11 5 5-3-11-4z"/><path fill="url(#q17_20)" d="M901 2940l10 24 4 15-10-41z"/><path class=cb d="M771 2919l11 2 5 5-11-2z"/><path class=ch d="M653 2904l11-4 5-1-11 2z"/><path class=ca d="M836 2927l11-4 5 1-11 3z"/><path class=cd d="M745 2913l11 2 5 3-11-2z"/><path class=c9 d="M809 2927l11-1 5 4-11 1z"/><path class=cf d="M718 2910l11 2 5 0-11-2z"/><path fill="url(#q12_18)" d="M911 2964l10 53 3 16-9-54z"/><path class=cg d="M691 2907l11 4 5-3-11-4z"/><path class=cb d="M782 2921l11 1 5 5-11-1z"/><path class=cc d="M847 2923l12-2 4 2-11 1z"/><path class=ch d="M664 2900l10 10 6-8-11-3z"/><path class=cg d="M637 2916l10-10 6-2-11 7z"/><path class=cd d="M756 2915l11 2 4 2-10-1z"/><path class=cb d="M820 2926l12-2 4 3-11 3z"/><path fill="url(#q10_14)" d="M921 3017l9 41 5 2-11-27z"/><path class=cf d="M729 2912l11 2 5-1-11-1z"/><path class=cd d="M859 2921l11 0 4 3-11-1z"/><path class=cb d="M793 2922l12 2 4 3-11 0z"/><path class=cg d="M702 2911l10 2 6-3-11-2z"/><path class=cg d="M674 2910l11 5 6-8-11-5z"/><path class=c5 d="M896 2938l11 12 4 14-10-24z"/><path class=cd d="M767 2917l11 2 4 2-11-2z"/><path class=ci d="M647 2906l11 0 6-6-11 4z"/><path class=cc d="M832 2924l11-3 4 2-11 4z"/><path class=cf d="M740 2914l11 1 5 0-11-2z"/><path class=c8 d="M317 2948l10-4 6 1-10 0z"/><path class=cc d="M870 2921l11 3 4 6-11-6z"/><path class=cc d="M805 2924l11 0 4 2-11 1z"/><path class=cg d="M712 2913l11 2 6-3-11-2z"/><path class=cg d="M685 2915l11 1 6-5-11-4z"/><path class=ce d="M843 2921l11-4 5 4-12 2z"/><path class=ch d="M658 2906l11 14 5-10-10-10z"/><path class=c7 d="M300 2958l10-12 7 2-10 2z"/><path class=cf d="M751 2915l11 2 5 0-11-2z"/><path class=cb d="M881 2924l11 7 4 7-11-8z"/><path class=cd d="M816 2924l11-2 5 2-12 2z"/><path class=cg d="M723 2915l11 1 6-2-11-2z"/><path class=c9 d="M327 2944l10-3 7 5-11-1z"/><path class=cg d="M696 2916l11 2 5-5-10-2z"/><path class=ce d="M789 2921l11 1 5 2-12-2z"/><path class=cf d="M854 2917l11-1 5 5-11 0z"/><path class=c9 d="M892 2931l11 10 4 9-11-12z"/><path class=cg d="M642 2917l11 5 5-16-11 0z"/><path class=cf d="M762 2917l11 2 5 0-11-2z"/><path class=ce d="M827 2922l11-3 5 2-11 3z"/><path class=ca d="M310 2946l9-12 8 10-10 4z"/><path class=b8 d="M926 3048l11 20 4-3-11-7z"/><path class=cg d="M734 2916l11 2 6-3-11-1z"/><path class=cf d="M865 2916l12 1 4 7-11-3z"/><path class=ce d="M800 2922l11 1 5 1-11 0z"/><path class=cg d="M707 2918l11 3 5-6-11-2z"/><path class=ca d="M337 2941l10-4 7 10-10-1z"/><path fill="url(#q16_21)" d="M903 2941l10 30 4 25-10-46z"/><path class=cf d="M773 2919l11 2 5 0-11-2z"/><path class=c8 d="M294 2963l9-18 7 1-10 12z"/><path class=cf d="M653 2922l11 8 5-10-11-14z"/><path class=cg d="M838 2919l11-4 5 2-11 4z"/><path class=cg d="M745 2918l11 2 6-3-11-2z"/><path class=cf d="M877 2917l11 6 4 8-11-7z"/><path class=cd d="M319 2934l10-11 8 18-10 3z"/><path class=cf d="M811 2923l11-1 5 0-11 2z"/><path class=cg d="M718 2921l11-1 5-4-11-1z"/><path class=cb d="M347 2937l10-3 8 13-11 0z"/><path class=cf d="M784 2921l11 3 5-2-11-1z"/><path class=ch d="M849 2915l12-3 4 4-11 1z"/><path class=cg d="M756 2920l12 2 5-3-11-2z"/><path class=cd d="M888 2923l11 8 4 10-11-10z"/><path class=cd d="M303 2945l9-17 7 6-9 12z"/><path class=cg d="M822 2922l11-2 5-1-11 3z"/><path fill="url(#q11_14)" d="M923 3029l10 39 4 0-11-20z"/><path class=cg d="M729 2920l11 8 5-10-11-2z"/><path class=cg d="M329 2923l10-11 8 25-10 4z"/><path class=ci d="M861 2912l11 0 5 5-12-1z"/><path class=cf d="M795 2924l11 1 5-2-11-1z"/><path fill="url(#q15_21)" d="M289 2996l12 28 2-79-9 18z"/><path class=cc d="M357 2934l11-2 7 16-10-1z"/><path fill="url(#q18_22)" d="M899 2931l11 16 3 24-10-30z"/><path class=cg d="M768 2922l11 3 5-4-11-2z"/><path class=ci d="M312 2928l10-15 7 10-10 11z"/><path class=cg d="M740 2928l11-6 5-2-11-2z"/><path class=ci d="M872 2912l11 3 5 8-11-6z"/><path class=cg d="M806 2925l11 0 5-3-11 1z"/><path class=cf d="M713 2930l11-5 5-5-11 1z"/><path fill="url(#q21_24)" d="M339 2912l10-9 8 31-10 3z"/><path fill="url(#q14_21)" d="M910 2947l9 55 4 27-10-58z"/><path class=cg d="M779 2925l11 2 5-3-11-3z"/><path class=cj d="M845 2916l11-4 5 0-12 3z"/><path class=cd d="M368 2932l10-1 7 17-10 0z"/><path fill="url(#q13_22)" d="M301 3024l13 33-2-129-9 17z"/><path class=ce d="M631 2942l11-17 6 7-11-10z"/><path class=cg d="M751 2922l11 7 6-7-12-2z"/><path class=ch d="M883 2915l12 8 4 8-11-8z"/><path class=ch d="M817 2925l11-1 5-4-11 2z"/><path class=cm d="M322 2913l9-16 8 15-10 11z"/><path class=cf d="M724 2925l11 5 5-2-11-8z"/><path class=ck d="M856 2912l11-2 5 2-11 0z"/><path class=cg d="M790 2927l11 3 5-5-11-1z"/><path fill="url(#q22_25)" d="M349 2903l10-8 9 37-11 2z"/><path class=ce d="M895 2923l11 10 4 14-11-16z"/><path class=ce d="M642 2925l11 12 5-5-10 0z"/><path class=cg d="M762 2929l12 2 5-6-11-3z"/><path class=cd d="M615 2939l11-10 5 13-11-9z"/><path class=ce d="M378 2931l11-2 7 20-11-1z"/><path class=ci d="M828 2924l12-4 5-4-12 4z"/><path fill="url(#q11_24)" d="M314 3057l12 29-4-173-10 15z"/><path class=ba d="M929 3057l10 17 5-2-11-4z"/><path class=cf d="M735 2930l11 7 5-15-11 6z"/><path class=cl d="M867 2910l12 2 4 3-11-3z"/><path class=cg d="M801 2930l11 1 5-6-11 0z"/><path class=cq d="M331 2897l10-13 8 19-10 9z"/><path fill="url(#q16_22)" d="M906 2933l10 40 3 29-9-55z"/><path class=cf d="M774 2931l11 4 5-8-11-2z"/><path fill="url(#q22_26)" d="M359 2895l10-6 9 42-10 1z"/><path class=ck d="M840 2920l11-3 5-5-11 4z"/><path class=ce d="M626 2929l11 5 5-9-11 17z"/><path class=cf d="M746 2937l11 0 5-8-11-7z"/><path class=ce d="M389 2929l10 0 8 21-11-1z"/><path fill="url(#q9_25)" d="M326 3086l11 23-6-212-9 16z"/><path class=cg d="M812 2931l11-1 5-6-11 1z"/><path fill="url(#q12_19)" d="M916 2973l9 64 4 20-10-55z"/><path class=cu d="M341 2884l10-11 8 22-10 8z"/><path class=cf d="M785 2935l11-2 5-3-11-3z"/><path class=cl d="M851 2917l12-3 4-4-11 2z"/><path class=cd d="M637 2934l11 33 5-30-11-12z"/><path fill="url(#q22_26)" d="M369 2889l11-5 9 45-11 2z"/><path class=ci d="M890 2918l11 9 5 6-11-10z"/><path class=cf d="M757 2937l11 5 6-11-12-2z"/><path class=ce d="M609 2944l11-8 6-7-11 10z"/><path class=ci d="M823 2930l12-2 5-8-12 4z"/><path fill="url(#q11_14)" d="M925 3037l10 37 4 0-10-17z"/><path class=cf d="M399 2929l11-1 7 23-10-1z"/><path fill="url(#q8_26)" d="M337 3109l12 22-8-247-10 13z"/><path class=cm d="M863 2914l11 0 5-2-12-2z"/><path class=cf d="M796 2933l11 8 5-10-11-1z"/><path class=cx d="M351 2873l10-9 8 25-10 6z"/><path fill="url(#q19_23)" d="M901 2927l11 21 4 25-10-40z"/><path class=cj d="M835 2928l11-3 5-8-11 3z"/><path class=cf d="M620 2936l11 10 6-12-11-5z"/><path fill="url(#q23_27)" d="M380 2884l10-4 9 49-10 0z"/><path class=cm d="M874 2914l11 4 5 0-11-6z"/><path class=cf d="M410 2928l10 0 8 25-11-2z"/><path class=cf d="M807 2941l11 2 5-13-11 1z"/><path class=cd d="M714 2939l11 4 5-2-11 3z"/><path fill="url(#q6_27)" d="M349 3131l11 21-9-279-10 11z"/><path class=cb d="M438 2954l11 1 7 2-11-1z"/><path class=cl d="M846 2925l12-4 5-7-12 3z"/><path class=d0 d="M361 2864l11-7 8 27-11 5z"/><path class=ck d="M885 2918l12 8 4 1-11-9z"/><path fill="url(#q23_27)" d="M390 2880l11-3 9 51-11 1z"/><path class=cg d="M818 2943l12-8 5-7-12 2z"/><path fill="url(#q12_17)" d="M921 3011l10 54 4 9-10-37z"/><path class=cg d="M420 2928l11 1 7 25-10-1z"/><path class=cm d="M858 2921l11 0 5-7-11 0z"/><path class=cb d="M449 2955l11 1 6 2-10-1z"/><path fill="url(#q4_28)" d="M360 3152l12 22-11-310-10 9z"/><path class=ch d="M897 2926l11 10 4 12-11-21z"/><path class=c8 d="M642 2966l11-2 6-10-11 13z"/><path fill="url(#q26_29)" d="M372 2857l10-6 8 29-10 4z"/><path class=ci d="M830 2935l11 4 5-14-11 3z"/><path class=bc d="M931 3065l11 12 4 0-11-3z"/><path fill="url(#q23_27)" d="M401 2877l10-2 9 53-10 0z"/><path class=cm d="M869 2921l12 2 4-5-11-4z"/><path class=cc d="M708 2961l11-4 6-14-11-4z"/><path class=cg d="M431 2929l11 0 7 26-11-1z"/><path fill="url(#q17_23)" d="M908 2936l10 48 3 27-9-63z"/><path class=cb d="M460 2956l11 0 6 3-11-1z"/><path fill="url(#q3_29)" d="M372 3174l11 25-11-342-11 7z"/><path class=cj d="M841 2939l12-8 5-10-12 4z"/><path class=cc d="M625 2944l12 6 5 16-11-20z"/><path fill="url(#q27_30)" d="M382 2851l11-4 8 30-11 3z"/><path class=cl d="M881 2923l11 6 5-3-12-8z"/><path fill="url(#q23_28)" d="M411 2875l11-2 9 56-11-1z"/><path fill="url(#q13_19)" d="M918 2984l9 63 4 18-10-54z"/><path class=ch d="M442 2929l11 0 7 27-11-1z"/><path class=cl d="M853 2931l11-3 5-7-11 0z"/><path class=ca d="M664 2964l11-6 6 0-11 6z"/><path class=cc d="M471 2956l10 1 7 3-11-1z"/><path class=c9 d="M637 2950l11 24 5-10-11 2z"/><path fill="url(#q1_29)" d="M383 3199l12 26-13-374-10 6z"/><path class=ck d="M892 2929l11 8 5-1-11-10z"/><path class=bf d="M927 3047l11 30 4 0-11-12z"/><path fill="url(#q27_30)" d="M393 2847l10-4 8 32-10 2z"/><path class=cl d="M864 2928l12 4 5-9-12-2z"/><path fill="url(#q23_28)" d="M422 2873l11-1 9 57-11 0z"/><path class=ch d="M453 2929l10 0 8 27-11 0z"/><path class=cb d="M675 2958l11 4 6-5-11 1z"/><path fill="url(#q19_23)" d="M903 2937l11 26 4 21-10-48z"/><path class=cc d="M481 2957l11 1 6 3-10-1z"/><path class=cd d="M620 2961l11 0 6-11-12-6z"/><path fill="url(#q0_30)" d="M395 3225l10 7-12-385-11 4z"/><path class=cl d="M876 2932l11 4 5-7-11-6z"/><path fill="url(#q27_30)" d="M403 2843l11-3 8 33-11 2z"/><path fill="url(#q14_21)" d="M914 2963l10 62 3 22-9-63z"/><path fill="url(#q23_28)" d="M433 2872l11-1 9 58-11 0z"/><path class=ce d="M781 2966l11-33 5 22-11 2z"/><path class=ch d="M463 2929l11 2 7 26-10-1z"/><path class=c9 d="M659 2967l11 16 5-25-11 6z"/><path class=cc d="M492 2958l11 1 6 3-11-1z"/><path class=ca d="M631 2961l11 15 6-2-11-24z"/><path class=ck d="M887 2936l12 5 4-4-11-8z"/><path fill="url(#q0_30)" d="M405 3232l11 4-13-393-10 4z"/><path fill="url(#q12_17)" d="M924 3025l9 47 5 5-11-30z"/><path fill="url(#q28_31)" d="M414 2840l11-2 8 34-11 1z"/><path class=cf d="M792 2933l11 30 5-5-11-3z"/><path fill="url(#q24_28)" d="M444 2871l11 0 8 58-10 0z"/><path class=c8 d="M670 2983l11 4 5-25-11-4z"/><path class=ci d="M474 2931l11 1 7 26-11-1z"/><path class=cg d="M899 2941l11 15 4 7-11-26z"/><path class=cc d="M503 2959l11 2 6 2-11-1z"/><path class=be d="M933 3072l12 8 4 0-11-3z"/><path fill="url(#q0_30)" d="M416 3236l10 3-12-399-11 3z"/><path class=c8 d="M709 2984l11-16 5 5-11-1z"/><path fill="url(#q28_31)" d="M425 2838l11-2 8 35-11 1z"/><path fill="url(#q17_22)" d="M910 2956l10 44 4 25-10-62z"/><path fill="url(#q24_28)" d="M455 2871l11 1 8 59-11-2z"/><path fill="url(#q20_23)" d="M775 2975l12-5 5-37-11 33z"/><path class=ci d="M485 2932l11 1 7 26-11-1z"/><path class=cd d="M514 2961l11 1 6 2-11-1z"/><path class=ca d="M598 2974l11-18 6 20-11-2z"/><path fill="url(#q0_31)" d="M426 3239l10 3-11-404-11 2z"/><path class=c9 d="M720 2968l11 19 5-13-11-1z"/><path fill="url(#q13_19)" d="M920 3000l9 58 4 14-9-47z"/><path fill="url(#q28_31)" d="M436 2836l11 0 8 35-11 0z"/><path class=ca d="M692 2971l11-3 6 16-11-15z"/><path class=ce d="M787 2970l11 0 5-7-11-30z"/><path fill="url(#q24_28)" d="M466 2872l11 3 8 57-11-1z"/><path class=ci d="M496 2933l11 2 7 26-11-2z"/><path class=cg d="M894 2954l11 10 5-8-11-15z"/><path class=c9 d="M759 2986l11-16 5 5-11 1z"/><path class=ca d="M609 2956l11 31 5-20-10 9z"/><path class=bh d="M929 3058l11 21 5 1-12-8z"/><path fill="url(#q0_31)" d="M436 3242l11 2-11-408-11 2z"/><path class=c9 d="M703 2968l12 24 5-24-11 16z"/><path fill="url(#q28_31)" d="M447 2836l11 2 8 34-11-1z"/><path class=c7 d="M676 2983l11 7 5-19-11 16z"/><path fill="url(#q19_22)" d="M905 2964l11 27 4 9-10-44z"/><path fill="url(#q24_28)" d="M477 2875l11 2 8 56-11-1z"/><path class=ca d="M770 2970l12 17 5-17-12 5z"/><path class=ci d="M507 2935l11 3 7 24-11-1z"/><path class=cc d="M592 2974l11-8 6-10-11 18z"/><path class=c9 d="M715 2992l11-17 5 12-11-19z"/><path fill="url(#q15_20)" d="M916 2991l9 55 4 12-9-58z"/><path fill="url(#q0_31)" d="M447 3244l10-3-10-405-11 0z"/><path class=ca d="M687 2990l11-16 5-6-11 3z"/><path class=da d="M458 2838l11 3 8 34-11-3z"/><path class=c8 d="M659 2984l11-7 6 6-11 6z"/><path fill="url(#q24_28)" d="M488 2877l11 3 8 55-11-2z"/><path class=c9 d="M631 2970l11 2 6 18-11 2z"/><path class=ci d="M518 2938l11 4 7 22-11-2z"/><path class=cc d="M603 2966l11 4 6 17-11-31z"/><path class=c7 d="M754 2990l11 9 5-29-11 16z"/><path class=bl d="M925 3046l11 36 4-3-11-21z"/><path class=c9 d="M726 2975l11 9 5-1-11 4z"/><path class=ca d="M698 2974l11 9 6 9-12-24z"/><path fill="url(#q1_31)" d="M457 3241l10-8-9-395-11-2z"/><path class=c9 d="M670 2977l11 1 6 12-11-7z"/><path class=da d="M469 2841l11 3 8 33-11-2z"/><path class=ca d="M642 2972l11 4 6 8-11 6z"/><path class=c9 d="M765 2999l12-20 5 8-12-17z"/><path fill="url(#q24_28)" d="M499 2880l11 7 8 51-11-3z"/><path class=ca d="M614 2970l12 25 5-25-11 17z"/><path class=ci d="M529 2942l11 6 7 19-11-3z"/><path class=cc d="M586 2985l11-20 6 1-11 8z"/><path class=c8 d="M709 2983l12 14 5-22-11 17z"/><path fill="url(#q16_21)" d="M911 2982l11 35 3 29-9-55z"/><path class=ca d="M681 2978l12-2 5-2-11 16z"/><path fill="url(#q1_31)" d="M467 3233l10-11-8-381-11-3z"/><path class=cb d="M653 2976l12 4 5-3-11 7z"/><path class=d9 d="M480 2844l12 4 7 32-11-3z"/><path class=c9 d="M626 2995l11 3 5-26-11-2z"/><path fill="url(#q24_28)" d="M510 2887l12 8 7 47-11-4z"/><path class=cd d="M597 2965l12 24 5-19-11-4z"/><path class=ch d="M540 2948l12 8 6 14-11-3z"/><path class=c7 d="M816 2998l11-11 5 16-11-12z"/><path fill="url(#q13_18)" d="M922 3017l10 51 4 14-11-36z"/><path class=c9 d="M721 2997l11-8 5-5-11-9z"/><path class=ca d="M693 2976l11 25 5-18-11-9z"/><path fill="url(#q3_31)" d="M477 3222l10-14-7-364-11-3z"/><path class=ca d="M665 2980l11 19 5-21-11-1z"/><path fill="url(#q28_31)" d="M492 2848l11 9 7 30-11-7z"/><path class=c9 d="M637 2998l11 9 5-31-11-4z"/><path fill="url(#q23_27)" d="M522 2895l11 11 7 42-11-6z"/><path class=ca d="M609 2989l11-7 6 13-12-25z"/><path class=cg d="M552 2956l11 9 6 8-11-3z"/><path fill="url(#q18_22)" d="M581 2990l11 31 5-56-11 20z"/><path class=c8 d="M827 2987l12 7 5-12-12 21z"/><path class=bi d="M932 3068l10 23 5-6-11-3z"/><path class=c6 d="M704 3001l11 6 6-10-12-14z"/><path class=c7 d="M907 2988l11 19 4 10-11-35z"/><path class=ca d="M676 2999l11-4 6-19-12 2z"/><path fill="url(#q4_31)" d="M487 3208l10-21-5-339-12-4z"/><path class=c8 d="M648 3007l11 3 6-30-12-4z"/><path fill="url(#q27_30)" d="M503 2857l12 10 7 28-12-8z"/><path fill="url(#q20_23)" d="M620 2982l11-27 6 43-11-3z"/><path fill="url(#q23_27)" d="M533 2906l12 18 7 32-12-8z"/><path fill="url(#q18_22)" d="M592 3021l11-29 6-3-12-24z"/><path class=cd d="M563 2965l12 19 6 6-12-17z"/><path class=c6 d="M743 3001l12-9 5 14-12-5z"/><path class=cf d="M879 2984l12-28 4 17-12 5z"/><path class=c7 d="M811 2996l11 11 5-20-11 11z"/><path fill="url(#q15_20)" d="M918 3007l9 56 5 5-10-51z"/><path class=c9 d="M687 2995l11-1 6 7-11-25z"/><path fill="url(#q17_20)" d="M783 3007l10 40 6-47-11-6z"/><path class=c8 d="M659 3010l11-17 6 6-11-19z"/><path fill="url(#q6_31)" d="M497 3187l10-28-4-302-11-9z"/><path fill="url(#q19_23)" d="M631 2955l11 52 6 0-11-9z"/><path fill="url(#q27_30)" d="M515 2867l11 15 7 24-11-11z"/><path fill="url(#q20_23)" d="M603 2992l11-34 6 24-11 7z"/><path class=ce d="M891 2956l11 35 5-3-12-15z"/><path class=c8 d="M755 2992l11-1 5 2-11 13z"/><path fill="url(#q22_26)" d="M545 2924l12 22 6 19-11-9z"/><path fill="url(#q18_23)" d="M575 2984l10-20 7 57-11-31z"/><path class=c7 d="M822 3007l11 6 6-19-12-7z"/><path class=bl d="M927 3063l11 27 4 1-10-23z"/><path fill="url(#q17_20)" d="M793 3047l12-39 6-12-12 4z"/><path class=c9 d="M670 2993l12 0 5 2-11 4z"/><path class=c7 d="M766 2991l11 20 6-4-12-14z"/><path fill="url(#q8_30)" d="M507 3159l9-33-1-259-12-10z"/><path class=bi d="M938 3090l12-2 4-2-12 5z"/><path class=cg d="M614 2958l11 35 6-38-11 27z"/><path fill="url(#q26_29)" d="M526 2882l12 25 7 17-12-18z"/><path fill="url(#q18_23)" d="M585 2964l12 32 6-4-11 29z"/><path fill="url(#q21_24)" d="M557 2946l11 8 7 30-12-19z"/><path fill="url(#q19_24)" d="M738 3015l12-66 5 43-12 9z"/><path fill="url(#q20_23)" d="M873 3001l12 10 6-55-12 28z"/><path fill="url(#q16_20)" d="M913 3004l11 34 3 25-9-56z"/><path class=ca d="M682 2993l11-5 5 6-11 1z"/><path fill="url(#q17_19)" d="M777 3011l12 6 4 30-10-40z"/><path class=c9 d="M653 2990l12 0 5 3-11 17z"/><path fill="url(#q20_23)" d="M625 2993l12 1 5 13-11-52z"/><path fill="url(#q11_30)" d="M516 3126l10-41 0-203-11-15z"/><path fill="url(#q20_23)" d="M597 2996l11 6 6-44-11 34z"/><path fill="url(#q24_27)" d="M538 2907l12 28 7 11-12-22z"/><path fill="url(#q21_24)" d="M568 2954l11-2 6 12-10 20z"/><path fill="url(#q20_24)" d="M750 2949l11 43 5-1-11 1z"/><path fill="url(#q20_23)" d="M885 3011l12-12 5-8-11-35z"/><path class=c5 d="M817 3001l11 21 5-9-11-6z"/><path fill="url(#q14_18)" d="M924 3038l10 48 4 4-11-27z"/><path class=c7 d="M721 3006l12-15 5 24-11-16z"/><path class=c9 d="M693 2988l11 9 6 22-12-25z"/><path class=c8 d="M857 3002l11 3 5-4-11 6z"/><path fill="url(#q17_20)" d="M789 3017l11-3 5-6-12 39z"/><path class=ca d="M665 2990l11 15 6-12-12 0z"/><path class=c9 d="M637 2994l11 11 5-15-11 17z"/><path fill="url(#q17_21)" d="M761 2992l11 53 5-34-11-20z"/><path fill="url(#q14_29)" d="M526 3085l10-52 2-126-12-25z"/><path fill="url(#q20_23)" d="M608 3002l12 7 5-16-11-35z"/><path class=cp d="M550 2935l12 10 6 9-11-8z"/><path fill="url(#q21_24)" d="M579 2952l12 45 6-1-12-32z"/><path class=c5 d="M828 3022l12-13 5 3-12 1z"/><path class=bk d="M934 3086l11 4 5-2-12 2z"/><path fill="url(#q19_24)" d="M733 2991l11 26 6-68-12 66z"/><path class=c7 d="M800 3014l12-10 5-3-12 7z"/><path class=c6 d="M704 2997l12 24 5-15-11 13z"/><path class=ca d="M676 3005l12-2 5-15-11 5z"/><path class=c3 d="M772 3045l12-25 5-3-12-6z"/><path class=ca d="M648 3005l11-5 6-10-12 0z"/><path class=c8 d="M840 3009l12-4 5-3-12 10z"/><path class=ca d="M620 3009l11-11 6-4-12-1z"/><path fill="url(#q18_27)" d="M536 3033l9-71 5-27-12-28z"/><path class=c9 d="M591 2997l12 16 5-11-11-6z"/><path class=co d="M562 2945l11 11 6-4-11 2z"/><path fill="url(#q19_24)" d="M744 3017l11 11 6-36-11-43z"/><path class=c7 d="M812 3004l12 8 4 10-11-21z"/><path class=c8 d="M716 3021l11-21 6-9-12 15z"/><path fill="url(#q14_18)" d="M919 3046l11 27 4 13-10-48z"/><path class=c9 d="M688 3003l11 17 5-23-11-9z"/><path class=c4 d="M784 3020l11 8 5-14-11 3z"/><path class=c9 d="M852 3005l12 5 4-5-11-3z"/><path class=ca d="M659 3000l12 5 5 0-11-15z"/><path class=ca d="M631 2998l11 11 6-4-11-11z"/><path fill="url(#q17_21)" d="M755 3028l12-15 5 32-11-53z"/><path fill="url(#q19_25)" d="M545 2962l13 61 4-78-12-10z"/><path fill="url(#q21_24)" d="M573 2956l12 20 6 21-12-45z"/><path class=c6 d="M824 3012l11 15 5-18-12 13z"/><path class=bm d="M930 3073l11 19 4-2-11-4z"/><path class=c9 d="M727 3000l12 15 5 2-11-26z"/><path class=c6 d="M795 3028l12-11 5-13-12 10z"/><path class=c6 d="M699 3020l11 5 6-4-12-24z"/><path class=ca d="M671 3005l11-4 6 2-12 2z"/><path class=c3 d="M903 3023l12 0 4 23-11-25z"/><path fill="url(#q17_20)" d="M767 3013l12 1 5 6-12 25z"/><path class=c6 d="M835 3027l11 4 6-26-12 4z"/><path fill="url(#q19_23)" d="M585 2976l12 51 6-14-12-16z"/><path fill="url(#q18_25)" d="M558 3023l11 25 4-92-11-11z"/><path class=c5 d="M739 3015l11 3 5 10-11-11z"/><path fill="url(#q16_20)" d="M915 3023l10 46 5 4-11-27z"/><path class=c9 d="M682 3001l11 3 6 16-11-17z"/><path class=c4 d="M779 3014l11 23 5-9-11-8z"/><path class=c9 d="M654 3004l11 21 6-20-12-5z"/><path fill="url(#q18_24)" d="M569 3048l11-28 5-44-12-20z"/><path class=c6 d="M750 3018l12 2 5-7-12 15z"/><path class=c6 d="M818 3034l12-23 5 16-11-15z"/><path class=bp d="M925 3069l11 22 5 1-11-19z"/><path class=c8 d="M693 3004l12 4 5 17-11-5z"/><path fill="url(#q19_24)" d="M790 3037l12-66 5 46-12 11z"/><path class=c9 d="M665 3025l11-7 6-17-11 4z"/><path class=c6 d="M899 3020l11 6 5-3-12 0z"/><path fill="url(#q19_24)" d="M637 3025l10-64 7 43-12 5z"/><path class=c6 d="M762 3020l11 14 6-20-12-1z"/><path fill="url(#q19_23)" d="M580 3020l11 14 6-7-12-51z"/><path class=c6 d="M830 3011l12 17 4 3-11-4z"/><path class=c6 d="M733 3031l12-7 5-6-11-3z"/><path class=c5 d="M870 3026l12 8 5-17-12 14z"/><path fill="url(#q19_24)" d="M802 2971l11 56 5 7-11-17z"/><path class=c9 d="M705 3008l11-5 6 15-12 7z"/><path fill="url(#q16_20)" d="M910 3026l11 33 4 10-10-46z"/><path class=cb d="M676 3018l12-11 5-3-11-3z"/><path class=c5 d="M773 3034l12-3 5 6-11-23z"/><path fill="url(#q19_24)" d="M647 2961l12 43 6 21-11-21z"/><path fill="url(#q16_20)" d="M842 3028l10 43 6-47-12 7z"/><path class=c7 d="M620 3019l11-14 6 20-12 4z"/><path class=c3 d="M591 3034l12-7 6 18-12-18z"/><path class=c7 d="M745 3024l11-4 6 0-12-2z"/><path class=c6 d="M813 3027l12 9 5-25-12 23z"/><path class=c7 d="M716 3003l12 25 5 3-11-13z"/><path class=ca d="M688 3007l11 19 6-18-12-4z"/><path fill="url(#q19_24)" d="M785 3031l12-45 5-15-12 66z"/><path fill="url(#q16_20)" d="M852 3071l13-34 5-11-12-2z"/><path class=c8 d="M659 3004l12 29 5-15-11 7z"/><path fill="url(#q19_24)" d="M631 3005l11 8 5-52-10 64z"/><path class=c7 d="M893 3043l13-21 4 4-11-6z"/><path class=c4 d="M603 3027l11 18 6-26-11 26z"/><path class=c7 d="M756 3020l12-6 5 20-11-14z"/><path class=c6 d="M825 3036l11 4 6-12-12-17z"/><path class=bo d="M932 3085l11 12 5-1-12-5z"/><path class=c4 d="M865 3037l11 11 6-14-12-8z"/><path fill="url(#q20_24)" d="M797 2986l11 45 5-4-11-56z"/><path class=ca d="M699 3026l12-11 5-12-11 5z"/><path fill="url(#q18_20)" d="M906 3022l11 16 4 21-11-33z"/><path fill="url(#q20_24)" d="M642 3013l12 19 5-28-12-43z"/><path class=c6 d="M768 3014l11 23 6-6-12 3z"/><path fill="url(#q16_20)" d="M836 3040l12-11 4 42-10-43z"/><path class=c7 d="M614 3045l11-18 6-22-11 14z"/><path class=c6 d="M739 3039l12-8 5-11-11 4z"/><path class=c4 d="M876 3048l13-19 4 14-11-9z"/><path class=c5 d="M808 3031l12 14 5-9-12-9z"/><path class=ca d="M711 3015l11 1 6 12-12-25z"/><path fill="url(#q16_19)" d="M917 3038l11 38 4 9-11-26z"/><path fill="url(#q19_23)" d="M779 3037l12-16 6-35-12 45z"/><path fill="url(#q16_20)" d="M848 3029l12 4 5 4-13 34z"/><path class=c8 d="M654 3032l11-3 6 4-12-29z"/><path class=ca d="M625 3027l12-6 5-8-11-8z"/><path class=c8 d="M751 3031l12 8 5-25-12 6z"/><path class=c6 d="M889 3029l11 15 6-22-13 21z"/><path class=br d="M928 3076l11 20 4 1-11-12z"/><path class=c7 d="M722 3016l12 9 5 14-11-11z"/><path class=c6 d="M860 3033l12-8 4 23-11-11z"/><path class=c7 d="M694 3036l11 6 6-27-12 11z"/><path fill="url(#q20_23)" d="M791 3021l12 6 5 4-11-45z"/><path class=c9 d="M665 3029l12-9 5-7-11 20z"/><path class=c6 d="M900 3044l12-7 5 1-11-16z"/><path class=c9 d="M637 3021l11 2 6 9-12-19z"/><path class=c7 d="M763 3039l11-13 5 11-11-23z"/><path class=c4 d="M831 3050l12 2 5-23-12 11z"/><path class=c6 d="M734 3025l12 16 5-10-12 8z"/><path class=c6 d="M872 3025l12 20 5-16-13 19z"/><path class=c7 d="M803 3027l12 6 5 12-12-14z"/><path class=c8 d="M705 3042l12-2 5-24-11-1z"/><path fill="url(#q17_20)" d="M912 3037l11 30 5 9-11-38z"/><path class=ca d="M677 3020l11-8 6 24-12-23z"/><path class=c8 d="M774 3026l12 11 5-16-12 16z"/><path class=c9 d="M648 3023l11 1 6 5-11 3z"/><path class=c6 d="M843 3052l12-19 5 0-12-4z"/><path class=c6 d="M884 3045l12-2 4 1-11-15z"/><path class=c5 d="M815 3033l12 0 4 17-11-5z"/><path class=bu d="M923 3067l12 22 4 7-11-20z"/><path fill="url(#q20_23)" d="M717 3040l12-45 5 30-12-9z"/><path class=c9 d="M688 3012l12 7 5 23-11-6z"/><path class=c8 d="M855 3033l12 10 5-18-12 8z"/><path class=c7 d="M786 3037l12 13 5-23-12-6z"/><path class=c7 d="M659 3024l12 38 6-42-12 9z"/><path class=c6 d="M896 3043l12-6 4 0-12 7z"/><path class=c6 d="M757 3047l12-9 5-12-11 13z"/><path class=c5 d="M827 3033l11 9 5 10-12-2z"/><path fill="url(#q19_23)" d="M729 2995l11 58 6-12-12-16z"/><path class=c6 d="M867 3043l11 20 6-18-12-20z"/><path class=c7 d="M798 3050l11-10 6-7-12-6z"/><path class=c8 d="M700 3019l11 16 6 5-12 2z"/><path fill="url(#q18_22)" d="M671 3062l12-40 5-10-11 8z"/><path class=c4 d="M908 3037l11 23 4 7-11-30z"/><path class=c7 d="M769 3038l12 15 5-16-12-11z"/><path class=c5 d="M838 3042l12 16 5-25-12 19z"/><path class=c6 d="M740 3053l12-21 5 15-11-6z"/><path class=c8 d="M809 3040l12-1 6-6-12 0z"/><path fill="url(#q20_23)" d="M711 3035l12 0 6-40-12 45z"/><path class=by d="M919 3060l11 20 5 9-12-22z"/><path class=cd d="M683 3022l11 4 6-7-12-7z"/><path class=c7 d="M850 3058l12-21 5 6-12-10z"/><path class=c7 d="M890 3054l13-13 5-4-12 6z"/><path class=c7 d="M752 3032l12 7 5-1-12 9z"/><path class=c6 d="M821 3039l12 25 5-22-11-9z"/><path fill="url(#q19_23)" d="M723 3035l12 17 5 1-11-58z"/><path class=c6 d="M862 3037l12 5 4 21-11-20z"/><path class=c9 d="M694 3026l12 32 5-23-11-16z"/><path class=c6 d="M903 3041l11 17 5 2-11-23z"/><path class=c5 d="M764 3039l11 28 6-14-12-15z"/><path class=c5 d="M833 3064l12-30 5 24-12-16z"/><path class=c7 d="M735 3052l12-10 5-10-12 21z"/><path class=c6 d="M874 3042l12-4 4 16-12 9z"/><path class=c6 d="M804 3045l12 22 5-28-12 1z"/><path class=c8 d="M706 3058l12-20 5-3-12 0z"/><path class=c4 d="M775 3067l12-19 5 9-11-4z"/><path class=c6 d="M845 3034l11 32 6-29-12 21z"/><path class=c8 d="M747 3042l11 18 6-21-12-7z"/><path class=c6 d="M886 3038l11 35 6-32-13 13z"/><path class=c4 d="M816 3067l12-4 5 1-12-25z"/><path fill="url(#q17_21)" d="M718 3038l11 56 6-42-12-17z"/><path class=c7 d="M856 3066l13-10 5-14-12-5z"/><path class=c5 d="M787 3048l12 23 5-26-12 12z"/><path class=c6 d="M828 3063l12-8 5-21-12 30z"/><path fill="url(#q17_20)" d="M729 3094l12-26 6-26-12 10z"/><path class=c7 d="M869 3056l11 9 6-27-12 4z"/><path class=c6 d="M799 3071l12-36 5 32-12-22z"/><path fill="url(#q18_21)" d="M770 3072l12-36 5 12-12 19z"/><path class=c6 d="M840 3055l12 9 4 2-11-32z"/><path class=c6 d="M741 3068l12-22 5 14-11-18z"/><path class=c7 d="M880 3065l13-21 4 29-11-35z"/><path class=c6 d="M811 3035l12 20 5 8-12 4z"/><path class=c7 d="M782 3036l12 16 5 19-12-23z"/><path class=c5 d="M852 3064l12 0 5-8-13 10z"/><path class=c6 d="M893 3044l12 19 5-4-13 14z"/><path class=c6 d="M753 3046l12-3 5 29-12-12z"/><path class=c6 d="M823 3055l12 0 5 0-12 8z"/><path class=c7 d="M794 3052l12 8 5-25-12 36z"/><path class=c9 d="M765 3043l12 3 5-10-12 36z"/><path class=c8 d="M835 3055l12-10 5 19-12-9z"/><path class=c6 d="M875 3078l13-9 5-25-13 21z"/><path class=c8 d="M806 3060l11 5 6-10-12-20z"/><path class=ca d="M777 3046l11 15 6-9-12-16z"/><path class=c7 d="M847 3045l11 24 6-5-12 0z"/><path class=c7 d="M888 3069l12-2 5-4-12-19z"/><path class=c7 d="M817 3065l12 1 6-11-12 0z"/><path class=c6 d="M788 3061l12 22 6-23-12-8z"/><path class=c6 d="M900 3067l12 3 5-2-12-5z"/><path class=ca d="M829 3066l13-19 5-2-12 10z"/><path class=c7 d="M800 3083l13-36 4 18-11-5z"/><path class=ca d="M842 3047l12 3 4 19-11-24z"/><path class=c5 d="M882 3082l13-11 5-4-12 2z"/><path class=c7 d="M813 3047l11 39 5-20-12-1z"/><path class=c6 d="M854 3050l11 37 5-9-12-9z"/><path class=c7 d="M895 3071l12 3 5-4-12-3z"/><path class=c7 d="M824 3086l12-21 6-18-13 19z"/><path class=c5 d="M865 3087l13-33 4 28-12-4z"/><path class=cb d="M836 3065l13-7 5-8-12-3z"/><path class=c7 d="M878 3054l12 21 5-4-13 11z"/><path class=ca d="M849 3058l12 1 4 28-11-37z"/><path class=c8 d="M861 3059l11 23 6-28-13 33z"/><path class=c8 d="M872 3082l13-3 5-4-12-21z"/></g><line x1="113.7" y1="1618.7" x2="443.8" y2="1697.6" stroke="#222" stroke-width="1.4"/><line x1="443.8" y1="1697.6" x2="565.9" y2="1543.6" stroke="#222" stroke-width="1.4"/><g stroke="#222" stroke-width="1.2"><line x1="89.7" y1="1314.7" x2="86.2" y2="1316.2" /><line x1="93.4" y1="1361.8" x2="89.9" y2="1363.3" /><line x1="97.1" y1="1407.6" x2="93.6" y2="1409.1" /><line x1="100.6" y1="1452.1" x2="97.1" y2="1453.6" /><line x1="104.0" y1="1495.4" x2="100.5" y2="1496.9" /><line x1="107.3" y1="1537.6" x2="103.8" y2="1539.1" /><line x1="110.6" y1="1578.7" x2="107.1" y2="1580.2" /><line x1="113.7" y1="1618.7" x2="110.2" y2="1620.2" /><line x1="155.1" y1="1628.6" x2="153.6" y2="1632.6" /><line x1="217.2" y1="1643.4" x2="215.7" y2="1647.4" /><line x1="281.4" y1="1658.8" x2="279.9" y2="1662.8" /><line x1="347.8" y1="1674.7" x2="346.3" y2="1678.7" /><line x1="416.5" y1="1691.1" x2="415.0" y2="1695.1" /><line x1="475.1" y1="1658.1" x2="479.1" y2="1659.6" /><line x1="503.8" y1="1621.9" x2="507.8" y2="1623.4" /><line x1="530.4" y1="1588.4" x2="534.4" y2="1589.9" /><line x1="555.0" y1="1557.4" x2="559.0" y2="1558.9" /></g><text x="8.6" y="1242.6" font-size="33.5" text-anchor="start" font-weight="bold">C</text><text x="81.7" y="1324.5" font-size="16.0" text-anchor="end" font-weight="normal">8000</text><text x="85.4" y="1371.5" font-size="16.0" text-anchor="end" font-weight="normal">6000</text><text x="89.1" y="1417.3" font-size="16.0" text-anchor="end" font-weight="normal">4000</text><text x="92.6" y="1461.8" font-size="16.0" text-anchor="end" font-weight="normal">2000</text><text x="96.0" y="1505.1" font-size="16.0" text-anchor="end" font-weight="normal">0</text><text x="99.3" y="1547.3" font-size="16.0" text-anchor="end" font-weight="normal">-2000</text><text x="102.6" y="1588.4" font-size="16.0" text-anchor="end" font-weight="normal">-4000</text><text x="105.7" y="1628.4" font-size="16.0" text-anchor="end" font-weight="normal">-6000</text><text x="136.1" y="1650.1" font-size="16.0" text-anchor="middle" font-weight="normal">250</text><text x="199.5" y="1665.3" font-size="16.0" text-anchor="middle" font-weight="normal">200</text><text x="264.5" y="1680.6" font-size="16.0" text-anchor="middle" font-weight="normal">150</text><text x="334.5" y="1697.8" font-size="16.0" text-anchor="middle" font-weight="normal">100</text><text x="402.0" y="1713.1" font-size="16.0" text-anchor="middle" font-weight="normal">50</text><text x="485.4" y="1668.4" font-size="15.3" text-anchor="start" font-weight="normal">10000</text><text x="511.7" y="1631.8" font-size="15.3" text-anchor="start" font-weight="normal">20000</text><text x="537.3" y="1599.7" font-size="15.3" text-anchor="start" font-weight="normal">30000</text><text x="561.0" y="1569.0" font-size="15.3" text-anchor="start" font-weight="normal">40000</text><text x="42.3" y="1474.3" font-size="18.5" text-anchor="middle" font-weight="normal" transform="rotate(-90.00 42.3 1474.3)">ETP (nM*min)</text><text x="199.5" y="1703.7" font-size="19.0" text-anchor="start" font-weight="normal" transform="rotate(12.70 199.5 1703.7)">Prothrombin (%)</text><text x="495.7" y="1759.4" font-size="18.8" text-anchor="start" font-weight="normal" transform="rotate(-51.20 495.7 1759.4)">Anti-spike protein antibody titer (U/mL)</text></svg></body></html>
